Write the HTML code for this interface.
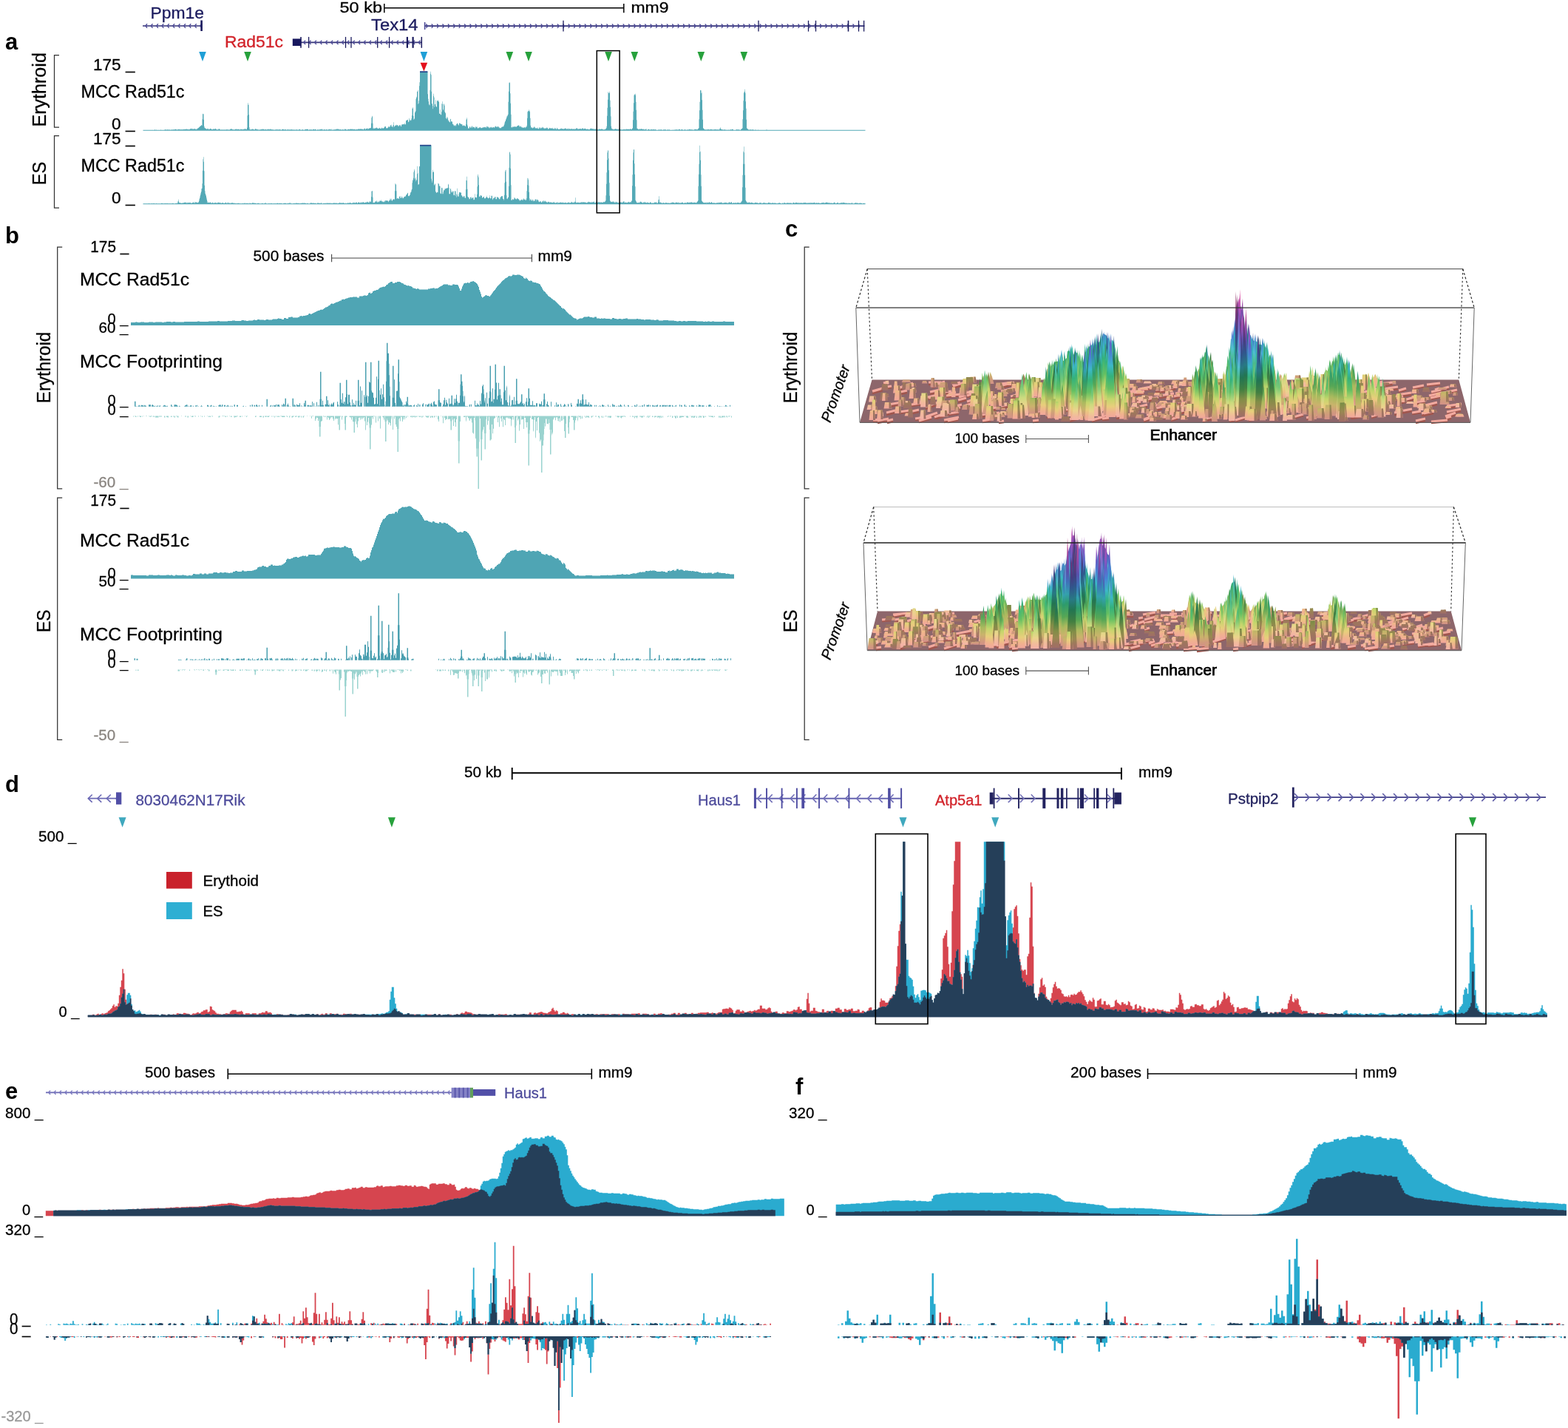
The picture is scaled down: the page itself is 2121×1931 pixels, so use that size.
<!DOCTYPE html>
<html><head><meta charset="utf-8"><title>Figure</title>
<style>html,body{margin:0;padding:0;background:#fff}svg{display:block}text{font-family:"Liberation Sans", sans-serif}</style>
</head><body>
<svg width="2121" height="1931" viewBox="0 0 2121 1931">
<defs><linearGradient id="g1a" x1="0" y1="1" x2="0" y2="0"><stop offset="0.00" stop-color="#a06e67"/><stop offset="0.67" stop-color="#9e755e"/><stop offset="1.00" stop-color="#9c7c59"/></linearGradient>
<linearGradient id="g1b" x1="0" y1="1" x2="0" y2="0"><stop offset="0.00" stop-color="#d39188"/><stop offset="0.67" stop-color="#d19b7c"/><stop offset="1.00" stop-color="#cea476"/></linearGradient>
<linearGradient id="g1c" x1="0" y1="1" x2="0" y2="0"><stop offset="0.00" stop-color="#f2a79c"/><stop offset="0.67" stop-color="#f0b28e"/><stop offset="1.00" stop-color="#edbc87"/></linearGradient>
<linearGradient id="g1d" x1="0" y1="1" x2="0" y2="0"><stop offset="0.00" stop-color="#f4b2a8"/><stop offset="0.67" stop-color="#f2bb9c"/><stop offset="1.00" stop-color="#efc496"/></linearGradient>
<linearGradient id="g2a" x1="0" y1="1" x2="0" y2="0"><stop offset="0.00" stop-color="#a06e67"/><stop offset="0.33" stop-color="#9e755e"/><stop offset="0.78" stop-color="#998852"/><stop offset="1.00" stop-color="#908a4e"/></linearGradient>
<linearGradient id="g2b" x1="0" y1="1" x2="0" y2="0"><stop offset="0.00" stop-color="#d39188"/><stop offset="0.33" stop-color="#d19b7c"/><stop offset="0.78" stop-color="#cab36c"/><stop offset="1.00" stop-color="#bdb666"/></linearGradient>
<linearGradient id="g2c" x1="0" y1="1" x2="0" y2="0"><stop offset="0.00" stop-color="#f2a79c"/><stop offset="0.33" stop-color="#f0b28e"/><stop offset="0.78" stop-color="#e8ce7c"/><stop offset="1.00" stop-color="#dad176"/></linearGradient>
<linearGradient id="g2d" x1="0" y1="1" x2="0" y2="0"><stop offset="0.00" stop-color="#f4b2a8"/><stop offset="0.33" stop-color="#f2bb9c"/><stop offset="0.78" stop-color="#ebd48c"/><stop offset="1.00" stop-color="#ded786"/></linearGradient>
<linearGradient id="g3a" x1="0" y1="1" x2="0" y2="0"><stop offset="0.00" stop-color="#a06e67"/><stop offset="0.22" stop-color="#9e755e"/><stop offset="0.52" stop-color="#998852"/><stop offset="0.89" stop-color="#818d47"/><stop offset="1.00" stop-color="#748a46"/></linearGradient>
<linearGradient id="g3b" x1="0" y1="1" x2="0" y2="0"><stop offset="0.00" stop-color="#d39188"/><stop offset="0.22" stop-color="#d19b7c"/><stop offset="0.52" stop-color="#cab36c"/><stop offset="0.89" stop-color="#abba5e"/><stop offset="1.00" stop-color="#99b65c"/></linearGradient>
<linearGradient id="g3c" x1="0" y1="1" x2="0" y2="0"><stop offset="0.00" stop-color="#f2a79c"/><stop offset="0.22" stop-color="#f0b28e"/><stop offset="0.52" stop-color="#e8ce7c"/><stop offset="0.89" stop-color="#c4d66c"/><stop offset="1.00" stop-color="#afd16a"/></linearGradient>
<linearGradient id="g3d" x1="0" y1="1" x2="0" y2="0"><stop offset="0.00" stop-color="#f4b2a8"/><stop offset="0.22" stop-color="#f2bb9c"/><stop offset="0.52" stop-color="#ebd48c"/><stop offset="0.89" stop-color="#cbdb7e"/><stop offset="1.00" stop-color="#b9d77c"/></linearGradient>
<linearGradient id="g4a" x1="0" y1="1" x2="0" y2="0"><stop offset="0.00" stop-color="#a06e67"/><stop offset="0.17" stop-color="#9e755e"/><stop offset="0.39" stop-color="#998852"/><stop offset="0.67" stop-color="#818d47"/><stop offset="1.00" stop-color="#4b8142"/></linearGradient>
<linearGradient id="g4b" x1="0" y1="1" x2="0" y2="0"><stop offset="0.00" stop-color="#d39188"/><stop offset="0.17" stop-color="#d19b7c"/><stop offset="0.39" stop-color="#cab36c"/><stop offset="0.67" stop-color="#abba5e"/><stop offset="1.00" stop-color="#63aa57"/></linearGradient>
<linearGradient id="g4c" x1="0" y1="1" x2="0" y2="0"><stop offset="0.00" stop-color="#f2a79c"/><stop offset="0.17" stop-color="#f0b28e"/><stop offset="0.39" stop-color="#e8ce7c"/><stop offset="0.67" stop-color="#c4d66c"/><stop offset="1.00" stop-color="#72c363"/></linearGradient>
<linearGradient id="g4d" x1="0" y1="1" x2="0" y2="0"><stop offset="0.00" stop-color="#f4b2a8"/><stop offset="0.17" stop-color="#f2bb9c"/><stop offset="0.39" stop-color="#ebd48c"/><stop offset="0.67" stop-color="#cbdb7e"/><stop offset="1.00" stop-color="#83ca76"/></linearGradient>
<linearGradient id="g5a" x1="0" y1="1" x2="0" y2="0"><stop offset="0.00" stop-color="#a06e67"/><stop offset="0.13" stop-color="#9e755e"/><stop offset="0.31" stop-color="#998852"/><stop offset="0.53" stop-color="#818d47"/><stop offset="0.84" stop-color="#427f41"/><stop offset="1.00" stop-color="#347b48"/></linearGradient>
<linearGradient id="g5b" x1="0" y1="1" x2="0" y2="0"><stop offset="0.00" stop-color="#d39188"/><stop offset="0.13" stop-color="#d19b7c"/><stop offset="0.31" stop-color="#cab36c"/><stop offset="0.53" stop-color="#abba5e"/><stop offset="0.84" stop-color="#57a755"/><stop offset="1.00" stop-color="#45a25f"/></linearGradient>
<linearGradient id="g5c" x1="0" y1="1" x2="0" y2="0"><stop offset="0.00" stop-color="#f2a79c"/><stop offset="0.13" stop-color="#f0b28e"/><stop offset="0.31" stop-color="#e8ce7c"/><stop offset="0.53" stop-color="#c4d66c"/><stop offset="0.84" stop-color="#64c062"/><stop offset="1.00" stop-color="#4fba6d"/></linearGradient>
<linearGradient id="g5d" x1="0" y1="1" x2="0" y2="0"><stop offset="0.00" stop-color="#f4b2a8"/><stop offset="0.13" stop-color="#f2bb9c"/><stop offset="0.31" stop-color="#ebd48c"/><stop offset="0.53" stop-color="#cbdb7e"/><stop offset="0.84" stop-color="#77c875"/><stop offset="1.00" stop-color="#64c27f"/></linearGradient>
<linearGradient id="g6a" x1="0" y1="1" x2="0" y2="0"><stop offset="0.00" stop-color="#a06e67"/><stop offset="0.11" stop-color="#9e755e"/><stop offset="0.26" stop-color="#998852"/><stop offset="0.44" stop-color="#818d47"/><stop offset="0.70" stop-color="#427f41"/><stop offset="1.00" stop-color="#227552"/></linearGradient>
<linearGradient id="g6b" x1="0" y1="1" x2="0" y2="0"><stop offset="0.00" stop-color="#d39188"/><stop offset="0.11" stop-color="#d19b7c"/><stop offset="0.26" stop-color="#cab36c"/><stop offset="0.44" stop-color="#abba5e"/><stop offset="0.70" stop-color="#57a755"/><stop offset="1.00" stop-color="#2d9b6c"/></linearGradient>
<linearGradient id="g6c" x1="0" y1="1" x2="0" y2="0"><stop offset="0.00" stop-color="#f2a79c"/><stop offset="0.11" stop-color="#f0b28e"/><stop offset="0.26" stop-color="#e8ce7c"/><stop offset="0.44" stop-color="#c4d66c"/><stop offset="0.70" stop-color="#64c062"/><stop offset="1.00" stop-color="#34b27c"/></linearGradient>
<linearGradient id="g6d" x1="0" y1="1" x2="0" y2="0"><stop offset="0.00" stop-color="#f4b2a8"/><stop offset="0.11" stop-color="#f2bb9c"/><stop offset="0.26" stop-color="#ebd48c"/><stop offset="0.44" stop-color="#cbdb7e"/><stop offset="0.70" stop-color="#77c875"/><stop offset="1.00" stop-color="#4cbb8c"/></linearGradient>
<linearGradient id="g7a" x1="0" y1="1" x2="0" y2="0"><stop offset="0.00" stop-color="#a06e67"/><stop offset="0.10" stop-color="#9e755e"/><stop offset="0.22" stop-color="#998852"/><stop offset="0.38" stop-color="#818d47"/><stop offset="0.60" stop-color="#427f41"/><stop offset="0.86" stop-color="#227552"/><stop offset="1.00" stop-color="#267872"/></linearGradient>
<linearGradient id="g7b" x1="0" y1="1" x2="0" y2="0"><stop offset="0.00" stop-color="#d39188"/><stop offset="0.10" stop-color="#d19b7c"/><stop offset="0.22" stop-color="#cab36c"/><stop offset="0.38" stop-color="#abba5e"/><stop offset="0.60" stop-color="#57a755"/><stop offset="0.86" stop-color="#2d9b6c"/><stop offset="1.00" stop-color="#329e96"/></linearGradient>
<linearGradient id="g7c" x1="0" y1="1" x2="0" y2="0"><stop offset="0.00" stop-color="#f2a79c"/><stop offset="0.10" stop-color="#f0b28e"/><stop offset="0.22" stop-color="#e8ce7c"/><stop offset="0.38" stop-color="#c4d66c"/><stop offset="0.60" stop-color="#64c062"/><stop offset="0.86" stop-color="#34b27c"/><stop offset="1.00" stop-color="#39b6ad"/></linearGradient>
<linearGradient id="g7d" x1="0" y1="1" x2="0" y2="0"><stop offset="0.00" stop-color="#f4b2a8"/><stop offset="0.10" stop-color="#f2bb9c"/><stop offset="0.22" stop-color="#ebd48c"/><stop offset="0.38" stop-color="#cbdb7e"/><stop offset="0.60" stop-color="#77c875"/><stop offset="0.86" stop-color="#4cbb8c"/><stop offset="1.00" stop-color="#51bfb7"/></linearGradient>
<linearGradient id="g8a" x1="0" y1="1" x2="0" y2="0"><stop offset="0.00" stop-color="#a06e67"/><stop offset="0.08" stop-color="#9e755e"/><stop offset="0.19" stop-color="#998852"/><stop offset="0.33" stop-color="#818d47"/><stop offset="0.53" stop-color="#427f41"/><stop offset="0.75" stop-color="#227552"/><stop offset="0.94" stop-color="#287984"/><stop offset="1.00" stop-color="#2a7186"/></linearGradient>
<linearGradient id="g8b" x1="0" y1="1" x2="0" y2="0"><stop offset="0.00" stop-color="#d39188"/><stop offset="0.08" stop-color="#d19b7c"/><stop offset="0.19" stop-color="#cab36c"/><stop offset="0.33" stop-color="#abba5e"/><stop offset="0.53" stop-color="#57a755"/><stop offset="0.75" stop-color="#2d9b6c"/><stop offset="0.94" stop-color="#34a0ae"/><stop offset="1.00" stop-color="#3794b1"/></linearGradient>
<linearGradient id="g8c" x1="0" y1="1" x2="0" y2="0"><stop offset="0.00" stop-color="#f2a79c"/><stop offset="0.08" stop-color="#f0b28e"/><stop offset="0.19" stop-color="#e8ce7c"/><stop offset="0.33" stop-color="#c4d66c"/><stop offset="0.53" stop-color="#64c062"/><stop offset="0.75" stop-color="#34b27c"/><stop offset="0.94" stop-color="#3cb8c8"/><stop offset="1.00" stop-color="#3faacb"/></linearGradient>
<linearGradient id="g8d" x1="0" y1="1" x2="0" y2="0"><stop offset="0.00" stop-color="#f4b2a8"/><stop offset="0.08" stop-color="#f2bb9c"/><stop offset="0.19" stop-color="#ebd48c"/><stop offset="0.33" stop-color="#cbdb7e"/><stop offset="0.53" stop-color="#77c875"/><stop offset="0.75" stop-color="#4cbb8c"/><stop offset="0.94" stop-color="#53c1cf"/><stop offset="1.00" stop-color="#56b5d1"/></linearGradient>
<linearGradient id="g9a" x1="0" y1="1" x2="0" y2="0"><stop offset="0.00" stop-color="#a06e67"/><stop offset="0.07" stop-color="#9e755e"/><stop offset="0.17" stop-color="#998852"/><stop offset="0.30" stop-color="#818d47"/><stop offset="0.47" stop-color="#427f41"/><stop offset="0.67" stop-color="#227552"/><stop offset="0.84" stop-color="#287984"/><stop offset="1.00" stop-color="#2e5c8a"/></linearGradient>
<linearGradient id="g9b" x1="0" y1="1" x2="0" y2="0"><stop offset="0.00" stop-color="#d39188"/><stop offset="0.07" stop-color="#d19b7c"/><stop offset="0.17" stop-color="#cab36c"/><stop offset="0.30" stop-color="#abba5e"/><stop offset="0.47" stop-color="#57a755"/><stop offset="0.67" stop-color="#2d9b6c"/><stop offset="0.84" stop-color="#34a0ae"/><stop offset="1.00" stop-color="#3d7ab6"/></linearGradient>
<linearGradient id="g9c" x1="0" y1="1" x2="0" y2="0"><stop offset="0.00" stop-color="#f2a79c"/><stop offset="0.07" stop-color="#f0b28e"/><stop offset="0.17" stop-color="#e8ce7c"/><stop offset="0.30" stop-color="#c4d66c"/><stop offset="0.47" stop-color="#64c062"/><stop offset="0.67" stop-color="#34b27c"/><stop offset="0.84" stop-color="#3cb8c8"/><stop offset="1.00" stop-color="#468cd2"/></linearGradient>
<linearGradient id="g9d" x1="0" y1="1" x2="0" y2="0"><stop offset="0.00" stop-color="#f4b2a8"/><stop offset="0.07" stop-color="#f2bb9c"/><stop offset="0.17" stop-color="#ebd48c"/><stop offset="0.30" stop-color="#cbdb7e"/><stop offset="0.47" stop-color="#77c875"/><stop offset="0.67" stop-color="#4cbb8c"/><stop offset="0.84" stop-color="#53c1cf"/><stop offset="1.00" stop-color="#5c9ad7"/></linearGradient>
<linearGradient id="g10a" x1="0" y1="1" x2="0" y2="0"><stop offset="0.00" stop-color="#a06e67"/><stop offset="0.07" stop-color="#9e755e"/><stop offset="0.16" stop-color="#998852"/><stop offset="0.27" stop-color="#818d47"/><stop offset="0.42" stop-color="#427f41"/><stop offset="0.60" stop-color="#227552"/><stop offset="0.76" stop-color="#287984"/><stop offset="0.93" stop-color="#30568c"/><stop offset="1.00" stop-color="#394b87"/></linearGradient>
<linearGradient id="g10b" x1="0" y1="1" x2="0" y2="0"><stop offset="0.00" stop-color="#d39188"/><stop offset="0.07" stop-color="#d19b7c"/><stop offset="0.16" stop-color="#cab36c"/><stop offset="0.27" stop-color="#abba5e"/><stop offset="0.42" stop-color="#57a755"/><stop offset="0.60" stop-color="#2d9b6c"/><stop offset="0.76" stop-color="#34a0ae"/><stop offset="0.93" stop-color="#3f71b8"/><stop offset="1.00" stop-color="#4b63b2"/></linearGradient>
<linearGradient id="g10c" x1="0" y1="1" x2="0" y2="0"><stop offset="0.00" stop-color="#f2a79c"/><stop offset="0.07" stop-color="#f0b28e"/><stop offset="0.16" stop-color="#e8ce7c"/><stop offset="0.27" stop-color="#c4d66c"/><stop offset="0.42" stop-color="#64c062"/><stop offset="0.60" stop-color="#34b27c"/><stop offset="0.76" stop-color="#3cb8c8"/><stop offset="0.93" stop-color="#4882d4"/><stop offset="1.00" stop-color="#5672cd"/></linearGradient>
<linearGradient id="g10d" x1="0" y1="1" x2="0" y2="0"><stop offset="0.00" stop-color="#f4b2a8"/><stop offset="0.07" stop-color="#f2bb9c"/><stop offset="0.16" stop-color="#ebd48c"/><stop offset="0.27" stop-color="#cbdb7e"/><stop offset="0.42" stop-color="#77c875"/><stop offset="0.60" stop-color="#4cbb8c"/><stop offset="0.76" stop-color="#53c1cf"/><stop offset="0.93" stop-color="#5e91d9"/><stop offset="1.00" stop-color="#6a83d3"/></linearGradient>
<linearGradient id="g11a" x1="0" y1="1" x2="0" y2="0"><stop offset="0.00" stop-color="#a06e67"/><stop offset="0.06" stop-color="#9e755e"/><stop offset="0.14" stop-color="#998852"/><stop offset="0.24" stop-color="#818d47"/><stop offset="0.38" stop-color="#427f41"/><stop offset="0.55" stop-color="#227552"/><stop offset="0.69" stop-color="#287984"/><stop offset="0.85" stop-color="#30568c"/><stop offset="1.00" stop-color="#473c81"/></linearGradient>
<linearGradient id="g11b" x1="0" y1="1" x2="0" y2="0"><stop offset="0.00" stop-color="#d39188"/><stop offset="0.06" stop-color="#d19b7c"/><stop offset="0.14" stop-color="#cab36c"/><stop offset="0.24" stop-color="#abba5e"/><stop offset="0.38" stop-color="#57a755"/><stop offset="0.55" stop-color="#2d9b6c"/><stop offset="0.69" stop-color="#34a0ae"/><stop offset="0.85" stop-color="#3f71b8"/><stop offset="1.00" stop-color="#5e4faa"/></linearGradient>
<linearGradient id="g11c" x1="0" y1="1" x2="0" y2="0"><stop offset="0.00" stop-color="#f2a79c"/><stop offset="0.06" stop-color="#f0b28e"/><stop offset="0.14" stop-color="#e8ce7c"/><stop offset="0.24" stop-color="#c4d66c"/><stop offset="0.38" stop-color="#64c062"/><stop offset="0.55" stop-color="#34b27c"/><stop offset="0.69" stop-color="#3cb8c8"/><stop offset="0.85" stop-color="#4882d4"/><stop offset="1.00" stop-color="#6c5bc4"/></linearGradient>
<linearGradient id="g11d" x1="0" y1="1" x2="0" y2="0"><stop offset="0.00" stop-color="#f4b2a8"/><stop offset="0.06" stop-color="#f2bb9c"/><stop offset="0.14" stop-color="#ebd48c"/><stop offset="0.24" stop-color="#cbdb7e"/><stop offset="0.38" stop-color="#77c875"/><stop offset="0.55" stop-color="#4cbb8c"/><stop offset="0.69" stop-color="#53c1cf"/><stop offset="0.85" stop-color="#5e91d9"/><stop offset="1.00" stop-color="#7d6fcb"/></linearGradient>
<linearGradient id="g12a" x1="0" y1="1" x2="0" y2="0"><stop offset="0.00" stop-color="#a06e67"/><stop offset="0.06" stop-color="#9e755e"/><stop offset="0.13" stop-color="#998852"/><stop offset="0.22" stop-color="#818d47"/><stop offset="0.35" stop-color="#427f41"/><stop offset="0.50" stop-color="#227552"/><stop offset="0.63" stop-color="#287984"/><stop offset="0.78" stop-color="#30568c"/><stop offset="0.91" stop-color="#453d81"/><stop offset="1.00" stop-color="#5c397e"/></linearGradient>
<linearGradient id="g12b" x1="0" y1="1" x2="0" y2="0"><stop offset="0.00" stop-color="#d39188"/><stop offset="0.06" stop-color="#d19b7c"/><stop offset="0.13" stop-color="#cab36c"/><stop offset="0.22" stop-color="#abba5e"/><stop offset="0.35" stop-color="#57a755"/><stop offset="0.50" stop-color="#2d9b6c"/><stop offset="0.63" stop-color="#34a0ae"/><stop offset="0.78" stop-color="#3f71b8"/><stop offset="0.91" stop-color="#5a50ab"/><stop offset="1.00" stop-color="#794ba6"/></linearGradient>
<linearGradient id="g12c" x1="0" y1="1" x2="0" y2="0"><stop offset="0.00" stop-color="#f2a79c"/><stop offset="0.06" stop-color="#f0b28e"/><stop offset="0.13" stop-color="#e8ce7c"/><stop offset="0.22" stop-color="#c4d66c"/><stop offset="0.35" stop-color="#64c062"/><stop offset="0.50" stop-color="#34b27c"/><stop offset="0.63" stop-color="#3cb8c8"/><stop offset="0.78" stop-color="#4882d4"/><stop offset="0.91" stop-color="#685cc4"/><stop offset="1.00" stop-color="#8b56bf"/></linearGradient>
<linearGradient id="g12d" x1="0" y1="1" x2="0" y2="0"><stop offset="0.00" stop-color="#f4b2a8"/><stop offset="0.06" stop-color="#f2bb9c"/><stop offset="0.13" stop-color="#ebd48c"/><stop offset="0.22" stop-color="#cbdb7e"/><stop offset="0.35" stop-color="#77c875"/><stop offset="0.50" stop-color="#4cbb8c"/><stop offset="0.63" stop-color="#53c1cf"/><stop offset="0.78" stop-color="#5e91d9"/><stop offset="0.91" stop-color="#7a70cb"/><stop offset="1.00" stop-color="#996ac7"/></linearGradient>
<linearGradient id="g13a" x1="0" y1="1" x2="0" y2="0"><stop offset="0.00" stop-color="#a06e67"/><stop offset="0.05" stop-color="#9e755e"/><stop offset="0.12" stop-color="#998852"/><stop offset="0.21" stop-color="#818d47"/><stop offset="0.32" stop-color="#427f41"/><stop offset="0.46" stop-color="#227552"/><stop offset="0.58" stop-color="#287984"/><stop offset="0.72" stop-color="#30568c"/><stop offset="0.84" stop-color="#453d81"/><stop offset="0.97" stop-color="#6a367c"/><stop offset="1.00" stop-color="#70377a"/></linearGradient>
<linearGradient id="g13b" x1="0" y1="1" x2="0" y2="0"><stop offset="0.00" stop-color="#d39188"/><stop offset="0.05" stop-color="#d19b7c"/><stop offset="0.12" stop-color="#cab36c"/><stop offset="0.21" stop-color="#abba5e"/><stop offset="0.32" stop-color="#57a755"/><stop offset="0.46" stop-color="#2d9b6c"/><stop offset="0.58" stop-color="#34a0ae"/><stop offset="0.72" stop-color="#3f71b8"/><stop offset="0.84" stop-color="#5a50ab"/><stop offset="0.97" stop-color="#8b47a4"/><stop offset="1.00" stop-color="#9449a1"/></linearGradient>
<linearGradient id="g13c" x1="0" y1="1" x2="0" y2="0"><stop offset="0.00" stop-color="#f2a79c"/><stop offset="0.05" stop-color="#f0b28e"/><stop offset="0.12" stop-color="#e8ce7c"/><stop offset="0.21" stop-color="#c4d66c"/><stop offset="0.32" stop-color="#64c062"/><stop offset="0.46" stop-color="#34b27c"/><stop offset="0.58" stop-color="#3cb8c8"/><stop offset="0.72" stop-color="#4882d4"/><stop offset="0.84" stop-color="#685cc4"/><stop offset="0.97" stop-color="#a052bc"/><stop offset="1.00" stop-color="#aa54b9"/></linearGradient>
<linearGradient id="g13d" x1="0" y1="1" x2="0" y2="0"><stop offset="0.00" stop-color="#f4b2a8"/><stop offset="0.05" stop-color="#f2bb9c"/><stop offset="0.12" stop-color="#ebd48c"/><stop offset="0.21" stop-color="#cbdb7e"/><stop offset="0.32" stop-color="#77c875"/><stop offset="0.46" stop-color="#4cbb8c"/><stop offset="0.58" stop-color="#53c1cf"/><stop offset="0.72" stop-color="#5e91d9"/><stop offset="0.84" stop-color="#7a70cb"/><stop offset="0.97" stop-color="#ab67c4"/><stop offset="1.00" stop-color="#b468c2"/></linearGradient>
<linearGradient id="g14a" x1="0" y1="1" x2="0" y2="0"><stop offset="0.00" stop-color="#a06e67"/><stop offset="0.05" stop-color="#9e755e"/><stop offset="0.11" stop-color="#998852"/><stop offset="0.19" stop-color="#818d47"/><stop offset="0.30" stop-color="#427f41"/><stop offset="0.43" stop-color="#227552"/><stop offset="0.54" stop-color="#287984"/><stop offset="0.67" stop-color="#30568c"/><stop offset="0.78" stop-color="#453d81"/><stop offset="0.90" stop-color="#6a367c"/><stop offset="1.00" stop-color="#843a75"/></linearGradient>
<linearGradient id="g14b" x1="0" y1="1" x2="0" y2="0"><stop offset="0.00" stop-color="#d39188"/><stop offset="0.05" stop-color="#d19b7c"/><stop offset="0.11" stop-color="#cab36c"/><stop offset="0.19" stop-color="#abba5e"/><stop offset="0.30" stop-color="#57a755"/><stop offset="0.43" stop-color="#2d9b6c"/><stop offset="0.54" stop-color="#34a0ae"/><stop offset="0.67" stop-color="#3f71b8"/><stop offset="0.78" stop-color="#5a50ab"/><stop offset="0.90" stop-color="#8b47a4"/><stop offset="1.00" stop-color="#ae4d9a"/></linearGradient>
<linearGradient id="g14c" x1="0" y1="1" x2="0" y2="0"><stop offset="0.00" stop-color="#f2a79c"/><stop offset="0.05" stop-color="#f0b28e"/><stop offset="0.11" stop-color="#e8ce7c"/><stop offset="0.19" stop-color="#c4d66c"/><stop offset="0.30" stop-color="#64c062"/><stop offset="0.43" stop-color="#34b27c"/><stop offset="0.54" stop-color="#3cb8c8"/><stop offset="0.67" stop-color="#4882d4"/><stop offset="0.78" stop-color="#685cc4"/><stop offset="0.90" stop-color="#a052bc"/><stop offset="1.00" stop-color="#c858b1"/></linearGradient>
<linearGradient id="g14d" x1="0" y1="1" x2="0" y2="0"><stop offset="0.00" stop-color="#f4b2a8"/><stop offset="0.05" stop-color="#f2bb9c"/><stop offset="0.11" stop-color="#ebd48c"/><stop offset="0.19" stop-color="#cbdb7e"/><stop offset="0.30" stop-color="#77c875"/><stop offset="0.43" stop-color="#4cbb8c"/><stop offset="0.54" stop-color="#53c1cf"/><stop offset="0.67" stop-color="#5e91d9"/><stop offset="0.78" stop-color="#7a70cb"/><stop offset="0.90" stop-color="#ab67c4"/><stop offset="1.00" stop-color="#ce6cbb"/></linearGradient>
<linearGradient id="g15a" x1="0" y1="1" x2="0" y2="0"><stop offset="0.00" stop-color="#a06e67"/><stop offset="0.04" stop-color="#9e755e"/><stop offset="0.10" stop-color="#998852"/><stop offset="0.18" stop-color="#818d47"/><stop offset="0.28" stop-color="#427f41"/><stop offset="0.40" stop-color="#227552"/><stop offset="0.50" stop-color="#287984"/><stop offset="0.62" stop-color="#30568c"/><stop offset="0.73" stop-color="#453d81"/><stop offset="0.84" stop-color="#6a367c"/><stop offset="1.00" stop-color="#953d70"/></linearGradient>
<linearGradient id="g15b" x1="0" y1="1" x2="0" y2="0"><stop offset="0.00" stop-color="#d39188"/><stop offset="0.04" stop-color="#d19b7c"/><stop offset="0.10" stop-color="#cab36c"/><stop offset="0.18" stop-color="#abba5e"/><stop offset="0.28" stop-color="#57a755"/><stop offset="0.40" stop-color="#2d9b6c"/><stop offset="0.50" stop-color="#34a0ae"/><stop offset="0.62" stop-color="#3f71b8"/><stop offset="0.73" stop-color="#5a50ab"/><stop offset="0.84" stop-color="#8b47a4"/><stop offset="1.00" stop-color="#c55094"/></linearGradient>
<linearGradient id="g15c" x1="0" y1="1" x2="0" y2="0"><stop offset="0.00" stop-color="#f2a79c"/><stop offset="0.04" stop-color="#f0b28e"/><stop offset="0.10" stop-color="#e8ce7c"/><stop offset="0.18" stop-color="#c4d66c"/><stop offset="0.28" stop-color="#64c062"/><stop offset="0.40" stop-color="#34b27c"/><stop offset="0.50" stop-color="#3cb8c8"/><stop offset="0.62" stop-color="#4882d4"/><stop offset="0.73" stop-color="#685cc4"/><stop offset="0.84" stop-color="#a052bc"/><stop offset="1.00" stop-color="#e25caa"/></linearGradient>
<linearGradient id="g15d" x1="0" y1="1" x2="0" y2="0"><stop offset="0.00" stop-color="#f4b2a8"/><stop offset="0.04" stop-color="#f2bb9c"/><stop offset="0.10" stop-color="#ebd48c"/><stop offset="0.18" stop-color="#cbdb7e"/><stop offset="0.28" stop-color="#77c875"/><stop offset="0.40" stop-color="#4cbb8c"/><stop offset="0.50" stop-color="#53c1cf"/><stop offset="0.62" stop-color="#5e91d9"/><stop offset="0.73" stop-color="#7a70cb"/><stop offset="0.84" stop-color="#ab67c4"/><stop offset="1.00" stop-color="#e570b4"/></linearGradient>
<linearGradient id="g16a" x1="0" y1="1" x2="0" y2="0"><stop offset="0.00" stop-color="#a06e67"/><stop offset="0.04" stop-color="#9e755e"/><stop offset="0.10" stop-color="#998852"/><stop offset="0.17" stop-color="#818d47"/><stop offset="0.26" stop-color="#427f41"/><stop offset="0.38" stop-color="#227552"/><stop offset="0.47" stop-color="#287984"/><stop offset="0.58" stop-color="#30568c"/><stop offset="0.68" stop-color="#453d81"/><stop offset="0.79" stop-color="#6a367c"/><stop offset="0.93" stop-color="#953d70"/><stop offset="1.00" stop-color="#953d70"/></linearGradient>
<linearGradient id="g16b" x1="0" y1="1" x2="0" y2="0"><stop offset="0.00" stop-color="#d39188"/><stop offset="0.04" stop-color="#d19b7c"/><stop offset="0.10" stop-color="#cab36c"/><stop offset="0.17" stop-color="#abba5e"/><stop offset="0.26" stop-color="#57a755"/><stop offset="0.38" stop-color="#2d9b6c"/><stop offset="0.47" stop-color="#34a0ae"/><stop offset="0.58" stop-color="#3f71b8"/><stop offset="0.68" stop-color="#5a50ab"/><stop offset="0.79" stop-color="#8b47a4"/><stop offset="0.93" stop-color="#c55094"/><stop offset="1.00" stop-color="#c55094"/></linearGradient>
<linearGradient id="g16c" x1="0" y1="1" x2="0" y2="0"><stop offset="0.00" stop-color="#f2a79c"/><stop offset="0.04" stop-color="#f0b28e"/><stop offset="0.10" stop-color="#e8ce7c"/><stop offset="0.17" stop-color="#c4d66c"/><stop offset="0.26" stop-color="#64c062"/><stop offset="0.38" stop-color="#34b27c"/><stop offset="0.47" stop-color="#3cb8c8"/><stop offset="0.58" stop-color="#4882d4"/><stop offset="0.68" stop-color="#685cc4"/><stop offset="0.79" stop-color="#a052bc"/><stop offset="0.93" stop-color="#e25caa"/><stop offset="1.00" stop-color="#e25caa"/></linearGradient>
<linearGradient id="g16d" x1="0" y1="1" x2="0" y2="0"><stop offset="0.00" stop-color="#f4b2a8"/><stop offset="0.04" stop-color="#f2bb9c"/><stop offset="0.10" stop-color="#ebd48c"/><stop offset="0.17" stop-color="#cbdb7e"/><stop offset="0.26" stop-color="#77c875"/><stop offset="0.38" stop-color="#4cbb8c"/><stop offset="0.47" stop-color="#53c1cf"/><stop offset="0.58" stop-color="#5e91d9"/><stop offset="0.68" stop-color="#7a70cb"/><stop offset="0.79" stop-color="#ab67c4"/><stop offset="0.93" stop-color="#e570b4"/><stop offset="1.00" stop-color="#e570b4"/></linearGradient>
<linearGradient id="g17a" x1="0" y1="1" x2="0" y2="0"><stop offset="0.00" stop-color="#a06e67"/><stop offset="0.04" stop-color="#9e755e"/><stop offset="0.09" stop-color="#998852"/><stop offset="0.16" stop-color="#818d47"/><stop offset="0.25" stop-color="#427f41"/><stop offset="0.35" stop-color="#227552"/><stop offset="0.44" stop-color="#287984"/><stop offset="0.55" stop-color="#30568c"/><stop offset="0.64" stop-color="#453d81"/><stop offset="0.75" stop-color="#6a367c"/><stop offset="0.88" stop-color="#953d70"/><stop offset="1.00" stop-color="#953d70"/></linearGradient>
<linearGradient id="g17b" x1="0" y1="1" x2="0" y2="0"><stop offset="0.00" stop-color="#d39188"/><stop offset="0.04" stop-color="#d19b7c"/><stop offset="0.09" stop-color="#cab36c"/><stop offset="0.16" stop-color="#abba5e"/><stop offset="0.25" stop-color="#57a755"/><stop offset="0.35" stop-color="#2d9b6c"/><stop offset="0.44" stop-color="#34a0ae"/><stop offset="0.55" stop-color="#3f71b8"/><stop offset="0.64" stop-color="#5a50ab"/><stop offset="0.75" stop-color="#8b47a4"/><stop offset="0.88" stop-color="#c55094"/><stop offset="1.00" stop-color="#c55094"/></linearGradient>
<linearGradient id="g17c" x1="0" y1="1" x2="0" y2="0"><stop offset="0.00" stop-color="#f2a79c"/><stop offset="0.04" stop-color="#f0b28e"/><stop offset="0.09" stop-color="#e8ce7c"/><stop offset="0.16" stop-color="#c4d66c"/><stop offset="0.25" stop-color="#64c062"/><stop offset="0.35" stop-color="#34b27c"/><stop offset="0.44" stop-color="#3cb8c8"/><stop offset="0.55" stop-color="#4882d4"/><stop offset="0.64" stop-color="#685cc4"/><stop offset="0.75" stop-color="#a052bc"/><stop offset="0.88" stop-color="#e25caa"/><stop offset="1.00" stop-color="#e25caa"/></linearGradient>
<linearGradient id="g17d" x1="0" y1="1" x2="0" y2="0"><stop offset="0.00" stop-color="#f4b2a8"/><stop offset="0.04" stop-color="#f2bb9c"/><stop offset="0.09" stop-color="#ebd48c"/><stop offset="0.16" stop-color="#cbdb7e"/><stop offset="0.25" stop-color="#77c875"/><stop offset="0.35" stop-color="#4cbb8c"/><stop offset="0.44" stop-color="#53c1cf"/><stop offset="0.55" stop-color="#5e91d9"/><stop offset="0.64" stop-color="#7a70cb"/><stop offset="0.75" stop-color="#ab67c4"/><stop offset="0.88" stop-color="#e570b4"/><stop offset="1.00" stop-color="#e570b4"/></linearGradient>
<style>.k1a{fill:url(#g1a)}.k1b{fill:url(#g1b)}.k1c{fill:url(#g1c)}.k1d{fill:url(#g1d)}.k2a{fill:url(#g2a)}.k2b{fill:url(#g2b)}.k2c{fill:url(#g2c)}.k2d{fill:url(#g2d)}.k3a{fill:url(#g3a)}.k3b{fill:url(#g3b)}.k3c{fill:url(#g3c)}.k3d{fill:url(#g3d)}.k4a{fill:url(#g4a)}.k4b{fill:url(#g4b)}.k4c{fill:url(#g4c)}.k4d{fill:url(#g4d)}.k5a{fill:url(#g5a)}.k5b{fill:url(#g5b)}.k5c{fill:url(#g5c)}.k5d{fill:url(#g5d)}.k6a{fill:url(#g6a)}.k6b{fill:url(#g6b)}.k6c{fill:url(#g6c)}.k6d{fill:url(#g6d)}.k7a{fill:url(#g7a)}.k7b{fill:url(#g7b)}.k7c{fill:url(#g7c)}.k7d{fill:url(#g7d)}.k8a{fill:url(#g8a)}.k8b{fill:url(#g8b)}.k8c{fill:url(#g8c)}.k8d{fill:url(#g8d)}.k9a{fill:url(#g9a)}.k9b{fill:url(#g9b)}.k9c{fill:url(#g9c)}.k9d{fill:url(#g9d)}.k10a{fill:url(#g10a)}.k10b{fill:url(#g10b)}.k10c{fill:url(#g10c)}.k10d{fill:url(#g10d)}.k11a{fill:url(#g11a)}.k11b{fill:url(#g11b)}.k11c{fill:url(#g11c)}.k11d{fill:url(#g11d)}.k12a{fill:url(#g12a)}.k12b{fill:url(#g12b)}.k12c{fill:url(#g12c)}.k12d{fill:url(#g12d)}.k13a{fill:url(#g13a)}.k13b{fill:url(#g13b)}.k13c{fill:url(#g13c)}.k13d{fill:url(#g13d)}.k14a{fill:url(#g14a)}.k14b{fill:url(#g14b)}.k14c{fill:url(#g14c)}.k14d{fill:url(#g14d)}.k15a{fill:url(#g15a)}.k15b{fill:url(#g15b)}.k15c{fill:url(#g15c)}.k15d{fill:url(#g15d)}.k16a{fill:url(#g16a)}.k16b{fill:url(#g16b)}.k16c{fill:url(#g16c)}.k16d{fill:url(#g16d)}.k17a{fill:url(#g17a)}.k17b{fill:url(#g17b)}.k17c{fill:url(#g17c)}.k17d{fill:url(#g17d)}</style>
<linearGradient id="eb" gradientUnits="userSpaceOnUse" x1="0" y1="531.6" x2="0" y2="381.6"><stop offset="0.000" stop-color="#e69f94"/><stop offset="0.040" stop-color="#e4a987"/><stop offset="0.093" stop-color="#dcc476"/><stop offset="0.160" stop-color="#bacb67"/><stop offset="0.253" stop-color="#5fb65d"/><stop offset="0.360" stop-color="#31a976"/><stop offset="0.453" stop-color="#39afbe"/><stop offset="0.560" stop-color="#447cc9"/><stop offset="0.653" stop-color="#6357ba"/><stop offset="0.760" stop-color="#984eb3"/><stop offset="0.893" stop-color="#d757a2"/></linearGradient>
<linearGradient id="sb" gradientUnits="userSpaceOnUse" x1="0" y1="844.4" x2="0" y2="694.4"><stop offset="0.000" stop-color="#e69f94"/><stop offset="0.040" stop-color="#e4a987"/><stop offset="0.093" stop-color="#dcc476"/><stop offset="0.160" stop-color="#bacb67"/><stop offset="0.253" stop-color="#5fb65d"/><stop offset="0.360" stop-color="#31a976"/><stop offset="0.453" stop-color="#39afbe"/><stop offset="0.560" stop-color="#447cc9"/><stop offset="0.653" stop-color="#6357ba"/><stop offset="0.760" stop-color="#984eb3"/><stop offset="0.893" stop-color="#d757a2"/></linearGradient></defs>
<rect width="2121" height="1931" fill="#fff"/>
<text x="459.5" y="17.2" font-size="20.8" textLength="57.5" lengthAdjust="spacingAndGlyphs" stroke="#000" stroke-width=".3">50 kb</text>
<line x1="519.8" y1="10.8" x2="843.8" y2="10.8" stroke="#000" stroke-width="1.5" />
<line x1="519.8" y1="5" x2="519.8" y2="17.2" stroke="#000" stroke-width="1.5" />
<line x1="843.8" y1="5" x2="843.8" y2="17.2" stroke="#000" stroke-width="1.5" />
<text x="853.5" y="17.3" font-size="20.8" textLength="51" lengthAdjust="spacingAndGlyphs" stroke="#000" stroke-width=".3">mm9</text>
<text x="203.5" y="25" font-size="21.5" fill="#1b1b5e" textLength="72.5" lengthAdjust="spacingAndGlyphs" stroke="#1b1b5e" stroke-width=".3">Ppm1e</text>
<line x1="193" y1="35" x2="273" y2="35" stroke="#343278" stroke-width="1.7" />
<path d="M199.1 32.3L196.7 35.0L199.1 37.7M206.5 32.3L204.1 35.0L206.5 37.7M213.9 32.3L211.5 35.0L213.9 37.7M221.3 32.3L218.9 35.0L221.3 37.7M228.7 32.3L226.3 35.0L228.7 37.7M236.1 32.3L233.7 35.0L236.1 37.7M243.5 32.3L241.1 35.0L243.5 37.7M250.9 32.3L248.5 35.0L250.9 37.7M258.3 32.3L255.9 35.0L258.3 37.7M265.7 32.3L263.3 35.0L265.7 37.7M273.1 32.3L270.7 35.0L273.1 37.7" fill="none" stroke="#4e4c98" stroke-width="1.35" />
<line x1="272.6" y1="27.5" x2="272.6" y2="42" stroke="#1b1b5e" stroke-width="2.6" />
<text x="502" y="41" font-size="21.8" fill="#1b1b5e" textLength="63.5" lengthAdjust="spacingAndGlyphs" stroke="#1b1b5e" stroke-width=".3">Tex14</text>
<line x1="575" y1="35.2" x2="1169.5" y2="35.2" stroke="#343278" stroke-width="1.7" />
<path d="M576.3 32.5L578.7 35.2L576.3 37.9M583.7 32.5L586.1 35.2L583.7 37.9M591.1 32.5L593.5 35.2L591.1 37.9M598.5 32.5L600.9 35.2L598.5 37.9M605.9 32.5L608.3 35.2L605.9 37.9M613.3 32.5L615.7 35.2L613.3 37.9M620.7 32.5L623.1 35.2L620.7 37.9M628.1 32.5L630.5 35.2L628.1 37.9M635.5 32.5L637.9 35.2L635.5 37.9M642.9 32.5L645.3 35.2L642.9 37.9M650.3 32.5L652.7 35.2L650.3 37.9M657.7 32.5L660.1 35.2L657.7 37.9M665.1 32.5L667.5 35.2L665.1 37.9M672.5 32.5L674.9 35.2L672.5 37.9M679.9 32.5L682.3 35.2L679.9 37.9M687.3 32.5L689.7 35.2L687.3 37.9M694.7 32.5L697.1 35.2L694.7 37.9M702.1 32.5L704.5 35.2L702.1 37.9M709.5 32.5L711.9 35.2L709.5 37.9M716.9 32.5L719.3 35.2L716.9 37.9M724.3 32.5L726.7 35.2L724.3 37.9M731.7 32.5L734.1 35.2L731.7 37.9M739.1 32.5L741.5 35.2L739.1 37.9M746.5 32.5L748.9 35.2L746.5 37.9M753.9 32.5L756.3 35.2L753.9 37.9M761.3 32.5L763.7 35.2L761.3 37.9M768.7 32.5L771.1 35.2L768.7 37.9M776.1 32.5L778.5 35.2L776.1 37.9M783.5 32.5L785.9 35.2L783.5 37.9M790.9 32.5L793.3 35.2L790.9 37.9M798.3 32.5L800.7 35.2L798.3 37.9M805.7 32.5L808.1 35.2L805.7 37.9M813.1 32.5L815.5 35.2L813.1 37.9M820.5 32.5L822.9 35.2L820.5 37.9M827.9 32.5L830.3 35.2L827.9 37.9M835.3 32.5L837.7 35.2L835.3 37.9M842.7 32.5L845.1 35.2L842.7 37.9M850.1 32.5L852.5 35.2L850.1 37.9M857.5 32.5L859.9 35.2L857.5 37.9M864.9 32.5L867.3 35.2L864.9 37.9M872.3 32.5L874.7 35.2L872.3 37.9M879.7 32.5L882.1 35.2L879.7 37.9M887.1 32.5L889.5 35.2L887.1 37.9M894.5 32.5L896.9 35.2L894.5 37.9M901.9 32.5L904.3 35.2L901.9 37.9M909.3 32.5L911.7 35.2L909.3 37.9M916.7 32.5L919.1 35.2L916.7 37.9M924.1 32.5L926.5 35.2L924.1 37.9M931.5 32.5L933.9 35.2L931.5 37.9M938.9 32.5L941.3 35.2L938.9 37.9M946.3 32.5L948.7 35.2L946.3 37.9M953.7 32.5L956.1 35.2L953.7 37.9M961.1 32.5L963.5 35.2L961.1 37.9M968.5 32.5L970.9 35.2L968.5 37.9M975.9 32.5L978.3 35.2L975.9 37.9M983.3 32.5L985.7 35.2L983.3 37.9M990.7 32.5L993.1 35.2L990.7 37.9M998.1 32.5L1000.5 35.2L998.1 37.9M1005.5 32.5L1007.9 35.2L1005.5 37.9M1012.9 32.5L1015.3 35.2L1012.9 37.9M1020.3 32.5L1022.7 35.2L1020.3 37.9M1027.7 32.5L1030.1 35.2L1027.7 37.9M1035.1 32.5L1037.5 35.2L1035.1 37.9M1042.5 32.5L1044.9 35.2L1042.5 37.9M1049.9 32.5L1052.3 35.2L1049.9 37.9M1057.3 32.5L1059.7 35.2L1057.3 37.9M1064.7 32.5L1067.1 35.2L1064.7 37.9M1072.1 32.5L1074.5 35.2L1072.1 37.9M1079.5 32.5L1081.9 35.2L1079.5 37.9M1086.9 32.5L1089.3 35.2L1086.9 37.9M1094.3 32.5L1096.7 35.2L1094.3 37.9M1101.7 32.5L1104.1 35.2L1101.7 37.9M1109.1 32.5L1111.5 35.2L1109.1 37.9M1116.5 32.5L1118.9 35.2L1116.5 37.9M1123.9 32.5L1126.3 35.2L1123.9 37.9M1131.3 32.5L1133.7 35.2L1131.3 37.9M1138.7 32.5L1141.1 35.2L1138.7 37.9M1146.1 32.5L1148.5 35.2L1146.1 37.9M1153.5 32.5L1155.9 35.2L1153.5 37.9M1160.9 32.5L1163.3 35.2L1160.9 37.9" fill="none" stroke="#4e4c98" stroke-width="1.35" />
<line x1="574.6" y1="30" x2="574.6" y2="40" stroke="#4e4c98" stroke-width="1.6" />
<line x1="762" y1="27.8" x2="762" y2="42.6" stroke="#1b1b5e" stroke-width="1.3" />
<line x1="1026" y1="27.8" x2="1026" y2="42.6" stroke="#1b1b5e" stroke-width="1.3" />
<line x1="1093.5" y1="27.8" x2="1093.5" y2="42.6" stroke="#1b1b5e" stroke-width="1.3" />
<line x1="1103.5" y1="27.8" x2="1103.5" y2="42.6" stroke="#1b1b5e" stroke-width="1.3" />
<line x1="1147.5" y1="27.8" x2="1147.5" y2="42.6" stroke="#1b1b5e" stroke-width="1.6" />
<line x1="1161.5" y1="27.8" x2="1161.5" y2="42.6" stroke="#1b1b5e" stroke-width="1.3" />
<line x1="1168.6" y1="27.8" x2="1168.6" y2="42.6" stroke="#1b1b5e" stroke-width="1.3" />
<text x="304" y="64" font-size="21.8" fill="#d2232a" textLength="79" lengthAdjust="spacingAndGlyphs" stroke="#d2232a" stroke-width=".3">Rad51c</text>
<line x1="407" y1="57.3" x2="570.3" y2="57.3" stroke="#343278" stroke-width="1.7" />
<path d="M413.1 54.6L410.7 57.3L413.1 60.0M420.5 54.6L418.1 57.3L420.5 60.0M427.9 54.6L425.5 57.3L427.9 60.0M435.3 54.6L432.9 57.3L435.3 60.0M442.7 54.6L440.3 57.3L442.7 60.0M450.1 54.6L447.7 57.3L450.1 60.0M457.5 54.6L455.1 57.3L457.5 60.0M464.9 54.6L462.5 57.3L464.9 60.0M472.3 54.6L469.9 57.3L472.3 60.0M479.7 54.6L477.3 57.3L479.7 60.0M487.1 54.6L484.7 57.3L487.1 60.0M494.5 54.6L492.1 57.3L494.5 60.0M501.9 54.6L499.5 57.3L501.9 60.0M509.3 54.6L506.9 57.3L509.3 60.0M516.7 54.6L514.3 57.3L516.7 60.0M524.1 54.6L521.7 57.3L524.1 60.0M531.5 54.6L529.1 57.3L531.5 60.0M538.9 54.6L536.5 57.3L538.9 60.0M546.3 54.6L543.9 57.3L546.3 60.0M553.7 54.6L551.3 57.3L553.7 60.0M561.1 54.6L558.7 57.3L561.1 60.0M568.5 54.6L566.1 57.3L568.5 60.0" fill="none" stroke="#4e4c98" stroke-width="1.35" />
<rect x="395.8" y="52.4" width="11.4" height="9.6" fill="#17175e" />
<line x1="407" y1="49.9" x2="407" y2="64.8" stroke="#1b1b5e" stroke-width="1.6" />
<line x1="417.6" y1="49.9" x2="417.6" y2="64.8" stroke="#1b1b5e" stroke-width="1.3" />
<line x1="467.5" y1="49.9" x2="467.5" y2="64.8" stroke="#1b1b5e" stroke-width="1.3" />
<line x1="475" y1="49.9" x2="475" y2="64.8" stroke="#1b1b5e" stroke-width="1.3" />
<line x1="510.7" y1="49.9" x2="510.7" y2="64.8" stroke="#1b1b5e" stroke-width="1.3" />
<line x1="526.6" y1="49.9" x2="526.6" y2="64.8" stroke="#1b1b5e" stroke-width="1.3" />
<line x1="550.9" y1="49.9" x2="550.9" y2="64.8" stroke="#1b1b5e" stroke-width="2.2" />
<line x1="558.6" y1="49.9" x2="558.6" y2="64.8" stroke="#1b1b5e" stroke-width="2.2" />
<line x1="570.3" y1="49.9" x2="570.3" y2="64.8" stroke="#1b1b5e" stroke-width="1.5" />
<text x="7" y="66.8" font-size="31" font-weight="bold">a</text>
<polygon points="269.2,70.0 278.8,70.0 274.0,83.0" fill="#1f9fd6" />
<polygon points="568.6,70.0 578.2,70.0 573.4,83.0" fill="#1f9fd6" />
<polygon points="568.6,84.8 578.2,84.8 573.4,96.6" fill="#e3111c" />
<polygon points="330.2,70.0 339.8,70.0 335.0,83.0" fill="#27a13c" />
<polygon points="684.5,70.0 694.1,70.0 689.3,83.0" fill="#27a13c" />
<polygon points="710.2,70.0 719.8,70.0 715.0,83.0" fill="#27a13c" />
<polygon points="818.2,70.0 827.8,70.0 823.0,83.0" fill="#27a13c" />
<polygon points="853.5,70.0 863.1,70.0 858.3,83.0" fill="#27a13c" />
<polygon points="943.5,70.0 953.1,70.0 948.3,83.0" fill="#27a13c" />
<polygon points="1001.5,70.0 1011.1,70.0 1006.3,83.0" fill="#27a13c" />
<path d="M80.0 74.5H73.5V172H80.0" fill="none" stroke="#333" stroke-width="1.25" />
<path d="M80.0 183.5H73.5V281H80.0" fill="none" stroke="#333" stroke-width="1.25" />
<text x="62.4" y="171.6" font-size="25" textLength="100.5" lengthAdjust="spacingAndGlyphs" transform="rotate(-90 62.4 171.6)" stroke="#000" stroke-width=".3">Erythroid</text>
<text x="62.4" y="250.2" font-size="25" textLength="31.5" lengthAdjust="spacingAndGlyphs" transform="rotate(-90 62.4 250.2)" stroke="#000" stroke-width=".3">ES</text>
<text x="126" y="94.8" font-size="21.5" textLength="56.5" lengthAdjust="spacingAndGlyphs" stroke="#000" stroke-width=".3">175 <tspan dy="-.8" stroke-width=".1">_</tspan></text>
<text x="151" y="174.7" font-size="21.5" textLength="31.5" lengthAdjust="spacingAndGlyphs" stroke="#000" stroke-width=".3">0 <tspan dy="-.8" stroke-width=".1">_</tspan></text>
<text x="126" y="194.5" font-size="21.5" textLength="56.5" lengthAdjust="spacingAndGlyphs" stroke="#000" stroke-width=".3">175 <tspan dy="-.8" stroke-width=".1">_</tspan></text>
<text x="151" y="274.8" font-size="21.5" textLength="31.5" lengthAdjust="spacingAndGlyphs" stroke="#000" stroke-width=".3">0 <tspan dy="-.8" stroke-width=".1">_</tspan></text>
<text x="109.5" y="132.2" font-size="23" textLength="140" lengthAdjust="spacingAndGlyphs" stroke="#000" stroke-width=".3">MCC Rad51c</text>
<text x="109.5" y="232" font-size="23" textLength="140" lengthAdjust="spacingAndGlyphs" stroke="#000" stroke-width=".3">MCC Rad51c</text>
<path d="M193.5 176.8v-1h15.5v-0.5h1v0.5h1.5v-0.5h0.5v0.5h5v-0.5h0.5v0.5h4.5v-0.5h0.5v0.5h0.5v-0.5h2v0.5h0.5v-0.5h3v0.5h0.5v-0.5h1v0.5h1v-0.5h1.5v0.5h0.5v-0.5h3.5v-0.5h2v0.5h1v0.5h0.5v-1h0.5v0.5h0.5v-0.5h0.5v0.5h0.5v-0.5h1v0.5h1.5v-0.5h0.5v0.5h1.5v-0.5h0.5v0.5h1v-0.5h1.5v0.5h0.5v-0.5h2v-0.5h0.5v0.5h1v0.5h0.5v-0.5h1v0.5h1v-0.5h1.5v-0.5h0.5v-0.5h1v1h0.5v-0.5h0.5v0.5h0.5v-1h0.5v1h0.5v-0.5h0.5v0.5h0.5v-0.5h0.5v-0.5h0.5v0.5h0.5v0.5h1v0.5h0.5v-1h0.5v0.5h0.5v-0.5h0.5v-0.5h0.5v-0.5h1v-0.5h0.5v-0.5h0.5v-0.5h0.5v-0.5h0.5v-0.5h0.5v-0.5h1v-1h1v0.5h0.5v-8.5h0.5v-7h0.5v-0.5h0.5v0.5h0.5v7.5h0.5v9h0.5v2h0.5v0.5h1v0.5h0.5v0.5h0.5v0.5h0.5v-0.5h0.5v0.5h0.5v-1h1v0.5h0.5v0.5h0.5v0.5h0.5v-1h0.5v0.5h0.5v-1h0.5v0.5h1.5v0.5h0.5v0.5h0.5v-0.5h0.5v0.5h0.5v-1h0.5v0.5h1v-0.5h0.5v0.5h0.5v-0.5h0.5v-0.5h0.5v0.5h1v1h3v-1h1.5v1h0.5v-0.5h0.5v0.5h0.5v0.5h0.5v-0.5h1v0.5h0.5v-0.5h1.5v0.5h0.5v-0.5h1.5v0.5h0.5v-0.5h2.5v-0.5h0.5v0.5h0.5v0.5h0.5v-0.5h1.5v0.5h0.5v-0.5h0.5v-0.5h1v-0.5h1v0.5h0.5v-0.5h0.5v1h0.5v-0.5h0.5v0.5h3v-0.5h1.5v-0.5h0.5v0.5h0.5v0.5h0.5v-0.5h2v0.5h0.5v-0.5h0.5v0.5h1.5v-1h0.5v0.5h1v0.5h0.5v-0.5h0.5v0.5h0.5v-0.5h2.5v-0.5h0.5v-0.5h0.5v1h2v-2h0.5v-16.5h0.5v-17h0.5v2.5h1v13.5h0.5v17h0.5v2.5h0.5v0.5h1v-0.5h0.5v0.5h1v-0.5h0.5v-0.5h0.5v0.5h1.5v0.5h2v-1h1.5v0.5h1v0.5h1v-0.5h1v1h1v-0.5h2.5v-0.5h1v0.5h0.5v-0.5h1v-0.5h0.5v0.5h1v0.5h1.5v-0.5h1v0.5h2.5v-0.5h0.5v-0.5h0.5v1h0.5v-0.5h0.5v0.5h0.5v-0.5h0.5v-0.5h0.5v0.5h0.5v0.5h0.5v-0.5h0.5v0.5h0.5v-0.5h0.5v0.5h2.5v0.5h0.5v-0.5h0.5v0.5h0.5v-0.5h1v0.5h0.5v-1h1v0.5h0.5v-0.5h0.5v1h0.5v-0.5h2.5v-0.5h1v1h1.5v-1h0.5v0.5h0.5v-0.5h1v0.5h0.5v-0.5h0.5v0.5h2v-0.5h0.5v0.5h0.5v0.5h0.5v-0.5h0.5v0.5h0.5v-0.5h0.5v-0.5h1v1h0.5v-0.5h3.5v-0.5h0.5v0.5h1.5v0.5h0.5v-0.5h1.5v0.5h0.5v-0.5h0.5v0.5h0.5v-0.5h0.5v0.5h0.5v-1h0.5v0.5h1.5v0.5h1v-0.5h1.5v-0.5h1v0.5h0.5v0.5h1.5v-0.5h2v0.5h0.5v-0.5h0.5v0.5h1v-0.5h0.5v-0.5h0.5v0.5h0.5v-0.5h3.5v1h1v-0.5h4v0.5h0.5v-0.5h0.5v-0.5h0.5v0.5h0.5v-0.5h1v0.5h1v-0.5h1.5v1h1.5v-0.5h2v0.5h0.5v-0.5h0.5v-0.5h0.5v0.5h1v-0.5h1.5v0.5h0.5v-1h0.5v0.5h0.5v1h1v-0.5h0.5v-0.5h0.5v0.5h2v0.5h0.5v-0.5h0.5v-0.5h1v1h0.5v-0.5h0.5v0.5h0.5v-1h0.5v0.5h1v-0.5h0.5v-0.5h0.5v1h1.5v-1h0.5v1.5h1v-0.5h1v0.5h0.5v-0.5h2v-0.5h0.5v0.5h0.5v-0.5h0.5v0.5h0.5v-1h0.5v0.5h0.5v-0.5h0.5v0.5h0.5v0.5h0.5v-1h0.5v0.5h1v0.5h1.5v-0.5h0.5v0.5h1v0.5h0.5v-0.5h0.5v-0.5h0.5v0.5h1.5v0.5h0.5v-0.5h0.5v-0.5h0.5v-0.5h0.5v0.5h1v0.5h1v0.5h0.5v-0.5h0.5v-0.5h0.5v0.5h0.5v-0.5h1.5v0.5h0.5v-0.5h1.5v-0.5h0.5v0.5h1v-0.5h0.5v0.5h0.5v0.5h0.5v-0.5h2.5v0.5h1.5v-0.5h1v0.5h1v-0.5h1v-0.5h0.5v0.5h0.5v-0.5h0.5v0.5h0.5v-0.5h1v0.5h0.5v-0.5h1v0.5h1v-0.5h0.5v0.5h0.5v0.5h1v-1.5h0.5v0.5h0.5v-1h0.5v1.5h0.5v0.5h0.5v-1h1v-0.5h1.5v-0.5h0.5v1.5h0.5v-0.5h1v-1h0.5v0.5h0.5v-0.5h1.5v-0.5h0.5v-6h0.5v-7.5h0.5v-2.5h0.5v1h0.5v9h0.5v7h0.5v-1h0.5v1.5h0.5v-0.5h1v-1h0.5v1h0.5v-0.5h1v-0.5h0.5v-0.5h0.5v1.5h0.5v-0.5h0.5v0.5h2v-1h0.5v0.5h0.5v0.5h1.5v0.5h0.5v-1.5h1v0.5h0.5v0.5h0.5v-0.5h0.5v0.5h0.5v-1h1v-1.5h1.5v-0.5h0.5v2.5h0.5v-0.5h0.5v0.5h0.5v0.5h0.5v-1h1v-1h0.5v-1h0.5v0.5h0.5v1h0.5v-1h1v-2h1v-0.5h0.5v2.5h1.5v1h0.5v-3h0.5v-4h0.5v4h0.5v2.5h0.5v-1h0.5v-0.5h0.5v-0.5h1v-1h1v1h0.5v-0.5h1.5v1.5h0.5v-0.5h0.5v0.5h0.5v-1.5h1v-0.5h0.5v1h0.5v1.5h0.5v-0.5h0.5v-2h0.5v-0.5h2v-0.5h0.5v0.5h0.5v-0.5h0.5v-1.5h0.5v2h1.5v-5h0.5v-0.5h1v-0.5h1v-0.5h0.5v3.5h0.5v-0.5h0.5v-0.5h0.5v-4.5h0.5v2.5h0.5v-0.5h0.5v1.5h0.5v-0.5h0.5v-0.5h0.5v-2h0.5v-4h0.5v-9.5h0.5v-1.5h0.5v1.5h0.5v10h0.5v5h0.5v-0.5h0.5v-1h0.5v-8h0.5v-1h0.5v-1h0.5v-16.5h0.5v-1.5h0.5v-1.5h0.5v-7h1v-2h0.5v19h0.5v-1h0.5v-3.5h0.5v-20h0.5v-5h0.5v-14.5h10.5v30.5h0.5v6.5h0.5v3.5h0.5v3.5h0.5v1.5h1v-20.5h0.5v-22h0.5v-3h0.5v4.5h0.5v22.5h0.5v16.5h1v7h0.5v-4h0.5v-16.5h0.5v3h0.5v2h0.5v13h0.5v-4h0.5v0.5h0.5v-6h0.5v8.5h0.5v0.5h0.5v0.5h0.5v-8.5h0.5v0.5h0.5v-1.5h0.5v1h0.5v1h0.5v0.5h0.5v16h1v0.5h0.5v-6h0.5v7h1v-4h0.5v-11h0.5v-3h0.5v3.5h0.5v8.5h0.5v-1.5h0.5v-7.5h0.5v1h0.5v1.5h0.5v8.5h0.5v1h0.5v1h0.5v6.5h0.5v0.5h0.5v1h0.5v-3.5h0.5v1h0.5v1h0.5v4h0.5v-1.5h0.5v0.5h0.5v2h0.5v0.5h1v-4.5h0.5v0.5h0.5v3h1.5v0.5h0.5v3h1v0.5h0.5v1h0.5v1h1v-1h1v0.5h0.5v1h0.5v-3h0.5v0.5h0.5v-1.5h1v0.5h0.5v1.5h1v1h0.5v-3.5h0.5v0.5h1v0.5h0.5v0.5h1.5v0.5h1v2h0.5v-0.5h0.5v0.5h0.5v-1h0.5v0.5h1v0.5h0.5v0.5h1v-2.5h0.5v-6.5h0.5v-2.5h0.5v2h0.5v7.5h0.5v2h0.5v2.5h0.5v0.5h1v-1h0.5v-1.5h1v1.5h1v-0.5h0.5v-1.5h0.5v2h0.5v-2.5h0.5v0.5h0.5v1.5h1v-0.5h1v0.5h0.5v1.5h0.5v-1h0.5v-0.5h0.5v-1.5h0.5v1h1v1.5h0.5v-2h0.5v1.5h0.5v1h0.5v-0.5h0.5v-0.5h0.5v-0.5h0.5v0.5h0.5v-0.5h0.5v-0.5h0.5v1.5h0.5v-0.5h0.5v0.5h0.5v-0.5h1.5v-0.5h2v-0.5h0.5v0.5h0.5v-0.5h1v1h1v-2h0.5v0.5h0.5v-0.5h0.5v1.5h0.5v-1h0.5v1h0.5v-0.5h0.5v1.5h0.5v-1h0.5v1h0.5v-1.5h0.5v1h0.5v-1h1v1h1v-0.5h1.5v-0.5h0.5v0.5h0.5v0.5h0.5v-2h0.5v1.5h0.5v-2h0.5v1h1v0.5h0.5v-0.5h0.5v1h0.5v-1.5h0.5v0.5h1v1h0.5v1h0.5v-1h0.5v1h0.5v-0.5h0.5v0.5h1v-1h0.5v-0.5h0.5v-0.5h0.5v0.5h0.5v-0.5h1v-0.5h0.5v-1.5h0.5v-1h0.5v-2.5h0.5v-1.5h0.5v-0.5h0.5v-2h0.5v-1h0.5v-1.5h0.5v-2h0.5v-1.5h0.5v1.5h0.5v-2.5h0.5v-17h0.5v-14h0.5v-12h0.5v0.5h0.5v-1h0.5v15h0.5v13.5h0.5v15h0.5v17.5h1.5v-1.5h0.5v1.5h0.5v-0.5h0.5v-0.5h1v0.5h0.5v-1h0.5v0.5h0.5v0.5h0.5v-0.5h0.5v0.5h0.5v-0.5h0.5v-1h0.5v0.5h0.5v-0.5h0.5v-0.5h1v-0.5h0.5v0.5h0.5v1.5h0.5v-0.5h0.5v1h0.5v-0.5h0.5v-1h0.5v2h0.5v-0.5h0.5v0.5h0.5v0.5h1v-0.5h0.5v0.5h1v-0.5h0.5v-0.5h0.5v0.5h0.5v1h0.5v-1h0.5v-1h0.5v0.5h0.5v-2h0.5v-10h0.5v-8.5h0.5v-1h1.5v-2h0.5v1.5h0.5v1.5h0.5v8.5h0.5v10h0.5v2h0.5v1h1v-0.5h0.5v1.5h0.5v-1h1.5v-1h0.5v-0.5h0.5v0.5h0.5v1.5h0.5v0.5h0.5v-1h0.5v0.5h1.5v0.5h0.5v-1.5h0.5v1.5h0.5v0.5h1v-2h0.5v1.5h0.5v-1.5h0.5v0.5h0.5v1.5h0.5v-1h0.5v-0.5h1v-1h0.5v1.5h0.5v-0.5h0.5v-1h0.5v2h0.5v-1h0.5v0.5h0.5v1h0.5v-0.5h0.5v-0.5h0.5v0.5h0.5v-0.5h1v-1h0.5v0.5h0.5v0.5h0.5v1h0.5v0.5h0.5v-0.5h0.5v-0.5h0.5v-1h0.5v0.5h1v0.5h0.5v-0.5h0.5v0.5h0.5v-0.5h0.5v0.5h0.5v-1h0.5v1.5h0.5v-0.5h0.5v0.5h0.5v0.5h0.5v-0.5h0.5v-1.5h0.5v1h0.5v-0.5h0.5v1h0.5v0.5h1v-1h0.5v-1h0.5v1h0.5v1h2.5v-0.5h0.5v0.5h0.5v-1h0.5v0.5h0.5v-1h0.5v1h2.5v0.5h0.5v-0.5h1v-0.5h0.5v-0.5h0.5v1h1v-1h0.5v1h0.5v0.5h0.5v-0.5h0.5v0.5h0.5v-1.5h0.5v1h0.5v0.5h1v-1h0.5v0.5h1v0.5h1v-0.5h0.5v-0.5h0.5v0.5h0.5v0.5h1v-0.5h1v0.5h1v-1h0.5v1h1v-0.5h0.5v-1h0.5v1h0.5v-1h1v1h0.5v0.5h1v-0.5h3v-0.5h0.5v0.5h0.5v0.5h0.5v-0.5h0.5v-1h1v0.5h0.5v1h0.5v-0.5h1v-0.5h1.5v1h0.5v-0.5h0.5v0.5h1.5v-0.5h0.5v0.5h1.5v0.5h0.5v-0.5h0.5v0.5h0.5v-1h0.5v-0.5h1.5v0.5h0.5v-0.5h0.5v0.5h2v1h0.5v-1h1v0.5h0.5v0.5h0.5v-1h1v0.5h1v0.5h1v-0.5h0.5v0.5h0.5v-0.5h1v-0.5h0.5v0.5h2v-0.5h0.5v0.5h0.5v-0.5h0.5v0.5h1v0.5h1.5v-0.5h0.5v0.5h1v-0.5h0.5v-0.5h0.5v-0.5h0.5v-0.5h0.5v-2.5h0.5v-14h0.5v-11h0.5v-11h0.5v-10.5h0.5v1.5h1v-2h0.5v2h0.5v10h0.5v9h0.5v12.5h0.5v13.5h0.5v2.5h0.5v1h1v0.5h0.5v-0.5h0.5v1h0.5v-0.5h0.5v0.5h0.5v-0.5h0.5v-0.5h1.5v0.5h0.5v-0.5h0.5v0.5h2.5v0.5h0.5v-1.5h0.5v0.5h1v1h1v-0.5h0.5v0.5h3.5v-0.5h1.5v0.5h1v-0.5h1v-0.5h0.5v1h0.5v-0.5h3v0.5h0.5v-0.5h0.5v-0.5h1v0.5h2v-1h0.5v-0.5h0.5v-11h0.5v-11.5h0.5v-11.5h0.5v-10.5h0.5v-1.5h0.5v1h0.5v-1.5h0.5v2h0.5v9h0.5v11h0.5v13.5h0.5v11.5h1v0.5h0.5v0.5h0.5v0.5h0.5v-1h0.5v0.5h0.5v0.5h0.5v-1h0.5v0.5h0.5v-0.5h1.5v0.5h0.5v-0.5h0.5v0.5h1v0.5h0.5v-1h0.5v0.5h0.5v0.5h1.5v-0.5h0.5v-0.5h1v1.5h1.5v-1h0.5v0.5h0.5v-0.5h1v0.5h1v0.5h0.5v-0.5h1v-0.5h1v0.5h2v-0.5h1v0.5h1.5v-0.5h0.5v0.5h0.5v0.5h0.5v-0.5h0.5v0.5h2v-0.5h0.5v0.5h0.5v-0.5h1.5v0.5h0.5v-0.5h2.5v0.5h1.5v-0.5h4v0.5h1.5v-0.5h1.5v0.5h0.5v-0.5h1.5v0.5h4.5v-0.5h0.5v0.5h1.5v-0.5h1.5v0.5h0.5v-0.5h1v-0.5h0.5v0.5h0.5v0.5h1v-0.5h0.5v-0.5h1.5v0.5h0.5v0.5h1v-0.5h0.5v-0.5h0.5v0.5h2v0.5h1.5v-0.5h1v-0.5h0.5v1h0.5v-0.5h0.5v0.5h1v-0.5h1v0.5h0.5v-0.5h1.5v-0.5h1v0.5h1.5v-0.5h0.5v0.5h1v0.5h0.5v-0.5h1.5v0.5h1v-1h1.5v0.5h0.5v-0.5h1v0.5h1.5v-0.5h0.5v-0.5h0.5v-0.5h0.5v-0.5h0.5v-12h0.5v-12h0.5v-11.5h0.5v-16h0.5v0.5h1v4h0.5v-1h0.5v10h0.5v13.5h0.5v13h0.5v11.5h0.5v0.5h0.5v0.5h0.5v0.5h0.5v0.5h2v-0.5h0.5v1h0.5v-0.5h1v-0.5h0.5v0.5h1v-0.5h0.5v0.5h2v-0.5h1.5v0.5h1.5v0.5h0.5v-1h0.5v0.5h1.5v-0.5h0.5v0.5h0.5v-0.5h1v0.5h3v-0.5h0.5v1h0.5v-0.5h0.5v-0.5h0.5v-1h0.5v-1.5h0.5v1.5h0.5v1h1.5v0.5h2v0.5h0.5v-0.5h2.5v0.5h0.5v-0.5h0.5v0.5h1.5v-0.5h0.5v0.5h0.5v-0.5h0.5v0.5h1.5v-0.5h1v0.5h0.5v-1h0.5v0.5h1v-0.5h1.5v0.5h0.5v0.5h3v-0.5h0.5v0.5h0.5v-1h0.5v0.5h3.5v0.5h0.5v-0.5h0.5v0.5h1v-1h1v-0.5h0.5v-0.5h0.5v-0.5h0.5v-12h0.5v-12h0.5v-13h0.5v-12h0.5v1.5h0.5v-2h0.5v-3h0.5v5h0.5v11.5h0.5v9.5h0.5v15h0.5v11.5h0.5v0.5h0.5v0.5h0.5v0.5h0.5v0.5h1v0.5h0.5v-0.5h2.5v0.5h0.5v-0.5h3v0.5h2v-0.5h0.5v0.5h0.5v-0.5h0.5v0.5h2v-0.5h0.5v0.5h11v-0.5h0.5v0.5h0.5v-0.5h0.5v0.5h132.5v1z" fill="#54a9b6" />
<rect x="568" y="96.3" width="10.3" height="1.7" fill="#24448c" />
<path d="M193.5 276.2v-1h7.5v-0.5h0.5v0.5h4v-0.5h0.5v0.5h1.5v-0.5h0.5v0.5h0.5v-0.5h0.5v0.5h2.5v-0.5h0.5v0.5h6v-0.5h1v0.5h0.5v-0.5h1v0.5h1.5v-0.5h0.5v0.5h1v-0.5h0.5v0.5h0.5v-0.5h0.5v0.5h0.5v-0.5h1v0.5h1v-0.5h0.5v0.5h1.5v-0.5h0.5v0.5h1v-0.5h0.5v0.5h1.5v-0.5h1.5v0.5h3v-0.5h2v0.5h0.5v-1h0.5v-2h0.5v-2.5h0.5v2.5h0.5v2h0.5v-0.5h0.5v0.5h1.5v0.5h2v-0.5h1v0.5h0.5v-0.5h1v-0.5h1v0.5h0.5v-0.5h0.5v0.5h0.5v-1h0.5v1h0.5v0.5h1v-1h0.5v0.5h0.5v-0.5h0.5v0.5h1.5v-0.5h1v0.5h0.5v0.5h1.5v-0.5h0.5v-0.5h0.5v0.5h1v-0.5h0.5v-1h0.5v1.5h1v0.5h0.5v-1.5h1.5v0.5h1v0.5h0.5v-0.5h0.5v0.5h0.5v-0.5h0.5v-0.5h0.5v-1.5h0.5v-2.5h0.5v-1.5h0.5v-2.5h0.5v-2h0.5v-2.5h0.5v-1.5h0.5v-4h0.5v-0.5h0.5v-6.5h0.5v-17.5h0.5v-15.5h0.5v-3h0.5v6.5h0.5v12.5h0.5v19.5h0.5v7.5h0.5v3.5h0.5v1.5h0.5v1.5h0.5v2.5h0.5v2.5h0.5v2h0.5v2.5h0.5v-0.5h1.5v0.5h1v-0.5h1v-0.5h0.5v1h0.5v0.5h1v-0.5h0.5v-0.5h1v1h1v-0.5h1v0.5h0.5v-0.5h1v-0.5h0.5v0.5h1v0.5h1v-1h0.5v0.5h0.5v-0.5h1v0.5h1.5v-0.5h0.5v1h0.5v-0.5h0.5v0.5h1v-0.5h2v0.5h2.5v-0.5h0.5v-0.5h1v1h1v0.5h0.5v-1h0.5v-0.5h1v1h1v-0.5h0.5v0.5h0.5v-0.5h0.5v1h0.5v-0.5h1v-0.5h2v0.5h1v-0.5h0.5v0.5h0.5v0.5h0.5v-0.5h1.5v0.5h1v-0.5h1.5v0.5h0.5v-0.5h2v0.5h1v-0.5h0.5v0.5h2v-0.5h1v0.5h1v-0.5h1.5v-0.5h0.5v1h1v-0.5h2v0.5h0.5v-0.5h1v0.5h1.5v-1h0.5v0.5h1v0.5h0.5v-0.5h0.5v0.5h0.5v-0.5h0.5v-0.5h1.5v0.5h1v-0.5h0.5v0.5h2.5v0.5h1.5v-0.5h2.5v0.5h3.5v-0.5h1.5v0.5h2v-0.5h0.5v0.5h0.5v-1h1v0.5h0.5v0.5h3.5v-0.5h1v0.5h1.5v-0.5h1.5v0.5h1.5v-0.5h0.5v0.5h1.5v-0.5h0.5v0.5h1v-0.5h0.5v0.5h1v-0.5h2v0.5h0.5v-0.5h1v0.5h0.5v-0.5h1.5v0.5h0.5v-0.5h1v0.5h2.5v-0.5h3.5v0.5h1.5v-0.5h1v0.5h0.5v-0.5h1v0.5h0.5v-1h1.5v1h1.5v-0.5h0.5v0.5h2v-0.5h1v0.5h0.5v-0.5h1v0.5h0.5v-0.5h0.5v-0.5h0.5v0.5h3v0.5h0.5v-0.5h1v0.5h0.5v-0.5h0.5v0.5h0.5v-0.5h2.5v-0.5h0.5v0.5h1.5v-0.5h0.5v0.5h2v0.5h1v-0.5h1.5v0.5h3v-0.5h0.5v-0.5h1v0.5h0.5v-0.5h0.5v0.5h1v-0.5h0.5v0.5h4v0.5h1.5v-1h0.5v0.5h0.5v-0.5h0.5v0.5h2.5v0.5h0.5v-0.5h0.5v-0.5h1v1h2.5v-0.5h2v0.5h0.5v-0.5h1v0.5h0.5v-1h0.5v0.5h1.5v-0.5h0.5v0.5h2v-0.5h0.5v0.5h0.5v0.5h0.5v-0.5h2v0.5h0.5v-0.5h1.5v-0.5h0.5v0.5h0.5v-0.5h0.5v0.5h1.5v-0.5h0.5v0.5h1.5v0.5h0.5v-0.5h2v-1h0.5v0.5h0.5v0.5h0.5v-0.5h0.5v0.5h0.5v-0.5h0.5v0.5h0.5v-0.5h1v0.5h0.5v-0.5h1v0.5h1v0.5h0.5v-0.5h0.5v-0.5h0.5v1h0.5v-0.5h0.5v0.5h1v-1h0.5v0.5h0.5v-0.5h0.5v0.5h0.5v-0.5h0.5v0.5h0.5v-0.5h1v-0.5h0.5v1h0.5v-0.5h0.5v0.5h2v-1h0.5v0.5h0.5v-0.5h0.5v1h0.5v-0.5h0.5v-0.5h0.5v0.5h0.5v0.5h0.5v-1h1v0.5h0.5v-1h0.5v1.5h1v-1h1v-0.5h0.5v0.5h0.5v0.5h1v0.5h0.5v-1h0.5v-0.5h0.5v0.5h0.5v1h0.5v-1h1v-0.5h1.5v1h1.5v-0.5h1.5v0.5h0.5v-1h1v-0.5h1v1h1.5v0.5h0.5v-1.5h1v-1h0.5v1h0.5v0.5h0.5v-7h0.5v-7.5h0.5v-0.5h1v8.5h0.5v7.5h1v-0.5h0.5v0.5h0.5v-0.5h0.5v-0.5h0.5v-1h0.5v-0.5h0.5v1h0.5v-1.5h0.5v1.5h0.5v0.5h0.5v0.5h0.5v-0.5h0.5v-1.5h0.5v1.5h1v-1h0.5v-1h0.5v0.5h1.5v-1.5h0.5v2h1.5v0.5h0.5v0.5h1v-0.5h0.5v-0.5h0.5v1h0.5v-2h0.5v-0.5h0.5v1h0.5v-0.5h2.5v0.5h0.5v1.5h0.5v-1h0.5v-1h1v-2.5h0.5v2h0.5v-2h0.5v2h0.5v-2h0.5v2h0.5v1h0.5v-0.5h0.5v-1h0.5v-0.5h0.5v-0.5h1v1h0.5v-1h0.5v-11h0.5v-10h0.5v0.5h0.5v1h0.5v8.5h0.5v10.5h0.5v-0.5h2v0.5h1v-3h1v-0.5h0.5v2.5h1.5v-2.5h0.5v1.5h1v1.5h1v-0.5h0.5v-1h0.5v-0.5h0.5v-0.5h1.5v-0.5h0.5v-1.5h0.5v-0.5h1v-1.5h0.5v-0.5h0.5v-0.5h0.5v4.5h0.5v-0.5h1v0.5h0.5v-1.5h0.5v-0.5h0.5v-2.5h0.5v-1h0.5v-0.5h0.5v-2.5h0.5v-1h0.5v-8.5h0.5v-3h0.5v-1.5h0.5v-2h0.5v-8h0.5v-2h0.5v-2h0.5v14h0.5v-1.5h0.5v-1.5h0.5v5.5h0.5v-1.5h0.5v-1h0.5v-18h0.5v10.5h0.5v-1.5h0.5v16h0.5v-0.5h1v-24h0.5v-0.5h0.5v-28.5h15.5v45.5h0.5v2.5h0.5v2.5h0.5v-14h0.5v-3h0.5v3h0.5v-0.5h0.5v17.5h0.5v1h0.5v-2.5h0.5v1h0.5v9.5h0.5v1h0.5v1h1v-1h1v0.5h0.5v-12.5h0.5v0.5h0.5v0.5h0.5v2.5h0.5v0.5h1v9.5h0.5v0.5h0.5v0.5h0.5v-8.5h0.5v0.5h1v8h1v-2.5h0.5v-2.5h1.5v-2h1.5v-0.5h1.5v-0.5h1.5v-4.5h0.5v-1h0.5v5h0.5v8.5h1.5v-7h1v2.5h0.5v2h0.5v0.5h1v-2h0.5v0.5h1v5h1v0.5h0.5v-6h1v0.5h0.5v6h0.5v2h0.5v-4.5h0.5v-7.5h0.5v8.5h0.5v2h0.5v0.5h1v-3.5h0.5v-2.5h0.5v0.5h2v0.5h0.5v3.5h1v0.5h0.5v1.5h1v0.5h0.5v-2h0.5v0.5h1v2h0.5v0.5h1v-11.5h0.5v-12.5h0.5v-5h0.5v5.5h0.5v11.5h0.5v10h0.5v1h1v0.5h0.5v2h0.5v-0.5h0.5v0.5h0.5v-2.5h1v-0.5h0.5v2.5h0.5v-0.5h0.5v-0.5h0.5v-0.5h1.5v3h1v-0.5h0.5v-2.5h0.5v-5h0.5v4.5h1v0.5h1v-4.5h0.5v-10.5h0.5v-14.5h0.5v-2h0.5v4h0.5v10.5h0.5v15.5h1v0.5h0.5v-2h1.5v0.5h1v3h0.5v-0.5h0.5v-0.5h1v-0.5h0.5v-0.5h0.5v2.5h2v-1.5h1.5v-2h0.5v2.5h1v1h1v-0.5h0.5v-0.5h1v-3h0.5v4h1.5v-3.5h1.5v4.5h0.5v1h0.5v-2h0.5v-0.5h1.5v-1.5h1.5v3h1.5v-3h1v1h0.5v-0.5h0.5v1.5h0.5v-1.5h0.5v2.5h1.5v-2.5h1v-1h0.5v-0.5h2v3.5h1v0.5h0.5v1.5h0.5v-7h0.5v-16.5h0.5v-15h0.5v-2h0.5v-0.5h0.5v16h0.5v18.5h0.5v4.5h0.5v-0.5h0.5v1h0.5v-2.5h1v-15h0.5v-25h0.5v-20.5h0.5v-1h0.5v3.5h0.5v19h0.5v22.5h0.5v20.5h1v-0.5h0.5v-1h1v0.5h0.5v0.5h0.5v-1h0.5v-2h0.5v1h0.5v-1h0.5v1.5h0.5v0.5h0.5v0.5h0.5v-0.5h0.5v-1h1.5v1h1.5v2h0.5v-1h0.5v1.5h0.5v-1.5h0.5v0.5h1v-1h1v1h0.5v-0.5h0.5v-1.5h0.5v2h0.5v-1h0.5v-1.5h0.5v1.5h1v-0.5h0.5v1.5h1v-0.5h0.5v-2h0.5v-10h0.5v-8h0.5v-9.5h0.5v0.5h0.5v2h0.5v7.5h0.5v9h0.5v8.5h0.5v3h0.5v-1.5h0.5v-0.5h0.5v1.5h0.5v0.5h0.5v0.5h0.5v-2.5h0.5v2h0.5v-1h1v2h0.5v-0.5h1.5v-2h1v-0.5h0.5v0.5h0.5v2.5h0.5v-2.5h0.5v0.5h0.5v-0.5h0.5v1.5h0.5v1.5h0.5v-2h0.5v2.5h0.5v-0.5h1v-0.5h0.5v-0.5h0.5v1h0.5v1h1v-0.5h0.5v-1h0.5v-1h0.5v1h0.5v-1h0.5v2h0.5v-0.5h0.5v-1h0.5v0.5h0.5v-1h0.5v1.5h1.5v1h0.5v-0.5h0.5v1h0.5v-1h0.5v-0.5h0.5v0.5h0.5v-0.5h0.5v1.5h0.5v-1h0.5v0.5h0.5v-0.5h1v0.5h1v0.5h1v-0.5h1v-0.5h0.5v-0.5h0.5v1.5h0.5v-0.5h0.5v0.5h0.5v0.5h0.5v-0.5h0.5v-0.5h0.5v0.5h1v-1h1v1.5h0.5v-0.5h1v-0.5h0.5v0.5h0.5v-0.5h0.5v0.5h0.5v-0.5h0.5v-0.5h0.5v0.5h0.5v0.5h1v-0.5h0.5v0.5h0.5v-1h0.5v1h2.5v-0.5h0.5v0.5h0.5v-0.5h0.5v0.5h0.5v0.5h0.5v-0.5h1v-0.5h1v0.5h0.5v-1h0.5v1h2v-0.5h1v-1h0.5v0.5h0.5v1h0.5v-0.5h1v0.5h0.5v-1.5h0.5v1.5h0.5v-0.5h0.5v-1h0.5v-5.5h0.5v5.5h0.5v1.5h0.5v-0.5h1v0.5h0.5v-0.5h2v0.5h1v-0.5h1.5v0.5h0.5v-1h1v1h0.5v-1h1.5v0.5h0.5v-0.5h0.5v0.5h0.5v-0.5h1v0.5h0.5v0.5h0.5v-0.5h0.5v0.5h1.5v-0.5h0.5v-0.5h0.5v-0.5h0.5v1h0.5v-1h0.5v0.5h1.5v0.5h1.5v-1h0.5v1h1v-0.5h1.5v-1h0.5v1h0.5v1h1.5v-0.5h0.5v-0.5h0.5v-0.5h0.5v0.5h0.5v0.5h0.5v0.5h0.5v-1h1.5v0.5h0.5v-0.5h0.5v0.5h0.5v-0.5h0.5v1h0.5v-1h0.5v0.5h0.5v-0.5h0.5v0.5h2v-1h0.5v0.5h1.5v-0.5h0.5v-0.5h0.5v-1h0.5v-7h0.5v-15.5h0.5v-15.5h0.5v-17h0.5v-10h0.5v-3h0.5v0.5h0.5v10.5h0.5v16h0.5v17h0.5v17.5h0.5v6.5h0.5v1h0.5v0.5h0.5v0.5h1v-0.5h1.5v-0.5h0.5v1.5h0.5v-1h1v1h0.5v0.5h1v-1.5h1v0.5h1v1h0.5v-1h0.5v1h1.5v-0.5h1.5v-1h0.5v0.5h0.5v0.5h0.5v-0.5h0.5v0.5h1v0.5h0.5v-1.5h0.5v1h0.5v-1.5h0.5v0.5h0.5v-0.5h0.5v2h0.5v-0.5h2.5v0.5h1v-0.5h1v-0.5h1v-0.5h0.5v1h1v-0.5h1v0.5h0.5v-1h0.5v-1h0.5v-0.5h0.5v-20h0.5v-15h0.5v-19.5h0.5v-10.5h0.5v-4h1v19h0.5v14.5h0.5v16.5h0.5v18.5h0.5v1h0.5v1h0.5v1h0.5v0.5h2v-0.5h1v0.5h1v-1.5h1.5v1h0.5v-1h0.5v1h1v1h0.5v-0.5h0.5v-0.5h0.5v-0.5h0.5v1h0.5v-1h0.5v0.5h0.5v-1h0.5v1h0.5v0.5h1.5v-1h0.5v1h1v-0.5h0.5v0.5h1.5v0.5h0.5v-1h0.5v-0.5h1v1h0.5v0.5h1v-0.5h0.5v0.5h1v-0.5h0.5v0.5h0.5v-0.5h0.5v-1h0.5v0.5h1v0.5h0.5v-1h1v1h0.5v0.5h1v-0.5h0.5v-1h0.5v-3h0.5v-5h0.5v4.5h0.5v3.5h0.5v1h0.5v-1h0.5v0.5h0.5v1h0.5v-0.5h0.5v0.5h0.5v-1h0.5v1h1v-1h0.5v0.5h0.5v0.5h0.5v-0.5h0.5v0.5h1v-1h0.5v0.5h1.5v0.5h0.5v-0.5h0.5v0.5h0.5v-0.5h1v0.5h1.5v-0.5h0.5v0.5h1v-0.5h1v-0.5h0.5v-0.5h0.5v1h0.5v-0.5h1.5v0.5h1v0.5h1v-1h2.5v0.5h1.5v-1h0.5v1.5h0.5v-0.5h1.5v0.5h0.5v-0.5h1.5v-0.5h2v1h1.5v-0.5h2.5v0.5h0.5v-0.5h0.5v-0.5h0.5v-0.5h0.5v0.5h1v0.5h0.5v-0.5h2v0.5h0.5v-0.5h0.5v-0.5h0.5v0.5h0.5v-0.5h0.5v0.5h0.5v0.5h1v-0.5h0.5v0.5h0.5v-0.5h2v0.5h2v-1h0.5v-0.5h0.5v-0.5h0.5v-1h0.5v-19.5h0.5v-16h0.5v-14h0.5v-16h0.5v-9h0.5v8h0.5v12h0.5v19.5h0.5v15.5h0.5v19.5h0.5v1h0.5v0.5h0.5v0.5h0.5v0.5h0.5v0.5h1v-0.5h0.5v0.5h1v-0.5h0.5v0.5h0.5v-1h0.5v1.5h0.5v-0.5h1.5v-1h0.5v1h1v-1h1v1h1.5v-0.5h0.5v-0.5h1v1h1v0.5h0.5v-0.5h1.5v0.5h0.5v-0.5h0.5v0.5h0.5v-0.5h0.5v0.5h1v-0.5h2v0.5h0.5v-1h1v0.5h0.5v-0.5h0.5v0.5h0.5v-0.5h0.5v0.5h0.5v-0.5h0.5v-0.5h0.5v0.5h0.5v1h0.5v-0.5h0.5v0.5h1v-0.5h1.5v-0.5h0.5v0.5h0.5v-0.5h0.5v0.5h0.5v-0.5h0.5v0.5h1v0.5h0.5v-0.5h0.5v0.5h1v-1h0.5v-0.5h1v1h1.5v-1h1.5v1.5h1.5v-0.5h2v0.5h0.5v-0.5h1v0.5h0.5v-1h0.5v0.5h0.5v0.5h0.5v-0.5h0.5v-0.5h1v0.5h2v0.5h0.5v-0.5h1v-0.5h0.5v-1h0.5v-0.5h0.5v-1h0.5v-18h0.5v-16.5h0.5v-15h0.5v-17h0.5v-6.5h0.5v8h0.5v15.5h0.5v15h0.5v17h0.5v17h0.5v1h0.5v1h0.5v0.5h0.5v1h1v-0.5h1v0.5h0.5v-1h0.5v0.5h0.5v0.5h2v-0.5h1v0.5h2v0.5h1.5v-0.5h1v-0.5h1v0.5h2.5v0.5h2.5v-1h0.5v0.5h1v0.5h0.5v-1h0.5v1h0.5v0.5h0.5v-0.5h1v-0.5h1v-0.5h0.5v1h0.5v-0.5h1v0.5h1v-0.5h0.5v0.5h1v0.5h0.5v-1h0.5v0.5h0.5v-0.5h0.5v-0.5h1v0.5h1v0.5h1v-0.5h0.5v0.5h1.5v-0.5h1.5v0.5h1.5v-0.5h0.5v0.5h0.5v-0.5h0.5v0.5h1v0.5h0.5v-0.5h0.5v0.5h0.5v-0.5h2v-0.5h1.5v0.5h1.5v0.5h1.5v-0.5h0.5v-0.5h0.5v0.5h0.5v0.5h0.5v-0.5h0.5v-1h0.5v0.5h1v0.5h1v0.5h0.5v-1h1v0.5h0.5v-0.5h1.5v0.5h0.5v-0.5h0.5v0.5h0.5v-0.5h0.5v0.5h0.5v-0.5h0.5v0.5h1v-0.5h0.5v1h1v-0.5h0.5v-1h0.5v0.5h0.5v-0.5h0.5v1h0.5v-0.5h0.5v0.5h0.5v-0.5h0.5v-0.5h0.5v0.5h0.5v-0.5h0.5v0.5h1.5v0.5h0.5v-0.5h0.5v-0.5h0.5v1h0.5v-0.5h0.5v0.5h0.5v-0.5h0.5v0.5h0.5v-0.5h1.5v0.5h0.5v-0.5h0.5v0.5h0.5v-0.5h0.5v0.5h0.5v-0.5h0.5v-0.5h0.5v0.5h1v-0.5h0.5v0.5h1v0.5h0.5v-0.5h0.5v0.5h0.5v-0.5h0.5v0.5h1v-0.5h1.5v0.5h0.5v-0.5h0.5v0.5h0.5v-1h0.5v0.5h1v0.5h0.5v-0.5h3v-0.5h1v1h1.5v-0.5h1.5v0.5h1v-0.5h1.5v0.5h3v-0.5h2.5v-0.5h1v1h1v-0.5h1.5v-0.5h2.5v0.5h0.5v0.5h0.5v-0.5h1v-0.5h0.5v1h1v-0.5h0.5v0.5h1v-0.5h0.5v0.5h2v-0.5h0.5v0.5h0.5v-1h1.5v1h0.5v0.5h0.5v-0.5h1.5v-0.5h1.5v-0.5h0.5v1h0.5v0.5h0.5v-0.5h1v-0.5h0.5v0.5h0.5v-0.5h0.5v0.5h0.5v-1h0.5v0.5h0.5v0.5h0.5v-0.5h0.5v-0.5h1v0.5h2.5v0.5h2v-0.5h0.5v0.5h0.5v0.5h1v-1h0.5v0.5h2v0.5h0.5v-0.5h2v-1h0.5v1h0.5v0.5h2v-0.5h1v-0.5h1.5v0.5h0.5v-0.5h1v0.5h2v0.5h0.5v-0.5h1.5v-0.5h0.5v0.5h2v0.5h1v-0.5h0.5v0.5h0.5v-0.5h1.5v0.5h0.5v-0.5h0.5v1.5z" fill="#54a9b6" />
<rect x="568" y="195.8" width="15" height="1.7" fill="#24448c" />
<rect x="807.3" y="68.6" width="30.8" height="219.2" fill="none" stroke="#000" stroke-width="1.5" />
<text x="7" y="329.2" font-size="31" font-weight="bold">b</text>
<path d="M84.2 334H77.7V660.8H84.2" fill="none" stroke="#333" stroke-width="1.25" />
<path d="M84.2 673H77.7V1000.4H84.2" fill="none" stroke="#333" stroke-width="1.25" />
<text x="67.6" y="545.2" font-size="25" textLength="96.5" lengthAdjust="spacingAndGlyphs" transform="rotate(-90 67.6 545.2)" stroke="#000" stroke-width=".3">Erythroid</text>
<text x="67.6" y="855" font-size="25" textLength="30.5" lengthAdjust="spacingAndGlyphs" transform="rotate(-90 67.6 855)" stroke="#000" stroke-width=".3">ES</text>
<text x="342.5" y="352.5" font-size="20.5" textLength="96" lengthAdjust="spacingAndGlyphs" stroke="#000" stroke-width=".3">500 bases</text>
<path d="M448.6 343.8V354.2M448.6 349H719.4M719.4 343.8V354.2" fill="none" stroke="#444" stroke-width="1.1" />
<text x="727.5" y="352.5" font-size="20.5" textLength="46.5" lengthAdjust="spacingAndGlyphs" stroke="#000" stroke-width=".3">mm9</text>
<text x="122.3" y="341" font-size="21.3" textLength="52" lengthAdjust="spacingAndGlyphs" stroke="#000" stroke-width=".3">175 <tspan dy="-.8" stroke-width=".1">_</tspan></text>
<text x="145.5" y="438.2" font-size="21" textLength="28" lengthAdjust="spacingAndGlyphs" stroke="#000" stroke-width=".3">0 <tspan dy="-.8" stroke-width=".1">_</tspan></text>
<text x="133.5" y="449.8" font-size="21" textLength="40" lengthAdjust="spacingAndGlyphs" stroke="#000" stroke-width=".3">60 <tspan dy="-.8" stroke-width=".1">_</tspan></text>
<text x="145.5" y="548.2" font-size="21" textLength="28" lengthAdjust="spacingAndGlyphs" stroke="#000" stroke-width=".3">0 <tspan dy="-.8" stroke-width=".1">_</tspan></text>
<text x="145.5" y="561.1" font-size="21" textLength="28" lengthAdjust="spacingAndGlyphs" stroke="#000" stroke-width=".3">0 <tspan dy="-.8" stroke-width=".1">_</tspan></text>
<text x="126.5" y="658.8" font-size="21" fill="#8a8580" textLength="47" lengthAdjust="spacingAndGlyphs" stroke="#8a8580" stroke-width=".3">-60 <tspan dy="-.8" stroke-width=".1">_</tspan></text>
<text x="122.3" y="684.3" font-size="21.3" textLength="52" lengthAdjust="spacingAndGlyphs" stroke="#000" stroke-width=".3">175 <tspan dy="-.8" stroke-width=".1">_</tspan></text>
<text x="145.5" y="781.8" font-size="21" textLength="28" lengthAdjust="spacingAndGlyphs" stroke="#000" stroke-width=".3">0 <tspan dy="-.8" stroke-width=".1">_</tspan></text>
<text x="133.5" y="793.4" font-size="21" textLength="40" lengthAdjust="spacingAndGlyphs" stroke="#000" stroke-width=".3">50 <tspan dy="-.8" stroke-width=".1">_</tspan></text>
<text x="145.5" y="892" font-size="21" textLength="28" lengthAdjust="spacingAndGlyphs" stroke="#000" stroke-width=".3">0 <tspan dy="-.8" stroke-width=".1">_</tspan></text>
<text x="145.5" y="903.4" font-size="21" textLength="28" lengthAdjust="spacingAndGlyphs" stroke="#000" stroke-width=".3">0 <tspan dy="-.8" stroke-width=".1">_</tspan></text>
<text x="126.5" y="1001" font-size="21" fill="#8a8580" textLength="47" lengthAdjust="spacingAndGlyphs" stroke="#8a8580" stroke-width=".3">-50 <tspan dy="-.8" stroke-width=".1">_</tspan></text>
<text x="108" y="385.5" font-size="24.3" textLength="148" lengthAdjust="spacingAndGlyphs" stroke="#000" stroke-width=".3">MCC Rad51c</text>
<text x="108" y="496.6" font-size="24.3" textLength="193" lengthAdjust="spacingAndGlyphs" stroke="#000" stroke-width=".3">MCC Footprinting</text>
<text x="108" y="739" font-size="24.3" textLength="148" lengthAdjust="spacingAndGlyphs" stroke="#000" stroke-width=".3">MCC Rad51c</text>
<text x="108" y="865.7" font-size="24.3" textLength="193" lengthAdjust="spacingAndGlyphs" stroke="#000" stroke-width=".3">MCC Footprinting</text>
<path d="M177 439.9v-4h6v-0.5h3v0.5h4v-0.5h5v0.5h6v-0.5h6v0.5h3v-0.5h9v0.5h3v-0.5h3v-0.5h6v0.5h3v-0.5h3v0.5h12v-0.5h18v-0.5h3v0.5h12v-0.5h12v-0.5h3v0.5h11v-0.5h6v-0.5h4v0.5h8v-0.5h1v-0.5h3v0.5h3v0.5h3v-0.5h6v-0.5h1v-0.5h2v0.5h3v-1h3v0.5h6v0.5h2v-0.5h1v-0.5h3v0.5h5v-0.5h1v-0.5h6v-0.5h1v-0.5h2v0.5h3v1h3v-2h3v1h3v-2h3v-0.5h3v1h7v-0.5h2v-1.5h2v-0.5h1v0.5h2v-0.5h3v-0.5h2v-0.5h2v-1.5h1v-0.5h2v1h1v-0.5h1v-0.5h1v-0.5h1v-0.5h1v-0.5h1v-0.5h1v-0.5h1v-0.5h1v-0.5h1v-0.5h2v-0.5h1v-0.5h1v-0.5h1v0.5h1v-0.5h1v-0.5h1v-1h1v-0.5h1v-1h2v-0.5h1v-0.5h1v-1h1v-0.5h1v-0.5h1v-1.5h1v-0.5h2v0.5h1v-0.5h1v-0.5h1v-0.5h1v-0.5h1v-0.5h2v-0.5h1v-0.5h1v-0.5h1v-0.5h2v-1.5h2v-0.5h1v0.5h1v-0.5h1v-0.5h1v-0.5h2v-0.5h1v-0.5h2v-0.5h4v-0.5h6v1h3v-2h5v-0.5h1v-0.5h3v0.5h1v-0.5h1v-0.5h1v-2.5h1v-0.5h1v-0.5h1v1.5h1v-0.5h1v-0.5h1v-2h1v-0.5h1v-0.5h2v-0.5h1v-0.5h2v-0.5h1v-1h1v-1h1v-0.5h1v-0.5h2v-0.5h1v-0.5h1v0.5h1v-0.5h1v-0.5h1v-1.5h1v-0.5h1v-0.5h1v-1.5h1v-0.5h1v-0.5h1v-1h3v2h3v-1h3v-1h4v0.5h1v0.5h1v1h2v0.5h1v1h1v0.5h2v1h2v0.5h1v-0.5h1v0.5h1v0.5h2v0.5h1v0.5h1v1.5h2v0.5h2v0.5h1v0.5h1v-1h1v0.5h2v1h12v-1h3v-0.5h3v-0.5h3v1h1v-0.5h3v-0.5h1v-0.5h1v-1h1v-0.5h1v-0.5h1v-0.5h1v-0.5h1v-1h1v-0.5h6v1h3v0.5h3v-1.5h3v0.5h4v0.5h1v2h1v2.5h1v3h2v-2.5h1v-3h1v-2h1v-2h1v-0.5h1v-0.5h1v0.5h1v-0.5h1v-0.5h1v0.5h3v-1.5h2v-0.5h2v-0.5h1v1h1v0.5h1v0.5h1v1h1v1h1v2h1v2h1v4h1v2.5h1v3h1v3.5h1v1.5h1v-0.5h1v-1h1v-0.5h1v-1h1v-0.5h1v0.5h1v0.5h2v0.5h1v0.5h1v-1.5h1v-1h1v-1.5h1v-1.5h1v-1.5h1v-1h1v-1h1v-1.5h1v-1.5h1v-1.5h1v-1h1v-1h1v-1h1v-1h1v-1h1v-1.5h1v-1h1v-1h1v-0.5h1v-1h1v-1h1v-0.5h1v-0.5h1v-0.5h1v-1.5h2v-0.5h1v0.5h2v-0.5h1v-1.5h3v0.5h3v-0.5h4v0.5h1v0.5h1v0.5h1v0.5h1v0.5h1v2h1v0.5h1v0.5h1v-1.5h1v1h1v0.5h1v2h1v0.5h1v0.5h1v-0.5h2v0.5h1v1.5h2v0.5h3v0.5h1v0.5h2v0.5h1v0.5h1v0.5h1v2h1v1.5h1v2h1v2h1v1.5h1v0.5h1v1h1v1.5h1v1h1v1h1v1.5h1v1h1v0.5h1v0.5h1v1h1v1h1v0.5h1v1h1v0.5h1v0.5h1v1h1v1h1v1h1v1h1v1h1v1h1v1h1v0.5h1v2h1v0.5h1v1h1v-0.5h1v1h1v1h1v1.5h1v1h1v1h1v1h1v1h1v1h2v1h1v1h1v1h1v1h1v0.5h1v0.5h2v0.5h1v1.5h1v-0.5h1v-0.5h1v-0.5h1v-0.5h4v-0.5h1v-1h1v-0.5h5v-0.5h2v0.5h1v0.5h3v0.5h3v-1h3v2h4v0.5h2v-0.5h2v0.5h1v-0.5h3v0.5h6v0.5h3v-1.5h3v1h3v0.5h3v-0.5h3v0.5h3v-0.5h3v-0.5h3v1h12v-0.5h2v0.5h4v0.5h4v0.5h2v-0.5h7v0.5h5v0.5h3v-1h1v0.5h2v1h6v-0.5h7v0.5h8v0.5h3v0.5h3v-0.5h3v0.5h3v-0.5h3v0.5h3v-0.5h12v0.5h9v0.5h3v-0.5h1v0.5h2v-0.5h3v0.5h3v-0.5h3v0.5h12v-0.5h3v0.5h12v5z" fill="#4fa5b4" />
<path d="M177 782.6v-5h3v0.5h18v0.5h3v-1h6v0.5h6v-0.5h3v0.5h9v-0.5h4v0.5h2v-0.5h2v0.5h1v0.5h3v-1h3v0.5h6v-0.5h3v0.5h3v0.5h3v-0.5h3v0.5h1v-0.5h1v-0.5h1v-1.5h3v0.5h6v-1h3v1h3v-1h3v1h3v-1h6v-1h1v-0.5h5v1h3v-1h3v0.5h3v-0.5h3v0.5h3v0.5h2v-0.5h4v-1.5h3v-1h3v1h6v-1.5h3v1h4v-0.5h7v-0.5h2v-0.5h1v-0.5h2v-0.5h1v-0.5h1v-2h1v-0.5h1v-0.5h4v-1h1v-0.5h2v1h3v1h3v-1.5h1v-0.5h2v-1.5h3v1.5h2v-0.5h1v0.5h5v-0.5h4v-1h2v-1h1v-0.5h1v-1h1v-1h1v-3h1v-1h1v-1h1v1h3v-0.5h1v-0.5h2v-1h1v-0.5h2v-0.5h3v1h2v-0.5h1v-0.5h1v-0.5h2v-0.5h1v-0.5h2v0.5h1v-0.5h2v1h2v-0.5h1v-2h9v1h3v-0.5h5v-1.5h1v-1.5h1v-1.5h1v-1.5h1v-2.5h1v-0.5h2v-0.5h1v-0.5h2v0.5h1v-0.5h2v-0.5h3v-0.5h3v0.5h6v0.5h3v-0.5h3v-1.5h3v1h1v0.5h2v1h4v1h1v3h1v3.5h1v3h1v1h1v-0.5h1v1h1v1h1v0.5h1v0.5h1v1h1v2h1v0.5h1v1h1v-1.5h1v-0.5h1v-0.5h1v0.5h1v-0.5h2v-2h1v-0.5h1v-0.5h1v1h1v-0.5h1v-3h1v-4.5h1v-3h1v-3.5h1v-1h1v-3h1v-3h1v-3h1v-2.5h1v-3h1v-3h1v-3h1v-2.5h1v-3.5h1v-3h1v-2.5h1v-1.5h1v-2.5h1v-2h1v0.5h1v-1h1v-1h1v-2h1v-1h1v-0.5h1v-1h1v-0.5h4v-0.5h4v-2h1v-0.5h2v1.5h1v-3h1v-2h1v-0.5h1v-0.5h1v-0.5h1v-1h1v-0.5h2v0.5h1v-0.5h4v-0.5h1v-0.5h3v0.5h1v0.5h1v1h1v0.5h1v1h1v0.5h2v0.5h1v0.5h1v1h1v0.5h1v0.5h1v1.5h1v1.5h1v1.5h1v1h1v2h1v2h1v1.5h1v1.5h2v-0.5h1v0.5h2v1h1v0.5h2v0.5h1v0.5h2v-1.5h2v0.5h1v1h1v0.5h2v0.5h2v0.5h1v-2h2v0.5h1v1h3v-1h1v0.5h2v1h3v1.5h1v0.5h1v1h1v0.5h1v1h1v0.5h1v0.5h1v1h1v0.5h1v1h1v1h1v1h1v1.5h1v0.5h2v-0.5h2v-0.5h1v1h2v-0.5h1v-1.5h3v1h2v1.5h1v0.5h1v1.5h1v1.5h1v1.5h1v2h1v2h1v2h1v2.5h1v2.5h1v2.5h1v2.5h1v3h1v5.5h1v2.5h1v3h1v1h1v2.5h1v2h1v1.5h1v2.5h1v2h1v1.5h2v0.5h1v2h2v0.5h1v-1h2v0.5h1v-2h1v-0.5h1v-0.5h1v2h1v-0.5h1v-0.5h1v-2h1v-1h1v-0.5h1v-1.5h1v-0.5h1v-1h2v-1h1v-1.5h1v-2.5h1v-1.5h1v-1.5h2v-1.5h1v-1.5h1v-1.5h1v-1.5h1v-0.5h1v-0.5h1v-0.5h1v-0.5h1v-1.5h2v-0.5h3v-0.5h1v-0.5h3v1.5h3v-0.5h3v-0.5h3v0.5h3v1.5h3v-1.5h3v1h3v-0.5h3v0.5h3v-1h1v0.5h2v1h2v0.5h1v2h1v0.5h1v0.5h2v0.5h1v0.5h1v-1.5h1v0.5h2v1.5h2v0.5h1v-1h1v0.5h1v0.5h1v1h1v0.5h1v0.5h1v1h1v0.5h1v0.5h1v-1h1v0.5h1v0.5h1v2h2v1h1v2h1v1.5h1v1h1v-2h1v1h1v1.5h1v4.5h1v1h1v1.5h1v-1h1v1h1v1h1v1h1v1h1v1h1v1h1v0.5h1v0.5h1v1.5h1v0.5h2v-0.5h3v0.5h9v-0.5h9v0.5h11v-0.5h9v-0.5h1v0.5h6v-0.5h6v-0.5h6v-0.5h2v-0.5h1v1h4v-0.5h2v0.5h3v-0.5h1v-0.5h2v-0.5h2v-0.5h1v0.5h3v-0.5h1v-0.5h2v-0.5h1v-0.5h2v0.5h1v-0.5h5v-1.5h3v0.5h1v-0.5h2v-0.5h2v0.5h1v-0.5h4v0.5h2v1h6v-0.5h3v0.5h3v1h3v-2h2v-0.5h1v1h1v-0.5h2v-1h2v-0.5h1v1.5h1v-0.5h2v-2h3v1.5h1v-0.5h2v-0.5h1v0.5h2v1h1v0.5h2v-1h1v0.5h3v0.5h4v0.5h1v-0.5h2v0.5h2v0.5h2v-0.5h1v0.5h2v1h3v0.5h1v0.5h2v-0.5h1v0.5h2v-0.5h1v0.5h2v-0.5h6v1.5h1v-0.5h2v-1h3v-0.5h1v-0.5h2v1h3v0.5h6v0.5h1v0.5h2v-0.5h1v0.5h2v0.5h6v6z" fill="#4fa5b4" />
<path d="M180 549.7h2v-7h1.5v6.5h1.5v0.5h1v-0.5h1.5v-1.5h1.5v1.5h1v0.5h0.5v-2h1.5v0.5h1v-0.5h1v1.5h1v-1.5h1.5v1h1.5v1h3v-2.5h3v2.5h1v-1.5h0.5v-1h1.5v1h1v1h1v-0.5h1v1h1v-1h1v0.5h1v-1h1v1.5h1v-1h1v-0.5h1v1.5h3v-0.5h1v-1h1v-0.5h1.5v1h1.5v0.5h1v-0.5h1v1h4v-2.5h1.5v2h1.5v0.5h1v-0.5h0.5v-2h3v0.5h1.5v1.5h1v0.5h1v-1h1v0.5h1v0.5h5v-0.5h1v-0.5h0.5v-1h1.5v-0.5h1.5v2.5h0.5v-1h1v1h1v-0.5h1v-1h2.5v1.5h1.5v-1h1v1h2v-1.5h1.5v1.5h0.5v-2h1v2h1v-0.5h1v0.5h2v-0.5h1v-1h1v1h1v0.5h6v-2h2v1.5h1v0.5h1v-1h1v-1h1.5v2h1.5v-1h1v0.5h2v0.5h1v-0.5h1v0.5h2.5v-2h1.5v-0.5h1.5v1h0.5v1h1v-2h1.5v2.5h1.5v-2h2v2h1v-1h1v0.5h0.5v-1.5h1.5v1.5h1v0.5h1v-1h1v1h1v-1h1v0.5h1v0.5h1.5v-2.5h1.5v2.5h2v-2h2v2h6v-0.5h1v-0.5h1v1h2v-0.5h1v0.5h5v-2h1v2h1.5v-2.5h1.5v2.5h1.5v-2h1.5v2h1v-2h0.5v-0.5h1.5v1.5h1v1h1v-2h1v2h3v-2h1v2h5.5v-10h1.5v10h3v-1h1v-1h1v2h1v-1.5h1v1.5h1v-2h1v0.5h2v-1.5h1v3h1v-2.5h3v2h1v0.5h2v-2.5h1v0.5h0.5v2h0.5v-4h1v1h1v3h0.5v-11h1.5v11h1v-2h1v-2h1v2.5h1v1.5h1v-0.5h1v0.5h2.5v-11h1.5v10.5h0.5v-2h1.5v1h1v1.5h1v-3h1v1h3v-2.5h1v4.5h1v-1.5h1v1.5h1v-0.5h1v0.5h1v-4.5h0.5v-0.5h0.5v3h0.5v-6h1.5v8h1.5v-2h2.5v2h0.5v-1.5h3v1h0.5v-6h1v6.5h1v-4.5h1v4.5h1v-0.5h1v0.5h1v-6h1v6h1v-2h1v2h1v-2h0.5v-8h0.5v-37h1.5v37h0.5v8h1v-6h1v6h1v2h1.5v-3h1.5v-11h1.5v11h0.5v-5.5h1v6.5h1.5v-2h0.5v4h1v-2.5h1v-1.5h0.5v-0.5h0.5v2h1v-2h1v-1.5h1v6h4v-6.5h1v4h1v2.5h1v-1.5h0.5v-30.5h1.5v22.5h0.5v-0.5h0.5v5h1v-13h1v14h1v-2.5h1.5v4h0.5v-10h1v-23.5h1.5v19.5h0.5v13h1v-12.5h2v10.5h1v4h1.5v1.5h0.5v-9.5h1v7.5h1v-3h1v2.5h1v0.5h1v-6h1v8h1.5v-8h0.5v-28h1.5v28h0.5v6.5h1v-25.5h0.5v-0.5h0.5v22.5h1v-16.5h1v21.5h2v-15.5h1v15.5h0.5v-13h0.5v-47h1.5v47h0.5v-2h1v10h1v-9h1v-19.5h1v1h1v-27.5h1.5v38.5h0.5v2.5h0.5v-0.5h0.5v1h1v6.5h1v9h1v-0.5h1v-8.5h1v-28.5h1v37h1v-33.5h0.5v-25h1.5v40h0.5v20.5h0.5v-14.5h1v-8.5h1v14.5h1v-6.5h1v-13.5h1v17.5h1v10h0.5v2.5h0.5v-0.5h0.5v-6.5h0.5v-27h0.5v-27.5h0.5v-24.5h1.5v14h1.5v14h0.5v15.5h0.5v15.5h0.5v12.5h0.5v14.5h2v-1h0.5v-11h0.5v-43h1.5v43h0.5v-24.5h1v31.5h1v5h0.5v-2h0.5v-19h1.5v-0.5h0.5v-23h0.5v-19h1.5v30h0.5v20.5h0.5v1.5h0.5v0.5h0.5v1h0.5v1.5h0.5v1h0.5v1h0.5v1h0.5v4h0.5v0.5h1v-1.5h1v2.5h0.5v-2.5h1.5v-4.5h1v2.5h0.5v-8.5h1.5v10h0.5v2h0.5v-0.5h2v-0.5h1.5v0.5h0.5v1h1v0.5h1v-1.5h1v-1h1v2.5h2v-2h1v1.5h1v-3h0.5v-0.5h0.5v4h1v-2.5h1.5v2.5h2.5v-3h1v-1.5h1v4.5h2v-3h1v3h1v-3h1v1h1v-1.5h1v-0.5h1v4h1v-3.5h1v-1.5h1v2.5h1v2h1v-5.5h0.5v-0.5h0.5v-0.5h0.5v-0.5h0.5v4.5h0.5v-0.5h0.5v1h2v2.5h1.5v-8.5h0.5v-15h1.5v15h0.5v3h1v0.5h1v5h1v-0.5h1v-2.5h1v-5.5h1v-3.5h1v10h1v-7h1v3.5h1v1.5h1v4h1v-11h1v8h0.5v-0.5h0.5v-0.5h1.5v-11h1.5v11.5h0.5v2h1v-1h0.5v-8h1v5.5h1v-5.5h1v-5.5h1v9h1v5h0.5v-3h2.5v-10h0.5v-15h0.5v-13.5h1.5v9.5h1v6h0.5v7h0.5v7h0.5v7h0.5v1.5h0.5v-9.5h0.5v1.5h0.5v12.5h0.5v0.5h3.5v0.5h1.5v-1.5h0.5v-1.5h1v3h1v-3h1v3h4v-8h1v6.5h2v-2.5h0.5v-0.5h0.5v2.5h0.5v-0.5h1v-0.5h0.5v2h1v-6.5h0.5v-0.5h0.5v5h0.5v-0.5h0.5v-14h0.5v-1h0.5v-9h1v-2h1v6h0.5v7h0.5v8.5h0.5v2.5h0.5v-6h1v11.5h1v-19h1v15h1v4h1v-11.5h1v-9h0.5v-34.5h1.5v35.5h0.5v13h0.5v-0.5h1v-17.5h1v19.5h0.5v-5h1.5v-13h0.5v-34h1.5v25h0.5v-0.5h0.5v23h1v-5h1v-17.5h1v16.5h0.5v-8h1.5v8h0.5v9h0.5v-4.5h1v8.5h2v-17h0.5v-35.5h1.5v33h1v13.5h1v-19.5h0.5v2h0.5v20h0.5v0.5h0.5v4h1v1h0.5v-5h0.5v-10.5h0.5v2h0.5v13.5h1v-0.5h0.5v-1.5h0.5v-6h1v-0.5h1v6.5h1v-10.5h1v10.5h1.5v-5.5h0.5v-29.5h1.5v29.5h0.5v4h0.5v0.5h2.5v-1.5h1v-1.5h1v-10h1.5v13h0.5v-1h1v2.5h1v-2h1v4h1v-6.5h1v-5h1v10h1v-5h0.5v-18h1.5v13.5h1v9h3v-5.5h1v6.5h0.5v-1h1.5v0.5h1.5v1.5h0.5v-4.5h2v4.5h2v-4h1v1h1v-0.5h1v-3.5h1v7h0.5v-2h1.5v-7.5h0.5v-8h1.5v8h0.5v9h0.5v0.5h1v-3.5h1v-3.5h0.5v0.5h0.5v4.5h1.5v1.5h0.5v0.5h2v-6.5h1v6.5h4v-1.5h1v1.5h1v-5.5h1v4.5h1v-2h1v0.5h1v2.5h2v-3.5h1v2.5h1v1h1v-0.5h1v-1h1v-2h1v1h1v2.5h1v-0.5h1v0.5h1v-3.5h1v1h0.5v2.5h2.5v-4.5h0.5v-0.5h0.5v3h1v2h4v-0.5h1v0.5h1v-4h1v0.5h0.5v-6.5h1.5v6.5h0.5v3.5h0.5v-4.5h1v-4h1v4.5h1v-5.5h0.5v-7h1.5v7h0.5v7.5h1v-1h1.5v-6.5h1v6.5h1v0.5h2v-3.5h0.5v0.5h0.5v4.5h1v-2h1v0.5h1v0.5h1v2h3v-2h1v2h1v-2h1v2h2v-0.5h1v0.5h1v-1.5h1v1h1v0.5h1v-2h0.5v-0.5h1.5v1h1.5v1.5h1.5v-0.5h1v0.5h2v-2.5h1v2h1v0.5h1v-1h1v1h2v-3.5h1v2.5h0.5v-1.5h1.5v1h1v1.5h1v-0.5h2v0.5h1v-1.5h1v1h1v-1h1v-1.5h1v1.5h1v1h1v0.5h2v-2.5h1v2.5h1v-0.5h1v0.5h2v-2h1.5v1h0.5v1h3v-0.5h2v0.5h2v-2h1.5v1h0.5v0.5h1v-2.5h1v3h2v-1h1v1h1v-1h1v1h1v-1.5h2v1.5h1v-3h1v3h2.5v-2h2.5v-0.5h1v2.5h1v-2h1v2h2v-2h1.5v1.5h0.5v-1h1v0.5h1v1h0.5v-1.5h2.5v-1h1v2.5h2v-1.5h1v-0.5h1v2h1v-0.5h0.5v-1.5h3v2h0.5v-2h1v0.5h1v1.5h0.5v-2h1.5v2h1v-1.5h1v-0.5h2.5v2h1.5v-2h1v1h1v1h1v-0.5h1v0.5h0.5v-1.5h0.5v-0.5h1v2h4v-2.5h1v2.5h1v-2h1.5v1h0.5v1h2.5v-2.5h1.5v2h1v-0.5h1v1h3v-1.5h1v1h1v0.5h1v-2h2.5v1h0.5v-0.5h1v1.5h3v-1.5h1v1.5h1v-0.5h1v-2h1v0.5h2v2h1v-1.5h3.5v1.5h2.5v-1h1v1h2v-1.5h0.5v-1h3v2.5h0.5v-0.5h1v0.5h3v-0.5h1v0.5h3v-1.5h1v1.5h1v-0.5h3v0.5h1v-0.5h1v0.5h2v-0.5h1v0.5h1v-2h1v0.5h1v1.5h1v-0.5h1v0.5h2v-2h1v2z" fill="#4a9fb0" />
<path d="M180 562.6v1h1v-1h1v0.5h1v1h1.5v-1.5h1.5v1h1v-1h1v0.5h1v1h2v-1.5h1v1h1v-1h1v0.5h1v-0.5h2v0.5h2v-0.5h2v0.5h1v-0.5h0.5v1.5h1.5v-1h1v0.5h1v-1h1v1h1v0.5h1v-1.5h1v2h4.5v-2h0.5v1h4v-1h3v2h1.5v-2h1.5v1.5h1.5v0.5h1.5v-2h3v1.5h1.5v-1.5h1.5v1h1v-1h0.5v2h1.5v-2h1v0.5h1v0.5h1v1h1.5v-2h3.5v0.5h1v-0.5h4v1h2v-1h1.5v2h1.5v-2h2v0.5h1v-0.5h1v1.5h2v-0.5h1v-1h1v0.5h1v0.5h1v-1h3v1h1v-1h2v0.5h1v-0.5h1v1.5h1v-1.5h2v1h1v-1h3v0.5h1v-0.5h1v1.5h1.5v-1.5h0.5v1.5h1v-1.5h1v0.5h1v0.5h1v-1h7.5v2h1.5v-1h1v-1h2v0.5h4v-0.5h0.5v1.5h1.5v-1.5h1v1h1v-1h2v0.5h1v-0.5h1v1.5h1.5v-1.5h2.5v0.5h0.5v1.5h1.5v-0.5h1.5v-0.5h1.5v-0.5h1v-0.5h2v1.5h2v-1.5h1v1h1v-1h3v0.5h1v-0.5h1v1.5h1v-1h1v-0.5h10v1.5h1.5v-1h0.5v-0.5h4v1.5h3v-1.5h1.5v2h1.5v-2h1v0.5h0.5v1h1.5v-0.5h1v-1h0.5v1.5h2.5v-1h1v-0.5h2v1h1v-1h1v1h1v-1h1v2h1v-2h1v1h1v-1h1v1.5h1v-1.5h0.5v1.5h1.5v-1.5h1v0.5h2v1h4.5v-1.5h1.5v0.5h1v1h1v-1.5h2v2h1v-1.5h1v-0.5h1.5v2h1.5v-0.5h1v-1h1v-0.5h1v1.5h1.5v-1h0.5v0.5h1v-1h1v1.5h0.5v0.5h1.5v-1h1v-1h1v2h1v-2h1.5v2h1.5v-1.5h1v-0.5h3v0.5h1v-0.5h3v0.5h1v-0.5h1v3h0.5v0.5h0.5v-3h2v-0.5h0.5v0.5h0.5v-0.5h1v6.5h1v-2.5h1v-2h1v0.5h1v4h1v-2.5h0.5v10.5h0.5v13.5h1.5v-13.5h0.5v-7h1v-1h1v-6.5h1v0.5h1v1h1v-1.5h1v1.5h1v-1.5h1v5h1v-3.5h1v1h1v3h1v-1.5h1v-2h1.5v-0.5h1.5v2.5h1v2.5h1v-6.5h1v4.5h1v-2h0.5v1h0.5v0.5h1v-0.5h1v8h0.5v0.5h0.5v-9h0.5v16h1.5v-18h1v-1h1v5h1v-3.5h0.5v-1.5h2.5v10.5h0.5v8.5h1.5v-17.5h1.5v-1.5h3v1.5h1.5v0.5h1v3h1v-3.5h1v6h1v0.5h0.5v14.5h1.5v-14.5h0.5v-0.5h0.5v-3h0.5v-3h0.5v9.5h1v4.5h1v-8.5h1v-4.5h1v-0.5h1v3h1v-3h1v2.5h1v-3h0.5v1.5h1.5v-1.5h1v5.5h1v12h1v-18.5h1v12h1v-4.5h1v-5.5h1v7.5h0.5v6h0.5v29h1.5v-29h0.5v-4h1v-10.5h1v2.5h1v-3.5h1v0.5h1v-1h1v9h1v-9h2v7h1v-7h1v3.5h1v13.5h1v-17h2.5v1.5h0.5v0.5h1v3h1v-4.5h0.5v7h0.5v27h1.5v-27h0.5v-4h0.5v2.5h1.5v5.5h1v-3h1v1h1v3.5h1v-8.5h0.5v-2.5h0.5v-2h1v18.5h1v-18.5h1v4h1v-3h1v10.5h1v3h1v3h0.5v31h1.5v-31h0.5v-13h0.5v-1.5h1v4h1v-6h1v0.5h1v6h1v-2.5h0.5v-0.5h0.5v-3h1v3.5h0.5v-1h0.5v-4h1v3h0.5v-0.5h0.5v-2.5h1v1h1v-1h3v1.5h1.5v-1h0.5v1.5h1v-1h1v0.5h1v-0.5h1v1h1v-2h0.5v1.5h1.5v-1.5h1v1h1v-1h1v1.5h2v-1.5h1v2h1.5v-2h0.5v1h1v-1h2v0.5h1v1h1v0.5h3v-1.5h1v-0.5h1v2.5h1v-1h0.5v-1.5h0.5v2h2v-2h1v2h1v-1h1v-1h1v1h1v-1h1v4.5h0.5v0.5h0.5v2.5h1v-7.5h2v0.5h1v-0.5h1.5v2h0.5v7.5h0.5v0.5h0.5v-10h1v2.5h0.5v0.5h0.5v2.5h1v-1.5h1v0.5h1v-4.5h1v4.5h1.5v-0.5h1.5v3h0.5v12h1.5v-12h0.5v-5.5h0.5v3.5h1v8.5h1v-10h1v5h1v6h1v-10h1v-4.5h1.5v34h0.5v30h1.5v-30h0.5v-26.5h1v-7.5h4v1.5h2v-0.5h1v5h0.5v1.5h0.5v-6.5h2v1.5h0.5v0.5h1v3h1v0.5h0.5v-3h1v-1h0.5v2.5h0.5v4h1v13.5h0.5v0.5h0.5v1h1v-21.5h1v-2.5h0.5v6h0.5v24h0.5v1h0.5v13h0.5v11h1.5v-11h0.5v54.5h1.5v-63.5h0.5v-34.5h0.5v3h1v28h0.5v28.5h1.5v-28.5h0.5v-10.5h0.5v-2.5h1v-4h0.5v0.5h0.5v8.5h0.5v21.5h1.5v-21.5h0.5v-19h0.5v-4.5h0.5v1.5h0.5v10.5h1v-5.5h1v-5.5h1v17.5h0.5v14.5h1.5v-1h0.5v-0.5h0.5v-20h1v12.5h0.5v-0.5h0.5v-6h0.5v-0.5h0.5v-13h0.5v-0.5h0.5v-1h1v-2.5h1v1.5h0.5v-0.5h0.5v-1h1v8.5h1v-6.5h1v13h0.5v-0.5h0.5v-14.5h1v3.5h0.5v-0.5h0.5v4.5h1v-7h0.5v1h0.5v13.5h0.5v-0.5h0.5v-10.5h1v1.5h1v7h1v-10h0.5v-0.5h2.5v1.5h1v-0.5h0.5v-1.5h0.5v2h0.5v0.5h0.5v-0.5h0.5v0.5h0.5v9h0.5v1h0.5v-9h1v-3.5h1v3.5h1v-5h1v15.5h0.5v21h1.5v-23.5h0.5v-11h0.5v-1.5h1v5.5h1v-2h1v16h1v-8.5h1v-11h1v4.5h1.5v-0.5h1.5v13h1v-17.5h0.5v2.5h1.5v6h1v7h1v-7h1v15.5h0.5v43h1.5v-43h0.5v-5h0.5v-16.5h1v-2.5h1v4.5h2v15.5h0.5v1h0.5v-16h0.5v0.5h0.5v-4h1v27.5h0.5v1h0.5v-22.5h1v12h1v-17h1v-1h1v21.5h1v11h0.5v0.5h0.5v-2.5h1v44.5h1.5v-36.5h1.5v-7h0.5v-8h0.5v-7.5h0.5v-8h0.5v4.5h1v-10h1.5v6.5h1.5v0.5h1v-6.5h0.5v5h1v9h0.5v33.5h1.5v-33.5h0.5v7.5h0.5v-2h1v-2h0.5v-17h0.5v-0.5h0.5v-2h0.5v-0.5h1.5v3.5h0.5v0.5h0.5v-4h1v-0.5h1v2h0.5v3h0.5v0.5h1v-4h1v5h1v-8h1v6.5h1.5v-1h0.5v-5.5h1v4.5h1v16h1v9h1.5v-19h0.5v-10.5h2v15.5h0.5v8.5h1.5v-15.5h0.5v-4.5h0.5v-4h1.5v1.5h2.5v4h1v13.5h1.5v-10h0.5v-3h0.5v-0.5h0.5v-2.5h0.5v-0.5h0.5v-2.5h1v7h0.5v-1.5h0.5v-5h1v1.5h1v-1h0.5v0.5h0.5v2.5h1v-4h1v3.5h1v-3.5h2v1h1v-1h1v2.5h1v-1.5h1v1h1v-0.5h1v1h1v-2.5h2.5v2h1.5v-1h1v-0.5h1v-0.5h2v1h2v-1h2v1.5h1v1.5h1v-3h2v2h1v-2h1v2.5h1v-2.5h2v1h1v-0.5h1v0.5h1v-1h1v2h1v-2h0.5v2h1.5v0.5h1v-0.5h1v-2h5v0.5h1v-0.5h1v1h1v0.5h0.5v0.5h1.5v-0.5h1v-1.5h1v2h1v1h1v-1.5h1v-0.5h2v-0.5h1v1h1v-1.5h6v1h1v-1h2v1h1v0.5h1v-1.5h1v3h1v-3h0.5v1.5h1.5v1.5h1v-2h1v-1h2v1h2v1h3v-1.5h1v0.5h1v-1h3v2h1v-1.5h1v2h1v-1.5h1v-0.5h1v-0.5h2v1.5h1.5v-1.5h1.5v2h1v-0.5h0.5v-0.5h0.5v0.5h1v-1.5h1v2h2v-0.5h1v1.5h1v-2h1v1.5h1v-2.5h1v2h1v-2h6v1.5h1v-1h1v-0.5h1v1h1v-0.5h1v-0.5h1v2.5h1v-0.5h0.5v-2h1.5v1h1v2h2v-2.5h1v2h1v-2.5h2v2.5h1v-0.5h2v-0.5h3v-1.5h1v0.5h1v-0.5h1v2h2v0.5h1v-2.5h2v0.5h1v-0.5h1v2h2.5v-2h0.5v2.5h1v-0.5h1v-0.5h0.5v-1h0.5v-0.5h1v2.5h1v-2.5h2v2.5h1v-1.5h1v1h2v-2h1v0.5h1v2h1v-0.5h1v-2h1v1.5h1v-1.5h3v0.5h1v0.5h3v0.5h2v0.5h1v-2h1v1.5h1v-1.5h5v2h1.5v-2h0.5v2.5h1v-2.5h1v2.5h1v-1h1v0.5h1v-1h1v1h1v-2h1v1h1v1h1v-2h1v1h2v-0.5h1v-0.5h1v2h1v-2z" fill="#9ad3cf" />
<path d="M180 892.8h1.5v-2.5h1.5v2.5h1.5v-2h2v2h54.5v-1h1v0.5h1v-0.5h1v0.5h2v0.5h5v-1h1v-1.5h1.5v2.5h3.5v-1.5h1v1.5h1v-1.5h1v0.5h1v1h1v-1h1v1h1v-1.5h1.5v1.5h1.5v-0.5h1v0.5h1v-1.5h1v1.5h1v-0.5h1v-1h1v1.5h1v-1.5h1v1.5h1v-2.5h1.5v2h0.5v0.5h1v-1.5h1v0.5h1v1h1v-2h2v2h2v-0.5h1v-0.5h1v1h1v-2h1v2h3v-1.5h1v1.5h1v-1.5h2v1.5h2v-2.5h2.5v0.5h1.5v2h1v-1.5h1v1.5h1v-2.5h3v2.5h1v-1h1v0.5h1v0.5h2v-0.5h1v-1h1v1h2v0.5h1v-0.5h0.5v-1.5h4.5v2h1.5v-2h3v1h0.5v-1.5h2v2.5h2v-0.5h1v0.5h1v-1.5h1v-1h1v0.5h0.5v1.5h0.5v-0.5h2v1h1v-2.5h1v2h2v-0.5h1v0.5h1v0.5h1v-1.5h2v-1h1v2.5h1v-0.5h1.5v-2h1.5v0.5h1v0.5h1v1.5h2v-2.5h2v2h0.5v-16.5h1.5v15h1v2h1.5v-2.5h2.5v-0.5h1v2h1v1h3v-1h1v-1.5h1v1.5h1v-1.5h1v1h0.5v1.5h3v-2h1.5v-0.5h1.5v1h0.5v1h1v-2h1.5v2.5h0.5v-1.5h1v-1h1.5v2h0.5v-2.5h1v2.5h1v-2h2v1h2v-1.5h1v1.5h1v1h1v0.5h1v-2h1v2h1v-1.5h1v1.5h3v-0.5h1v0.5h2v-2h1.5v2h0.5v-3h1v3h1.5v-1.5h1.5v-0.5h1v-0.5h1v2.5h4v-1h1v-0.5h1v1.5h1v-1h1.5v-1.5h0.5v-0.5h1v1h1v2h0.5v-2h3v1h0.5v1h3v-3.5h1v1h1.5v2.5h1.5v-1h1v-1.5h1.5v-8.5h1.5v10.5h1v-0.5h1v-1.5h1.5v1h0.5v1h1v0.5h1v-3h1v1.5h1v1h1v-0.5h1v-2.5h1v1h1.5v2.5h2.5v-2h1v0.5h1v1.5h2v-2h1v2h5v-0.5h1v-19h1.5v17.5h1.5v-1.5h1v1h0.5v2.5h0.5v-5h0.5v-0.5h0.5v5.5h1v-3.5h0.5v-0.5h0.5v-3.5h1v7.5h3v-7.5h1v2.5h1v0.5h0.5v-0.5h0.5v5h1.5v-3h0.5v-6.5h1v-4.5h0.5v-1h0.5v8h1v1.5h0.5v-0.5h0.5v4h1.5v2h0.5v-8h1v3h0.5v-2.5h0.5v-13.5h2v15h1v-4.5h1v-15h1v7.5h1v13.5h0.5v4.5h1v-13h0.5v-47h1.5v47h0.5v10h1v0.5h1v-3.5h1v-3.5h1v6h1v-1.5h1v5h1v-1.5h1v-32h0.5v-40.5h1.5v40.5h0.5v27.5h0.5v4h0.5v2h0.5v-9h0.5v-2.5h0.5v-41.5h1.5v41.5h0.5v2h1v8h1v-5h1v-0.5h1v-1.5h1v4.5h1v-1h0.5v-12h0.5v-31h1.5v22.5h0.5v15.5h1v9h1v-6h1v-7h0.5v-25h1.5v25h0.5v11h0.5v-3.5h1v-2.5h1v6h1v-13h1v-4h1v-27.5h0.5v-43h1.5v43h0.5v19.5h0.5v28h1v-2.5h1v-11h1v5.5h0.5v-1.5h1v1h0.5v2h0.5v1h0.5v0.5h1v1h0.5v0.5h0.5v3.5h1v-3.5h0.5v-13h1.5v13h0.5v2h0.5v1.5h3v-0.5h0.5v-1h1.5v-0.5h1.5v2h33.5v-2h1v2h2v-1h1v1h1v-0.5h1v-0.5h1v-1h1v1h1v1h5v-1.5h1v1.5h1v-3h1v1.5h1v1h1v0.5h1v-2.5h1v2.5h1v-2h1v1h1v1h3v-1.5h1v0.5h1v-1.5h1v-2.5h0.5v-9h1.5v9h0.5v3.5h0.5v-1h1v1.5h1v1h3v-1h1v0.5h1v-3h1v1.5h0.5v-0.5h1.5v1h1v1h1v0.5h1v-1.5h1.5v-1h1.5v2.5h2v-0.5h1v-2.5h1v3h0.5v-2h1.5v1.5h1v-2h1v2h2v-2.5h1v-2h1v0.5h0.5v-5h1.5v7h1v2.5h2v-4.5h1v4.5h1.5v-2h1.5v0.5h1.5v-1h1.5v1.5h1v1h1v-3h0.5v-0.5h0.5v2h1v-1h2v-2h1v4.5h0.5v-2.5h3v2h0.5v-5h1v5.5h1v-4.5h1v2h2v-11.5h0.5v-25h1.5v25h0.5v12.5h0.5v1.5h0.5v-2h1.5v1.5h1v0.5h1v-5h1v1.5h1v1h0.5v2.5h1.5v-4.5h1.5v-0.5h3v0.5h1.5v1.5h1v-3.5h1v3h1v-1h1v-5.5h1v5.5h1v2h1v-2.5h1v1.5h1v1h2v-0.5h1v-1.5h1v4.5h0.5v-1.5h1.5v-4h1.5v3h0.5v-3h1v2h1v-6h1v9.5h1v-2h1.5v2h2.5v-7.5h1v1h1v6.5h1v-0.5h0.5v-5h1.5v2h1v-7h1v7.5h1v-2h1v1h2v0.5h1v-7.5h1v7.5h1v-5h1v7.5h0.5v0.5h0.5v-3h1v1.5h1.5v-3h1.5v-4h0.5v1h0.5v4.5h0.5v3.5h0.5v-0.5h1v0.5h1v-5h0.5v0.5h0.5v4h1v0.5h1v-0.5h1v-1h1v1.5h2v-0.5h1v-1.5h1.5v0.5h1.5v1.5h19.5v-0.5h0.5v0.5h1v-2.5h1.5v0.5h1.5v2h1.5v-2h0.5v-0.5h1v1h1v1.5h0.5v-2.5h1.5v2.5h1v-0.5h1v-1.5h2v-1h1v3h2v-1h0.5v-1h1.5v0.5h1.5v1.5h0.5v-1.5h2v1.5h3v-0.5h2v0.5h1v-2h1v2h1v-0.5h1v-1h2v1h1v0.5h2v-2.5h1v1h1v1h1v0.5h4v-0.5h1v0.5h1v-0.5h1v-2h1v2.5h1v-1h1v-1.5h1v0.5h0.5v-7.5h1.5v7h0.5v2.5h2.5v-1.5h0.5v-0.5h1.5v2h2v-1.5h1v0.5h1.5v-1h1.5v1h2v1h1v-1h1v-1.5h1v0.5h1v2h1v-1.5h1v-0.5h1v2h1v-1h1v1h1v-2.5h1.5v2.5h3v-2h1.5v-0.5h1v1h0.5v-1h1.5v1.5h1v0.5h1v-1h1v1.5h3v-1h1v1h1v-1h1v1h1v-1h1v-0.5h1v1.5h1v-1h1v0.5h0.5v-16h1.5v15.5h1v-0.5h1v0.5h1v1h1v-1h1v-1h1v-0.5h1v2.5h1v-0.5h1v0.5h1v-1h1v-6h1.5v5.5h0.5v1.5h1v-1h1v1h2v-2.5h1v2.5h3v-2h2v-1h1v1.5h1v-0.5h1v2h2v-1h1v-1.5h1.5v1.5h0.5v0.5h1v-2h1v2.5h0.5v-2h1.5v-0.5h1.5v0.5h0.5v-0.5h1v2h1v-0.5h0.5v-1h1.5v2h3v-1.5h2v-0.5h1v2h1v-1h2v-1.5h1.5v2h0.5v-2.5h1v3h2v-2.5h2v-0.5h1v2.5h1v-1h1.5v-0.5h1.5v1.5h1v0.5h0.5v-2h1.5v-0.5h2v2.5h1v-2.5h1v1.5h1v-1.5h1v0.5h3v2h6v-0.5h1v0.5h2v-2h1v0.5h1v1.5h1v-1h1v-0.5h1v1.5h1v-2.5h1v2h2v-2h1.5v2h0.5v-1.5h2.5v2h3v-2h1.5v0.5h1v1.5h1v-1h1v-1.5h1v2.5h3v-2.5h1v2.5h1z" fill="#4a9fb0" />
<path d="M183 905.6h0.5v1.5h1v-1.5h1.5v1.5h1.5v-1.5h53v2h2.5v-2h1v0.5h1v-0.5h1v1h1v-0.5h2v0.5h1v-0.5h1v-0.5h5v1.5h1v-1.5h5v0.5h1v0.5h1v-1h1v0.5h2v-0.5h1v0.5h1v0.5h1v-1h1v0.5h2v-0.5h1v0.5h0.5v1h1.5v-1.5h1v0.5h1v-0.5h2v0.5h2v1.5h1.5v-2h7.5v3.5h0.5v3.5h1.5v-3.5h0.5v-3.5h2v1.5h1.5v-1.5h1v1h1v-1h2.5v1.5h1.5v-0.5h1v-0.5h3v0.5h0.5v0.5h2.5v-1.5h1v0.5h1v1h1.5v-1.5h0.5v1.5h2.5v-1h0.5v-0.5h1v1.5h1v-1.5h5v1.5h2v-1.5h1v1h2v-1h2v1h1v-0.5h1v1h1.5v-0.5h0.5v-1h1v1.5h1.5v-1.5h1.5v1h1v-1h3v1h1v1.5h0.5v4.5h1.5v-4.5h0.5v-2h0.5v0.5h1v0.5h1v-1.5h3v1h1v-1h1v1.5h2v-1h1v-0.5h2v1h1v-1h1v0.5h0.5v1h1.5v-1.5h1v1.5h1v-1.5h2v0.5h0.5v1.5h1.5v-0.5h1.5v-1.5h0.5v1h1v-1h2v1h2v-0.5h0.5v1h0.5v0.5h2.5v-1.5h1.5v0.5h1v-1h0.5v2h1.5v-2h1v0.5h1v-0.5h4v1.5h1v-1.5h3v0.5h0.5v1.5h1.5v-1h1v-1h2v2h1.5v-0.5h1.5v-1.5h1v1h1v-1h1v0.5h1v-0.5h0.5v1.5h1.5v-1.5h2v1.5h1v-1h1v-0.5h0.5v2h3v-0.5h0.5v-1h2v-0.5h3.5v1.5h1.5v-1.5h1.5v2h1.5v-2h1v1.5h1v1.5h1v-1.5h1.5v-1.5h0.5v0.5h1v1.5h1v-2h2v3.5h1v-1h1v-2.5h1v1h1v0.5h1v-1.5h1v2.5h1v-2h1v-0.5h2.5v2h1.5v-2h1v1h1v-1h1v5h0.5v0.5h0.5v-5.5h1v2.5h1v1h0.5v0.5h0.5v2h0.5v0.5h0.5v-5.5h1v0.5h1.5v-1.5h0.5v6h0.5v22h1.5v-14h1v-2.5h1v-11.5h3v3h1v19.5h0.5v41h1.5v-41h0.5v-8h0.5v-11h0.5v1.5h0.5v-3h1v0.5h1.5v-1h1.5v1h2v9.5h0.5v21h1.5v-21h0.5v-7h0.5v8.5h1v-7.5h1v-1.5h0.5v-2h0.5v0.5h0.5v6.5h0.5v16.5h1.5v-16.5h0.5v-2h1v-1.5h1v3h1v-4h1v-2.5h1v4.5h1v-5.5h1v0.5h1v1.5h0.5v-0.5h0.5v3.5h0.5v-0.5h0.5v-5.5h1v5.5h1v-5.5h0.5v-0.5h0.5v2h1.5v-0.5h0.5v3.5h1v-3h3v-0.5h1v-1h1v-0.5h2v1.5h1v1.5h1v7.5h1.5v-6h0.5v-4.5h4v4h1v0.5h1v-4.5h1v3.5h1v-3h0.5v1.5h1.5v-0.5h1.5v-1.5h2.5v0.5h1v4.5h1v-5h1v1.5h1v0.5h1v1.5h3v-3.5h1v3h1v-3h1v0.5h3v1h1.5v-1h0.5v4.5h1v-3h1v2.5h1v-1.5h0.5v-0.5h0.5v-2.5h2v0.5h2v-0.5h0.5v1.5h1.5v-1.5h3v2h1.5v-2h32.5v0.5h1v-0.5h1v2h1.5v-1.5h0.5v-0.5h1v2h3v-2h1v0.5h0.5v1h1.5v-1.5h1.5v1.5h1.5v-1.5h3v2h1.5v-2h1.5v7h0.5v0.5h0.5v-7h0.5v0.5h1.5v2h1v4.5h1v-0.5h1v-2.5h1v0.5h2v0.5h1v6.5h1.5v-7.5h0.5v-2.5h3v-2h1v3h1v-3h1v1.5h0.5v0.5h0.5v2.5h0.5v0.5h0.5v-5h1v8h1v-1h0.5v6h0.5v24h1.5v-24h0.5v-7h0.5v-5h0.5v-0.5h1v-0.5h1v1.5h0.5v2.5h0.5v1h0.5v3h0.5v14.5h1.5v-14.5h0.5v6.5h1v-7.5h1v-7h1v12.5h1v-11.5h1v7h0.5v14.5h1.5v-14.5h0.5v-6.5h1v-1.5h0.5v0.5h0.5v10h0.5v19h1.5v-19h0.5v-9h1v-1.5h1v4h1v11.5h1v-15.5h1v13h2v-10.5h0.5v-0.5h0.5v9.5h0.5v-1.5h0.5v-8h1v-1.5h1v0.5h1v2h1v-3h2v1.5h1v0.5h1.5v-1.5h0.5v2h1v-2.5h4v0.5h1v1h1v1h1v-2.5h0.5v2h1.5v-0.5h1.5v-1.5h3.5v0.5h1v-0.5h1v1h1v1.5h1v-0.5h0.5v0.5h0.5v-1h0.5v-0.5h0.5v3.5h0.5v0.5h0.5v-4.5h0.5v0.5h0.5v0.5h0.5v1.5h0.5v6h1v-3h0.5v11.5h1.5v-11.5h0.5v-3h0.5v2h1.5v-1h0.5v6.5h1v-10.5h1v4.5h1v-3h1v0.5h1.5v-2h0.5v10h1v-6h1v1.5h1v-4.5h1v4h1v2h1v-7h1v2h1v1.5h1v-1h1v-1h1v5.5h1v1h1v-4.5h1.5v-1.5h0.5v-1h1v-1h1.5v1.5h1.5v-1.5h1v7h1v-2h1v-1h1v-4h1v9.5h1v9h1.5v-12h1.5v-5h1v3.5h1v0.5h1v-4h2v2.5h1v-4h1.5v20h1.5v-20h1v9h1v-6.5h1v1h2v-1.5h2.5v0.5h2.5v5.5h1v-8h1v2h1v2.5h1v4h3v-8.5h1v1.5h1.5v-1.5h0.5v7.5h1v-3.5h1v-4h1v6h1v-6h2v2.5h1v-1h1.5v3h2.5v4h1v4.5h1.5v-11.5h0.5v-1.5h0.5v2h0.5v3.5h1v-4h1v2h0.5v-0.5h0.5v2.5h0.5v-1h0.5v-3h1.5v-0.5h0.5v-1h4v1.5h1v-1.5h1v1h1v-0.5h1v0.5h0.5v1h1.5v-2h2v1.5h1v-1.5h1.5v1.5h1.5v-1.5h4v0.5h1v-0.5h1v1h1v-0.5h2v1h1.5v-1.5h0.5v0.5h1v-0.5h1v1.5h1v-1.5h1v0.5h2v-0.5h1v1h1v0.5h1v-1.5h1v0.5h1v-0.5h5v1.5h1v7h1.5v-8.5h2.5v1h1v-0.5h1v1h1v-1.5h1v1.5h1v-1.5h1v0.5h1v1h1.5v-1.5h0.5v1.5h1v-1.5h1v1h0.5v1h1.5v-2h2v1h1v-0.5h1v-0.5h1v1h1v-1h2v2h1v-0.5h1.5v-1.5h1.5v1.5h3v-1.5h7v0.5h1v1h1v-1.5h1v0.5h0.5v1.5h1.5v-2h4v0.5h1v0.5h1v-1h1.5v1.5h1.5v-0.5h1.5v1h2.5v-2h4v0.5h1v1.5h1.5v-2h3.5v1h1v-1h1v1.5h1v-1h2v-0.5h0.5v1.5h1.5v-1.5h4v0.5h1v1h1v-1.5h1.5v2h1.5v-2h3v1.5h1v-1h2v1h1.5v-0.5h0.5v-0.5h1v1.5h1.5v-1h0.5v1h1v-0.5h1v-0.5h1v-1h1v1h1v-1h1v0.5h1v1h1.5v-1.5h2.5v2h2v-1h2v-1h1v1.5h1v-1.5h2v1.5h1.5v0.5h1.5v-1.5h1v-0.5h2v2h1v-2h0.5v1.5h1.5v-1.5h2v0.5h1v-0.5h3v2h1.5v-2h0.5v1h1v0.5h1v-1.5h1v1h1v0.5h1.5v-1.5h0.5v0.5h1v1h1v-1h0.5v1h1.5v-0.5h1v1h1v-2h1v2h1v-0.5h0.5v-1h1.5v-0.5h5v1h1v0.5h1.5v-1.5h0.5v0.5h1v-0.5h1z" fill="#9ad3cf" />
<text x="1062" y="319.5" font-size="31" font-weight="bold">c</text>
<path d="M1094.7 334H1088.2V660.8H1094.7" fill="none" stroke="#333" stroke-width="1.25" />
<path d="M1094.7 673H1088.2V1000.4H1094.7" fill="none" stroke="#333" stroke-width="1.25" />
<text x="1078" y="545.2" font-size="25" textLength="96.5" lengthAdjust="spacingAndGlyphs" transform="rotate(-90 1078 545.2)" stroke="#000" stroke-width=".3">Erythroid</text>
<text x="1078" y="855" font-size="25" textLength="30.5" lengthAdjust="spacingAndGlyphs" transform="rotate(-90 1078 855)" stroke="#000" stroke-width=".3">ES</text>
<line x1="1173.2" y1="363.7" x2="1978.8" y2="363.7" stroke="#444" stroke-width="1" />
<line x1="1173.2" y1="363.7" x2="1157.8" y2="416.2" stroke="#2a2a2a" stroke-width="1.2" stroke-dasharray="3 2.6"/>
<line x1="1978.8" y1="363.7" x2="1994.2" y2="416.2" stroke="#2a2a2a" stroke-width="1.2" stroke-dasharray="3 2.6"/>
<line x1="1173.2" y1="363.7" x2="1179.5" y2="513.6" stroke="#2a2a2a" stroke-width="1.1" stroke-dasharray="2.4 3"/>
<line x1="1978.8" y1="363.7" x2="1973.3" y2="513.6" stroke="#2a2a2a" stroke-width="1.1" stroke-dasharray="2.4 3"/>
<polygon points="1163.0,571.2 1989.0,571.2 1973.3,513.6 1179.5,513.6" fill="#8d666b" />
<path d="M1620 547l6 -1M1828 556l11 -4M1321 558l15 -3M1785 529l21 -3M1645 524l18 -3M1579 556l7 -1M1946 529l14 -4M1598 559l21 -6M1454 541l21 -4M1827 566l15 -5M1261 524l17 -6M1393 528l17 -2M1555 557l17 -4M1354 522l15 -2M1283 546l7 -1M1859 543l21 -5M1672 544l11 -1M1671 522l19 0M1506 554l17 -3M1588 555l18 -2M1713 561l17 -4M1329 571l11 -2M1875 522l7 -2M1469 553l6 -2M1605 540l17 -5M1441 556l13 -2M1397 571l8 -1M1447 570l18 -6M1477 557l21 -6M1815 532l18 -4M1729 530l20 -4M1454 543l10 -3M1688 540l12 -2M1941 530l6 -2M1233 549l20 -3M1252 553l17 -6M1381 556l21 -5M1839 538l10 -3M1860 522l10 -3M1956 568l7 -2M1913 547l15 -2M1536 554l16 -4M1746 531l19 -6M1650 535l7 -1M1859 563l20 -6M1491 568l9 -1M1181 531l10 -3M1894 559l16 -3M1473 536l16 -5M1742 526l6 -2M1332 543l16 -2M1585 564l12 -2M1524 533l22 -6M1536 547l7 -2M1526 558l17 -5M1649 527l20 -2M1923 562l8 -2M1659 543l12 -2M1637 536l9 -3M1264 566l17 -6M1558 552l19 -3M1376 538l10 -3M1547 570l6 -2M1568 537l6 -1M1491 565l15 -4M1829 566l18 -3M1817 536l15 -2M1438 520l12 0M1767 567l17 -5M1780 523l7 -1M1369 558l15 -2M1288 523l11 -3M1892 530l10 -3M1957 560l19 -4M1754 537l11 -2M1484 556l8 -2M1541 529l21 -4M1397 553l16 -4M1417 563l10 -2M1635 543l20 -7M1255 539l19 -4M1672 558l16 -5M1327 548l8 -3M1354 532l17 -4M1728 557l14 -2M1335 567l13 -4M1627 570l20 -5M1521 545l8 -2M1544 542l11 -4M1256 520l17 0M1416 565l20 -2M1936 572l22 -2M1689 569l14 -3M1238 568l20 -3M1593 547l20 -2M1248 567l20 -7M1199 561l12 -3M1814 527l6 -2M1341 549l16 -5M1679 557l17 -4M1256 540l6 -1M1427 553l15 -4M1675 521l19 0M1465 523l14 -3M1870 529l21 -3M1180 532l14 -4M1406 540l13 -3M1181 570l10 -1M1783 548l19 -6M1588 539l19 -6M1718 537l20 -2M1442 554l11 -4M1933 537l17 -4M1351 572l7 -1M1746 567l17 -5M1230 560l13 -3M1629 545l7 -2M1472 551l22 -4M1936 532l13 -3M1622 520l8 -1M1302 535l12 -4M1886 561l7 -1M1280 537l20 -2M1563 530l21 -2M1399 560l15 -2M1446 553l15 -5M1663 570l7 -1M1780 533l19 -5M1296 544l11 -3M1202 550l17 -3M1650 551l14 -4M1822 551l11 -2M1528 535l20 -3M1282 571l14 -3M1289 525l16 -5M1218 533l9 -2M1267 534l20 -2M1694 555l10 -1M1246 541l6 -2M1195 520l7 -2M1855 565l7 -2M1806 549l18 -4M1386 545l16 -4M1896 545l17 -5M1726 536l10 -3M1742 536l6 -1M1412 521l10 -1M1308 546l20 -6M1551 564l20 -3M1437 535l20 -3M1614 545l13 -4M1658 539l18 -6M1258 533l22 -5M1915 572l13 -3M1551 543l16 -3M1200 572l8 -2M1955 566l14 -5M1327 557l21 -3M1798 542l17 -5M1628 529l12 -2M1935 540l19 -4M1621 541l13 -3M1774 565l12 -3M1697 543l14 -5M1485 564l12 -3M1502 545l19 -6M1649 564l12 -4M1385 539l11 -3M1243 571l17 -5M1685 546l14 -3M1665 520l13 0M1297 540l10 -3M1683 542l10 -2M1619 549l8 -1M1466 526l15 -3M1790 562l19 -4M1571 527l16 -2M1354 552l11 -2M1269 533l10 -2M1474 533l9 -2M1671 570l13 -4M1777 540l18 -3M1719 557l16 -5M1726 543l10 -2M1367 539l12 -3M1638 542l13 -3M1714 542l11 -4M1519 560l14 -4M1698 564l8 -3M1457 566l11 -3M1930 522l18 -2M1304 551l21 -7M1289 555l10 -1M1485 566l16 -4M1217 527l16 -5M1426 530l18 -5M1879 543l19 -4M1590 534l13 -3M1215 527l20 -7M1283 536l10 -3M1216 559l14 -2M1815 521l8 -1M1826 541l20 -3M1689 547l9 -1M1342 561l10 -1M1514 556l13 -2M1267 566l19 -6M1584 569l9 -3M1289 552l12 -3M1856 540l11 -1M1185 571l7 -1M1957 552l20 -3M1477 570l14 -4M1924 552l20 -5M1659 563l11 -1M1846 543l7 -1M1327 564l6 -1M1685 541l13 -5M1356 524l16 -4M1674 522l16 0M1926 557l9 -1M1596 533l7 -1M1364 563l16 -2M1315 528l20 -2M1557 549l7 -2M1194 526l12 -2M1308 537l17 -6M1510 566l18 -3M1547 570l14 -5M1557 556l8 -2M1866 522l18 -2M1507 534l22 -2M1484 533l19 -7M1601 551l8 -2M1453 533l13 -2M1833 539l8 -3M1911 526l15 -3M1390 520l15 0M1657 550l12 -3M1782 533l9 -2M1408 537l13 -3M1537 543l15 -4M1548 541l11 -2M1926 562l13 -3M1624 535l6 -1M1277 571l20 -4M1481 533l7 -1M1812 559l20 -5M1284 561l13 -2M1569 538l19 -3M1910 560l12 -2M1187 572l15 -3M1812 536l13 -2M1574 566l19 -3M1841 542l11 -4M1569 531l21 -5M1889 537l20 -3M1802 536l9 -2M1843 534l19 -6M1949 534l22 -5" fill="none" stroke="#a2564d" stroke-width="2.6" />
<path d="M1620 544l6 -1M1828 553l11 -4M1321 555l15 -3M1785 526l21 -3M1645 521l18 -3M1579 553l7 -1M1946 527l14 -4M1598 556l21 -6M1454 538l21 -4M1827 563l15 -5M1261 522l17 -6M1393 525l17 -2M1555 554l17 -4M1354 519l15 -2M1283 543l7 -1M1859 540l21 -5M1672 541l11 -1M1671 519l19 0M1506 552l17 -3M1588 552l18 -2M1713 559l17 -4M1329 569l11 -2M1875 519l7 -2M1469 550l6 -2M1605 537l17 -5M1441 554l13 -2M1397 569l8 -1M1447 567l18 -6M1477 554l21 -6M1815 529l18 -4M1729 527l20 -4M1454 540l10 -3M1688 538l12 -2M1941 527l6 -2M1233 547l20 -3M1252 550l17 -6M1381 554l21 -5M1839 536l10 -3M1860 519l10 -3M1956 565l7 -2M1913 544l15 -2M1536 551l16 -4M1746 529l19 -6M1650 533l7 -1M1859 560l20 -6M1491 566l9 -1M1181 529l10 -3M1894 556l16 -3M1473 533l16 -5M1742 524l6 -2M1332 541l16 -2M1585 562l12 -2M1524 531l22 -6M1536 545l7 -2M1526 555l17 -5M1649 525l20 -2M1923 559l8 -2M1659 540l12 -2M1637 533l9 -3M1264 564l17 -6M1558 549l19 -3M1376 535l10 -3M1547 567l6 -2M1568 535l6 -1M1491 563l15 -4M1829 563l18 -3M1817 533l15 -2M1438 517l12 0M1767 565l17 -5M1780 520l7 -1M1369 556l15 -2M1288 520l11 -3M1892 528l10 -3M1957 557l19 -4M1754 534l11 -2M1484 554l8 -2M1541 526l21 -4M1397 550l16 -4M1417 561l10 -2M1635 541l20 -7M1255 537l19 -4M1672 556l16 -5M1327 545l8 -3M1354 529l17 -4M1728 555l14 -2M1335 564l13 -4M1627 567l20 -5M1521 542l8 -2M1544 540l11 -4M1256 517l17 0M1416 562l20 -2M1936 570l22 -2M1689 566l14 -3M1238 566l20 -3M1593 544l20 -2M1248 565l20 -7M1199 558l12 -3M1814 524l6 -2M1341 547l16 -5M1679 555l17 -4M1256 538l6 -1M1427 550l15 -4M1675 519l19 0M1465 520l14 -3M1870 526l21 -3M1180 529l14 -4M1406 538l13 -3M1181 568l10 -1M1783 545l19 -6M1588 536l19 -6M1718 535l20 -2M1442 552l11 -4M1933 535l17 -4M1351 570l7 -1M1746 565l17 -5M1230 557l13 -3M1629 542l7 -2M1472 548l22 -4M1936 530l13 -3M1622 517l8 -1M1302 533l12 -4M1886 558l7 -1M1280 535l20 -2M1563 527l21 -2M1399 557l15 -2M1446 551l15 -5M1663 568l7 -1M1780 531l19 -5M1296 541l11 -3M1202 547l17 -3M1650 549l14 -4M1822 548l11 -2M1528 532l20 -3M1282 569l14 -3M1289 522l16 -5M1218 530l9 -2M1267 531l20 -2M1694 553l10 -1M1246 538l6 -2M1195 518l7 -2M1855 563l7 -2M1806 546l18 -4M1386 542l16 -4M1896 542l17 -5M1726 533l10 -3M1742 533l6 -1M1412 519l10 -1M1308 543l20 -6M1551 561l20 -3M1437 533l20 -3M1614 542l13 -4M1658 537l18 -6M1258 530l22 -5M1915 569l13 -3M1551 540l16 -3M1200 569l8 -2M1955 563l14 -5M1327 554l21 -3M1798 539l17 -5M1628 526l12 -2M1935 538l19 -4M1621 539l13 -3M1774 562l12 -3M1697 540l14 -5M1485 562l12 -3M1502 542l19 -6M1649 561l12 -4M1385 537l11 -3M1243 569l17 -5M1685 543l14 -3M1665 518l13 0M1297 537l10 -3M1683 539l10 -2M1619 547l8 -1M1466 523l15 -3M1790 559l19 -4M1571 525l16 -2M1354 549l11 -2M1269 531l10 -2M1474 530l9 -2M1671 568l13 -4M1777 537l18 -3M1719 555l16 -5M1726 540l10 -2M1367 536l12 -3M1638 539l13 -3M1714 539l11 -4M1519 557l14 -4M1698 562l8 -3M1457 564l11 -3M1930 520l18 -2M1304 549l21 -7M1289 552l10 -1M1485 563l16 -4M1217 524l16 -5M1426 527l18 -5M1879 540l19 -4M1590 532l13 -3M1215 525l20 -7M1283 533l10 -3M1216 557l14 -2M1815 518l8 -1M1826 538l20 -3M1689 544l9 -1M1342 559l10 -1M1514 553l13 -2M1267 563l19 -6M1584 567l9 -3M1289 550l12 -3M1856 538l11 -1M1185 568l7 -1M1957 549l20 -3M1477 568l14 -4M1924 549l20 -5M1659 560l11 -1M1846 540l7 -1M1327 561l6 -1M1685 538l13 -5M1356 521l16 -4M1674 520l16 0M1926 555l9 -1M1596 530l7 -1M1364 560l16 -2M1315 526l20 -2M1557 547l7 -2M1194 524l12 -2M1308 535l17 -6M1510 563l18 -3M1547 568l14 -5M1557 554l8 -2M1866 519l18 -2M1507 532l22 -2M1484 531l19 -7M1601 549l8 -2M1453 530l13 -2M1833 536l8 -3M1911 524l15 -3M1390 517l15 0M1657 547l12 -3M1782 530l9 -2M1408 535l13 -3M1537 540l15 -4M1548 538l11 -2M1926 559l13 -3M1624 533l6 -1M1277 568l20 -4M1481 530l7 -1M1812 556l20 -5M1284 559l13 -2M1569 535l19 -3M1910 558l12 -2M1187 569l15 -3M1812 534l13 -2M1574 563l19 -3M1841 539l11 -4M1569 528l21 -5M1889 534l20 -3M1802 534l9 -2M1843 531l19 -6M1949 532l22 -5" fill="none" stroke="#f3aa9f" stroke-width="3.2" />
<polygon points="1414,542 1416,509 1418,504 1419,502 1420,503 1422,500 1424,494 1425,492 1426,490 1428,489 1430,489 1431,488 1432,490 1434,489 1436,485 1437,483 1438,488 1440,487 1442,485 1443,484 1444,475 1446,474 1448,477 1449,477 1450,479 1452,480 1454,475 1455,476 1456,477 1458,478 1460,487 1461,489 1462,488 1464,490 1466,489 1467,486 1468,477 1470,474 1472,470 1473,468 1474,469 1476,467 1478,465 1479,463 1480,468 1482,467 1484,463 1485,461 1486,463 1488,462 1490,457 1491,456 1492,451 1494,452 1496,453 1497,454 1498,457 1500,458 1502,466 1503,466 1504,459 1506,462 1508,468 1509,473 1510,484 1512,488 1514,488 1515,492 1516,499 1518,502 1520,504 1521,506 1523,542" fill="url(#eb)"/>
<polygon points="1615,542 1617,504 1618,505 1620,502 1622,498 1623,495 1624,487 1626,484 1628,483 1629,480 1630,476 1632,478 1634,480 1635,483 1636,490 1638,494 1640,495 1641,500 1642,505 1644,542" fill="url(#eb)"/>
<polygon points="1656,542 1658,503 1659,498 1660,495 1662,486 1664,471 1665,458 1666,459 1668,452 1670,440 1671,429 1672,419 1674,410 1676,403 1677,410 1678,413 1680,420 1682,426 1683,431 1684,444 1686,448 1688,452 1689,455 1690,451 1692,454 1694,459 1695,460 1696,461 1698,461 1700,462 1701,463 1702,465 1704,466 1706,466 1707,467 1708,463 1710,465 1712,470 1713,471 1714,479 1716,484 1718,479 1719,484 1720,488 1722,492 1724,500 1725,504 1727,542" fill="url(#eb)"/>
<polygon points="1770,542 1772,508 1773,506 1774,507 1776,508 1778,508 1779,509 1780,511 1782,542" fill="url(#eb)"/>
<polygon points="1789,542 1791,505 1792,503 1794,500 1796,502 1797,500 1798,498 1800,496 1802,489 1803,488 1804,494 1806,493 1808,489 1809,488 1810,480 1812,480 1814,489 1815,491 1816,491 1818,492 1820,494 1821,495 1822,495 1824,498 1826,501 1827,505 1829,542" fill="url(#eb)"/>
<g transform="scale(.5)"><path class="k1b" d="M3201 1031l2-10h7l1 10z"/><path class="k1c" d="M3294 1032l3-8h15l4 8z"/><path class="k1a" d="M3308 1024h4l4 8h-8z"/><path class="k1b" d="M3458 1032l3-13 2-8 4 8 3 13z"/><path class="k5c" d="M2984 1032l5-54 4-33 5 35 5 52z"/><path class="k3d" d="M2927 1033l4-37 4-23 3 24 3 36z"/><path class="k2a" d="M2830 1033l2-23 1-14 4 15 4 22z"/><path class="k3c" d="M3411 1033l8-37 6-23 3 24 2 36z"/><path class="k3c" d="M2923 1034l4-32 3-20 3 21 3 31z"/><path class="k2b" d="M2909 1034l1-17 1-10 5 11 4 16z"/><path class="k1b" d="M2439 1034l4-7h18l3 7z"/><path class="k3c" d="M3026 1035l3-29 2-18 5 19 5 28z"/><path class="k1d" d="M2622 1035l3-16h14l3 16z"/><path class="k1a" d="M2635 1019h4l3 16h-7z"/><path class="k1b" d="M3073 1035l3-9h13l3 9z"/><path class="k1a" d="M3085 1026h4l3 9h-7z"/><path class="k1b" d="M3710 1036l6-15 5-9 4 10 4 14z"/><path class="k1b" d="M3501 1036l3-21h14l3 21z"/><path class="k1a" d="M3514 1015h4l3 21h-7z"/><path class="k1b" d="M2494 1037l2-7h10l3 7z"/><path class="k1d" d="M3093 1037l3-6h16l4 6z"/><path class="k4a" d="M3016 1038l2-45 2-27 5 29 6 43z"/><path class="k3b" d="M2902 1038l4-33 4-20 4 21 3 32z"/><path class="k3c" d="M3029 1038l4-30 4-18 3 19 3 29z"/><path class="k3a" d="M3000 1038l3-34 3-21 3 22 3 33z"/><path class="k2b" d="M2675 1038l2-20 2-12 5 13 5 19z"/><path class="k1b" d="M3766 1039l2-9h8l1 9z"/><path class="k1d" d="M2394 1039l2-9h8l1 9z"/><path class="k8d" d="M3358 1039l9-95 7-58 4 61 4 92z"/><path class="k1c" d="M3168 1039l4-10h18l4 10z"/><path class="k1a" d="M3185 1029h5l4 10h-9z"/><path class="k5a" d="M3262 1039l8-54 6-33 2 35 1 52z"/><path class="k6a" d="M3367 1039l8-72 7-44 2 46 2 70z"/><path class="k1a" d="M2571 1039l3-7h15l3 7z"/><path class="k7c" d="M2997 1039l8-74 7-46 4 48 4 72z"/><path class="k4a" d="M3265 1040l8-42 7-25 3 27 2 40z"/><path class="k2c" d="M3712 1040l4-17 4-11 5 11 4 17z"/><path class="k1b" d="M3131 1040l3-8h14l3 8z"/><path class="k1a" d="M3144 1032h4l3 8h-7z"/><path class="k1b" d="M2608 1040l3-9h15l3 9z"/><path class="k1a" d="M2622 1031h4l3 9h-7z"/><path class="k3a" d="M3310 1040l7-33 6-21 2 22 2 32z"/><path class="k3b" d="M2856 1040l3-34 3-21 3 22 3 33z"/><path class="k2b" d="M3283 1040l3-19 2-11 6 12 7 18z"/><path class="k2b" d="M2662 1040l3-17 3-11 3 11 3 17z"/><path class="k4c" d="M3591 1040l4-41 3-25 4 26 3 40z"/><path class="k1a" d="M3739 1041l3-6h15l4 6z"/><path class="k2c" d="M3694 1042l4-21 4-13 4 14 4 20z"/><path class="k6b" d="M2988 1042l2-70 1-43 8 45 8 68z"/><path class="k1c" d="M2722 1042l3-9h16l4 9z"/><path class="k1a" d="M2736 1033h5l4 9h-9z"/><path class="k2a" d="M2761 1043l4-20 4-12 5 13 5 19z"/><path class="k4d" d="M3242 1043l3-47 2-29 5 30 5 46z"/><path class="k1c" d="M2860 1043l6-11 4-6 3 7 2 10z"/><path class="k1d" d="M3188 1043l3-11h13l2 11z"/><path class="k1a" d="M3200 1032h4l2 11h-6z"/><path class="k6d" d="M2965 1043l3-66 3-40 5 42 5 64z"/><path class="k4b" d="M3394 1044l3-46 3-28 5 30 4 44z"/><path class="k2d" d="M3307 1044l4-20 3-13 4 13 3 20z"/><path class="k3a" d="M3630 1044l3-29 2-17 5 18 6 28z"/><path class="k1b" d="M3212 1044l3-12h13l2 12z"/><path class="k1a" d="M3224 1032h4l2 12h-6z"/><path class="k1a" d="M2742 1044l3-11h12l2 11z"/><path class="k1a" d="M2753 1033h4l2 11h-6z"/><path class="k4c" d="M3388 1044l4-49 3-30 4 32 4 47z"/><path class="k1b" d="M3288 1044l2-14 2-8 4 9 3 13z"/><path class="k1c" d="M3041 1044l3-13 3-8 5 8 6 13z"/><path class="k3c" d="M3030 1044l4-35 4-21 3 22 2 34z"/><path class="k1c" d="M3197 1044l3-15h13l3 15z"/><path class="k1a" d="M3209 1029h4l3 15h-7z"/><path class="k5d" d="M3614 1045l6-51 4-31 5 33 5 49z"/><path class="k1c" d="M3174 1045l2-13h8l2 13z"/><path class="k1a" d="M3182 1032h2l2 13h-4z"/><path class="k10a" d="M3365 1045l7-106 5-65 4 68 4 103z"/><path class="k1c" d="M3503 1045l2-23h8l2 23z"/><path class="k1a" d="M3511 1022h2l2 23h-4z"/><path class="k4c" d="M3619 1045l4-44 4-27 5 28 5 43z"/><path class="k6b" d="M2940 1045l2-73 2-44 4 47 4 70z"/><path class="k5d" d="M3616 1045l3-57 2-35 4 37 4 55z"/><path class="k2c" d="M2842 1045l2-17 2-11 7 11 7 17z"/><path class="k7b" d="M3328 1045l8-73 7-45 4 47 3 71z"/><path class="k6d" d="M3013 1046l6-69 4-42 2 44 2 67z"/><path class="k2c" d="M3466 1046l4-22 4-13 4 14 4 21z"/><path class="k1c" d="M2458 1046l3-10h15l3 10z"/><path class="k1a" d="M2472 1036h4l3 10h-7z"/><path class="k1c" d="M3717 1046l3-9 2-6 3 6 2 9z"/><path class="k6a" d="M2955 1046l5-62 4-38 3 40 2 60z"/><path class="k1b" d="M3049 1046l3-7h12l2 7z"/><path class="k6b" d="M2886 1046l3-66 2-40 3 42 2 64z"/><path class="k8b" d="M2996 1046l3-84 2-51 7 54 7 81z"/><path class="k3c" d="M3245 1046l5-36 4-22 4 23 3 35z"/><path class="k8a" d="M2969 1046l4-91 4-55 3 58 2 88z"/><path class="k3c" d="M3233 1046l1-32 1-20 5 21 6 31z"/><path class="k1c" d="M3223 1046l3-10 3-6 5 6 6 10z"/><path class="k10c" d="M3332 1047l4-113 4-69 5 73 4 109z"/><path class="k14c" d="M3346 1047l4-157 4-97 4 102 3 152z"/><path class="k1b" d="M2518 1047l3-12h15l3 12z"/><path class="k1a" d="M2532 1035h4l3 12h-7z"/><path class="k1c" d="M3921 1047l3-8h14l3 8z"/><path class="k1a" d="M3934 1039h4l3 8h-7z"/><path class="k6d" d="M2913 1047l4-63 3-38 2 40 2 61z"/><path class="k8b" d="M2988 1047l7-88 5-54 5 57 5 85z"/><path class="k1b" d="M2517 1047l2-25h8l2 25z"/><path class="k1a" d="M2525 1022h2l2 25h-4z"/><path class="k4b" d="M3421 1047l4-49 4-30 5 32 5 47z"/><path class="k12c" d="M3355 1047l4-133 3-81 6 86 6 128z"/><path class="k6b" d="M3404 1047l3-63 3-38 4 40 3 61z"/><path class="k1d" d="M2797 1047l4-10h17l3 10z"/><path class="k1a" d="M2813 1037h5l3 10h-8z"/><path class="k6b" d="M3370 1047l2-65 2-40 6 42 6 63z"/><path class="k7a" d="M3406 1047l6-82 4-50 2 53 2 79z"/><path class="k8b" d="M3372 1047l7-86 5-52 2 55 2 83z"/><path class="k2c" d="M3518 1048l4-27h18l3 27z"/><path class="k2a" d="M3535 1021h5l3 27h-8z"/><path class="k7b" d="M3419 1048l4-76 3-46 5 49 6 73z"/><path class="k8a" d="M3388 1048l9-85 8-52 3 55 2 82z"/><path class="k9a" d="M2977 1048l2-99 1-60 7 64 7 95z"/><path class="k2a" d="M2610 1048l4-28h18l3 28z"/><path class="k2a" d="M2627 1020h5l3 28h-8z"/><path class="k1c" d="M2820 1048l7-17 5-10 2 11 2 16z"/><path class="k5c" d="M3615 1048l4-60 3-36 5 38 4 58z"/><path class="k1c" d="M3307 1048l2-16 1-9 5 10 4 15z"/><path class="k4c" d="M2957 1049l6-43 4-27 3 28 2 42z"/><path class="k8d" d="M2973 1049l4-92 3-57 3 60 2 89z"/><path class="k1d" d="M3729 1049l3-13h14l3 13z"/><path class="k1a" d="M3742 1036h4l3 13h-7z"/><path class="k1c" d="M2418 1049l2-18h7l1 18z"/><path class="k7b" d="M2943 1049l4-75 4-46 2 48 2 73z"/><path class="k4c" d="M3246 1049l3-49 3-30 5 32 5 47z"/><path class="k5c" d="M2868 1049l4-57 3-35 2 37 2 55z"/><path class="k2d" d="M3283 1049l2-27 1-17 7 18 7 26z"/><path class="k1c" d="M3050 1049l4-11h18l3 11z"/><path class="k1a" d="M3067 1038h5l3 11h-8z"/><path class="k1d" d="M3114 1049l3-11h15l4 11z"/><path class="k1a" d="M3128 1038h4l4 11h-8z"/><path class="k1d" d="M3672 1049l3-9h16l4 9z"/><path class="k1a" d="M3686 1040h5l4 9h-9z"/><path class="k2c" d="M3688 1049l4-25 3-15 2 16 2 24z"/><path class="k1d" d="M3522 1050l3-16h16l4 16z"/><path class="k1a" d="M3536 1034h5l4 16h-9z"/><path class="k1b" d="M2692 1050l3-15h15l4 15z"/><path class="k1a" d="M2706 1035h4l4 15h-8z"/><path class="k6c" d="M2976 1050l3-66 3-41 4 43 4 64z"/><path class="k1c" d="M3177 1050l2-12h9l2 12z"/><path class="k1a" d="M3185 1038h3l2 12h-5z"/><path class="k2a" d="M3652 1050l3-27 2-17 2 18 2 26z"/><path class="k4c" d="M3640 1051l6-45 5-27 2 29 2 43z"/><path class="k10d" d="M3363 1051l4-116 3-71 4 75 3 112z"/><path class="k4b" d="M2839 1051l3-43 3-26 2 28 2 41z"/><path class="k1d" d="M3156 1051l3-9h13l2 9z"/><path class="k1a" d="M3168 1042h4l2 9h-6z"/><path class="k7c" d="M2977 1051l2-73 2-45 5 47 6 71z"/><path class="k5b" d="M2873 1051l4-56 4-35 5 36 4 55z"/><path class="k2b" d="M3564 1051l4-21 3-13 2 14 2 20z"/><path class="k7c" d="M2964 1051l6-82 5-51 4 53 4 80z"/><path class="k7c" d="M3319 1051l8-76 7-46 3 49 2 73z"/><path class="k3c" d="M2834 1051l4-38 3-24 3 25 3 37z"/><path class="k1c" d="M3290 1052l2-18h10l3 18z"/><path class="k1a" d="M3299 1034h3l3 18h-6z"/><path class="k3b" d="M2850 1052l3-30 3-18 5 19 4 29z"/><path class="k1b" d="M3135 1052l2-10h10l2 10z"/><path class="k1a" d="M3144 1042h3l2 10h-5z"/><path class="k6c" d="M3255 1052l5-72 4-44 2 46 2 70z"/><path class="k2c" d="M3471 1052l3-24 2-14 6 15 6 23z"/><path class="k5a" d="M3384 1052l4-58 3-36 7 38 7 56z"/><path class="k1b" d="M2804 1052l3-7h15l4 7z"/><path class="k4a" d="M2834 1052l6-40 5-25 3 26 2 39z"/><path class="k6c" d="M2907 1052l4-66 4-40 3 42 3 64z"/><path class="k6c" d="M3255 1052l4-71 4-44 4 46 3 69z"/><path class="k3d" d="M3537 1052l3-30 2-19 4 20 3 29z"/><path class="k1c" d="M2705 1052l2-8h8l2 8z"/><path class="k1a" d="M2713 1044h2l2 8h-4z"/><path class="k7d" d="M3010 1052l2-82 2-50 5 53 4 79z"/><path class="k6d" d="M3253 1052l4-64 3-40 3 42 2 62z"/><path class="k1a" d="M2440 1053l2-19h8l2 19z"/><path class="k1a" d="M2448 1034h2l2 19h-4z"/><path class="k1b" d="M3151 1053l2-10h9l2 10z"/><path class="k1a" d="M3159 1043h3l2 10h-5z"/><path class="k6d" d="M2935 1053l6-65 4-40 3 42 2 63z"/><path class="k10c" d="M3371 1053l5-110 4-67 2 71 1 106z"/><path class="k7b" d="M3383 1053l7-78 6-47 2 50 2 75z"/><path class="k4d" d="M3241 1053l3-46 2-28 2 30 2 44z"/><path class="k3d" d="M3306 1053l3-31 2-19 5 20 4 30z"/><path class="k2c" d="M3376 1053l4-27 4-16 3 17 2 26z"/><path class="k1c" d="M3109 1053l2-12h8l2 12z"/><path class="k1a" d="M3117 1041h2l2 12h-4z"/><path class="k6b" d="M3615 1053l8-62 6-38 3 40 3 60z"/><path class="k6c" d="M2882 1053l5-68 4-41 2 44 2 65z"/><path class="k5d" d="M3603 1054l2-56 1-35 5 36 5 55z"/><path class="k2d" d="M3551 1054l2-22 1-14 8 14 9 22z"/><path class="k1b" d="M2697 1054l3-11h13l3 11z"/><path class="k1a" d="M2709 1043h4l3 11h-7z"/><path class="k5d" d="M3015 1054l6-52 5-32 5 34 4 50z"/><path class="k8c" d="M2963 1054l2-94 1-58 7 61 7 91z"/><path class="k3d" d="M3547 1054l2-39 1-24 4 25 3 38z"/><path class="k1c" d="M3121 1054l3-13h12l2 13z"/><path class="k1a" d="M3132 1041h4l2 13h-6z"/><path class="k3c" d="M3271 1054l4-28 4-17 3 18 2 27z"/><path class="k1c" d="M3491 1054l2-16 2-10 6 10 6 16z"/><path class="k8a" d="M3326 1054l4-92 3-57 3 60 2 89z"/><path class="k4d" d="M3016 1054l8-46 6-29 2 30 2 45z"/><path class="k2c" d="M3667 1054l3-28h15l4 28z"/><path class="k2a" d="M3681 1026h4l4 28h-8z"/><path class="k1b" d="M3889 1054l4-6h18l3 6z"/><path class="k4a" d="M3271 1054l2-48 1-29 8 31 8 46z"/><path class="k4d" d="M2947 1054l7-42 5-25 3 27 2 40z"/><path class="k7c" d="M3420 1054l4-81 4-49 2 52 2 78z"/><path class="k4d" d="M3619 1054l6-41 5-25 3 26 2 40z"/><path class="k2c" d="M3491 1055l2-19 2-12 4 12 4 19z"/><path class="k2c" d="M3628 1055l3-17 3-10 5 11 5 16z"/><path class="k1a" d="M3115 1055l3-10h15l3 10z"/><path class="k1a" d="M3129 1045h4l3 10h-7z"/><path class="k3c" d="M3542 1055l2-38 1-23 4 24 4 37z"/><path class="k2c" d="M3683 1055l3-42h12l2 42z"/><path class="k2a" d="M3694 1013h4l2 42h-6z"/><path class="k6c" d="M2916 1055l2-64 2-39 4 41 3 62z"/><path class="k2b" d="M3288 1055l3-30h15l4 30z"/><path class="k2a" d="M3302 1025h4l4 30h-8z"/><path class="k7b" d="M2978 1055l6-80 5-49 4 52 3 77z"/><path class="k1c" d="M3083 1055l4-6h17l3 6z"/><path class="k1a" d="M3203 1055l2-9h8l2 9z"/><path class="k1a" d="M3211 1046h2l2 9h-4z"/><path class="k5d" d="M3603 1055l4-56 3-35 5 36 4 55z"/><path class="k2c" d="M3571 1055l2-43h9l2 43z"/><path class="k2a" d="M3579 1012h3l2 43h-5z"/><path class="k1b" d="M2449 1055l3-18h13l2 18z"/><path class="k1a" d="M2461 1037h4l2 18h-6z"/><path class="k1a" d="M2384 1055l3-16h13l3 16z"/><path class="k1a" d="M2396 1039h4l3 16h-7z"/><path class="k7a" d="M2887 1055l5-74 4-45 3 48 3 71z"/><path class="k4c" d="M2833 1055l1-46 1-29 6 30 6 45z"/><path class="k5b" d="M2866 1055l1-59 1-36 5 38 4 57z"/><path class="k5c" d="M2850 1055l4-51 3-32 7 33 7 50z"/><path class="k1b" d="M3147 1055l3-6h13l2 6z"/><path class="k5b" d="M3021 1056l2-61 1-37 5 39 5 59z"/><path class="k1b" d="M2537 1056l2-16h8l1 16z"/><path class="k4d" d="M3441 1056l2-50 1-30 4 32 3 48z"/><path class="k5d" d="M3625 1056l4-59 3-36 3 38 2 57z"/><path class="k13a" d="M3338 1056l3-141 2-86 5 91 6 136z"/><path class="k13b" d="M3348 1056l7-148 6-91 4 96 3 143z"/><path class="k7a" d="M2959 1056l8-82 6-51 2 53 2 80z"/><path class="k1c" d="M3062 1056l3-11h12l2 11z"/><path class="k1a" d="M3073 1045h4l2 11h-6z"/><path class="k4c" d="M3630 1056l6-48 5-30 3 31 2 47z"/><path class="k1b" d="M2646 1056l3-7h12l2 7z"/><path class="k2b" d="M3653 1056l5-18 4-11 5 12 5 17z"/><path class="k1b" d="M3127 1057l2-11h8l2 11z"/><path class="k1a" d="M3135 1046h2l2 11h-4z"/><path class="k14b" d="M3340 1057l12-155 10-95 3 100 2 150z"/><path class="k2c" d="M3400 1057l3-28 2-17 4 18 3 27z"/><path class="k4b" d="M3382 1057l5-48 4-30 4 31 4 47z"/><path class="k2c" d="M2602 1057l3-33h13l2 33z"/><path class="k2a" d="M2614 1024h4l2 33h-6z"/><path class="k1c" d="M3750 1057l3-6h15l3 6z"/><path class="k1c" d="M3139 1057l2-9h11l3 9z"/><path class="k1a" d="M3149 1048h3l3 9h-6z"/><path class="k7c" d="M2887 1057l8-76 6-46 4 49 4 73z"/><path class="k3d" d="M3465 1057l8-30 7-19 2 20 2 29z"/><path class="k7c" d="M2893 1057l2-75 1-46 6 48 6 73z"/><path class="k14c" d="M3335 1058l7-153 6-93 6 98 7 148z"/><path class="k3b" d="M2961 1058l4-35 3-21 6 22 6 34z"/><path class="k8a" d="M2951 1058l6-90 4-55 3 58 2 87z"/><path class="k1c" d="M2735 1058l3-20h15l3 20z"/><path class="k1a" d="M2749 1038h4l3 20h-7z"/><path class="k12d" d="M3348 1058l5-134 4-82 5 86 4 130z"/><path class="k2c" d="M3454 1058l3-27 3-17 5 18 4 26z"/><path class="k1b" d="M3482 1058l4-12 3-7 3 8 3 11z"/><path class="k5c" d="M3592 1058l3-53 2-33 5 34 5 52z"/><path class="k5d" d="M2919 1058l4-61 4-38 5 40 5 59z"/><path class="k1b" d="M3300 1058l7-16 6-10 3 10 3 16z"/><path class="k10c" d="M3341 1059l5-110 4-67 5 71 5 106z"/><path class="k5b" d="M2990 1059l7-51 5-32 3 33 2 50z"/><path class="k1c" d="M3186 1059l2-9h8l2 9z"/><path class="k1a" d="M3194 1050h2l2 9h-4z"/><path class="k9c" d="M2999 1059l3-97 2-60 5 63 5 94z"/><path class="k3c" d="M2835 1059l7-37 5-23 3 24 2 36z"/><path class="k3d" d="M2829 1059l4-37 3-23 2 24 2 36z"/><path class="k5b" d="M2870 1059l5-51 4-32 6 33 6 50z"/><path class="k8b" d="M3369 1059l4-90 4-55 7 58 7 87z"/><path class="k3a" d="M2668 1059l3-33 3-21 4 22 4 32z"/><path class="k1c" d="M2808 1060l3-22h13l2 22z"/><path class="k1a" d="M2820 1038h4l2 22h-6z"/><path class="k1b" d="M2632 1060l2-10h9l2 10z"/><path class="k1a" d="M2640 1050h3l2 10h-5z"/><path class="k1a" d="M3192 1060l3-9h12l2 9z"/><path class="k1a" d="M3203 1051h4l2 9h-6z"/><path class="k1a" d="M3848 1060l3-12h14l3 12z"/><path class="k1a" d="M3861 1048h4l3 12h-7z"/><path class="k6a" d="M2876 1060l2-68 1-41 5 44 4 65z"/><path class="k6b" d="M3607 1060l4-63 4-38 3 40 3 61z"/><path class="k2c" d="M3531 1060l2-33h9l2 33z"/><path class="k2a" d="M3539 1027h3l2 33h-5z"/><path class="k1b" d="M2540 1060l4-26h18l4 26z"/><path class="k1a" d="M2557 1034h5l4 26h-9z"/><path class="k5c" d="M3245 1060l5-61 4-37 4 39 3 59z"/><path class="k4c" d="M3318 1060l3-43 2-27 8 28 8 42z"/><path class="k1c" d="M2766 1060l3-13 3-8 3 8 2 13z"/><path class="k15a" d="M3341 1060l3-164 3-100 6 106 7 158z"/><path class="k3d" d="M3542 1060l2-39 1-24 3 25 3 38z"/><path class="k1b" d="M2729 1060l3-10h13l2 10z"/><path class="k1a" d="M2741 1050h4l2 10h-6z"/><path class="k5b" d="M2900 1061l3-55 3-34 7 36 7 53z"/><path class="k1c" d="M3157 1061l3-6h12l2 6z"/><path class="k2a" d="M3293 1061l2-27h10l3 27z"/><path class="k2a" d="M3302 1034h3l3 27h-6z"/><path class="k4d" d="M2830 1061l4-45 3-28 6 29 7 44z"/><path class="k1d" d="M2465 1061l2-13h10l3 13z"/><path class="k1a" d="M2474 1048h3l3 13h-6z"/><path class="k2a" d="M2981 1061l7-24 5-14 4 15 3 23z"/><path class="k2c" d="M3283 1061l5-20 4-12 5 13 5 19z"/><path class="k2d" d="M3574 1061l3-23 3-14 3 15 3 22z"/><path class="k9b" d="M2970 1061l8-96 6-59 2 62 2 93z"/><path class="k4d" d="M2880 1061l8-43 7-26 3 28 2 41z"/><path class="k6b" d="M3262 1061l2-69 2-42 6 44 6 67z"/><path class="k1c" d="M3312 1061l2-11 2-7 7 7 7 11z"/><path class="k3d" d="M3035 1061l6-29 5-17 5 18 4 28z"/><path class="k4c" d="M2842 1062l2-44 2-27 5 28 5 43z"/><path class="k3a" d="M2658 1062l2-29 1-18 4 19 4 28z"/><path class="k2b" d="M3047 1062l2-38h7l1 38z"/><path class="k3c" d="M3706 1062l4-31 3-19 5 20 5 30z"/><path class="k2a" d="M2967 1062l2-23 2-14 7 15 7 22z"/><path class="k4a" d="M3019 1062l2-42 2-25 8 27 9 40z"/><path class="k1d" d="M3071 1062l3-7h13l3 7z"/><path class="k9d" d="M2977 1063l6-104 4-63 2 67 1 100z"/><path class="k6c" d="M2980 1063l4-66 3-40 4 42 4 64z"/><path class="k1d" d="M3705 1063l2-12 2-7 4 8 4 11z"/><path class="k2c" d="M3016 1063l2-22 2-14 6 14 6 22z"/><path class="k16c" d="M3342 1063l7-174 6-107 3 112 2 169z"/><path class="k3c" d="M3612 1063l8-38 6-23 3 24 3 37z"/><path class="k5c" d="M3634 1063l2-59 1-36 4 38 4 57z"/><path class="k3c" d="M3440 1063l2-31 1-19 5 20 4 30z"/><path class="k8d" d="M3408 1063l6-91 4-56 3 59 2 88z"/><path class="k5b" d="M2851 1063l3-59 3-36 3 38 2 57z"/><path class="k2c" d="M2656 1063l5-19 4-12 5 12 6 19z"/><path class="k5d" d="M2837 1063l3-51 2-31 6 33 6 49z"/><path class="k6d" d="M2881 1063l3-66 3-40 4 42 4 64z"/><path class="k1c" d="M2416 1063l3-20h15l3 20z"/><path class="k1a" d="M2430 1043h4l3 20h-7z"/><path class="k1c" d="M3818 1064l3-11h15l3 11z"/><path class="k1a" d="M3832 1053h4l3 11h-7z"/><path class="k11a" d="M3332 1064l10-120 8-73 4 77 3 116z"/><path class="k7c" d="M2931 1064l2-83 2-51 6 54 7 80z"/><path class="k9b" d="M2959 1064l2-97 1-59 7 62 7 94z"/><path class="k8d" d="M2997 1064l9-86 7-52 4 55 4 83z"/><path class="k1d" d="M3710 1064l5-14 4-8 5 9 5 13z"/><path class="k1a" d="M2722 1064l3-12h13l2 12z"/><path class="k1a" d="M2734 1052h4l2 12h-6z"/><path class="k9c" d="M2996 1064l6-100 4-62 2 65 2 97z"/><path class="k9a" d="M3397 1064l3-98 3-60 4 63 4 95z"/><path class="k5b" d="M2830 1064l5-54 4-33 6 35 7 52z"/><path class="k3a" d="M2780 1064l2-33 2-20 8 21 8 32z"/><path class="k5c" d="M2990 1064l5-58 4-36 5 38 4 56z"/><path class="k3c" d="M3569 1065l4-30 4-18 3 19 3 29z"/><path class="k2d" d="M2799 1065l3-43h13l2 43z"/><path class="k2a" d="M2811 1022h4l2 43h-6z"/><path class="k4b" d="M3551 1065l4-40 4-25 2 26 1 39z"/><path class="k9b" d="M2981 1065l3-104 2-63 5 67 4 100z"/><path class="k2a" d="M2654 1065l2-42h7l1 42z"/><path class="k1b" d="M2708 1065l3-10h15l3 10z"/><path class="k1a" d="M2722 1055h4l3 10h-7z"/><path class="k7b" d="M2905 1065l2-78 2-48 4 50 3 76z"/><path class="k1c" d="M3074 1065l3-7h15l3 7z"/><path class="k5b" d="M3646 1065l7-51 6-32 3 33 3 50z"/><path class="k1c" d="M3482 1065l4-14 3-8 3 9 2 13z"/><path class="k3b" d="M3538 1065l5-35 4-21 5 22 6 34z"/><path class="k5c" d="M3597 1065l6-60 5-37 2 39 2 58z"/><path class="k1d" d="M2620 1065l3-9h13l3 9z"/><path class="k1a" d="M2632 1056h4l3 9h-7z"/><path class="k4c" d="M3036 1065l3-41 3-25 2 26 2 40z"/><path class="k3c" d="M3279 1065l4-32 3-19 6 20 7 31z"/><path class="k1c" d="M3207 1066l3-18h13l2 18z"/><path class="k1a" d="M3219 1048h4l2 18h-6z"/><path class="k2a" d="M3433 1066l4-20 3-13 5 13 5 20z"/><path class="k7c" d="M3352 1066l2-76 2-46 7 49 8 73z"/><path class="k1b" d="M3909 1066l3-9h14l3 9z"/><path class="k1a" d="M3922 1057h4l3 9h-7z"/><path class="k4b" d="M3444 1066l2-48 1-29 5 31 4 46z"/><path class="k3b" d="M3557 1066l4-35 3-22 4 23 3 34z"/><path class="k5b" d="M3639 1066l4-58 3-35 2 37 2 56z"/><path class="k3d" d="M3459 1066l4-33 4-21 4 22 3 32z"/><path class="k1b" d="M2715 1066l2-6h9l2 6z"/><path class="k1d" d="M3744 1066l3-12h13l3 12z"/><path class="k1a" d="M3756 1054h4l3 12h-7z"/><path class="k9c" d="M2966 1066l8-99 6-60 4 64 4 95z"/><path class="k6c" d="M2966 1067l3-66 2-41 6 43 6 64z"/><path class="k2c" d="M3039 1067l2-19 2-12 4 12 3 19z"/><path class="k9d" d="M3391 1067l2-100 1-61 9 64 9 97z"/><path class="k2b" d="M2760 1067l4-19 4-11 2 12 1 18z"/><path class="k3b" d="M2789 1067l2-47h10l3 47z"/><path class="k3a" d="M2798 1020h3l3 47h-6z"/><path class="k6b" d="M2927 1067l5-72 4-44 4 46 3 70z"/><path class="k2a" d="M2656 1067l7-22 6-14 4 14 3 22z"/><path class="k4b" d="M2949 1067l1-45 1-28 5 29 5 44z"/><path class="k8b" d="M3414 1067l4-92 3-56 3 59 2 89z"/><path class="k3c" d="M3583 1067l7-33 5-21 2 22 2 32z"/><path class="k2c" d="M2803 1067l4-33h17l3 33z"/><path class="k2a" d="M2819 1034h5l3 33h-8z"/><path class="k6c" d="M3610 1067l5-71 4-43 2 46 2 68z"/><path class="k10d" d="M3376 1067l3-107 2-66 5 69 5 104z"/><path class="k4d" d="M3252 1067l6-40 5-24 5 26 4 38z"/><path class="k5c" d="M2893 1067l4-61 3-37 3 39 3 59z"/><path class="k6b" d="M3246 1067l4-68 3-41 5 44 5 65z"/><path class="k5b" d="M2890 1068l2-59 1-36 5 38 5 57z"/><path class="k3b" d="M3305 1068l2-37 2-23 5 24 4 36z"/><path class="k2d" d="M2747 1068l3-27h13l3 27z"/><path class="k2a" d="M2759 1041h4l3 27h-7z"/><path class="k9c" d="M3391 1068l2-102 2-63 5 66 5 99z"/><path class="k6c" d="M2859 1068l4-68 3-41 4 44 4 65z"/><path class="k2a" d="M2644 1068l4-34h18l4 34z"/><path class="k2a" d="M2661 1034h5l4 34h-9z"/><path class="k1d" d="M3151 1068l2-11h11l3 11z"/><path class="k1a" d="M3161 1057h3l3 11h-6z"/><path class="k9b" d="M3398 1068l2-100 1-61 6 64 6 97z"/><path class="k1c" d="M2595 1068l2-20h8l2 20z"/><path class="k1a" d="M2603 1048h2l2 20h-4z"/><path class="k3d" d="M3464 1068l5-29 4-18 1 19 1 28z"/><path class="k4a" d="M2824 1068l9-40 7-25 2 26 2 39z"/><path class="k5c" d="M3414 1069l3-57 3-35 6 37 7 55z"/><path class="k11a" d="M3343 1069l5-118 4-73 5 76 5 115z"/><path class="k6d" d="M2869 1069l10-66 8-41 3 43 2 64z"/><path class="k6b" d="M2949 1069l1-70 1-43 6 45 6 68z"/><path class="k5d" d="M3265 1069l6-61 4-37 6 39 6 59z"/><path class="k3c" d="M3623 1069l4-29 3-18 3 19 3 28z"/><path class="k4c" d="M2918 1070l8-46 7-29 3 30 2 45z"/><path class="k3d" d="M2816 1070l5-30 4-18 3 19 3 29z"/><path class="k1b" d="M3424 1070l2-16 2-9 7 10 8 15z"/><path class="k2b" d="M3390 1070l4-20 3-13 4 13 4 20z"/><path class="k1a" d="M3200 1070l4-6h18l3 6z"/><path class="k1b" d="M3889 1070l3-7h16l4 7z"/><path class="k2d" d="M3445 1070l6-19 5-12 2 12 1 19z"/><path class="k2b" d="M3310 1070l5-27 4-17 4 18 4 26z"/><path class="k4d" d="M3030 1070l2-42 1-25 7 27 7 40z"/><path class="k1b" d="M3930 1070l2-9h10l2 9z"/><path class="k1a" d="M3939 1061h3l2 9h-5z"/><path class="k5a" d="M2872 1070l2-51 2-31 6 33 7 49z"/><path class="k4b" d="M3622 1070l6-43 5-27 4 28 3 42z"/><path class="k2b" d="M2597 1070l3-32h13l2 32z"/><path class="k2a" d="M2609 1038h4l2 32h-6z"/><path class="k4d" d="M3582 1070l2-48 2-30 4 31 4 47z"/><path class="k5c" d="M3624 1070l3-61 2-37 8 39 9 59z"/><path class="k1c" d="M3120 1070l4-8h18l3 8z"/><path class="k1a" d="M3137 1062h5l3 8h-8z"/><path class="k9a" d="M3405 1071l2-97 1-60 9 63 9 94z"/><path class="k7c" d="M2935 1071l6-81 4-49 3 52 3 78z"/><path class="k7d" d="M3395 1071l4-79 3-49 6 51 7 77z"/><path class="k7d" d="M2903 1071l7-73 5-45 4 47 3 71z"/><path class="k1a" d="M3103 1071l3-9h14l3 9z"/><path class="k1a" d="M3116 1062h4l3 9h-7z"/><path class="k3d" d="M3232 1071l3-31 3-19 3 20 2 30z"/><path class="k6c" d="M3429 1071l8-70 7-43 4 45 3 68z"/><path class="k11b" d="M3361 1072l4-117 4-72 7 76 8 113z"/><path class="k6c" d="M3242 1072l7-67 5-41 2 43 2 65z"/><path class="k7c" d="M2892 1072l5-83 4-51 4 54 4 80z"/><path class="k1b" d="M3181 1072l2-10h11l3 10z"/><path class="k1a" d="M3191 1062h3l3 10h-6z"/><path class="k8c" d="M3374 1072l2-86 2-52 9 55 9 83z"/><path class="k7a" d="M3002 1072l2-80 1-49 10 52 10 77z"/><path class="k7c" d="M3431 1072l4-77 4-47 3 50 2 74z"/><path class="k1c" d="M2561 1072l3-7h15l3 7z"/><path class="k1b" d="M2714 1072l2-10h8l1 10z"/><path class="k8a" d="M2963 1072l3-85 3-52 9 55 9 82z"/><path class="k2a" d="M3669 1072l3-36h15l3 36z"/><path class="k2a" d="M3683 1036h4l3 36h-7z"/><path class="k3c" d="M3315 1072l5-35 4-21 2 22 1 34z"/><path class="k1c" d="M3292 1072l4-18h17l3 18z"/><path class="k1a" d="M3308 1054h5l3 18h-8z"/><path class="k6c" d="M2920 1072l2-72 1-44 5 46 5 70z"/><path class="k7d" d="M3320 1072l3-83 2-51 6 54 6 80z"/><path class="k6d" d="M2844 1072l1-61 1-38 7 40 7 59z"/><path class="k5a" d="M3008 1072l5-52 4-32 4 34 4 50z"/><path class="k3d" d="M3650 1072l1-36 1-22 5 23 5 35z"/><path class="k10b" d="M3345 1072l2-113 2-70 9 73 9 110z"/><path class="k5b" d="M3592 1072l3-60 3-36 7 38 8 58z"/><path class="k1a" d="M3196 1072l4-13h17l3 13z"/><path class="k1a" d="M3212 1059h5l3 13h-8z"/><path class="k1b" d="M3744 1073l2-7h9l2 7z"/><path class="k2c" d="M2795 1073l3-40h13l3 40z"/><path class="k2a" d="M2807 1033h4l3 40h-7z"/><path class="k1c" d="M3182 1073l2-9h11l3 9z"/><path class="k1a" d="M3192 1064h3l3 9h-6z"/><path class="k9d" d="M2943 1073l8-97 6-59 2 62 2 94z"/><path class="k7d" d="M3617 1073l4-79 3-48 4 51 3 76z"/><path class="k1b" d="M2386 1073l3-9h13l3 9z"/><path class="k1a" d="M2398 1064h4l3 9h-7z"/><path class="k2d" d="M2628 1073l3-34h15l4 34z"/><path class="k2a" d="M2642 1039h4l4 34h-8z"/><path class="k12a" d="M3361 1073l6-139 5-85 2 90 2 134z"/><path class="k5d" d="M3319 1073l1-54 1-33 5 35 6 52z"/><path class="k4d" d="M3557 1073l3-43 2-26 3 28 2 41z"/><path class="k1a" d="M3755 1073l4-6h18l3 6z"/><path class="k6b" d="M3598 1073l6-61 4-38 3 40 2 59z"/><path class="k3b" d="M2772 1074l3-33 3-20 4 21 3 32z"/><path class="k5b" d="M3256 1074l3-53 2-32 5 34 5 51z"/><path class="k8b" d="M2936 1074l2-89 2-54 5 57 6 86z"/><path class="k1c" d="M3057 1074l2-11h9l2 11z"/><path class="k1a" d="M3065 1063h3l2 11h-5z"/><path class="k4d" d="M3281 1074l2-44 2-27 4 28 3 43z"/><path class="k1b" d="M3135 1074l2-8h8l2 8z"/><path class="k1a" d="M3143 1066h2l2 8h-4z"/><path class="k1c" d="M2574 1074l2-27h8l1 27z"/><path class="k3d" d="M3499 1074l4-51h18l3 51z"/><path class="k3a" d="M3516 1023h5l3 51h-8z"/><path class="k5d" d="M2826 1074l6-55 5-34 4 36 4 53z"/><path class="k6b" d="M3011 1074l3-68 2-41 8 44 9 65z"/><path class="k1c" d="M3883 1074l3-11h15l4 11z"/><path class="k1a" d="M3897 1063h4l4 11h-8z"/><path class="k8d" d="M3413 1074l7-87 5-54 3 56 2 85z"/><path class="k7a" d="M3017 1075l3-81 2-50 3 52 3 79z"/><path class="k3c" d="M3470 1075l3-38 2-24 4 25 4 37z"/><path class="k7b" d="M2989 1075l3-78 2-48 5 50 6 76z"/><path class="k3c" d="M3223 1075l4-29 3-18 3 19 3 28z"/><path class="k3c" d="M3555 1075l2-30 2-19 4 20 4 29z"/><path class="k1a" d="M2738 1075l4-7h18l3 7z"/><path class="k8b" d="M2944 1075l3-91 2-56 10 59 10 88z"/><path class="k1c" d="M3161 1075l2-7h10l2 7z"/><path class="k2c" d="M2748 1075l2-40h10l3 40z"/><path class="k2a" d="M2757 1035h3l3 40h-6z"/><path class="k2c" d="M3241 1075l2-26 2-16 7 17 7 25z"/><path class="k2d" d="M2636 1076l4-31h17l3 31z"/><path class="k2a" d="M2652 1045h5l3 31h-8z"/><path class="k5d" d="M3330 1076l7-51 5-31 4 33 3 49z"/><path class="k1c" d="M3441 1076l4-16 4-10 2 10 1 16z"/><path class="k1c" d="M2682 1076l3-10h15l3 10z"/><path class="k1a" d="M2696 1066h4l3 10h-7z"/><path class="k1c" d="M3736 1076l3-12h13l2 12z"/><path class="k1a" d="M3748 1064h4l2 12h-6z"/><path class="k8b" d="M3380 1076l2-90 2-55 6 58 6 87z"/><path class="k4c" d="M3466 1076l5-42 4-26 4 27 4 41z"/><path class="k11c" d="M3328 1076l4-120 4-73 5 77 5 116z"/><path class="k9c" d="M2947 1076l5-100 4-61 3 64 3 97z"/><path class="k5d" d="M3005 1076l7-50 5-31 3 32 3 49z"/><path class="k7d" d="M2857 1076l7-74 5-45 2 48 2 71z"/><path class="k1c" d="M2678 1076l2-18h9l2 18z"/><path class="k1a" d="M2686 1058h3l2 18h-5z"/><path class="k1b" d="M3823 1076l4-7h18l3 7z"/><path class="k1c" d="M3665 1076l4-14 3-8 3 9 2 13z"/><path class="k1c" d="M3742 1076l2-11h8l1 11z"/><path class="k8c" d="M2888 1076l6-91 5-55 3 58 3 88z"/><path class="k6c" d="M3315 1076l3-71 3-44 8 46 9 69z"/><path class="k10c" d="M3357 1077l6-111 4-68 6 72 6 107z"/><path class="k9b" d="M2970 1077l5-95 4-59 7 62 8 92z"/><path class="k12a" d="M3363 1077l4-129 3-79 9 83 10 125z"/><path class="k5d" d="M3315 1077l6-61 5-38 2 40 2 59z"/><path class="k3b" d="M2933 1077l4-32 3-19 6 20 7 31z"/><path class="k6c" d="M2843 1077l5-64 4-40 1 42 1 62z"/><path class="k4c" d="M2857 1077l5-46 4-29 4 30 4 45z"/><path class="k9d" d="M3387 1077l3-101 3-62 6 65 7 98z"/><path class="k7c" d="M3434 1077l3-73 2-45 6 47 7 71z"/><path class="k5c" d="M3584 1077l6-57 4-35 3 37 3 55z"/><path class="k4c" d="M2964 1078l3-41 2-25 5 26 4 40z"/><path class="k7c" d="M3367 1078l7-81 6-50 3 52 2 79z"/><path class="k6c" d="M3609 1078l6-63 5-38 2 40 1 61z"/><path class="k11b" d="M3371 1078l4-118 4-72 5 76 4 114z"/><path class="k2b" d="M3292 1078l2-36h7l1 36z"/><path class="k1c" d="M3817 1078l3-8h13l3 8z"/><path class="k1a" d="M3829 1070h4l3 8h-7z"/><path class="k7c" d="M3397 1078l4-79 3-48 6 51 6 76z"/><path class="k1c" d="M2459 1078l3-26h13l3 26z"/><path class="k1a" d="M2471 1052h4l3 26h-7z"/><path class="k1d" d="M3896 1078l3-8h15l4 8z"/><path class="k1a" d="M3910 1070h4l4 8h-8z"/><path class="k1c" d="M3774 1078l3-11h14l3 11z"/><path class="k1a" d="M3787 1067h4l3 11h-7z"/><path class="k2c" d="M2539 1078l3-30h14l3 30z"/><path class="k2a" d="M2552 1048h4l3 30h-7z"/><path class="k1c" d="M3084 1079l4-8h18l3 8z"/><path class="k1a" d="M3101 1071h5l3 8h-8z"/><path class="k1c" d="M3525 1079l3-7h12l2 7z"/><path class="k3d" d="M3464 1079l6-38 5-24 5 25 5 37z"/><path class="k7d" d="M2927 1079l3-74 3-45 3 48 2 71z"/><path class="k4b" d="M2939 1079l3-50 2-30 4 32 4 48z"/><path class="k6c" d="M2864 1079l2-66 1-40 7 42 7 64z"/><path class="k7b" d="M3338 1079l4-74 4-45 4 48 3 71z"/><path class="k5d" d="M3541 1079l2-56 2-35 5 36 4 55z"/><path class="k1b" d="M3681 1079l2-14h8l1 14z"/><path class="k8a" d="M3254 1079l6-92 5-56 3 59 2 89z"/><path class="k3b" d="M3503 1079l4-52h18l3 52z"/><path class="k3a" d="M3520 1027h5l3 52h-8z"/><path class="k2d" d="M2807 1079l3-32h13l3 32z"/><path class="k2a" d="M2819 1047h4l3 32h-7z"/><path class="k4d" d="M3231 1079l2-50 1-30 5 32 4 48z"/><path class="k1d" d="M3191 1079l3-7h15l4 7z"/><path class="k5b" d="M3646 1079l2-55 1-33 4 35 4 53z"/><path class="k9c" d="M2989 1079l8-95 6-59 5 62 4 92z"/><path class="k4a" d="M3573 1080l5-43 4-26 2 28 2 41z"/><path class="k15c" d="M3343 1080l6-170 4-105 8 110 8 165z"/><path class="k6a" d="M2966 1080l6-66 4-40 5 42 5 64z"/><path class="k2b" d="M3523 1080l3-34h13l2 34z"/><path class="k2a" d="M3535 1046h4l2 34h-6z"/><path class="k7b" d="M3269 1080l2-74 1-45 5 48 5 71z"/><path class="k2c" d="M3698 1080l3-24 2-14 5 15 5 23z"/><path class="k1c" d="M3770 1080l3-7h16l4 7z"/><path class="k3b" d="M3503 1080l3-53h15l3 53z"/><path class="k3a" d="M3517 1027h4l3 53h-7z"/><path class="k2c" d="M2644 1080l3-39h15l4 39z"/><path class="k2a" d="M2658 1041h4l4 39h-8z"/><path class="k4b" d="M3221 1080l3-43 2-26 7 28 7 41z"/><path class="k4a" d="M3451 1080l3-42 3-25 4 27 3 40z"/><path class="k4b" d="M3597 1080l6-46 5-28 4 30 3 44z"/><path class="k4c" d="M3309 1080l4-43 4-27 3 28 2 42z"/><path class="k10c" d="M2976 1080l6-115 4-70 4 74 3 111z"/><path class="k8c" d="M3423 1081l3-94 3-57 4 60 4 91z"/><path class="k3d" d="M3697 1081l4-34 4-21 5 22 4 33z"/><path class="k2b" d="M3608 1081l4-24 3-15 5 16 5 23z"/><path class="k7b" d="M3609 1081l2-75 2-46 5 48 5 73z"/><path class="k10c" d="M3324 1081l5-117 4-71 7 75 7 113z"/><path class="k5d" d="M3439 1081l1-54 1-33 5 35 6 52z"/><path class="k6c" d="M3273 1081l4-67 4-41 3 43 2 65z"/><path class="k2c" d="M3680 1081l2-38h8l1 38z"/><path class="k3d" d="M3711 1081l2-32 1-20 7 21 8 31z"/><path class="k1c" d="M2526 1081l3-25h13l3 25z"/><path class="k1a" d="M2538 1056h4l3 25h-7z"/><path class="k4c" d="M3327 1081l6-45 4-27 5 29 6 43z"/><path class="k6a" d="M3629 1081l2-68 2-42 9 44 9 66z"/><path class="k8c" d="M3318 1081l10-91 9-56 3 59 3 88z"/><path class="k1c" d="M3076 1081l2-8h11l3 8z"/><path class="k1a" d="M3086 1073h3l3 8h-6z"/><path class="k1b" d="M2682 1081l3-11h15l4 11z"/><path class="k1a" d="M2696 1070h4l4 11h-8z"/><path class="k3a" d="M3497 1081l2-32 1-20 6 21 7 31z"/><path class="k8a" d="M3377 1081l6-89 4-54 4 57 4 86z"/><path class="k4c" d="M3225 1082l4-49 4-30 6 32 6 47z"/><path class="k1c" d="M3154 1082l3-11h12l2 11z"/><path class="k1a" d="M3165 1071h4l2 11h-6z"/><path class="k4c" d="M3035 1082l6-45 5-28 5 29 5 44z"/><path class="k1d" d="M3087 1082l3-13h12l2 13z"/><path class="k1a" d="M3098 1069h4l2 13h-6z"/><path class="k4c" d="M3374 1082l8-50 6-30 3 32 3 48z"/><path class="k3c" d="M3280 1082l5-38 4-24 5 25 6 37z"/><path class="k3d" d="M3454 1082l7-34 6-21 4 22 4 33z"/><path class="k6b" d="M3241 1082l3-71 3-43 5 46 4 68z"/><path class="k4c" d="M3538 1082l4-40 4-24 5 26 5 38z"/><path class="k2b" d="M3642 1082l2-26 2-16 5 17 6 25z"/><path class="k6b" d="M2869 1082l4-64 3-39 5 41 6 62z"/><path class="k6c" d="M3027 1082l2-66 2-40 5 42 5 64z"/><path class="k1b" d="M3854 1082l3-8h12l2 8z"/><path class="k1a" d="M3865 1074h4l2 8h-6z"/><path class="k1a" d="M2380 1083l3-21h15l4 21z"/><path class="k1a" d="M2394 1062h4l4 21h-8z"/><path class="k1c" d="M2419 1083l3-27h15l3 27z"/><path class="k1a" d="M2433 1056h4l3 27h-7z"/><path class="k6a" d="M3605 1083l2-66 1-41 6 43 7 64z"/><path class="k5b" d="M3423 1083l8-60 6-36 3 38 2 58z"/><path class="k9b" d="M3330 1083l8-98 6-60 4 63 3 95z"/><path class="k4c" d="M3614 1083l3-45 2-28 6 29 6 44z"/><path class="k1c" d="M3762 1083l3-9h12l2 9z"/><path class="k1a" d="M3773 1074h4l2 9h-6z"/><path class="k1c" d="M3297 1083l2-18h8l1 18z"/><path class="k6c" d="M3591 1083l3-64 3-40 4 42 3 62z"/><path class="k2b" d="M3618 1083l5-26 4-16 4 17 4 25z"/><path class="k4c" d="M3556 1083l6-48 4-29 2 31 2 46z"/><path class="k9a" d="M2957 1083l4-106 3-65 3 68 3 103z"/><path class="k8a" d="M2897 1083l6-88 5-54 3 57 2 85z"/><path class="k6d" d="M3610 1083l3-70 3-43 6 45 7 68z"/><path class="k5d" d="M3578 1083l4-51 4-32 3 33 2 50z"/><path class="k1b" d="M3735 1083l2-23h11l3 23z"/><path class="k1a" d="M3745 1060h3l3 23h-6z"/><path class="k3d" d="M3474 1083l4-30 4-19 5 20 6 29z"/><path class="k2c" d="M3212 1084l2-38h10l2 38z"/><path class="k2a" d="M3221 1046h3l2 38h-5z"/><path class="k1c" d="M3672 1084l4-11h18l3 11z"/><path class="k1a" d="M3689 1073h5l3 11h-8z"/><path class="k1b" d="M3833 1084l3-13h12l2 13z"/><path class="k1a" d="M3844 1071h4l2 13h-6z"/><path class="k11b" d="M3338 1084l9-123 8-75 3 79 2 119z"/><path class="k1c" d="M3570 1084l3-17h16l4 17z"/><path class="k1a" d="M3584 1067h5l4 17h-9z"/><path class="k4c" d="M2997 1084l3-44 3-27 5 28 4 43z"/><path class="k1d" d="M2683 1084l3-13h14l3 13z"/><path class="k1a" d="M2696 1071h4l3 13h-7z"/><path class="k8d" d="M3416 1084l5-86 4-52 3 55 3 83z"/><path class="k1b" d="M3916 1084l3-9h13l3 9z"/><path class="k1a" d="M3928 1075h4l3 9h-7z"/><path class="k7c" d="M3633 1084l6-74 5-45 4 48 4 71z"/><path class="k4d" d="M2781 1084l6-40 4-24 4 26 3 38z"/><path class="k7b" d="M2959 1084l7-81 5-50 4 52 3 79z"/><path class="k1c" d="M2386 1084l2-21h10l2 21z"/><path class="k1a" d="M2395 1063h3l2 21h-5z"/><path class="k2b" d="M2656 1085l3-19 3-11 3 12 2 18z"/><path class="k8d" d="M2865 1085l4-87 3-53 6 56 6 84z"/><path class="k7d" d="M2999 1085l3-77 3-47 5 50 6 74z"/><path class="k2c" d="M3464 1085l6-27 5-16 2 17 2 26z"/><path class="k1a" d="M3197 1085l2-13h11l3 13z"/><path class="k1a" d="M3207 1072h3l3 13h-6z"/><path class="k6c" d="M3318 1085l7-72 6-44 4 46 3 70z"/><path class="k17a" d="M3340 1085l2-184 1-113 8 119 9 178z"/><path class="k6d" d="M2851 1085l4-65 3-40 7 42 8 63z"/><path class="k1d" d="M3536 1085l2-9 1-6 7 6 8 9z"/><path class="k6d" d="M2996 1085l2-64 1-40 5 42 5 62z"/><path class="k1d" d="M3079 1085l3-11h15l3 11z"/><path class="k1a" d="M3093 1074h4l3 11h-7z"/><path class="k1c" d="M3842 1085l3-10h13l2 10z"/><path class="k1a" d="M3854 1075h4l2 10h-6z"/><path class="k10a" d="M3382 1085l4-115 4-71 3 74 2 112z"/><path class="k1b" d="M3828 1085l2-7h9l2 7z"/><path class="k1b" d="M2709 1086l2-9h10l2 9z"/><path class="k1a" d="M2718 1077h3l2 9h-5z"/><path class="k5d" d="M3277 1086l3-59 2-36 4 38 3 57z"/><path class="k5c" d="M3595 1086l3-55 3-34 5 36 6 53z"/><path class="k5c" d="M3225 1086l4-51 4-31 3 33 2 49z"/><path class="k1c" d="M3190 1086l3-10h12l2 10z"/><path class="k1a" d="M3201 1076h4l2 10h-6z"/><path class="k10c" d="M2988 1086l6-117 4-71 4 75 3 113z"/><path class="k2c" d="M3712 1086l2-20 1-13 5 13 6 20z"/><path class="k5b" d="M3409 1086l5-58 4-35 5 37 5 56z"/><path class="k10c" d="M3381 1086l4-111 4-68 7 72 8 107z"/><path class="k4d" d="M3723 1086l2-46 1-28 5 30 6 44z"/><path class="k10d" d="M3325 1086l4-117 3-72 8 76 8 113z"/><path class="k2c" d="M2991 1086l7-23 6-14 2 15 2 22z"/><path class="k1c" d="M3785 1087l2-7h8l1 7z"/><path class="k4b" d="M3584 1087l3-48 3-29 7 31 7 46z"/><path class="k5a" d="M3227 1087l3-51 3-32 5 33 5 50z"/><path class="k13d" d="M3346 1087l2-146 2-89 9 94 10 141z"/><path class="k1d" d="M2350 1087l3-16h15l4 16z"/><path class="k1a" d="M2364 1071h4l4 16h-8z"/><path class="k1c" d="M3210 1087l3-14h14l3 14z"/><path class="k1a" d="M3223 1073h4l3 14h-7z"/><path class="k11a" d="M2985 1088l6-118 4-72 4 76 3 114z"/><path class="k4b" d="M3588 1088l4-48 3-29 7 31 7 46z"/><path class="k1d" d="M2488 1088l3-18h14l3 18z"/><path class="k1a" d="M2501 1070h4l3 18h-7z"/><path class="k7b" d="M2924 1088l3-80 2-49 5 52 6 77z"/><path class="k8a" d="M3621 1088l2-85 2-52 5 55 5 82z"/><path class="k9c" d="M2889 1088l3-95 2-58 5 61 6 92z"/><path class="k1a" d="M3114 1088l3-13h14l3 13z"/><path class="k1a" d="M3127 1075h4l3 13h-7z"/><path class="k1a" d="M3688 1088l3-21h15l3 21z"/><path class="k1a" d="M3702 1067h4l3 21h-7z"/><path class="k1c" d="M3789 1088l3-12h12l2 12z"/><path class="k1a" d="M3800 1076h4l2 12h-6z"/><path class="k5b" d="M3591 1088l4-51 4-32 3 33 2 50z"/><path class="k1a" d="M3060 1089l2-16h9l2 16z"/><path class="k1a" d="M3068 1073h3l2 16h-5z"/><path class="k4c" d="M2654 1089l2-50 1-31 7 32 7 49z"/><path class="k9c" d="M2933 1089l3-95 3-59 8 62 9 92z"/><path class="k10a" d="M3006 1089l4-113 3-69 4 73 3 109z"/><path class="k1d" d="M3091 1089l3-10h12l2 10z"/><path class="k1a" d="M3102 1079h4l2 10h-6z"/><path class="k1c" d="M3062 1089l2-16h10l2 16z"/><path class="k1a" d="M3071 1073h3l2 16h-5z"/><path class="k7d" d="M3436 1089l4-78 4-47 3 50 3 75z"/><path class="k3c" d="M3628 1089l5-29 4-18 3 19 3 28z"/><path class="k1a" d="M3180 1089l3-8h12l2 8z"/><path class="k1a" d="M3191 1081h4l2 8h-6z"/><path class="k4b" d="M2978 1089l3-42 3-26 4 27 3 41z"/><path class="k2b" d="M3669 1090l2-45h7l1 45z"/><path class="k6d" d="M3602 1090l2-66 2-41 6 43 6 64z"/><path class="k3c" d="M2962 1090l4-35 3-22 3 23 2 34z"/><path class="k1d" d="M2731 1090l3-12h16l4 12z"/><path class="k1a" d="M2745 1078h5l4 12h-9z"/><path class="k4b" d="M3460 1090l2-41 2-25 5 26 4 40z"/><path class="k6b" d="M2895 1090l4-69 3-43 8 45 8 67z"/><path class="k3b" d="M3500 1090l5-35 4-22 2 23 1 34z"/><path class="k1c" d="M2693 1090l3-12h16l4 12z"/><path class="k1a" d="M2707 1078h5l4 12h-9z"/><path class="k8c" d="M2976 1090l10-92 9-57 3 60 2 89z"/><path class="k6b" d="M3653 1090l5-65 4-40 5 42 4 63z"/><path class="k7b" d="M2856 1090l4-76 4-46 2 49 1 73z"/><path class="k3b" d="M2886 1090l7-35 6-21 4 22 3 34z"/><path class="k6b" d="M3229 1090l3-63 3-39 8 41 8 61z"/><path class="k1c" d="M3134 1090l4-6h18l3 6z"/><path class="k5a" d="M3421 1091l4-60 4-37 4 39 3 58z"/><path class="k6c" d="M2830 1091l8-63 7-39 3 41 2 61z"/><path class="k5a" d="M3247 1091l5-54 4-33 3 35 2 52z"/><path class="k4b" d="M3592 1091l4-41 4-25 6 26 6 40z"/><path class="k7c" d="M3628 1091l2-79 2-48 5 51 6 76z"/><path class="k2c" d="M3611 1091l7-26 5-16 3 17 3 25z"/><path class="k3a" d="M3571 1091l4-33 3-21 3 22 3 32z"/><path class="k2c" d="M3513 1091l2-43h8l1 43z"/><path class="k5c" d="M3241 1091l3-58 2-36 8 38 9 56z"/><path class="k6c" d="M3032 1091l4-63 3-38 2 40 1 61z"/><path class="k3c" d="M2824 1091l4-38 3-24 3 25 2 37z"/><path class="k8c" d="M2874 1091l3-89 3-54 3 57 3 86z"/><path class="k1b" d="M2802 1091l2-16h11l3 16z"/><path class="k1a" d="M2812 1075h3l3 16h-6z"/><path class="k3b" d="M2632 1091l4-46h18l4 46z"/><path class="k3a" d="M2649 1045h5l4 46h-9z"/><path class="k8b" d="M3000 1092l4-88 4-54 5 57 5 85z"/><path class="k7b" d="M3614 1092l6-76 5-47 6 49 6 74z"/><path class="k1d" d="M3804 1092l3-6h15l4 6z"/><path class="k1c" d="M3349 1092l3-26h13l3 26z"/><path class="k1a" d="M3361 1066h4l3 26h-7z"/><path class="k3b" d="M3373 1092l2-58h8l2 58z"/><path class="k3a" d="M3381 1034h2l2 58h-4z"/><path class="k13b" d="M3347 1092l9-147 7-90 3 95 3 142z"/><path class="k8b" d="M2932 1092l5-95 4-58 4 61 3 92z"/><path class="k2b" d="M3550 1092l2-27h10l3 27z"/><path class="k2a" d="M3559 1065h3l3 27h-6z"/><path class="k3c" d="M2777 1092l3-33 2-20 4 21 4 32z"/><path class="k1a" d="M2801 1092l4-11h17l3 11z"/><path class="k1a" d="M2817 1081h5l3 11h-8z"/><path class="k2c" d="M2880 1092l2-40h10l2 40z"/><path class="k2a" d="M2889 1052h3l2 40h-5z"/><path class="k6c" d="M2844 1092l5-73 4-44 7 47 7 70z"/><path class="k1c" d="M3207 1092l3-14h16l4 14z"/><path class="k1a" d="M3221 1078h5l4 14h-9z"/><path class="k6c" d="M2879 1092l5-65 4-40 6 42 6 63z"/><path class="k8c" d="M3425 1092l3-94 3-58 5 61 6 91z"/><path class="k9d" d="M3260 1092l3-96 3-59 3 62 3 93z"/><path class="k6a" d="M3313 1092l4-64 3-39 3 41 2 62z"/><path class="k1a" d="M3514 1093l3-10h15l4 10z"/><path class="k1a" d="M3528 1083h4l4 10h-8z"/><path class="k1c" d="M2470 1093l3-16h13l2 16z"/><path class="k1a" d="M2482 1077h4l2 16h-6z"/><path class="k5c" d="M2662 1093l4-53 3-32 5 34 5 51z"/><path class="k2a" d="M2626 1093l2-29h10l2 29z"/><path class="k2a" d="M2635 1064h3l2 29h-5z"/><path class="k6a" d="M2869 1093l3-65 2-40 7 42 8 63z"/><path class="k2a" d="M3043 1093l3-34h12l2 34z"/><path class="k2a" d="M3054 1059h4l2 34h-6z"/><path class="k4b" d="M3277 1093l6-42 4-25 3 27 2 40z"/><path class="k1c" d="M2638 1093l3-18h16l4 18z"/><path class="k1a" d="M2652 1075h5l4 18h-9z"/><path class="k3a" d="M2753 1093l4-33 3-21 5 22 4 32z"/><path class="k1a" d="M2979 1093l2-21h10l3 21z"/><path class="k1a" d="M2988 1072h3l3 21h-6z"/><path class="k3a" d="M2894 1093l2-30 1-19 6 20 7 29z"/><path class="k1d" d="M2442 1093l3-9h16l4 9z"/><path class="k1a" d="M2456 1084h5l4 9h-9z"/><path class="k1a" d="M2693 1093l3-12h15l4 12z"/><path class="k1a" d="M2707 1081h4l4 12h-8z"/><path class="k3d" d="M3718 1093l6-36 5-22 3 23 3 35z"/><path class="k6a" d="M3596 1093l9-69 7-42 2 44 2 67z"/><path class="k2b" d="M3270 1093l3-43h16l4 43z"/><path class="k2a" d="M3284 1050h5l4 43h-9z"/><path class="k6a" d="M3425 1093l3-68 3-42 5 44 6 66z"/><path class="k1c" d="M2839 1093l2-11h11l3 11z"/><path class="k1a" d="M2849 1082h3l3 11h-6z"/><path class="k1d" d="M3171 1093l2-12h8l2 12z"/><path class="k1a" d="M3179 1081h2l2 12h-4z"/><path class="k11c" d="M3386 1093l6-118 5-73 2 76 1 115z"/><path class="k6c" d="M3027 1093l2-63 2-38 7 40 7 61z"/><path class="k8c" d="M2861 1093l7-87 5-53 4 56 4 84z"/><path class="k1b" d="M2625 1094l4-18h18l3 18z"/><path class="k1a" d="M2642 1076h5l3 18h-8z"/><path class="k2b" d="M3895 1094l4-35h18l4 35z"/><path class="k2a" d="M3912 1059h5l4 35h-9z"/><path class="k1d" d="M2958 1094l3-10h13l3 10z"/><path class="k1a" d="M2970 1084h4l3 10h-7z"/><path class="k2c" d="M2883 1094l4-41h17l3 41z"/><path class="k2a" d="M2899 1053h5l3 41h-8z"/><path class="k1c" d="M2870 1094l4-11h18l3 11z"/><path class="k1a" d="M2887 1083h5l3 11h-8z"/><path class="k1d" d="M3330 1094l3-8h16l4 8z"/><path class="k1a" d="M3344 1086h5l4 8h-9z"/><path class="k2c" d="M3321 1094l3-27 2-17 4 18 3 26z"/><path class="k1b" d="M3908 1094l2-7h9l2 7z"/><path class="k1d" d="M3385 1094l4-24h17l3 24z"/><path class="k1a" d="M3401 1070h5l3 24h-8z"/><path class="k5c" d="M3442 1094l2-51 1-32 6 33 6 50z"/><path class="k1b" d="M2684 1094l2-17h10l3 17z"/><path class="k1a" d="M2693 1077h3l3 17h-6z"/><path class="k1d" d="M3727 1094l4-10h17l3 10z"/><path class="k1a" d="M3743 1084h5l3 10h-8z"/><path class="k2d" d="M3240 1094l2-34h10l3 34z"/><path class="k2a" d="M3249 1060h3l3 34h-6z"/><path class="k6d" d="M2873 1094l3-68 3-41 7 44 7 65z"/><path class="k1d" d="M3039 1094l3-24h12l2 24z"/><path class="k1a" d="M3050 1070h4l2 24h-6z"/><path class="k2d" d="M2757 1094l3-32h14l3 32z"/><path class="k2a" d="M2770 1062h4l3 32h-7z"/><path class="k5c" d="M3375 1094l9-55 7-33 3 35 2 53z"/><path class="k1b" d="M2685 1094l4-13h17l3 13z"/><path class="k1a" d="M2701 1081h5l3 13h-8z"/><path class="k7d" d="M3244 1094l3-81 3-49 9 52 9 78z"/><path class="k1c" d="M3027 1094l3-9h15l3 9z"/><path class="k1a" d="M3041 1085h4l3 9h-7z"/><path class="k6b" d="M3235 1095l7-66 5-41 2 43 2 64z"/><path class="k12d" d="M3371 1095l4-130 3-80 7 84 8 126z"/><path class="k2c" d="M2927 1095l3-37h14l3 37z"/><path class="k2a" d="M2940 1058h4l3 37h-7z"/><path class="k5a" d="M2859 1095l2-61 2-37 6 39 7 59z"/><path class="k1c" d="M3748 1095l4-27h18l4 27z"/><path class="k1a" d="M3765 1068h5l4 27h-9z"/><path class="k7c" d="M3321 1095l3-79 2-48 6 51 7 76z"/><path class="k1c" d="M2629 1095l2-24h9l2 24z"/><path class="k1a" d="M2637 1071h3l2 24h-5z"/><path class="k2a" d="M3766 1095l2-29h7l1 29z"/><path class="k1a" d="M2516 1095l2-22h11l3 22z"/><path class="k1a" d="M2526 1073h3l3 22h-6z"/><path class="k1b" d="M3207 1095l3-24h15l4 24z"/><path class="k1a" d="M3221 1071h4l4 24h-8z"/><path class="k11a" d="M2960 1095l6-120 4-73 8 77 8 116z"/><path class="k6a" d="M2889 1095l6-63 5-38 5 40 6 61z"/><path class="k1c" d="M3707 1095l4-16h17l3 16z"/><path class="k1a" d="M3723 1079h5l3 16h-8z"/><path class="k6c" d="M2907 1095l8-71 7-44 3 46 2 69z"/><path class="k1b" d="M2878 1095l2-12h8l1 12z"/><path class="k2b" d="M3673 1095l4-32h18l3 32z"/><path class="k2a" d="M3690 1063h5l3 32h-8z"/><path class="k1b" d="M3240 1095l2-12h10l2 12z"/><path class="k1a" d="M3249 1083h3l2 12h-5z"/><path class="k5c" d="M2664 1095l3-51 3-32 7 33 7 50z"/><path class="k10b" d="M2958 1096l2-111 2-68 7 72 7 107z"/><path class="k1a" d="M2852 1096l3-20h16l4 20z"/><path class="k1a" d="M2866 1076h5l4 20h-9z"/><path class="k1d" d="M3296 1096l2-21h8l2 21z"/><path class="k1a" d="M3304 1075h2l2 21h-4z"/><path class="k9d" d="M3379 1096l8-105 6-65 5 68 4 102z"/><path class="k1c" d="M2698 1096l3-8h14l3 8z"/><path class="k1a" d="M2711 1088h4l3 8h-7z"/><path class="k3c" d="M3282 1096l2-30 1-18 6 19 7 29z"/><path class="k1d" d="M2692 1096l3-12h13l2 12z"/><path class="k1a" d="M2704 1084h4l2 12h-6z"/><path class="k6d" d="M3240 1096l6-65 4-40 3 42 2 63z"/><path class="k3a" d="M3309 1096l4-48h18l4 48z"/><path class="k3a" d="M3326 1048h5l4 48h-9z"/><path class="k2a" d="M3527 1096l2-37h11l3 37z"/><path class="k2a" d="M3537 1059h3l3 37h-6z"/><path class="k8b" d="M2880 1096l8-88 7-54 5 57 5 85z"/><path class="k1a" d="M3112 1096l2-10h10l3 10z"/><path class="k1a" d="M3121 1086h3l3 10h-6z"/><path class="k2c" d="M3224 1096l2-27h10l2 27z"/><path class="k2a" d="M3233 1069h3l2 27h-5z"/><path class="k1c" d="M3152 1096l3-7h13l2 7z"/><path class="k7c" d="M2995 1096l2-76 2-47 9 49 9 74z"/><path class="k1b" d="M2436 1096l2-22h10l2 22z"/><path class="k1a" d="M2445 1074h3l2 22h-5z"/><path class="k1c" d="M3378 1096l2-21h10l3 21z"/><path class="k1a" d="M3387 1075h3l3 21h-6z"/><path class="k3c" d="M2920 1097l8-36 6-22 2 23 2 35z"/><path class="k1c" d="M2949 1097l3-12h13l2 12z"/><path class="k1a" d="M2961 1085h4l2 12h-6z"/><path class="k1c" d="M3246 1097l3-9h13l3 9z"/><path class="k1a" d="M3258 1088h4l3 9h-7z"/><path class="k1c" d="M3744 1097l3-12h13l3 12z"/><path class="k1a" d="M3756 1085h4l3 12h-7z"/><path class="k9c" d="M2970 1097l4-102 3-62 7 66 7 98z"/><path class="k2b" d="M2938 1097l2-43h8l2 43z"/><path class="k2a" d="M2946 1054h2l2 43h-4z"/><path class="k3a" d="M3728 1097l3-52h15l3 52z"/><path class="k3a" d="M3742 1045h4l3 52h-7z"/><path class="k4b" d="M3652 1097l2-49 2-30 8 32 8 47z"/><path class="k2c" d="M3647 1097l5-27 4-16 5 17 4 26z"/><path class="k9c" d="M2995 1097l4-105 4-65 8 68 8 102z"/><path class="k1c" d="M3312 1097l2-9h10l3 9z"/><path class="k1a" d="M3321 1088h3l3 9h-6z"/><path class="k6c" d="M3358 1097l4-66 3-40 4 42 4 64z"/><path class="k1d" d="M2710 1098l3-9h15l4 9z"/><path class="k1a" d="M2724 1089h4l4 9h-8z"/><path class="k1c" d="M3519 1098l2-7h11l3 7z"/><path class="k7a" d="M3425 1098l3-78 2-47 5 50 5 75z"/><path class="k1d" d="M3288 1098l4-9h18l4 9z"/><path class="k1a" d="M3305 1089h5l4 9h-9z"/><path class="k2c" d="M2697 1098l3-37h14l3 37z"/><path class="k2a" d="M2710 1061h4l3 37h-7z"/><path class="k3d" d="M3438 1098l3-55h15l4 55z"/><path class="k3a" d="M3452 1043h4l4 55h-8z"/><path class="k5d" d="M2651 1098l7-53 6-33 4 34 4 52z"/><path class="k10d" d="M2990 1098l6-116 4-71 5 75 5 112z"/><path class="k3c" d="M3287 1098l3-57h14l3 57z"/><path class="k3a" d="M3300 1041h4l3 57h-7z"/><path class="k9c" d="M3354 1098l7-99 6-61 4 64 4 96z"/><path class="k6c" d="M2825 1098l7-63 6-39 2 41 2 61z"/><path class="k1b" d="M3129 1098l3-9h15l4 9z"/><path class="k1a" d="M3143 1089h4l4 9h-8z"/><path class="k8b" d="M2891 1098l3-87 2-53 5 56 6 84z"/><path class="k1d" d="M3500 1098l3-25h12l2 25z"/><path class="k1a" d="M3511 1073h4l2 25h-6z"/><path class="k1a" d="M3152 1098l3-7h14l3 7z"/><path class="k1d" d="M3193 1099l3-11h13l3 11z"/><path class="k1a" d="M3205 1088h4l3 11h-7z"/><path class="k2b" d="M2887 1099l4-33h17l3 33z"/><path class="k2a" d="M2903 1066h5l3 33h-8z"/><path class="k2c" d="M3779 1099l2-35h9l2 35z"/><path class="k2a" d="M3787 1064h3l2 35h-5z"/><path class="k3c" d="M3506 1099l4-48h17l3 48z"/><path class="k3a" d="M3522 1051h5l3 48h-8z"/><path class="k8b" d="M2866 1099l3-84 3-52 6 54 6 82z"/><path class="k1c" d="M2894 1099l4-10h18l3 10z"/><path class="k1a" d="M2911 1089h5l3 10h-8z"/><path class="k6c" d="M3249 1099l7-69 6-42 3 44 3 67z"/><path class="k7c" d="M3416 1099l3-81 3-49 6 52 7 78z"/><path class="k1b" d="M3477 1099l2-26h8l1 26z"/><path class="k8d" d="M3364 1099l10-91 9-55 3 58 2 88z"/><path class="k6c" d="M2865 1099l2-69 2-42 7 44 7 67z"/><path class="k10c" d="M3397 1099l10-115 9-71 4 74 3 112z"/><path class="k1b" d="M2429 1099l2-18h10l3 18z"/><path class="k1a" d="M2438 1081h3l3 18h-6z"/><path class="k8b" d="M3404 1100l4-92 3-56 6 59 7 89z"/><path class="k1c" d="M2978 1100l2-13h10l3 13z"/><path class="k1a" d="M2987 1087h3l3 13h-6z"/><path class="k1c" d="M3848 1100l3-6h14l3 6z"/><path class="k1d" d="M2906 1100l2-26h11l3 26z"/><path class="k1a" d="M2916 1074h3l3 26h-6z"/><path class="k1b" d="M2679 1100l4-19h17l3 19z"/><path class="k1a" d="M2695 1081h5l3 19h-8z"/><path class="k5b" d="M3622 1100l2-59 1-36 7 38 7 57z"/><path class="k5c" d="M3283 1100l6-57 4-35 2 37 1 55z"/><path class="k3c" d="M3488 1100l2-47h11l3 47z"/><path class="k3a" d="M3498 1053h3l3 47h-6z"/><path class="k1d" d="M3060 1100l4-10h17l3 10z"/><path class="k1a" d="M3076 1090h5l3 10h-8z"/><path class="k2b" d="M3735 1100l2-30h11l3 30z"/><path class="k2a" d="M3745 1070h3l3 30h-6z"/><path class="k14a" d="M3351 1100l2-158 2-97 8 102 8 153z"/><path class="k8b" d="M2889 1100l2-91 2-56 6 59 6 88z"/><path class="k7d" d="M3320 1100l2-81 2-50 10 52 10 79z"/><path class="k4b" d="M3538 1100l2-40 2-25 7 26 8 39z"/><path class="k6a" d="M3262 1100l2-64 1-40 7 42 7 62z"/><path class="k1c" d="M3683 1100l3-11h13l3 11z"/><path class="k1a" d="M3695 1089h4l3 11h-7z"/><path class="k1a" d="M3671 1101l3-18h16l4 18z"/><path class="k1a" d="M3685 1083h5l4 18h-9z"/><path class="k4b" d="M3279 1101l1-40 1-25 5 26 5 39z"/><path class="k2c" d="M3823 1101l2-34h8l1 34z"/><path class="k1c" d="M3832 1101l3-6h15l4 6z"/><path class="k4c" d="M3385 1101l6-42 5-26 4 27 3 41z"/><path class="k3b" d="M3605 1101l4-50h18l4 50z"/><path class="k3a" d="M3622 1051h5l4 50h-9z"/><path class="k3a" d="M3030 1101l5-38 4-24 3 25 3 37z"/><path class="k1b" d="M3299 1101l2-21h11l3 21z"/><path class="k1a" d="M3309 1080h3l3 21h-6z"/><path class="k8b" d="M2962 1101l7-95 6-58 5 61 4 92z"/><path class="k11b" d="M3363 1101l6-123 4-76 4 80 4 119z"/><path class="k2d" d="M2490 1101l3-38h15l4 38z"/><path class="k2a" d="M2504 1063h4l4 38h-8z"/><path class="k7b" d="M3643 1101l2-76 2-46 5 49 5 73z"/><path class="k6c" d="M3313 1101l3-69 2-42 8 44 9 67z"/><path class="k1a" d="M2646 1101l3-24h12l2 24z"/><path class="k1a" d="M2657 1077h4l2 24h-6z"/><path class="k1d" d="M3419 1101l3-19h15l4 19z"/><path class="k1a" d="M3433 1082h4l4 19h-8z"/><path class="k1a" d="M3210 1101l2-16h10l2 16z"/><path class="k1a" d="M3219 1085h3l2 16h-5z"/><path class="k6b" d="M3551 1102l4-66 4-41 4 43 3 64z"/><path class="k7d" d="M2922 1102l3-80 2-49 6 52 6 77z"/><path class="k4c" d="M3585 1102l3-41 3-25 5 26 4 40z"/><path class="k5c" d="M2762 1102l8-60 7-36 4 38 3 58z"/><path class="k3c" d="M3646 1102l2-53h9l2 53z"/><path class="k3a" d="M3654 1049h3l2 53h-5z"/><path class="k4c" d="M3592 1102l3-42 3-26 4 27 3 41z"/><path class="k7b" d="M3321 1102l7-84 6-51 2 54 2 81z"/><path class="k1d" d="M3044 1102l2-23h10l3 23z"/><path class="k1a" d="M3053 1079h3l3 23h-6z"/><path class="k5c" d="M2884 1102l4-52 4-32 2 34 2 50z"/><path class="k5c" d="M3705 1102l4-52 3-32 6 34 7 50z"/><path class="k4a" d="M2654 1102l3-46 3-29 5 30 6 45z"/><path class="k2d" d="M2885 1102l4-27h18l4 27z"/><path class="k2a" d="M2902 1075h5l4 27h-9z"/><path class="k1d" d="M3937 1102l3-12h12l2 12z"/><path class="k1a" d="M3948 1090h4l2 12h-6z"/><path class="k1b" d="M3461 1102l3-18h15l3 18z"/><path class="k1a" d="M3475 1084h4l3 18h-7z"/><path class="k1b" d="M3524 1102l3-24h15l4 24z"/><path class="k1a" d="M3538 1078h4l4 24h-8z"/><path class="k1b" d="M3369 1102l2-10h11l3 10z"/><path class="k1a" d="M3379 1092h3l3 10h-6z"/><path class="k1b" d="M2558 1102l3-10h13l2 10z"/><path class="k1a" d="M2570 1092h4l2 10h-6z"/><path class="k2b" d="M3502 1102l4-21 3-13 5 14 5 20z"/><path class="k1c" d="M3732 1102l3-20h15l4 20z"/><path class="k1a" d="M3746 1082h4l4 20h-8z"/><path class="k3a" d="M3576 1102l7-37 6-22 2 24 2 35z"/><path class="k1c" d="M3197 1102l2-14h7l1 14z"/><path class="k5a" d="M3242 1102l2-55 1-33 7 35 8 53z"/><path class="k2b" d="M3338 1103l3-35h13l3 35z"/><path class="k2a" d="M3350 1068h4l3 35h-7z"/><path class="k1c" d="M3140 1103l3-12h14l3 12z"/><path class="k1a" d="M3153 1091h4l3 12h-7z"/><path class="k1a" d="M3262 1103l3-11h12l2 11z"/><path class="k1a" d="M3273 1092h4l2 11h-6z"/><path class="k4a" d="M3543 1103l6-40 5-24 2 26 1 38z"/><path class="k1d" d="M2852 1103l2-17h7l1 17z"/><path class="k3b" d="M3219 1103l4-39 4-24 5 25 4 38z"/><path class="k4a" d="M3553 1103l2-47 2-29 6 30 6 46z"/><path class="k1d" d="M2789 1103l2-17h10l2 17z"/><path class="k1a" d="M2798 1086h3l2 17h-5z"/><path class="k2b" d="M3389 1103l2-39h11l3 39z"/><path class="k2a" d="M3399 1064h3l3 39h-6z"/><path class="k1c" d="M3158 1103l2-9h9l2 9z"/><path class="k1a" d="M3166 1094h3l2 9h-5z"/><path class="k7c" d="M2893 1103l8-78 7-48 2 50 2 76z"/><path class="k1d" d="M2787 1104l2-12h10l3 12z"/><path class="k1a" d="M2796 1092h3l3 12h-6z"/><path class="k2c" d="M2632 1104l3-29h13l2 29z"/><path class="k2a" d="M2644 1075h4l2 29h-6z"/><path class="k1c" d="M3909 1104l3-6h12l2 6z"/><path class="k1c" d="M3518 1104l2-11h10l3 11z"/><path class="k1a" d="M3527 1093h3l3 11h-6z"/><path class="k1a" d="M3202 1104l2-12h10l3 12z"/><path class="k1a" d="M3211 1092h3l3 12h-6z"/><path class="k2d" d="M2532 1104l4-31h18l3 31z"/><path class="k2a" d="M2549 1073h5l3 31h-8z"/><path class="k3c" d="M2834 1104l7-30 6-19 3 20 3 29z"/><path class="k2b" d="M3263 1104l3-44h12l2 44z"/><path class="k2a" d="M3274 1060h4l2 44h-6z"/><path class="k3c" d="M3330 1104l4-31 3-19 3 20 3 30z"/><path class="k2d" d="M3739 1104l2-35h8l2 35z"/><path class="k2a" d="M3747 1069h2l2 35h-4z"/><path class="k1c" d="M3329 1104l3-14h14l3 14z"/><path class="k1a" d="M3342 1090h4l3 14h-7z"/><path class="k12c" d="M3378 1104l2-130 1-79 8 84 8 125z"/><path class="k5b" d="M2646 1104l7-55 5-33 4 35 3 53z"/><path class="k2b" d="M3325 1104l4-31h18l4 31z"/><path class="k2a" d="M3342 1073h5l4 31h-9z"/><path class="k1b" d="M3430 1104l2-16h11l3 16z"/><path class="k1a" d="M3440 1088h3l3 16h-6z"/><path class="k1c" d="M3834 1104l3-11h15l3 11z"/><path class="k1a" d="M3848 1093h4l3 11h-7z"/><path class="k1d" d="M3545 1104l3-27h16l4 27z"/><path class="k1a" d="M3559 1077h5l4 27h-9z"/><path class="k9d" d="M2862 1104l5-97 4-60 6 63 6 94z"/><path class="k3d" d="M3028 1105l4-56h18l3 56z"/><path class="k3a" d="M3045 1049h5l3 56h-8z"/><path class="k1c" d="M3455 1105l3-19h12l2 19z"/><path class="k1a" d="M3466 1086h4l2 19h-6z"/><path class="k1c" d="M2391 1105l3-17h15l4 17z"/><path class="k1a" d="M2405 1088h4l4 17h-8z"/><path class="k1b" d="M2544 1105l4-22h18l4 22z"/><path class="k1a" d="M2561 1083h5l4 22h-9z"/><path class="k1b" d="M2990 1105l4-10h17l3 10z"/><path class="k1a" d="M3006 1095h5l3 10h-8z"/><path class="k1c" d="M2678 1105l2-20h7l1 20z"/><path class="k1c" d="M3522 1105l2-8h10l3 8z"/><path class="k1a" d="M3531 1097h3l3 8h-6z"/><path class="k1d" d="M3756 1105l3-11h15l3 11z"/><path class="k1a" d="M3770 1094h4l3 11h-7z"/><path class="k1a" d="M2443 1105l4-16h17l3 16z"/><path class="k1a" d="M2459 1089h5l3 16h-8z"/><path class="k3c" d="M3414 1105l3-56h14l3 56z"/><path class="k3a" d="M3427 1049h4l3 56h-7z"/><path class="k2c" d="M3040 1105l3-40h14l3 40z"/><path class="k2a" d="M3053 1065h4l3 40h-7z"/><path class="k2b" d="M3302 1105l2-43h9l2 43z"/><path class="k2a" d="M3310 1062h3l2 43h-5z"/><path class="k2c" d="M2967 1105l2-28h10l2 28z"/><path class="k2a" d="M2976 1077h3l2 28h-5z"/><path class="k2c" d="M3297 1105l4-29h18l3 29z"/><path class="k2a" d="M3314 1076h5l3 29h-8z"/><path class="k5c" d="M2773 1105l6-60 5-36 2 38 1 58z"/><path class="k8c" d="M3241 1105l4-87 3-53 7 56 8 84z"/><path class="k2b" d="M3459 1105l4-28h17l3 28z"/><path class="k2a" d="M3475 1077h5l3 28h-8z"/><path class="k1d" d="M3200 1106l3-11h13l3 11z"/><path class="k1a" d="M3212 1095h4l3 11h-7z"/><path class="k1c" d="M3674 1106l4-14h18l3 14z"/><path class="k1a" d="M3691 1092h5l3 14h-8z"/><path class="k1a" d="M3513 1106l4-18h18l3 18z"/><path class="k1a" d="M3530 1088h5l3 18h-8z"/><path class="k2c" d="M3716 1106l7-25 6-15 4 16 3 24z"/><path class="k1b" d="M3180 1106l2-12h11l3 12z"/><path class="k1a" d="M3190 1094h3l3 12h-6z"/><path class="k8c" d="M3333 1106l2-88 1-54 9 57 9 85z"/><path class="k4b" d="M3432 1106l2-50 1-31 6 32 6 49z"/><path class="k5c" d="M3695 1106l4-56 4-35 5 36 6 55z"/><path class="k1d" d="M3558 1106l2-18h9l2 18z"/><path class="k1a" d="M3566 1088h3l2 18h-5z"/><path class="k2c" d="M2623 1106l4-36h18l3 36z"/><path class="k2a" d="M2640 1070h5l3 36h-8z"/><path class="k9a" d="M2882 1106l8-96 7-59 3 62 2 93z"/><path class="k1a" d="M2543 1106l3-9h15l4 9z"/><path class="k1a" d="M2557 1097h4l4 9h-8z"/><path class="k3c" d="M2920 1106l4-36 3-22 3 23 2 35z"/><path class="k1c" d="M3161 1106l2-10h9l2 10z"/><path class="k1a" d="M3169 1096h3l2 10h-5z"/><path class="k3c" d="M2779 1106l2-36 1-22 5 23 4 35z"/><path class="k8c" d="M3617 1107l6-92 5-56 4 59 4 89z"/><path class="k3c" d="M2865 1107l3-30 2-18 8 19 8 29z"/><path class="k1d" d="M2631 1107l3-23h14l3 23z"/><path class="k1a" d="M2644 1084h4l3 23h-7z"/><path class="k5c" d="M3714 1107l9-56 8-34 3 36 2 54z"/><path class="k6a" d="M3232 1107l8-66 6-40 4 42 4 64z"/><path class="k2c" d="M3528 1107l2-39h9l2 39z"/><path class="k2a" d="M3536 1068h3l2 39h-5z"/><path class="k7c" d="M3634 1107l9-81 8-50 3 52 3 79z"/><path class="k7c" d="M3604 1107l4-81 3-49 5 52 5 78z"/><path class="k1d" d="M2345 1108l3-13h13l2 13z"/><path class="k1a" d="M2357 1095h4l2 13h-6z"/><path class="k10d" d="M3339 1108l8-107 6-65 4 69 3 103z"/><path class="k1b" d="M2693 1108l3-8h13l2 8z"/><path class="k1a" d="M2705 1100h4l2 8h-6z"/><path class="k1b" d="M3201 1108l2-9h8l1 9z"/><path class="k2b" d="M2862 1108l3-32h13l2 32z"/><path class="k2a" d="M2874 1076h4l2 32h-6z"/><path class="k2c" d="M3272 1108l2-41h11l3 41z"/><path class="k2a" d="M3282 1067h3l3 41h-6z"/><path class="k7a" d="M2839 1108l8-81 7-49 5 52 4 78z"/><path class="k7b" d="M2889 1108l2-75 2-46 9 48 9 73z"/><path class="k1b" d="M3235 1108l3-10h13l2 10z"/><path class="k1a" d="M3247 1098h4l2 10h-6z"/><path class="k5d" d="M2898 1108l2-54 1-33 5 35 6 52z"/><path class="k15c" d="M3341 1108l11-163 9-100 5 105 4 158z"/><path class="k1b" d="M2602 1108l3-13h15l4 13z"/><path class="k1a" d="M2616 1095h4l4 13h-8z"/><path class="k7c" d="M2993 1108l8-78 6-47 4 50 3 75z"/><path class="k8a" d="M2922 1109l6-87 4-54 3 56 2 85z"/><path class="k1b" d="M3864 1109l2-12h8l1 12z"/><path class="k2d" d="M2631 1109l3-30h16l4 30z"/><path class="k2a" d="M2645 1079h5l4 30h-9z"/><path class="k1a" d="M3077 1109l4-9h18l3 9z"/><path class="k1a" d="M3094 1100h5l3 9h-8z"/><path class="k1d" d="M3180 1109l2-11h11l3 11z"/><path class="k1a" d="M3190 1098h3l3 11h-6z"/><path class="k2b" d="M3270 1109l2-26 1-16 5 17 5 25z"/><path class="k7a" d="M2846 1109l8-79 7-48 2 51 2 76z"/><path class="k1b" d="M2708 1109l2-6h9l2 6z"/><path class="k7d" d="M3610 1109l4-74 4-46 6 48 6 72z"/><path class="k2c" d="M2733 1109l2-30h8l2 30z"/><path class="k2a" d="M2741 1079h2l2 30h-4z"/><path class="k8d" d="M3326 1109l7-92 6-57 3 60 2 89z"/><path class="k1b" d="M2644 1109l2-25h8l2 25z"/><path class="k1a" d="M2652 1084h2l2 25h-4z"/><path class="k2c" d="M2994 1109l3-45h14l3 45z"/><path class="k2a" d="M3007 1064h4l3 45h-7z"/><path class="k5c" d="M2866 1109l7-61 6-38 2 40 2 59z"/><path class="k1b" d="M3749 1110l2-21h7l1 21z"/><path class="k4a" d="M3546 1110l3-45 3-27 4 29 3 43z"/><path class="k2a" d="M2645 1110l3-31h13l2 31z"/><path class="k2a" d="M2657 1079h4l2 31h-6z"/><path class="k1b" d="M3856 1110l3-11h14l3 11z"/><path class="k1a" d="M3869 1099h4l3 11h-7z"/><path class="k3c" d="M2650 1110l8-38 7-24 3 25 2 37z"/><path class="k5c" d="M2772 1110l4-56 3-34 7 36 7 54z"/><path class="k1d" d="M3837 1110l3-19h16l4 19z"/><path class="k1a" d="M3851 1091h5l4 19h-9z"/><path class="k2d" d="M3434 1110l2-35h8l2 35z"/><path class="k2a" d="M3442 1075h2l2 35h-4z"/><path class="k1b" d="M3011 1110l3-23h15l4 23z"/><path class="k1a" d="M3025 1087h4l4 23h-8z"/><path class="k4c" d="M3552 1110l2-49 2-30 8 32 8 47z"/><path class="k1c" d="M3297 1110l2-15h10l3 15z"/><path class="k1a" d="M3306 1095h3l3 15h-6z"/><path class="k8b" d="M3396 1110l4-89 4-55 5 58 6 86z"/><path class="k2c" d="M3680 1110l4-31h18l4 31z"/><path class="k2a" d="M3697 1079h5l4 31h-9z"/><path class="k1d" d="M3719 1110l2-10h11l3 10z"/><path class="k1a" d="M3729 1100h3l3 10h-6z"/><path class="k10a" d="M2989 1111l9-113 7-70 4 73 3 110z"/><path class="k1c" d="M3111 1111l3-9h14l3 9z"/><path class="k1a" d="M3124 1102h4l3 9h-7z"/><path class="k6c" d="M3443 1111l9-68 7-41 2 44 1 65z"/><path class="k5b" d="M2911 1111l3-50 3-31 4 32 4 49z"/><path class="k7c" d="M3438 1111l4-75 4-46 5 48 4 73z"/><path class="k7a" d="M3268 1111l4-76 4-47 4 49 4 74z"/><path class="k6a" d="M3605 1111l3-72 2-44 6 46 7 70z"/><path class="k1b" d="M3536 1111l3-11h12l2 11z"/><path class="k1a" d="M3547 1100h4l2 11h-6z"/><path class="k2b" d="M2566 1111l4-30h18l4 30z"/><path class="k2a" d="M2583 1081h5l4 30h-9z"/><path class="k1d" d="M3477 1111l2-26h9l2 26z"/><path class="k1a" d="M3485 1085h3l2 26h-5z"/><path class="k1c" d="M2842 1111l3-20h15l3 20z"/><path class="k1a" d="M2856 1091h4l3 20h-7z"/><path class="k3c" d="M2983 1111l2-58h8l1 58z"/><path class="k2c" d="M3723 1111l8-27 6-16 3 17 2 26z"/><path class="k2c" d="M2358 1111l2-30h8l1 30z"/><path class="k2c" d="M3364 1111l2-32h9l2 32z"/><path class="k2a" d="M3372 1079h3l2 32h-5z"/><path class="k6b" d="M3243 1112l8-70 7-43 3 45 2 68z"/><path class="k5d" d="M2968 1112l3-51 3-31 5 33 5 49z"/><path class="k2c" d="M2901 1112l3-36h15l3 36z"/><path class="k2a" d="M2915 1076h4l3 36h-7z"/><path class="k1d" d="M3667 1112l4-10h18l3 10z"/><path class="k1a" d="M3684 1102h5l3 10h-8z"/><path class="k5a" d="M2645 1112l3-55 3-34 4 36 3 53z"/><path class="k1a" d="M3748 1112l2-19h7l1 19z"/><path class="k3a" d="M2753 1112l3-29 2-18 5 19 5 28z"/><path class="k1c" d="M3405 1112l2-11h10l3 11z"/><path class="k1a" d="M3414 1101h3l3 11h-6z"/><path class="k1b" d="M3519 1112l4-21h17l3 21z"/><path class="k1a" d="M3535 1091h5l3 21h-8z"/><path class="k3d" d="M3646 1113l3-30 3-18 3 19 2 29z"/><path class="k1c" d="M3679 1113l4-10h18l4 10z"/><path class="k1a" d="M3696 1103h5l4 10h-9z"/><path class="k1c" d="M2842 1113l3-10h12l2 10z"/><path class="k1a" d="M2853 1103h4l2 10h-6z"/><path class="k2a" d="M3481 1113l2-29h10l3 29z"/><path class="k2a" d="M3490 1084h3l3 29h-6z"/><path class="k2b" d="M2806 1113l2-36h7l1 36z"/><path class="k1b" d="M3067 1113l2-9h7l1 9z"/><path class="k8c" d="M3602 1113l4-84 3-51 5 54 6 81z"/><path class="k4c" d="M3450 1113l5-49 4-30 4 32 3 47z"/><path class="k1c" d="M3043 1113l3-9h15l3 9z"/><path class="k1a" d="M3057 1104h4l3 9h-7z"/><path class="k1c" d="M3620 1113l2-19h8l2 19z"/><path class="k1a" d="M3628 1094h2l2 19h-4z"/><path class="k1d" d="M3195 1113l2-13h8l2 13z"/><path class="k1a" d="M3203 1100h2l2 13h-4z"/><path class="k5c" d="M3484 1114l4-53 3-33 5 34 4 52z"/><path class="k1c" d="M3219 1114l3-13h13l3 13z"/><path class="k1a" d="M3231 1101h4l3 13h-7z"/><path class="k8b" d="M3619 1114l7-92 5-57 5 60 5 89z"/><path class="k1b" d="M3109 1114l3-25h13l3 25z"/><path class="k1a" d="M3121 1089h4l3 25h-7z"/><path class="k1c" d="M2509 1114l2-19h8l2 19z"/><path class="k1a" d="M2517 1095h2l2 19h-4z"/><path class="k5c" d="M3222 1114l6-57 5-35 4 37 4 55z"/><path class="k4d" d="M3314 1114l3-45 3-27 7 29 7 43z"/><path class="k3b" d="M3701 1114l2-38 2-24 6 25 6 37z"/><path class="k6c" d="M2815 1114l9-72 8-44 3 46 3 70z"/><path class="k2d" d="M3017 1114l3-36h13l2 36z"/><path class="k2a" d="M3029 1078h4l2 36h-6z"/><path class="k11b" d="M2948 1114l4-118 4-73 7 76 7 115z"/><path class="k5d" d="M3442 1114l9-60 7-36 4 38 3 58z"/><path class="k2d" d="M2789 1114l3-38h13l3 38z"/><path class="k2a" d="M2801 1076h4l3 38h-7z"/><path class="k4d" d="M3284 1114l3-45 2-28 7 29 8 44z"/><path class="k1b" d="M3520 1114l3-18h16l4 18z"/><path class="k1a" d="M3534 1096h5l4 18h-9z"/><path class="k1b" d="M3586 1114l3-9h15l4 9z"/><path class="k1a" d="M3600 1105h4l4 9h-8z"/><path class="k11b" d="M3396 1114l3-119 3-73 7 77 7 115z"/><path class="k1c" d="M3774 1114l3-14h16l4 14z"/><path class="k1a" d="M3788 1100h5l4 14h-9z"/><path class="k7b" d="M2946 1114l3-74 2-46 5 48 4 72z"/><path class="k2b" d="M2865 1114l2-33h11l3 33z"/><path class="k2a" d="M2875 1081h3l3 33h-6z"/><path class="k8b" d="M3607 1115l9-90 8-55 3 58 2 87z"/><path class="k10d" d="M3397 1115l9-113 7-70 2 73 2 110z"/><path class="k1d" d="M2722 1115l2-11h10l3 11z"/><path class="k1a" d="M2731 1104h3l3 11h-6z"/><path class="k1c" d="M3151 1115l3-12h12l2 12z"/><path class="k1a" d="M3162 1103h4l2 12h-6z"/><path class="k2c" d="M3739 1115l2-44h11l3 44z"/><path class="k2a" d="M3749 1071h3l3 44h-6z"/><path class="k1b" d="M2584 1115l2-14h8l2 14z"/><path class="k1a" d="M2592 1101h2l2 14h-4z"/><path class="k1d" d="M2360 1115l2-16h10l3 16z"/><path class="k1a" d="M2369 1099h3l3 16h-6z"/><path class="k3d" d="M2920 1115l2-45h10l3 45z"/><path class="k3a" d="M2929 1070h3l3 45h-6z"/><path class="k9b" d="M3335 1115l6-104 4-63 6 67 6 100z"/><path class="k1c" d="M3031 1116l3-14h15l4 14z"/><path class="k1a" d="M3045 1102h4l4 14h-8z"/><path class="k2d" d="M3647 1116l2-43h10l3 43z"/><path class="k2a" d="M3656 1073h3l3 43h-6z"/><path class="k2d" d="M3358 1116l2-42h8l1 42z"/><path class="k4c" d="M3441 1116l6-39 5-24 3 25 3 38z"/><path class="k1c" d="M3863 1116l4-8h18l3 8z"/><path class="k1a" d="M3880 1108h5l3 8h-8z"/><path class="k4c" d="M3493 1116l7-44 5-27 5 28 4 43z"/><path class="k1b" d="M2722 1116l3-11h15l4 11z"/><path class="k1a" d="M2736 1105h4l4 11h-8z"/><path class="k1d" d="M2547 1116l4-26h17l3 26z"/><path class="k1a" d="M2563 1090h5l3 26h-8z"/><path class="k1d" d="M3064 1116l3-13h12l2 13z"/><path class="k1a" d="M3075 1103h4l2 13h-6z"/><path class="k1d" d="M3678 1116l2-9h9l2 9z"/><path class="k1a" d="M3686 1107h3l2 9h-5z"/><path class="k1c" d="M3850 1116l4-11h17l3 11z"/><path class="k1a" d="M3866 1105h5l3 11h-8z"/><path class="k1c" d="M3583 1116l2-23h8l1 23z"/><path class="k1d" d="M3108 1117l2-7h9l2 7z"/><path class="k4b" d="M3450 1117l4-45 4-27 3 29 3 43z"/><path class="k5a" d="M3255 1117l6-53 4-33 3 34 2 52z"/><path class="k3d" d="M3016 1117l3-50h12l2 50z"/><path class="k3a" d="M3027 1067h4l2 50h-6z"/><path class="k3a" d="M3360 1117l2-54h8l2 54z"/><path class="k3a" d="M3368 1063h2l2 54h-4z"/><path class="k5b" d="M2771 1117l9-60 8-36 3 38 2 58z"/><path class="k6b" d="M3346 1117l7-70 6-43 4 45 3 68z"/><path class="k2c" d="M2849 1117l4-29h18l4 29z"/><path class="k2a" d="M2866 1088h5l4 29h-9z"/><path class="k1d" d="M2853 1117l3-11h13l3 11z"/><path class="k1a" d="M2865 1106h4l3 11h-7z"/><path class="k1c" d="M2740 1117l2-11h7l1 11z"/><path class="k6d" d="M2655 1117l5-72 4-44 7 46 7 70z"/><path class="k9c" d="M3432 1117l4-102 3-62 8 66 8 98z"/><path class="k8c" d="M2942 1117l3-87 3-53 8 56 9 84z"/><path class="k1d" d="M3087 1117l2-14h10l3 14z"/><path class="k1a" d="M3096 1103h3l3 14h-6z"/><path class="k4c" d="M3547 1117l2-46 2-29 5 30 5 45z"/><path class="k8d" d="M3621 1117l2-87 2-53 8 56 9 84z"/><path class="k1c" d="M2420 1118l3-19h13l2 19z"/><path class="k1a" d="M2432 1099h4l2 19h-6z"/><path class="k6c" d="M3278 1118l6-69 5-43 4 45 4 67z"/><path class="k1c" d="M3055 1118l3-17h16l4 17z"/><path class="k1a" d="M3069 1101h5l4 17h-9z"/><path class="k2c" d="M2997 1118l3-45h16l4 45z"/><path class="k2a" d="M3011 1073h5l4 45h-9z"/><path class="k9c" d="M3427 1118l9-100 7-61 4 64 4 97z"/><path class="k2d" d="M3623 1118l3-36h16l4 36z"/><path class="k2a" d="M3637 1082h5l4 36h-9z"/><path class="k1d" d="M2555 1118l3-26h13l2 26z"/><path class="k1a" d="M2567 1092h4l2 26h-6z"/><path class="k7d" d="M3447 1118l5-76 4-46 5 49 4 73z"/><path class="k1b" d="M3512 1118l2-24h8l2 24z"/><path class="k1a" d="M3520 1094h2l2 24h-4z"/><path class="k1c" d="M3849 1118l3-7h13l3 7z"/><path class="k3c" d="M3566 1118l3-51h13l2 51z"/><path class="k3a" d="M3578 1067h4l2 51h-6z"/><path class="k1b" d="M3480 1118l2-14h8l2 14z"/><path class="k1a" d="M3488 1104h2l2 14h-4z"/><path class="k1a" d="M3667 1118l3-10h15l3 10z"/><path class="k1a" d="M3681 1108h4l3 10h-7z"/><path class="k3c" d="M2893 1119l2-52h7l1 52z"/><path class="k2c" d="M3682 1119l2-36h8l2 36z"/><path class="k2a" d="M3690 1083h2l2 36h-4z"/><path class="k16b" d="M3356 1119l8-178 7-109 4 115 4 172z"/><path class="k1b" d="M3100 1119l2-13h9l2 13z"/><path class="k1a" d="M3108 1106h3l2 13h-5z"/><path class="k6b" d="M2829 1119l6-66 4-40 3 42 2 64z"/><path class="k9a" d="M3403 1119l6-102 4-62 4 66 3 98z"/><path class="k1c" d="M3536 1119l3-18h13l2 18z"/><path class="k1a" d="M3548 1101h4l2 18h-6z"/><path class="k3c" d="M2905 1119l3-52h15l4 52z"/><path class="k3a" d="M2919 1067h4l4 52h-8z"/><path class="k4b" d="M2658 1120l7-40 6-24 2 26 2 38z"/><path class="k1c" d="M2357 1120l4-12h17l3 12z"/><path class="k1a" d="M2373 1108h5l3 12h-8z"/><path class="k5d" d="M2911 1120l5-54 4-33 5 35 4 52z"/><path class="k5b" d="M2862 1120l7-50 5-31 4 32 3 49z"/><path class="k3c" d="M3442 1120l2-52h8l1 52z"/><path class="k5b" d="M2814 1120l6-61 4-37 6 39 6 59z"/><path class="k1c" d="M2892 1120l2-8h8l1 8z"/><path class="k8d" d="M2967 1120l2-89 1-54 6 57 7 86z"/><path class="k1a" d="M3060 1120l3-15h14l3 15z"/><path class="k1a" d="M3073 1105h4l3 15h-7z"/><path class="k1c" d="M3651 1120l4-22h17l3 22z"/><path class="k1a" d="M3667 1098h5l3 22h-8z"/><path class="k1b" d="M2626 1121l2-19h11l3 19z"/><path class="k1a" d="M2636 1102h3l3 19h-6z"/><path class="k1a" d="M3681 1121l2-10h10l3 10z"/><path class="k1a" d="M3690 1111h3l3 10h-6z"/><path class="k1c" d="M3058 1121l2-8h8l2 8z"/><path class="k1a" d="M3066 1113h2l2 8h-4z"/><path class="k1c" d="M3463 1121l2-26h7l1 26z"/><path class="k11c" d="M2984 1121l11-126 9-77 4 81 3 122z"/><path class="k7b" d="M2827 1121l1-81 1-49 6 52 7 78z"/><path class="k4b" d="M3735 1121l3-46 3-28 4 30 3 44z"/><path class="k6d" d="M3333 1121l8-68 7-42 4 44 4 66z"/><path class="k1b" d="M3522 1121l3-17h14l3 17z"/><path class="k1a" d="M3535 1104h4l3 17h-7z"/><path class="k2b" d="M3712 1121l6-24 4-14 2 15 1 23z"/><path class="k10c" d="M2897 1121l8-109 6-67 4 70 4 106z"/><path class="k1d" d="M2703 1121l4-9h17l3 9z"/><path class="k1a" d="M2719 1112h5l3 9h-8z"/><path class="k2c" d="M3164 1121l3-32h15l4 32z"/><path class="k2a" d="M3178 1089h4l4 32h-8z"/><path class="k3c" d="M3630 1121l4-48h18l4 48z"/><path class="k3a" d="M3647 1073h5l4 48h-9z"/><path class="k1d" d="M2868 1121l3-22h12l2 22z"/><path class="k1a" d="M2879 1099h4l2 22h-6z"/><path class="k5a" d="M3595 1121l3-52 2-32 7 34 7 50z"/><path class="k1b" d="M2621 1121l3-22h13l2 22z"/><path class="k1a" d="M2633 1099h4l2 22h-6z"/><path class="k6b" d="M3599 1122l4-69 4-43 4 45 4 67z"/><path class="k9c" d="M2925 1122l7-100 6-62 5 65 4 97z"/><path class="k14b" d="M3337 1122l12-161 10-98 3 104 3 155z"/><path class="k8c" d="M2845 1122l6-86 5-52 4 55 4 83z"/><path class="k6b" d="M3433 1122l6-71 5-43 3 46 2 68z"/><path class="k8b" d="M3386 1122l6-84 5-52 3 54 3 82z"/><path class="k1c" d="M3748 1122l3-8h13l2 8z"/><path class="k1a" d="M3760 1114h4l2 8h-6z"/><path class="k2c" d="M3578 1122l2-40h8l2 40z"/><path class="k2a" d="M3586 1082h2l2 40h-4z"/><path class="k2c" d="M3325 1122l3-37h12l2 37z"/><path class="k2a" d="M3336 1085h4l2 37h-6z"/><path class="k1b" d="M3425 1122l2-10h10l2 10z"/><path class="k1a" d="M3434 1112h3l2 10h-5z"/><path class="k6b" d="M3547 1122l6-73 4-44 3 47 3 70z"/><path class="k4b" d="M2832 1122l6-45 4-28 4 29 4 44z"/><path class="k5c" d="M2813 1122l5-55 4-33 5 35 5 53z"/><path class="k6d" d="M3618 1122l5-67 4-41 5 43 6 65z"/><path class="k3d" d="M3600 1122l2-56h10l2 56z"/><path class="k3a" d="M3609 1066h3l2 56h-5z"/><path class="k6d" d="M3449 1122l7-65 5-40 4 42 3 63z"/><path class="k3b" d="M2783 1122l4-46h18l3 46z"/><path class="k3a" d="M2800 1076h5l3 46h-8z"/><path class="k1d" d="M3432 1122l2-14h8l1 14z"/><path class="k6b" d="M3557 1123l7-69 5-42 3 44 3 67z"/><path class="k9b" d="M2857 1123l3-103 3-63 5 66 6 100z"/><path class="k2b" d="M2986 1123l3-41h14l3 41z"/><path class="k2a" d="M2999 1082h4l3 41h-7z"/><path class="k1b" d="M3121 1123l4-7h17l3 7z"/><path class="k1c" d="M2709 1123l3-10h15l3 10z"/><path class="k1a" d="M2723 1113h4l3 10h-7z"/><path class="k4b" d="M2838 1123l4-42 4-26 5 27 5 41z"/><path class="k1c" d="M3055 1123l3-14h13l3 14z"/><path class="k1a" d="M3067 1109h4l3 14h-7z"/><path class="k3b" d="M2744 1123l3-47h15l3 47z"/><path class="k3a" d="M2758 1076h4l3 47h-7z"/><path class="k2b" d="M2724 1123l3-28h13l3 28z"/><path class="k2a" d="M2736 1095h4l3 28h-7z"/><path class="k2b" d="M3493 1123l2-31h10l2 31z"/><path class="k2a" d="M3502 1092h3l2 31h-5z"/><path class="k2a" d="M3701 1123l2-41h11l3 41z"/><path class="k2a" d="M3711 1082h3l3 41h-6z"/><path class="k1b" d="M2678 1124l3-11h14l3 11z"/><path class="k1a" d="M2691 1113h4l3 11h-7z"/><path class="k1d" d="M3231 1124l2-21h8l2 21z"/><path class="k1a" d="M3239 1103h2l2 21h-4z"/><path class="k1c" d="M3107 1124l2-12h10l2 12z"/><path class="k1a" d="M3116 1112h3l2 12h-5z"/><path class="k5c" d="M3278 1124l7-55 6-33 5 35 4 53z"/><path class="k5b" d="M2937 1124l4-56 4-35 6 36 6 55z"/><path class="k13d" d="M3342 1124l6-140 5-86 5 90 6 136z"/><path class="k10a" d="M2930 1124l10-117 8-71 3 75 2 113z"/><path class="k6b" d="M2915 1124l3-61 3-38 5 40 4 59z"/><path class="k7b" d="M3592 1124l4-82 4-51 8 53 8 80z"/><path class="k5d" d="M3016 1124l2-58 1-35 5 37 6 56z"/><path class="k6b" d="M3304 1124l3-61 3-38 5 40 6 59z"/><path class="k4d" d="M2766 1124l3-46 2-28 6 30 6 44z"/><path class="k8b" d="M3383 1124l9-90 7-55 3 58 3 87z"/><path class="k1c" d="M3575 1125l2-22h9l2 22z"/><path class="k1a" d="M3583 1103h3l2 22h-5z"/><path class="k8b" d="M2828 1125l6-89 4-54 5 57 4 86z"/><path class="k4b" d="M3720 1125l7-50 5-30 3 32 2 48z"/><path class="k6c" d="M3281 1125l6-66 5-41 5 43 4 64z"/><path class="k2d" d="M3207 1125l4-33h18l3 33z"/><path class="k2a" d="M3224 1092h5l3 33h-8z"/><path class="k7c" d="M3227 1125l7-78 6-48 3 50 3 76z"/><path class="k15a" d="M3360 1125l2-171 2-105 9 110 9 166z"/><path class="k1c" d="M2447 1125l3-8h15l3 8z"/><path class="k1a" d="M2461 1117h4l3 8h-7z"/><path class="k2c" d="M3439 1125l4-37h18l3 37z"/><path class="k2a" d="M3456 1088h5l3 37h-8z"/><path class="k7b" d="M3665 1125l4-76 4-46 6 49 6 73z"/><path class="k1c" d="M3040 1125l3-26h12l2 26z"/><path class="k1a" d="M3051 1099h4l2 26h-6z"/><path class="k6b" d="M3604 1125l4-68 4-41 7 44 7 65z"/><path class="k6d" d="M3573 1126l3-70 2-43 5 45 6 68z"/><path class="k1d" d="M2957 1126l3-27h16l4 27z"/><path class="k1a" d="M2971 1099h5l4 27h-9z"/><path class="k2c" d="M3653 1126l3-29h12l2 29z"/><path class="k2a" d="M3664 1097h4l2 29h-6z"/><path class="k6d" d="M2750 1126l9-71 7-44 4 46 3 69z"/><path class="k1d" d="M2380 1126l2-11h7l1 11z"/><path class="k2b" d="M2888 1126l2-43h10l2 43z"/><path class="k2a" d="M2897 1083h3l2 43h-5z"/><path class="k1b" d="M3305 1126l2-27h7l1 27z"/><path class="k2d" d="M2891 1126l3-37h15l4 37z"/><path class="k2a" d="M2905 1089h4l4 37h-8z"/><path class="k2d" d="M3268 1126l3-33h14l3 33z"/><path class="k2a" d="M3281 1093h4l3 33h-7z"/><path class="k1a" d="M3174 1127l2-13h8l2 13z"/><path class="k1a" d="M3182 1114h2l2 13h-4z"/><path class="k1c" d="M3048 1127l2-9h11l3 9z"/><path class="k1a" d="M3058 1118h3l3 9h-6z"/><path class="k3a" d="M3377 1127l2-54h8l1 54z"/><path class="k1c" d="M2842 1127l3-20h13l3 20z"/><path class="k1a" d="M2854 1107h4l3 20h-7z"/><path class="k1d" d="M2542 1127l3-17h16l4 17z"/><path class="k1a" d="M2556 1110h5l4 17h-9z"/><path class="k1c" d="M2781 1127l4-8h18l4 8z"/><path class="k1a" d="M2798 1119h5l4 8h-9z"/><path class="k6d" d="M3735 1127l3-65 3-40 4 42 4 63z"/><path class="k1c" d="M3940 1127l3-8h13l3 8z"/><path class="k1a" d="M3952 1119h4l3 8h-7z"/><path class="k1c" d="M3226 1127l2-15h9l2 15z"/><path class="k1a" d="M3234 1112h3l2 15h-5z"/><path class="k13a" d="M3350 1127l5-142 4-87 5 92 5 137z"/><path class="k1b" d="M3150 1127l2-15h10l2 15z"/><path class="k1a" d="M3159 1112h3l2 15h-5z"/><path class="k3a" d="M3269 1127l2-60h9l2 60z"/><path class="k3a" d="M3277 1067h3l2 60h-5z"/><path class="k1c" d="M3936 1127l4-7h18l3 7z"/><path class="k5c" d="M3427 1127l3-54 2-33 4 35 4 52z"/><path class="k1c" d="M3122 1127l2-13h9l2 13z"/><path class="k1a" d="M3130 1114h3l2 13h-5z"/><path class="k1c" d="M2698 1127l3-11h15l3 11z"/><path class="k1a" d="M2712 1116h4l3 11h-7z"/><path class="k1c" d="M3202 1128l3-16h16l4 16z"/><path class="k1a" d="M3216 1112h5l4 16h-9z"/><path class="k2b" d="M3298 1128l3-28h12l2 28z"/><path class="k2a" d="M3309 1100h4l2 28h-6z"/><path class="k2b" d="M2859 1128l3-28h13l2 28z"/><path class="k2a" d="M2871 1100h4l2 28h-6z"/><path class="k1b" d="M2698 1128l3-7h15l3 7z"/><path class="k6c" d="M3441 1128l2-66 2-41 6 43 7 64z"/><path class="k12c" d="M2992 1128l7-137 6-84 7 88 7 133z"/><path class="k1c" d="M3288 1128l4-8h18l3 8z"/><path class="k1a" d="M3305 1120h5l3 8h-8z"/><path class="k2d" d="M2747 1129l3-39h16l4 39z"/><path class="k2a" d="M2761 1090h5l4 39h-9z"/><path class="k1d" d="M3666 1129l4-23h18l4 23z"/><path class="k1a" d="M3683 1106h5l4 23h-9z"/><path class="k1b" d="M3727 1129l3-24h12l2 24z"/><path class="k1a" d="M3738 1105h4l2 24h-6z"/><path class="k14c" d="M3372 1129l4-156 3-96 8 101 9 151z"/><path class="k1c" d="M2799 1129l2-12h10l3 12z"/><path class="k1a" d="M2808 1117h3l3 12h-6z"/><path class="k1d" d="M3105 1129l2-6h7l1 6z"/><path class="k2b" d="M3332 1129l2-29h10l3 29z"/><path class="k2a" d="M3341 1100h3l3 29h-6z"/><path class="k9c" d="M3641 1129l4-98 3-60 9 63 9 95z"/><path class="k1c" d="M2690 1129l2-8h10l3 8z"/><path class="k1a" d="M2699 1121h3l3 8h-6z"/><path class="k8d" d="M2852 1129l2-92 1-56 9 59 9 89z"/><path class="k1d" d="M3139 1129l2-6h7l1 6z"/><path class="k1d" d="M3613 1129l2-10h10l2 10z"/><path class="k1a" d="M3622 1119h3l2 10h-5z"/><path class="k1a" d="M3056 1129l3-14h15l3 14z"/><path class="k1a" d="M3070 1115h4l3 14h-7z"/><path class="k1a" d="M2456 1129l2-23h10l2 23z"/><path class="k1a" d="M2465 1106h3l2 23h-5z"/><path class="k8d" d="M3615 1129l5-91 4-56 7 59 7 88z"/><path class="k1b" d="M3259 1129l2-23h11l3 23z"/><path class="k1a" d="M3269 1106h3l3 23h-6z"/><path class="k8b" d="M3381 1129l2-91 1-55 7 58 7 88z"/><path class="k6c" d="M3577 1129l8-70 7-43 2 45 2 68z"/><path class="k1c" d="M3152 1130l2-9h8l2 9z"/><path class="k1a" d="M3160 1121h2l2 9h-4z"/><path class="k1d" d="M3777 1130l3-25h13l2 25z"/><path class="k1a" d="M3789 1105h4l2 25h-6z"/><path class="k1c" d="M3043 1130l2-9h8l2 9z"/><path class="k1a" d="M3051 1121h2l2 9h-4z"/><path class="k1c" d="M2791 1130l2-9h8l2 9z"/><path class="k1a" d="M2799 1121h2l2 9h-4z"/><path class="k1b" d="M2666 1130l4-9h18l4 9z"/><path class="k1a" d="M2683 1121h5l4 9h-9z"/><path class="k2c" d="M3620 1130l4-39h17l3 39z"/><path class="k2a" d="M3636 1091h5l3 39h-8z"/><path class="k4c" d="M3032 1130l7-45 6-28 3 29 3 44z"/><path class="k2c" d="M3402 1130l2-37h9l2 37z"/><path class="k2a" d="M3410 1093h3l2 37h-5z"/><path class="k6c" d="M3242 1131l3-64 2-39 7 41 7 62z"/><path class="k1b" d="M3688 1131l2-8h11l3 8z"/><path class="k1a" d="M3698 1123h3l3 8h-6z"/><path class="k3c" d="M2834 1131l2-50h8l1 50z"/><path class="k8a" d="M3430 1131l4-94 3-58 9 61 9 91z"/><path class="k8b" d="M3617 1131l3-94 3-57 9 60 10 91z"/><path class="k2b" d="M2725 1131l3-39h16l4 39z"/><path class="k2a" d="M2739 1092h5l4 39h-9z"/><path class="k1b" d="M3138 1131l3-12h14l3 12z"/><path class="k1a" d="M3151 1119h4l3 12h-7z"/><path class="k1a" d="M3194 1131l2-8h9l2 8z"/><path class="k1a" d="M3202 1123h3l2 8h-5z"/><path class="k1b" d="M3177 1131l3-10h13l3 10z"/><path class="k1a" d="M3189 1121h4l3 10h-7z"/><path class="k2b" d="M2635 1131l3-39h16l4 39z"/><path class="k2a" d="M2649 1092h5l4 39h-9z"/><path class="k8c" d="M2853 1131l6-91 5-56 3 59 3 88z"/><path class="k2b" d="M3562 1131l3-27h16l4 27z"/><path class="k2a" d="M3576 1104h5l4 27h-9z"/><path class="k1b" d="M3071 1131l4-10h18l3 10z"/><path class="k1a" d="M3088 1121h5l3 10h-8z"/><path class="k3b" d="M2842 1131l4-52h17l3 52z"/><path class="k3a" d="M2858 1079h5l3 52h-8z"/><path class="k1c" d="M3147 1131l2-9h10l3 9z"/><path class="k1a" d="M3156 1122h3l3 9h-6z"/><path class="k2c" d="M2752 1132l3-37h15l4 37z"/><path class="k2a" d="M2766 1095h4l4 37h-8z"/><path class="k8d" d="M3316 1132l2-84 2-52 7 54 8 82z"/><path class="k1c" d="M3179 1132l3-19h13l2 19z"/><path class="k1a" d="M3191 1113h4l2 19h-6z"/><path class="k1b" d="M3108 1132l3-8h12l2 8z"/><path class="k1a" d="M3119 1124h4l2 8h-6z"/><path class="k2c" d="M3367 1132l3-33h16l4 33z"/><path class="k2a" d="M3381 1099h5l4 33h-9z"/><path class="k7c" d="M2852 1132l6-84 5-51 5 54 4 81z"/><path class="k1d" d="M2488 1133l3-24h12l2 24z"/><path class="k1a" d="M2499 1109h4l2 24h-6z"/><path class="k2d" d="M3310 1133l3-40h12l2 40z"/><path class="k2a" d="M3321 1093h4l2 40h-6z"/><path class="k1c" d="M3476 1133l2-9h11l3 9z"/><path class="k1a" d="M3486 1124h3l3 9h-6z"/><path class="k1c" d="M3281 1133l4-12h18l3 12z"/><path class="k1a" d="M3298 1121h5l3 12h-8z"/><path class="k1b" d="M3437 1133l2-23h9l2 23z"/><path class="k1a" d="M3445 1110h3l2 23h-5z"/><path class="k4c" d="M3028 1133l5-45 4-27 2 29 1 43z"/><path class="k3c" d="M2739 1133l3-50h15l4 50z"/><path class="k3a" d="M2753 1083h4l4 50h-8z"/><path class="k1c" d="M2630 1134l3-15h13l3 15z"/><path class="k1a" d="M2642 1119h4l3 15h-7z"/><path class="k2b" d="M3583 1134l3-39h15l3 39z"/><path class="k2a" d="M3597 1095h4l3 39h-7z"/><path class="k1b" d="M3552 1134l2-17h7l1 17z"/><path class="k11b" d="M2925 1134l5-117 4-72 6 76 6 113z"/><path class="k13a" d="M3394 1134l6-141 4-86 8 91 8 136z"/><path class="k1b" d="M3418 1134l2-10h7l1 10z"/><path class="k3b" d="M3277 1134l5-33 4-21 5 22 4 32z"/><path class="k1d" d="M3618 1134l3-22h12l2 22z"/><path class="k1a" d="M3629 1112h4l2 22h-6z"/><path class="k1b" d="M2912 1134l2-11h11l3 11z"/><path class="k1a" d="M2922 1123h3l3 11h-6z"/><path class="k1a" d="M2690 1134l2-6h8l2 6z"/><path class="k1c" d="M2372 1134l3-25h12l2 25z"/><path class="k1a" d="M2383 1109h4l2 25h-6z"/><path class="k10c" d="M3324 1135l3-110 2-68 6 71 6 107z"/><path class="k1c" d="M3194 1135l3-11h13l3 11z"/><path class="k1a" d="M3206 1124h4l3 11h-7z"/><path class="k1b" d="M3153 1135l3-13h13l2 13z"/><path class="k1a" d="M3165 1122h4l2 13h-6z"/><path class="k3c" d="M2854 1135l2-49h7l1 49z"/><path class="k10c" d="M2896 1135l4-116 3-71 6 75 7 112z"/><path class="k3b" d="M3040 1135l2-46h8l2 46z"/><path class="k3a" d="M3048 1089h2l2 46h-4z"/><path class="k2c" d="M2665 1135l4-37h17l3 37z"/><path class="k2a" d="M2681 1098h5l3 37h-8z"/><path class="k1d" d="M3480 1135l4-13h18l3 13z"/><path class="k1a" d="M3497 1122h5l3 13h-8z"/><path class="k1b" d="M3686 1135l3-9h13l2 9z"/><path class="k1a" d="M3698 1126h4l2 9h-6z"/><path class="k2d" d="M2917 1135l3-24 3-14 3 15 3 23z"/><path class="k1c" d="M3309 1135l2-16h8l1 16z"/><path class="k1a" d="M3121 1136l4-7h18l3 7z"/><path class="k1c" d="M2922 1136l2-10h8l2 10z"/><path class="k1a" d="M2930 1126h2l2 10h-4z"/><path class="k1c" d="M2351 1136l3-26h12l2 26z"/><path class="k1a" d="M2362 1110h4l2 26h-6z"/><path class="k2c" d="M3541 1136l2-31h8l1 31z"/><path class="k6d" d="M2899 1136l8-62 7-38 2 40 2 60z"/><path class="k1c" d="M3367 1136l3-10h15l3 10z"/><path class="k1a" d="M3381 1126h4l3 10h-7z"/><path class="k2c" d="M3373 1137l4-29h17l3 29z"/><path class="k2a" d="M3389 1108h5l3 29h-8z"/><path class="k12c" d="M2935 1137l8-136 7-83 5 88 5 131z"/><path class="k5b" d="M3408 1137l6-58 5-35 3 37 2 56z"/><path class="k2c" d="M3379 1138l3-32h16l4 32z"/><path class="k2a" d="M3393 1106h5l4 32h-9z"/><path class="k4d" d="M3470 1138l3-42 2-26 4 27 3 41z"/><path class="k1b" d="M2677 1138l2-17h8l1 17z"/><path class="k7d" d="M3324 1138l6-79 5-49 3 51 3 77z"/><path class="k2b" d="M3539 1138l2-43h11l3 43z"/><path class="k2a" d="M3549 1095h3l3 43h-6z"/><path class="k6d" d="M2943 1138l7-62 5-38 3 40 3 60z"/><path class="k1c" d="M3434 1138l3-19h16l4 19z"/><path class="k1a" d="M3448 1119h5l4 19h-9z"/><path class="k1d" d="M3622 1138l4-10h18l3 10z"/><path class="k1a" d="M3639 1128h5l3 10h-8z"/><path class="k1d" d="M2697 1139l2-20h9l2 20z"/><path class="k1a" d="M2705 1119h3l2 20h-5z"/><path class="k1c" d="M3109 1139l3-9h13l3 9z"/><path class="k1a" d="M3121 1130h4l3 9h-7z"/><path class="k1a" d="M2870 1140l4-13h18l3 13z"/><path class="k1a" d="M2887 1127h5l3 13h-8z"/><path class="k1c" d="M3253 1140l2-8h9l2 8z"/><path class="k1a" d="M3261 1132h3l2 8h-5z"/><path class="k3b" d="M3278 1140l2-31 1-19 6 20 7 30z"/><path class="k3a" d="M3622 1140l3-51h12l2 51z"/><path class="k3a" d="M3633 1089h4l2 51h-6z"/></g>
<line x1="1157.8" y1="416.2" x2="1994.2" y2="416.2" stroke="#333" stroke-width="1.2" />
<line x1="1157.8" y1="416.2" x2="1163" y2="571.2" stroke="#666" stroke-width="1" />
<line x1="1994.2" y1="416.2" x2="1989" y2="571.2" stroke="#666" stroke-width="1" />
<line x1="1163" y1="571.4" x2="1989" y2="571.4" stroke="#555" stroke-width="1" />
<text x="1123" y="572.3" font-size="19.8" font-style="italic" textLength="80.5" lengthAdjust="spacingAndGlyphs" transform="rotate(-70.4 1123 572.3)" stroke="#000" stroke-width=".3">Promoter</text>
<text x="1291.5" y="599.2" font-size="19" textLength="87.5" lengthAdjust="spacingAndGlyphs" stroke="#000" stroke-width=".3">100 bases</text>
<path d="M1387.8 588V599M1387.8 593.5H1472.4M1472.4 588V599" fill="none" stroke="#555" stroke-width="1.1" />
<text x="1555.5" y="595.4" font-size="20.5" textLength="90.5" lengthAdjust="spacingAndGlyphs" stroke="#000" stroke-width="0.75">Enhancer</text>
<line x1="1181.7" y1="685.6" x2="1966.4" y2="685.6" stroke="#bbb" stroke-width="1" />
<line x1="1181.7" y1="685.6" x2="1168" y2="734" stroke="#2a2a2a" stroke-width="1.2" stroke-dasharray="3 2.6"/>
<line x1="1966.4" y1="685.6" x2="1982.3" y2="734" stroke="#2a2a2a" stroke-width="1.2" stroke-dasharray="3 2.6"/>
<line x1="1181.7" y1="685.6" x2="1187" y2="826.4" stroke="#2a2a2a" stroke-width="1.1" stroke-dasharray="2.4 3"/>
<line x1="1966.4" y1="685.6" x2="1962.7" y2="826.4" stroke="#2a2a2a" stroke-width="1.1" stroke-dasharray="2.4 3"/>
<polygon points="1173.2,879.5 1977.0,879.5 1962.7,826.4 1187.0,826.4" fill="#8d666b" />
<path d="M1386 843l22 -8M1619 881l16 -2M1358 872l22 -5M1251 854l13 -4M1748 852l9 -3M1331 859l13 -4M1399 855l20 -4M1800 877l12 -2M1210 841l7 -1M1586 837l13 -1M1682 856l12 -2M1689 871l20 -6M1603 876l10 -3M1445 846l10 -3M1231 846l9 -2M1348 876l9 -2M1761 876l19 -6M1651 854l20 -4M1548 841l19 -5M1384 850l11 -2M1518 875l20 -4M1887 844l18 -6M1851 845l15 -3M1588 858l14 -3M1726 844l22 -7M1358 841l22 -4M1858 854l12 -2M1485 852l7 -2M1784 849l19 -4M1791 840l14 -3M1846 879l15 -2M1234 863l21 -2M1423 845l6 -1M1546 834l17 -3M1863 856l9 -2M1219 875l6 -2M1837 838l16 -4M1425 851l10 -2M1714 849l15 -3M1625 872l9 -2M1193 840l12 -1M1877 845l19 -4M1653 852l22 -4M1786 846l14 -4M1897 872l16 -2M1681 875l20 -6M1344 874l10 -2M1488 847l8 -2M1893 872l8 -1M1668 846l18 -6M1420 874l14 -2M1692 845l11 -2M1329 842l8 -2M1433 844l8 -1M1668 880l7 -1M1777 867l13 -2M1557 875l17 -5M1472 847l7 -1M1458 846l19 -6M1788 833l11 -2M1372 869l19 -3M1451 859l18 -5M1763 871l8 -1M1429 854l19 -6M1868 851l19 -5M1633 833l6 -2M1422 850l15 -5M1388 858l18 -3M1220 854l16 -5M1605 869l11 -3M1888 836l22 -4M1818 853l15 -3M1529 870l14 -3M1527 849l21 -7M1592 876l20 -4M1940 861l22 -4M1470 871l6 -2M1348 875l15 -4M1369 880l8 -1M1670 841l19 -2M1926 835l8 -3M1185 879l7 -1M1393 859l12 -4M1364 861l13 -2M1879 877l7 -1M1381 860l7 -2M1806 852l20 -2M1596 849l6 -1M1705 840l10 -3M1871 854l17 -4M1666 840l21 -7M1696 839l8 -2M1823 878l11 -2M1915 850l9 -3M1657 850l6 -1M1540 839l6 -1M1606 871l20 -5M1365 878l16 -5M1862 860l7 -1M1582 832l10 0M1603 851l21 -4M1257 865l20 -7M1315 844l16 -5M1399 841l9 -3M1924 861l19 -3M1594 855l11 -1M1461 869l21 -4M1716 834l8 -1M1918 875l21 -3M1637 871l21 -7M1325 852l13 -3M1456 854l18 -4M1830 840l11 -2M1256 878l12 -4M1617 867l9 -1M1265 856l7 -2M1608 860l16 -4M1642 846l10 -1M1575 873l15 -3M1527 880l15 -4M1240 851l12 -3M1512 834l21 0M1630 861l20 -3M1734 841l19 -3M1236 870l10 -1M1207 876l16 -3M1626 875l17 -5M1691 872l12 -2M1568 859l19 -2M1289 865l6 -1M1688 865l17 -2M1577 847l6 -1M1690 862l20 -3M1279 834l12 -3M1548 853l7 -2M1602 839l20 -7M1468 852l8 -1M1635 866l20 -5M1752 842l21 -3M1751 860l14 -4M1657 847l9 -3M1644 864l20 -3M1736 860l10 -3M1722 834l19 -3M1546 869l15 -2M1585 867l7 -1M1377 856l21 -3M1897 853l6 -2M1853 871l19 -2M1283 854l7 -1M1803 854l9 -2M1501 859l11 -2M1726 867l15 -4M1731 873l21 -6M1669 844l14 -3M1803 844l6 -1M1277 879l21 -7M1598 832l16 0M1838 855l12 -3M1236 870l18 -2M1740 865l9 -3M1706 853l15 -2M1180 874l7 -2M1941 867l7 -2M1751 868l10 -3M1506 842l8 -1M1591 876l15 -3M1710 866l10 -2M1570 836l8 -1M1554 872l8 -3M1779 840l20 -3M1910 853l21 -3M1797 842l7 -1M1208 833l21 -2M1645 841l16 -3M1353 842l17 -3M1761 848l16 -3M1258 837l7 -2M1267 834l10 -2M1910 859l13 -2M1477 840l10 -3M1209 834l11 -2M1932 874l17 -2M1646 836l9 -1M1601 880l21 -2M1855 846l17 -4M1681 841l22 -7M1423 855l17 -5M1841 875l7 -2M1212 847l21 -7M1230 866l13 -3M1725 868l14 -2M1820 843l11 -3M1915 856l18 -5M1589 872l13 -1M1783 854l16 -4M1547 845l12 -3M1617 834l17 -2M1618 839l8 -1M1810 859l11 -2M1217 878l13 -4M1245 869l13 -2M1851 880l13 -2M1784 853l9 -1M1273 867l17 -2M1570 835l18 0M1797 866l12 -2M1646 852l14 -2M1538 873l9 -3M1936 856l16 -4M1884 843l11 -2M1393 860l15 -2M1368 843l10 -1M1874 865l14 -5M1780 873l7 -2M1453 862l16 -3M1818 854l13 -2M1293 860l20 -4M1449 846l10 -2M1455 838l17 -3" fill="none" stroke="#a2564d" stroke-width="2.6" />
<path d="M1386 840l22 -8M1619 878l16 -2M1358 869l22 -5M1251 851l13 -4M1748 850l9 -3M1331 857l13 -4M1399 852l20 -4M1800 874l12 -2M1210 838l7 -1M1586 834l13 -1M1682 854l12 -2M1689 868l20 -6M1603 874l10 -3M1445 843l10 -3M1231 844l9 -2M1348 873l9 -2M1761 873l19 -6M1651 851l20 -4M1548 838l19 -5M1384 848l11 -2M1518 872l20 -4M1887 841l18 -6M1851 842l15 -3M1588 856l14 -3M1726 841l22 -7M1358 839l22 -4M1858 851l12 -2M1485 850l7 -2M1784 847l19 -4M1791 838l14 -3M1846 877l15 -2M1234 860l21 -2M1423 842l6 -1M1546 831l17 -3M1863 853l9 -2M1219 873l6 -2M1837 835l16 -4M1425 849l10 -2M1714 847l15 -3M1625 870l9 -2M1193 838l12 -1M1877 842l19 -4M1653 849l22 -4M1786 843l14 -4M1897 870l16 -2M1681 873l20 -6M1344 872l10 -2M1488 844l8 -2M1893 869l8 -1M1668 843l18 -6M1420 871l14 -2M1692 843l11 -2M1329 839l8 -2M1433 842l8 -1M1668 878l7 -1M1777 865l13 -2M1557 873l17 -5M1472 844l7 -1M1458 843l19 -6M1788 830l11 -2M1372 866l19 -3M1451 856l18 -5M1763 869l8 -1M1429 851l19 -6M1868 848l19 -5M1633 830l6 -2M1422 848l15 -5M1388 855l18 -3M1220 851l16 -5M1605 867l11 -3M1888 833l22 -4M1818 851l15 -3M1529 868l14 -3M1527 847l21 -7M1592 873l20 -4M1940 858l22 -4M1470 868l6 -2M1348 872l15 -4M1369 877l8 -1M1670 838l19 -2M1926 832l8 -3M1185 876l7 -1M1393 856l12 -4M1364 858l13 -2M1879 874l7 -1M1381 857l7 -2M1806 849l20 -2M1596 846l6 -1M1705 838l10 -3M1871 852l17 -4M1666 837l21 -7M1696 837l8 -2M1823 875l11 -2M1915 848l9 -3M1657 847l6 -1M1540 836l6 -1M1606 868l20 -5M1365 875l16 -5M1862 857l7 -1M1582 830l10 0M1603 849l21 -4M1257 862l20 -7M1315 842l16 -5M1399 839l9 -3M1924 858l19 -3M1594 852l11 -1M1461 867l21 -4M1716 831l8 -1M1918 873l21 -3M1637 869l21 -7M1325 850l13 -3M1456 851l18 -4M1830 837l11 -2M1256 875l12 -4M1617 865l9 -1M1265 854l7 -2M1608 858l16 -4M1642 843l10 -1M1575 871l15 -3M1527 877l15 -4M1240 848l12 -3M1512 831l21 0M1630 858l20 -3M1734 838l19 -3M1236 867l10 -1M1207 874l16 -3M1626 872l17 -5M1691 869l12 -2M1568 857l19 -2M1289 863l6 -1M1688 862l17 -2M1577 844l6 -1M1690 860l20 -3M1279 832l12 -3M1548 851l7 -2M1602 837l20 -7M1468 850l8 -1M1635 864l20 -5M1752 840l21 -3M1751 858l14 -4M1657 844l9 -3M1644 861l20 -3M1736 857l10 -3M1722 832l19 -3M1546 867l15 -2M1585 864l7 -1M1377 854l21 -3M1897 851l6 -2M1853 869l19 -2M1283 851l7 -1M1803 852l9 -2M1501 856l11 -2M1726 864l15 -4M1731 870l21 -6M1669 842l14 -3M1803 841l6 -1M1277 877l21 -7M1598 830l16 0M1838 852l12 -3M1236 868l18 -2M1740 862l9 -3M1706 850l15 -2M1180 871l7 -2M1941 865l7 -2M1751 866l10 -3M1506 840l8 -1M1591 873l15 -3M1710 863l10 -2M1570 833l8 -1M1554 870l8 -3M1779 837l20 -3M1910 850l21 -3M1797 839l7 -1M1208 831l21 -2M1645 839l16 -3M1353 839l17 -3M1761 845l16 -3M1258 835l7 -2M1267 831l10 -2M1910 857l13 -2M1477 838l10 -3M1209 832l11 -2M1932 872l17 -2M1646 833l9 -1M1601 878l21 -2M1855 843l17 -4M1681 838l22 -7M1423 853l17 -5M1841 873l7 -2M1212 845l21 -7M1230 864l13 -3M1725 866l14 -2M1820 841l11 -3M1915 853l18 -5M1589 869l13 -1M1783 851l16 -4M1547 843l12 -3M1617 831l17 -2M1618 836l8 -1M1810 857l11 -2M1217 875l13 -4M1245 866l13 -2M1851 877l13 -2M1784 851l9 -1M1273 864l17 -2M1570 832l18 0M1797 863l12 -2M1646 849l14 -2M1538 870l9 -3M1936 853l16 -4M1884 841l11 -2M1393 857l15 -2M1368 840l10 -1M1874 862l14 -5M1780 870l7 -2M1453 859l16 -3M1818 851l13 -2M1293 857l20 -4M1449 843l10 -2M1455 836l17 -3" fill="none" stroke="#f3aa9f" stroke-width="3.2" />
<polygon points="1342,854 1344,820 1346,818 1347,816 1348,814 1350,813 1352,810 1353,805 1354,802 1356,805 1358,808 1359,810 1360,813 1362,817 1364,854" fill="url(#sb)"/>
<polygon points="1384,854 1386,821 1388,818 1389,818 1390,818 1392,812 1394,811 1395,811 1396,811 1398,813 1400,813 1401,811 1402,811 1404,811 1406,812 1407,811 1408,811 1410,811 1412,810 1413,808 1414,805 1416,804 1418,802 1419,797 1420,794 1422,798 1424,793 1425,787 1426,782 1428,772 1430,770 1431,770 1432,769 1434,772 1436,771 1437,764 1438,761 1440,765 1442,762 1443,756 1444,750 1446,742 1448,736 1449,732 1450,727 1452,723 1454,727 1455,732 1456,737 1458,740 1460,743 1461,737 1462,736 1464,739 1466,746 1467,756 1468,764 1470,770 1472,776 1473,782 1474,787 1476,783 1478,783 1479,788 1480,788 1482,779 1484,766 1485,751 1486,741 1488,729 1490,728 1491,737 1492,738 1494,740 1496,743 1497,746 1498,749 1500,751 1502,760 1503,770 1504,778 1506,785 1508,793 1509,803 1510,808 1512,810 1514,813 1515,815 1516,816 1518,813 1520,813 1521,819 1523,854" fill="url(#sb)"/>
<polygon points="1606,854 1608,818 1610,815 1611,809 1612,806 1614,813 1616,814 1617,815 1618,816 1620,816 1622,818 1623,819 1624,821 1626,821 1628,854" fill="url(#sb)"/>
<polygon points="1651,854 1653,820 1654,819 1656,817 1658,813 1659,813 1660,810 1662,803 1664,799 1665,793 1666,789 1668,787 1670,787 1671,793 1672,797 1674,803 1676,806 1677,806 1678,810 1680,814 1682,815 1683,817 1684,818 1686,854" fill="url(#sb)"/>
<polygon points="1696,854 1698,820 1700,818 1701,816 1702,815 1704,818 1706,817 1707,812 1708,811 1710,809 1712,808 1713,814 1714,818 1716,854" fill="url(#sb)"/>
<polygon points="1796,854 1798,817 1800,819 1802,818 1803,811 1804,810 1806,814 1808,816 1809,820 1810,822 1812,854" fill="url(#sb)"/>
<g transform="scale(.5)"><path class="k1c" d="M3168 1657l2-8h8l2 8z"/><path class="k1a" d="M3176 1649h2l2 8h-4z"/><path class="k3d" d="M3023 1658l2-30 1-18 4 19 4 29z"/><path class="k1b" d="M3128 1659l2-11h9l2 11z"/><path class="k1a" d="M3136 1648h3l2 11h-5z"/><path class="k1a" d="M3895 1659l3-10h13l2 10z"/><path class="k1a" d="M3907 1649h4l2 10h-6z"/><path class="k1c" d="M3208 1660l2-12 2-7 5 8 6 11z"/><path class="k1c" d="M2752 1660l4-22h18l3 22z"/><path class="k1a" d="M2769 1638h5l3 22h-8z"/><path class="k4a" d="M2938 1660l7-48 6-29 2 31 1 46z"/><path class="k1c" d="M3259 1660l2-17h11l3 17z"/><path class="k1a" d="M3269 1643h3l3 17h-6z"/><path class="k2b" d="M3211 1660l3-27 3-17 6 18 7 26z"/><path class="k11d" d="M2911 1660l7-124 5-76 3 80 2 120z"/><path class="k1c" d="M2558 1660l2-7h11l3 7z"/><path class="k1a" d="M3652 1661l3-6h14l3 6z"/><path class="k1b" d="M3378 1661l8-12 6-8 3 8 2 12z"/><path class="k1d" d="M3862 1661l2-7h8l1 7z"/><path class="k6c" d="M2977 1661l3-69 3-43 4 45 4 67z"/><path class="k1a" d="M3241 1661l4-14 4-8 4 9 3 13z"/><path class="k1d" d="M2551 1662l4-11h18l4 11z"/><path class="k1a" d="M2568 1651h5l4 11h-9z"/><path class="k1b" d="M3563 1662l3-8h15l3 8z"/><path class="k1a" d="M3577 1654h4l3 8h-7z"/><path class="k1a" d="M3758 1662l3-7h16l4 7z"/><path class="k2d" d="M2830 1662l6-24 4-15 2 16 2 23z"/><path class="k8c" d="M2985 1662l4-89 4-55 6 58 6 86z"/><path class="k1d" d="M2537 1663l3-8h13l3 8z"/><path class="k1a" d="M2549 1655h4l3 8h-7z"/><path class="k1a" d="M3718 1663l2-8h10l2 8z"/><path class="k1a" d="M3727 1655h3l2 8h-5z"/><path class="k3a" d="M3349 1663l8-35 6-22 3 23 2 34z"/><path class="k6a" d="M2963 1663l7-71 5-43 4 46 3 68z"/><path class="k1b" d="M2527 1663l2-16h8l2 16z"/><path class="k1a" d="M2535 1647h2l2 16h-4z"/><path class="k3d" d="M3357 1664l6-29 4-18 3 19 3 28z"/><path class="k1a" d="M3039 1664l3-15h14l3 15z"/><path class="k1a" d="M3052 1649h4l3 15h-7z"/><path class="k1c" d="M3040 1664l4-10h18l3 10z"/><path class="k1a" d="M3057 1654h5l3 10h-8z"/><path class="k5c" d="M3329 1664l7-55 5-33 3 35 2 53z"/><path class="k1d" d="M3570 1664l3-7h15l4 7z"/><path class="k10b" d="M2962 1664l7-107 6-66 3 69 3 104z"/><path class="k5d" d="M3340 1665l6-54 5-33 2 35 1 52z"/><path class="k1b" d="M3454 1665l3-15h13l3 15z"/><path class="k1a" d="M3466 1650h4l3 15h-7z"/><path class="k2c" d="M3028 1665l2-24 2-14 6 15 7 23z"/><path class="k1c" d="M2745 1665l3-16h16l4 16z"/><path class="k1a" d="M2759 1649h5l4 16h-9z"/><path class="k4c" d="M2990 1665l7-46 5-29 4 30 3 45z"/><path class="k1b" d="M2474 1665l4-11h17l3 11z"/><path class="k1a" d="M2490 1654h5l3 11h-8z"/><path class="k1d" d="M2542 1666l3-11h12l2 11z"/><path class="k1a" d="M2553 1655h4l2 11h-6z"/><path class="k1a" d="M3700 1666l2-16h10l2 16z"/><path class="k1a" d="M3709 1650h3l2 16h-5z"/><path class="k2a" d="M2715 1666l6-19 5-12 3 12 2 19z"/><path class="k2a" d="M3431 1666l6-18 4-11 2 12 1 17z"/><path class="k1b" d="M3482 1666l3-10h15l4 10z"/><path class="k1a" d="M3496 1656h4l4 10h-8z"/><path class="k1c" d="M2647 1667l3-7h15l4 7z"/><path class="k4c" d="M3219 1667l2-40 1-24 6 26 6 38z"/><path class="k1c" d="M2705 1668l4-11 4-6 5 7 4 10z"/><path class="k1d" d="M3527 1668l1-14 1-8 6 9 7 13z"/><path class="k2c" d="M2766 1668l5-27 4-16 5 17 6 26z"/><path class="k2c" d="M3371 1668l4-21 3-13 3 14 2 20z"/><path class="k1a" d="M3537 1668l2-11h8l1 11z"/><path class="k3d" d="M2704 1668l3-33 3-20 5 21 5 32z"/><path class="k1d" d="M2512 1668l2-10h7l1 10z"/><path class="k1c" d="M3596 1668l7-12 6-7 3 8 3 11z"/><path class="k1b" d="M2563 1669l2-11h8l2 11z"/><path class="k1a" d="M2571 1658h2l2 11h-4z"/><path class="k1a" d="M2451 1669l3-15h13l3 15z"/><path class="k1a" d="M2463 1654h4l3 15h-7z"/><path class="k1b" d="M3100 1669l2-11h8l1 11z"/><path class="k9d" d="M2989 1669l3-104 2-63 9 67 10 100z"/><path class="k4c" d="M3329 1669l2-44 2-27 5 28 6 43z"/><path class="k1d" d="M2447 1669l4-13h18l4 13z"/><path class="k1a" d="M2464 1656h5l4 13h-9z"/><path class="k6b" d="M2882 1670l3-64 3-39 8 41 9 62z"/><path class="k3d" d="M2772 1670l5-35 4-21 3 22 2 34z"/><path class="k1b" d="M2574 1670l2-7h10l3 7z"/><path class="k1b" d="M3375 1670l1-16 1-10 5 10 5 16z"/><path class="k1b" d="M3674 1670l2-9h7l1 9z"/><path class="k1b" d="M2679 1670l4-17 3-10 6 11 6 16z"/><path class="k1b" d="M3198 1670l2-20h9l2 20z"/><path class="k1a" d="M3206 1650h3l2 20h-5z"/><path class="k3c" d="M3403 1670l3-31 2-19 5 20 4 30z"/><path class="k1b" d="M3672 1670l2-9h10l3 9z"/><path class="k1a" d="M3681 1661h3l3 9h-6z"/><path class="k13a" d="M2896 1670l6-145 5-89 2 94 2 140z"/><path class="k1d" d="M2645 1670l3-9h16l4 9z"/><path class="k1a" d="M2659 1661h5l4 9h-9z"/><path class="k1c" d="M3532 1670l2-10 1-6 6 6 6 10z"/><path class="k7d" d="M2965 1670l8-83 7-51 4 54 4 80z"/><path class="k1c" d="M3772 1670l3-11h14l3 11z"/><path class="k1a" d="M3785 1659h4l3 11h-7z"/><path class="k2c" d="M3211 1671l5-27 4-17 2 18 1 26z"/><path class="k1c" d="M2466 1671l4-14h18l3 14z"/><path class="k1a" d="M2483 1657h5l3 14h-8z"/><path class="k7c" d="M2867 1671l3-79 3-49 6 51 6 77z"/><path class="k1a" d="M2778 1671l5-15 4-9 4 10 4 14z"/><path class="k2c" d="M3005 1671l3-19 2-11 7 12 7 18z"/><path class="k1c" d="M2808 1671l7-13 5-8 3 8 2 13z"/><path class="k1d" d="M3817 1671l3-9h12l2 9z"/><path class="k1a" d="M3828 1662h4l2 9h-6z"/><path class="k1c" d="M3520 1671l3-25h12l2 25z"/><path class="k1a" d="M3531 1646h4l2 25h-6z"/><path class="k10c" d="M2909 1671l3-112 2-68 9 72 10 108z"/><path class="k2b" d="M3431 1671l4-20 3-13 2 13 2 20z"/><path class="k8c" d="M2937 1672l2-94 1-57 5 60 4 91z"/><path class="k3d" d="M2701 1672l4-37 4-23 2 24 2 36z"/><path class="k1b" d="M3716 1672l3-16h15l3 16z"/><path class="k1a" d="M3730 1656h4l3 16h-7z"/><path class="k1a" d="M3640 1672l3-7h15l3 7z"/><path class="k4c" d="M2704 1672l3-48 3-29 3 31 3 46z"/><path class="k1c" d="M3208 1672l2-9 1-5 6 6 7 8z"/><path class="k1b" d="M2461 1672l3-24h13l3 24z"/><path class="k1a" d="M2473 1648h4l3 24h-7z"/><path class="k1d" d="M3579 1672l2-17h8l1 17z"/><path class="k2a" d="M3542 1672l2-27h8l2 27z"/><path class="k2a" d="M3550 1645h2l2 27h-4z"/><path class="k1c" d="M3166 1673l3-7h12l2 7z"/><path class="k1c" d="M3145 1673l2-8h9l2 8z"/><path class="k1a" d="M3153 1665h3l2 8h-5z"/><path class="k1b" d="M3122 1673l3-10h13l3 10z"/><path class="k1a" d="M3134 1663h4l3 10h-7z"/><path class="k2c" d="M2786 1673l8-20 6-12 3 13 2 19z"/><path class="k4c" d="M2785 1673l7-42 5-26 2 27 1 41z"/><path class="k2b" d="M3588 1673l3-17 2-11 5 11 5 17z"/><path class="k3c" d="M3602 1673l4-37 4-23 3 24 3 36z"/><path class="k2b" d="M3249 1673l2-24 1-14 7 15 8 23z"/><path class="k3d" d="M3391 1673l8-30 6-18 4 19 3 29z"/><path class="k10b" d="M2971 1673l4-115 4-71 6 74 6 112z"/><path class="k4c" d="M2790 1674l2-40 1-25 5 26 4 39z"/><path class="k1c" d="M2627 1674l4-9h18l3 9z"/><path class="k1a" d="M2644 1665h5l3 9h-8z"/><path class="k4c" d="M3411 1674l7-45 6-27 4 29 4 43z"/><path class="k1a" d="M3144 1674l4-8h18l3 8z"/><path class="k1a" d="M3161 1666h5l3 8h-8z"/><path class="k2d" d="M2672 1674l6-22 5-13 3 14 2 21z"/><path class="k3b" d="M2768 1674l5-33 4-20 2 21 2 32z"/><path class="k4c" d="M2712 1674l1-43 1-26 5 28 5 41z"/><path class="k7c" d="M2955 1674l7-76 5-47 2 49 2 74z"/><path class="k1d" d="M2755 1674l3-14 3-9 5 9 5 14z"/><path class="k12b" d="M2979 1675l3-140 2-85 5 90 6 135z"/><path class="k5b" d="M3316 1675l6-51 5-32 5 33 4 50z"/><path class="k2b" d="M2667 1675l3-18 2-11 5 12 4 17z"/><path class="k1c" d="M2466 1675l2-23h10l2 23z"/><path class="k1a" d="M2475 1652h3l2 23h-5z"/><path class="k1c" d="M3462 1675l2-18h8l2 18z"/><path class="k1a" d="M3470 1657h2l2 18h-4z"/><path class="k4a" d="M3007 1675l8-45 7-27 3 29 3 43z"/><path class="k6b" d="M3332 1675l6-71 4-43 3 46 2 68z"/><path class="k1b" d="M3759 1675l3-12h12l2 12z"/><path class="k1a" d="M3770 1663h4l2 12h-6z"/><path class="k4a" d="M3347 1675l3-45 3-27 7 29 7 43z"/><path class="k4c" d="M3034 1675l3-40 3-25 3 26 2 39z"/><path class="k6b" d="M2837 1675l5-68 4-41 3 44 3 65z"/><path class="k1b" d="M3686 1675l2-9h8l2 9z"/><path class="k1a" d="M3694 1666h2l2 9h-4z"/><path class="k4c" d="M3413 1675l1-39 1-24 4 25 4 38z"/><path class="k14c" d="M2896 1675l3-157 2-96 6 101 6 152z"/><path class="k3d" d="M3353 1675l2-35 2-21 5 22 5 34z"/><path class="k1a" d="M2745 1675l2-13h8l2 13z"/><path class="k1a" d="M2753 1662h2l2 13h-4z"/><path class="k1c" d="M3565 1675l3-7h13l3 7z"/><path class="k3b" d="M3357 1675l4-33 3-20 3 21 3 32z"/><path class="k3b" d="M3242 1675l1-33 0-21 4 22 4 32z"/><path class="k13b" d="M2969 1675l6-146 5-89 3 94 3 141z"/><path class="k10b" d="M2880 1675l2-107 2-65 5 69 4 103z"/><path class="k2d" d="M3281 1675l4-22 4-14 3 14 2 22z"/><path class="k1c" d="M3699 1675l4-10h18l3 10z"/><path class="k1a" d="M3716 1665h5l3 10h-8z"/><path class="k3a" d="M2806 1676l2-35 2-21 6 22 6 34z"/><path class="k5c" d="M3346 1676l3-55 2-34 5 36 4 53z"/><path class="k1c" d="M2518 1676l2-18h10l2 18z"/><path class="k1a" d="M2527 1658h3l2 18h-5z"/><path class="k8c" d="M2856 1676l4-94 4-58 3 61 3 91z"/><path class="k2d" d="M2790 1676l3-27 2-16 5 17 4 26z"/><path class="k10b" d="M2930 1676l3-112 2-69 4 72 4 109z"/><path class="k3c" d="M2780 1676l2-38 1-24 5 25 6 37z"/><path class="k4d" d="M3605 1676l4-39 4-24 5 25 5 38z"/><path class="k1d" d="M3751 1676l2-9h8l1 9z"/><path class="k10b" d="M2902 1676l5-113 4-69 7 73 7 109z"/><path class="k2d" d="M2687 1676l6-20 4-13 2 13 2 20z"/><path class="k3d" d="M3366 1676l4-29 3-17 4 18 4 28z"/><path class="k1c" d="M3279 1676l4-12 4-8 3 8 3 12z"/><path class="k4d" d="M2824 1677l3-43 3-27 3 28 3 42z"/><path class="k1b" d="M3899 1677l3-7h13l2 7z"/><path class="k10b" d="M2997 1677l3-108 2-67 4 70 3 105z"/><path class="k1d" d="M3498 1677l2-10h11l3 10z"/><path class="k1a" d="M3508 1667h3l3 10h-6z"/><path class="k1b" d="M2551 1677l3-13h12l2 13z"/><path class="k1a" d="M2562 1664h4l2 13h-6z"/><path class="k4b" d="M3603 1677l2-42 1-26 9 27 9 41z"/><path class="k1b" d="M2749 1677l2-19h11l3 19z"/><path class="k1a" d="M2759 1658h3l3 19h-6z"/><path class="k1a" d="M2648 1677l3-21h14l3 21z"/><path class="k1a" d="M2661 1656h4l3 21h-7z"/><path class="k1c" d="M3759 1677l3-8h15l3 8z"/><path class="k1a" d="M3773 1669h4l3 8h-7z"/><path class="k9c" d="M2875 1677l2-103 2-63 5 66 5 100z"/><path class="k4c" d="M3350 1677l1-48 1-30 5 31 5 47z"/><path class="k3c" d="M2801 1677l6-36 4-22 3 23 3 35z"/><path class="k4b" d="M3230 1677l5-40 4-24 2 26 1 38z"/><path class="k14a" d="M2899 1678l4-157 4-96 5 101 5 152z"/><path class="k8c" d="M2854 1678l3-87 3-53 8 56 9 84z"/><path class="k3b" d="M3361 1678l2-38 2-23 4 24 3 37z"/><path class="k1a" d="M2547 1678l2-16h9l2 16z"/><path class="k1a" d="M2555 1662h3l2 16h-5z"/><path class="k1a" d="M2394 1678l4-12h17l3 12z"/><path class="k1a" d="M2410 1666h5l3 12h-8z"/><path class="k1d" d="M3265 1678l2-22h8l1 22z"/><path class="k5a" d="M2959 1678l4-55 3-34 5 36 4 53z"/><path class="k4c" d="M3023 1678l5-40 4-24 2 26 1 38z"/><path class="k1d" d="M3257 1678l3-25h13l2 25z"/><path class="k1a" d="M3269 1653h4l2 25h-6z"/><path class="k5c" d="M3017 1678l5-54 4-33 2 35 1 52z"/><path class="k1b" d="M2412 1678l2-8h7l1 8z"/><path class="k11c" d="M2964 1678l8-122 7-75 4 79 3 118z"/><path class="k1c" d="M3121 1679l2-8h7l1 8z"/><path class="k2d" d="M3613 1679l6-17 5-11 3 11 3 17z"/><path class="k1c" d="M3279 1679l6-14 4-8 4 9 4 13z"/><path class="k5b" d="M3321 1679l9-51 7-32 3 33 3 50z"/><path class="k1a" d="M3184 1679l2-12h10l3 12z"/><path class="k1a" d="M3193 1667h3l3 12h-6z"/><path class="k3d" d="M3215 1679l2-36 1-22 3 23 3 35z"/><path class="k1c" d="M2570 1679l2-9h10l3 9z"/><path class="k1a" d="M2579 1670h3l3 9h-6z"/><path class="k1d" d="M3556 1679l3-11h16l4 11z"/><path class="k1a" d="M3570 1668h5l4 11h-9z"/><path class="k13c" d="M2970 1679l5-142 4-87 4 92 3 137z"/><path class="k4b" d="M3417 1679l2-45 2-28 4 29 3 44z"/><path class="k7d" d="M3330 1679l4-74 3-46 4 48 4 72z"/><path class="k13d" d="M2922 1679l3-141 2-86 6 91 6 136z"/><path class="k2d" d="M2720 1679l7-17 6-10 4 11 3 16z"/><path class="k10c" d="M2958 1679l7-112 5-69 4 72 3 109z"/><path class="k4c" d="M3227 1679l2-46 1-28 4 30 4 44z"/><path class="k9b" d="M2888 1680l3-99 3-61 5 64 5 96z"/><path class="k1b" d="M2544 1680l2-11h8l1 11z"/><path class="k2c" d="M2756 1680l2-29h8l1 29z"/><path class="k5d" d="M3416 1680l5-51 4-31 3 33 2 49z"/><path class="k1b" d="M3285 1680l2-15 1-9 6 10 6 14z"/><path class="k4c" d="M3212 1680l3-45 3-27 8 29 8 43z"/><path class="k3d" d="M3361 1680l4-31 4-19 4 20 4 30z"/><path class="k2c" d="M3250 1680l6-24 5-15 4 16 3 23z"/><path class="k1a" d="M2487 1680l3-16h16l4 16z"/><path class="k1a" d="M2501 1664h5l4 16h-9z"/><path class="k6c" d="M2953 1680l8-64 6-40 2 42 2 62z"/><path class="k4b" d="M2947 1680l5-49 4-30 4 32 4 47z"/><path class="k12a" d="M2908 1680l4-139 4-85 3 90 3 134z"/><path class="k1c" d="M3885 1680l3-9h13l2 9z"/><path class="k1a" d="M3897 1671h4l2 9h-6z"/><path class="k1c" d="M3827 1680l4-13h18l4 13z"/><path class="k1a" d="M3844 1667h5l4 13h-9z"/><path class="k8d" d="M2907 1680l2-94 1-57 7 60 8 91z"/><path class="k1c" d="M3126 1680l3-6h14l3 6z"/><path class="k1c" d="M3730 1681l3-12h13l2 12z"/><path class="k1a" d="M3742 1669h4l2 12h-6z"/><path class="k8c" d="M2848 1681l3-88 2-54 4 57 3 85z"/><path class="k4b" d="M2781 1681l3-43 2-27 5 28 6 42z"/><path class="k1a" d="M2528 1681l3-8h13l3 8z"/><path class="k1a" d="M2540 1673h4l3 8h-7z"/><path class="k4d" d="M3605 1681l7-42 6-26 4 27 3 41z"/><path class="k1c" d="M3148 1681l3-13h14l3 13z"/><path class="k1a" d="M3161 1668h4l3 13h-7z"/><path class="k1a" d="M2579 1681l4-7h18l3 7z"/><path class="k1c" d="M3495 1681l3-8h12l2 8z"/><path class="k1a" d="M3506 1673h4l2 8h-6z"/><path class="k3b" d="M3238 1681l6-30 4-18 4 19 4 29z"/><path class="k2d" d="M3337 1681l7-20 5-13 4 13 4 20z"/><path class="k6c" d="M3325 1681l4-62 4-38 5 40 6 60z"/><path class="k1c" d="M3630 1681l4-15h18l3 15z"/><path class="k1a" d="M3647 1666h5l3 15h-8z"/><path class="k2b" d="M3590 1681l6-25 5-16 3 16 2 25z"/><path class="k4b" d="M2809 1682l6-42 4-26 4 27 3 41z"/><path class="k1d" d="M3439 1682l4-18h18l4 18z"/><path class="k1a" d="M3456 1664h5l4 18h-9z"/><path class="k1c" d="M3439 1682l2-25h11l3 25z"/><path class="k1a" d="M3449 1657h3l3 25h-6z"/><path class="k1c" d="M3633 1682l3-24h12l2 24z"/><path class="k1a" d="M3644 1658h4l2 24h-6z"/><path class="k6d" d="M2836 1682l3-63 2-39 3 41 3 61z"/><path class="k4b" d="M3017 1682l4-42 3-25 5 27 4 40z"/><path class="k1a" d="M2554 1682l2-7h10l2 7z"/><path class="k11d" d="M2884 1683l5-118 4-73 3 76 3 115z"/><path class="k4c" d="M2868 1683l6-45 5-27 5 29 5 43z"/><path class="k1c" d="M3764 1683l2-12h10l2 12z"/><path class="k1a" d="M3773 1671h3l2 12h-5z"/><path class="k4c" d="M2811 1683l4-42 3-26 4 27 3 41z"/><path class="k1c" d="M2740 1683l4-10h18l4 10z"/><path class="k1a" d="M2757 1673h5l4 10h-9z"/><path class="k2a" d="M3403 1683l5-24 4-15 4 16 3 23z"/><path class="k4c" d="M2685 1683l7-40 6-24 3 26 2 38z"/><path class="k1d" d="M3166 1683l3-7h15l4 7z"/><path class="k3a" d="M3405 1683l4-28 4-17 5 18 5 27z"/><path class="k11d" d="M2984 1683l4-125 3-77 8 81 8 121z"/><path class="k8b" d="M2939 1683l6-92 5-57 2 60 2 89z"/><path class="k7c" d="M2841 1683l3-79 3-48 5 51 6 76z"/><path class="k1c" d="M2436 1683l3-15h13l3 15z"/><path class="k1a" d="M2448 1668h4l3 15h-7z"/><path class="k1b" d="M3585 1683l3-16h12l2 16z"/><path class="k1a" d="M3596 1667h4l2 16h-6z"/><path class="k1b" d="M2542 1683l4-8h18l3 8z"/><path class="k1a" d="M2559 1675h5l3 8h-8z"/><path class="k1d" d="M3515 1683l3-24h15l3 24z"/><path class="k1a" d="M3529 1659h4l3 24h-7z"/><path class="k4d" d="M2778 1683l1-44 1-27 5 28 5 43z"/><path class="k3c" d="M3596 1683l1-37 1-22 4 24 4 35z"/><path class="k8a" d="M2847 1683l4-84 3-52 7 54 7 82z"/><path class="k1c" d="M3700 1684l3-10h15l4 10z"/><path class="k1a" d="M3714 1674h4l4 10h-8z"/><path class="k5c" d="M2701 1684l4-54 4-33 3 35 2 52z"/><path class="k1d" d="M3898 1684l4-8h18l3 8z"/><path class="k1a" d="M3915 1676h5l3 8h-8z"/><path class="k1d" d="M3774 1684l3-9h16l4 9z"/><path class="k1a" d="M3788 1675h5l4 9h-9z"/><path class="k3c" d="M3306 1684l6-37 4-22 2 24 2 35z"/><path class="k1d" d="M3635 1684l2-26h10l2 26z"/><path class="k1a" d="M3644 1658h3l2 26h-5z"/><path class="k6d" d="M2877 1684l2-71 2-44 9 46 10 69z"/><path class="k5c" d="M2921 1684l2-58 2-36 8 38 9 56z"/><path class="k1c" d="M3870 1684l3-6h15l3 6z"/><path class="k1a" d="M2502 1684l3-21h15l3 21z"/><path class="k1a" d="M2516 1663h4l3 21h-7z"/><path class="k3a" d="M3363 1684l3-38 3-24 4 25 4 37z"/><path class="k4c" d="M2705 1684l2-45 2-28 8 29 9 44z"/><path class="k1c" d="M2559 1685l2-6h11l3 6z"/><path class="k1d" d="M2620 1685l2-9h11l3 9z"/><path class="k1a" d="M2630 1676h3l3 9h-6z"/><path class="k4d" d="M2692 1685l4-40 3-24 1 26 1 38z"/><path class="k4d" d="M2699 1685l4-50 3-30 6 32 6 48z"/><path class="k2d" d="M3363 1685l3-18 3-11 3 12 2 17z"/><path class="k2c" d="M2468 1685l4-33h17l3 33z"/><path class="k2a" d="M2484 1652h5l3 33h-8z"/><path class="k1c" d="M3883 1685l3-8h14l3 8z"/><path class="k1a" d="M3896 1677h4l3 8h-7z"/><path class="k6b" d="M3324 1685l5-64 4-39 2 41 2 62z"/><path class="k7b" d="M2953 1685l3-82 3-51 6 53 6 80z"/><path class="k3c" d="M3379 1685l7-32 5-19 4 20 3 31z"/><path class="k5b" d="M2795 1685l1-51 1-31 5 33 6 49z"/><path class="k12b" d="M2966 1685l5-130 4-80 3 84 2 126z"/><path class="k13c" d="M2969 1686l5-148 4-91 4 96 4 143z"/><path class="k4c" d="M2992 1686l2-40 1-25 6 26 7 39z"/><path class="k4b" d="M2698 1686l6-48 4-29 3 31 2 46z"/><path class="k1b" d="M3670 1686l2-11h10l3 11z"/><path class="k1a" d="M3679 1675h3l3 11h-6z"/><path class="k1c" d="M3578 1686l4-22h18l3 22z"/><path class="k1a" d="M3595 1664h5l3 22h-8z"/><path class="k1c" d="M2520 1686l4-18h18l3 18z"/><path class="k1a" d="M2537 1668h5l3 18h-8z"/><path class="k11b" d="M2919 1686l8-125 6-77 2 81 2 121z"/><path class="k1c" d="M2731 1686l2-7h10l2 7z"/><path class="k6c" d="M2822 1686l7-64 5-40 5 42 6 62z"/><path class="k6b" d="M2950 1686l6-67 4-41 4 43 4 65z"/><path class="k9d" d="M2856 1686l6-103 5-63 3 66 3 100z"/><path class="k3a" d="M2723 1686l2-50h10l2 50z"/><path class="k3a" d="M2732 1636h3l2 50h-5z"/><path class="k1b" d="M3777 1686l2-10h9l2 10z"/><path class="k1a" d="M3785 1676h3l2 10h-5z"/><path class="k10d" d="M2914 1686l10-113 9-70 3 73 2 110z"/><path class="k2c" d="M3235 1686l6-24 4-14 4 15 4 23z"/><path class="k1c" d="M3792 1687l4-9h18l3 9z"/><path class="k1a" d="M3809 1678h5l3 9h-8z"/><path class="k1d" d="M3560 1687l2-10h10l2 10z"/><path class="k1a" d="M3569 1677h3l2 10h-5z"/><path class="k1d" d="M3730 1687l2-10h11l3 10z"/><path class="k1a" d="M3740 1677h3l3 10h-6z"/><path class="k9c" d="M2858 1687l2-104 1-63 7 67 7 100z"/><path class="k6c" d="M3339 1687l4-65 3-40 8 42 8 63z"/><path class="k2c" d="M3021 1687l1-22 1-14 5 14 5 22z"/><path class="k2d" d="M3437 1687l3-22 3-14 5 14 4 22z"/><path class="k5a" d="M2831 1687l3-61 3-37 3 39 3 59z"/><path class="k7c" d="M2838 1687l6-73 4-45 3 47 2 71z"/><path class="k13d" d="M2966 1687l5-140 4-86 6 90 6 136z"/><path class="k2c" d="M2495 1688l3-27h15l3 27z"/><path class="k2a" d="M2509 1661h4l3 27h-7z"/><path class="k1b" d="M3900 1688l4-9h17l3 9z"/><path class="k1a" d="M3916 1679h5l3 9h-8z"/><path class="k4d" d="M3407 1688l2-47 1-29 5 30 4 46z"/><path class="k1a" d="M3724 1688l3-23h14l3 23z"/><path class="k1a" d="M3737 1665h4l3 23h-7z"/><path class="k5c" d="M3316 1688l3-51 2-32 3 33 2 50z"/><path class="k1c" d="M3585 1688l2-18h7l1 18z"/><path class="k10b" d="M2985 1688l4-117 3-72 6 76 6 113z"/><path class="k5b" d="M3416 1689l6-53 4-32 2 34 1 51z"/><path class="k1a" d="M3066 1689l2-11h9l2 11z"/><path class="k1a" d="M3074 1678h3l2 11h-5z"/><path class="k2c" d="M3525 1689l4-25 3-15 6 16 7 24z"/><path class="k4c" d="M2692 1689l4-45 4-27 4 29 3 43z"/><path class="k1b" d="M2572 1689l2-7h7l1 7z"/><path class="k1a" d="M2642 1689l2-7h8l1 7z"/><path class="k1b" d="M3630 1689l2-16h10l3 16z"/><path class="k1a" d="M3639 1673h3l3 16h-6z"/><path class="k1d" d="M3672 1689l3-12h13l2 12z"/><path class="k1a" d="M3684 1677h4l2 12h-6z"/><path class="k3d" d="M3327 1689l6-35 5-21 3 22 3 34z"/><path class="k3c" d="M2770 1689l4-38 4-24 3 25 3 37z"/><path class="k1c" d="M2508 1689l2-11h8l2 11z"/><path class="k1a" d="M2516 1678h2l2 11h-4z"/><path class="k2d" d="M2467 1689l2-44h8l1 44z"/><path class="k2c" d="M2669 1689l8-27 7-17 3 18 2 26z"/><path class="k2b" d="M3502 1689l3-28h16l4 28z"/><path class="k2a" d="M3516 1661h5l4 28h-9z"/><path class="k3d" d="M3356 1689l5-34 4-21 4 22 3 33z"/><path class="k3d" d="M3307 1689l5-39 4-24 5 25 6 38z"/><path class="k1b" d="M2708 1689l2-16 1-10 8 10 9 16z"/><path class="k1a" d="M3671 1689l4-10h18l4 10z"/><path class="k1a" d="M3688 1679h5l4 10h-9z"/><path class="k1a" d="M3735 1689l3-13h15l3 13z"/><path class="k1a" d="M3749 1676h4l3 13h-7z"/><path class="k1d" d="M3037 1689l3-13h16l4 13z"/><path class="k1a" d="M3051 1676h5l4 13h-9z"/><path class="k1b" d="M3369 1689l3-11 2-6 3 7 3 10z"/><path class="k7c" d="M3001 1689l6-75 4-46 5 48 4 73z"/><path class="k5c" d="M3018 1689l3-53 2-32 5 34 4 51z"/><path class="k1a" d="M3658 1689l3-7h15l4 7z"/><path class="k2c" d="M3708 1690l3-44h16l4 44z"/><path class="k2a" d="M3722 1646h5l4 44h-9z"/><path class="k5b" d="M3220 1690l4-53 4-33 3 34 2 52z"/><path class="k2b" d="M2693 1690l2-21 1-13 5 14 4 20z"/><path class="k5d" d="M2790 1690l3-54 3-33 4 35 4 52z"/><path class="k4b" d="M2816 1690l4-50 3-30 4 32 4 48z"/><path class="k1d" d="M3353 1690l4-16 3-9 3 10 2 15z"/><path class="k2c" d="M2810 1690l1-20 1-12 5 13 6 19z"/><path class="k1b" d="M3541 1690l4-14h18l4 14z"/><path class="k1a" d="M3558 1676h5l4 14h-9z"/><path class="k10a" d="M2960 1690l3-112 2-68 5 72 6 108z"/><path class="k4a" d="M3602 1690l2-48 2-30 3 31 3 47z"/><path class="k4b" d="M3307 1690l3-40 2-25 5 26 5 39z"/><path class="k4a" d="M3354 1690l3-48 3-29 5 31 4 46z"/><path class="k4b" d="M3614 1691l4-41 4-25 3 26 2 40z"/><path class="k1d" d="M3068 1691l2-13h8l2 13z"/><path class="k1a" d="M3076 1678h2l2 13h-4z"/><path class="k13d" d="M2921 1691l7-149 6-91 2 96 2 144z"/><path class="k2d" d="M2804 1691l5-23 4-14 4 15 4 22z"/><path class="k3d" d="M3280 1691l3-29 2-17 7 18 7 28z"/><path class="k5b" d="M3320 1691l3-61 2-38 3 40 3 59z"/><path class="k2c" d="M3325 1691l4-17 4-11 2 11 1 17z"/><path class="k4d" d="M2813 1691l2-48 2-29 7 31 7 46z"/><path class="k4c" d="M3028 1691l1-50 1-30 5 32 6 48z"/><path class="k8c" d="M2983 1691l8-93 6-57 4 60 3 90z"/><path class="k5a" d="M3013 1691l4-55 3-34 4 36 3 53z"/><path class="k1d" d="M2730 1691l2-25h10l2 25z"/><path class="k1a" d="M2739 1666h3l2 25h-5z"/><path class="k9c" d="M2853 1691l6-105 5-65 6 68 6 102z"/><path class="k2a" d="M2525 1691l4-36h18l4 36z"/><path class="k2a" d="M2542 1655h5l4 36h-9z"/><path class="k3d" d="M3416 1692l4-34 4-21 3 22 2 33z"/><path class="k1c" d="M3125 1692l4-9h18l3 9z"/><path class="k1a" d="M3142 1683h5l3 9h-8z"/><path class="k3b" d="M3367 1692l4-30 3-18 2 19 2 29z"/><path class="k10d" d="M2979 1692l5-109 4-67 6 70 7 106z"/><path class="k3c" d="M2754 1692l4-32 4-20 6 21 6 31z"/><path class="k3c" d="M3711 1692l3-48h13l2 48z"/><path class="k3a" d="M3723 1644h4l2 48h-6z"/><path class="k1a" d="M3094 1692l4-7h18l4 7z"/><path class="k1c" d="M3681 1692l2-12h10l3 12z"/><path class="k1a" d="M3690 1680h3l3 12h-6z"/><path class="k1b" d="M3768 1692l2-13h10l2 13z"/><path class="k1a" d="M3777 1679h3l2 13h-5z"/><path class="k4d" d="M3601 1692l4-50 4-30 3 32 3 48z"/><path class="k3b" d="M3423 1692l6-32 4-19 2 20 2 31z"/><path class="k5c" d="M2789 1693l4-53 4-32 4 34 3 51z"/><path class="k1d" d="M2725 1693l3-20h13l2 20z"/><path class="k1a" d="M2737 1673h4l2 20h-6z"/><path class="k8b" d="M2952 1693l1-90 1-55 6 58 6 87z"/><path class="k1c" d="M3784 1693l3-8h13l3 8z"/><path class="k1a" d="M3796 1685h4l3 8h-7z"/><path class="k6b" d="M2891 1693l3-68 2-41 5 44 4 65z"/><path class="k4b" d="M2807 1693l2-45 2-27 5 29 4 43z"/><path class="k3c" d="M3333 1693l3-32 3-20 4 21 4 31z"/><path class="k1b" d="M3306 1693l4-14 3-8 4 9 3 13z"/><path class="k1b" d="M3745 1693l2-7h10l3 7z"/><path class="k1d" d="M2559 1693l2-12h9l2 12z"/><path class="k1a" d="M2567 1681h3l2 12h-5z"/><path class="k4b" d="M2690 1693l6-49 5-30 4 32 3 47z"/><path class="k1c" d="M3811 1694l2-9h10l2 9z"/><path class="k1a" d="M3820 1685h3l2 9h-5z"/><path class="k8d" d="M3000 1694l3-86 3-52 5 55 4 83z"/><path class="k1a" d="M2483 1694l2-8h11l3 8z"/><path class="k1a" d="M2493 1686h3l3 8h-6z"/><path class="k1d" d="M3803 1694l3-9h13l3 9z"/><path class="k1a" d="M3815 1685h4l3 9h-7z"/><path class="k3d" d="M3225 1694l4-35 4-22 4 23 4 34z"/><path class="k3b" d="M2680 1694l3-34 3-21 5 22 4 33z"/><path class="k1a" d="M3661 1694l4-7h18l4 7z"/><path class="k14b" d="M2973 1694l8-155 7-95 3 100 2 150z"/><path class="k2d" d="M3384 1695l3-26 3-16 7 17 7 25z"/><path class="k1d" d="M3789 1695l3-12h15l4 12z"/><path class="k1a" d="M3803 1683h4l4 12h-8z"/><path class="k2d" d="M2827 1695l2-26 1-16 6 17 7 25z"/><path class="k3c" d="M3228 1695l5-32 4-20 4 21 3 31z"/><path class="k1a" d="M3858 1695l4-12h18l4 12z"/><path class="k1a" d="M3875 1683h5l4 12h-9z"/><path class="k2b" d="M2533 1695l2-35h11l3 35z"/><path class="k2a" d="M2543 1660h3l3 35h-6z"/><path class="k1a" d="M3579 1695l4-19h18l4 19z"/><path class="k1a" d="M3596 1676h5l4 19h-9z"/><path class="k1c" d="M3500 1695l4-15h17l3 15z"/><path class="k1a" d="M3516 1680h5l3 15h-8z"/><path class="k4c" d="M2705 1695l5-48 4-29 5 31 6 46z"/><path class="k1a" d="M2675 1696l3-11 3-6 6 7 6 10z"/><path class="k5a" d="M2789 1696l2-54 2-33 4 35 3 52z"/><path class="k4b" d="M3297 1696l3-41 2-25 8 26 8 40z"/><path class="k10b" d="M2862 1696l8-108 6-67 2 70 2 105z"/><path class="k5b" d="M3219 1696l4-61 3-37 5 39 4 59z"/><path class="k1c" d="M2741 1696l2-16h10l3 16z"/><path class="k1a" d="M2750 1680h3l3 16h-6z"/><path class="k5d" d="M3602 1696l6-56 4-34 2 36 2 54z"/><path class="k1b" d="M2466 1696l3-19h15l3 19z"/><path class="k1a" d="M2480 1677h4l3 19h-7z"/><path class="k2a" d="M2429 1696l4-27h18l4 27z"/><path class="k2a" d="M2446 1669h5l4 27h-9z"/><path class="k1c" d="M2474 1696l2-21h10l2 21z"/><path class="k1a" d="M2483 1675h3l2 21h-5z"/><path class="k1c" d="M2619 1696l4-12h17l3 12z"/><path class="k1a" d="M2635 1684h5l3 12h-8z"/><path class="k5c" d="M2694 1696l5-57 4-35 5 37 5 55z"/><path class="k5c" d="M2803 1696l2-54 2-33 6 35 6 52z"/><path class="k4d" d="M3610 1696l4-45 3-27 3 29 2 43z"/><path class="k1a" d="M2394 1697l3-8h12l2 8z"/><path class="k1a" d="M2405 1689h4l2 8h-6z"/><path class="k1d" d="M3809 1697l3-8h15l3 8z"/><path class="k1a" d="M3823 1689h4l3 8h-7z"/><path class="k1b" d="M2652 1697l3-24h13l3 24z"/><path class="k1a" d="M2664 1673h4l3 24h-7z"/><path class="k1b" d="M2647 1697l2-10h8l2 10z"/><path class="k1a" d="M2655 1687h2l2 10h-4z"/><path class="k1c" d="M2538 1697l4-13h18l4 13z"/><path class="k1a" d="M2555 1684h5l4 13h-9z"/><path class="k4c" d="M3358 1697l5-41 4-25 6 26 6 40z"/><path class="k15c" d="M2893 1697l3-166 3-102 7 107 8 161z"/><path class="k1b" d="M3475 1697l2-11h10l2 11z"/><path class="k1a" d="M3484 1686h3l2 11h-5z"/><path class="k14b" d="M2973 1697l7-153 5-93 6 98 7 148z"/><path class="k13b" d="M2889 1697l8-148 6-91 2 96 2 143z"/><path class="k4c" d="M3391 1697l6-42 5-25 2 27 1 40z"/><path class="k2c" d="M3516 1697l4-33h18l3 33z"/><path class="k2a" d="M3533 1664h5l3 33h-8z"/><path class="k5b" d="M3216 1697l3-54 3-33 4 35 4 52z"/><path class="k6c" d="M2707 1697l5-63 4-38 3 40 2 61z"/><path class="k4c" d="M2805 1697l4-43 3-27 5 28 6 42z"/><path class="k1c" d="M2432 1697l3-19h14l3 19z"/><path class="k1a" d="M2445 1678h4l3 19h-7z"/><path class="k1c" d="M3764 1697l3-13h13l2 13z"/><path class="k1a" d="M3776 1684h4l2 13h-6z"/><path class="k5a" d="M2807 1697l3-54 2-33 4 35 4 52z"/><path class="k4c" d="M3295 1698l4-41 4-25 3 26 2 40z"/><path class="k1a" d="M3789 1698l3-10h15l4 10z"/><path class="k1a" d="M3803 1688h4l4 10h-8z"/><path class="k7b" d="M2829 1698l6-76 4-46 6 49 7 73z"/><path class="k5d" d="M2801 1698l2-53 1-33 4 34 4 52z"/><path class="k4c" d="M3619 1698l2-40 1-24 7 26 8 38z"/><path class="k5b" d="M3421 1698l4-56 3-35 2 36 1 55z"/><path class="k5c" d="M2812 1698l5-55 4-33 3 35 3 53z"/><path class="k10b" d="M2910 1698l9-108 7-66 4 70 4 104z"/><path class="k3c" d="M2831 1698l6-33 4-21 3 22 3 32z"/><path class="k4b" d="M2718 1698l2-45 1-27 5 29 6 43z"/><path class="k2c" d="M3255 1698l2-25 2-15 5 16 6 24z"/><path class="k5c" d="M3416 1698l3-54 3-33 5 35 5 52z"/><path class="k5b" d="M2845 1698l5-60 4-37 3 39 3 58z"/><path class="k13c" d="M2915 1698l6-147 4-90 5 95 4 142z"/><path class="k4d" d="M3248 1698l3-43 2-26 4 28 3 41z"/><path class="k1c" d="M2563 1699l3-13h15l3 13z"/><path class="k1a" d="M2577 1686h4l3 13h-7z"/><path class="k5c" d="M2774 1699l2-51 2-31 5 33 6 49z"/><path class="k1a" d="M2570 1699l4-10h17l3 10z"/><path class="k1a" d="M2586 1689h5l3 10h-8z"/><path class="k7c" d="M3337 1699l6-82 4-51 2 53 2 80z"/><path class="k2b" d="M2814 1699l3-26 3-16 6 17 6 25z"/><path class="k5c" d="M3020 1699l7-56 5-35 2 36 2 55z"/><path class="k10c" d="M2977 1699l10-113 8-70 3 73 3 110z"/><path class="k1d" d="M3566 1699l2-10h8l2 10z"/><path class="k1a" d="M3574 1689h2l2 10h-4z"/><path class="k1c" d="M3182 1699l2-9h10l2 9z"/><path class="k1a" d="M3191 1690h3l2 9h-5z"/><path class="k3c" d="M3441 1699l1-29 1-17 5 18 5 28z"/><path class="k4d" d="M3425 1699l3-49 2-30 5 32 4 47z"/><path class="k8b" d="M2966 1699l3-91 3-55 6 58 7 88z"/><path class="k1d" d="M2645 1699l2-18h10l3 18z"/><path class="k1a" d="M2654 1681h3l3 18h-6z"/><path class="k8c" d="M2849 1699l4-89 4-55 4 58 4 86z"/><path class="k1d" d="M2524 1699l2-10h9l2 10z"/><path class="k1a" d="M2532 1689h3l2 10h-5z"/><path class="k5d" d="M3312 1699l2-53 2-33 4 34 3 52z"/><path class="k3c" d="M2683 1699l6-29 4-18 3 19 3 28z"/><path class="k11a" d="M2962 1699l9-118 7-73 5 76 5 115z"/><path class="k2a" d="M2720 1699l4-29h18l4 29z"/><path class="k2a" d="M2737 1670h5l4 29h-9z"/><path class="k1c" d="M3646 1700l3-7h13l3 7z"/><path class="k1c" d="M3137 1700l4-6h17l3 6z"/><path class="k1a" d="M3814 1700l3-9h13l3 9z"/><path class="k1a" d="M3826 1691h4l3 9h-7z"/><path class="k13c" d="M2920 1700l7-151 5-92 4 97 3 146z"/><path class="k1c" d="M2589 1700l3-10h13l3 10z"/><path class="k1a" d="M2601 1690h4l3 10h-7z"/><path class="k5b" d="M3608 1700l4-57 3-35 2 37 1 55z"/><path class="k10c" d="M2867 1700l3-114 2-70 5 74 6 110z"/><path class="k3b" d="M3438 1700l7-37 6-23 2 24 1 36z"/><path class="k1b" d="M3043 1700l2-11h10l3 11z"/><path class="k1a" d="M3052 1689h3l3 11h-6z"/><path class="k1c" d="M2632 1700l2-8h10l3 8z"/><path class="k1a" d="M2641 1692h3l3 8h-6z"/><path class="k2c" d="M2669 1700l7-20 5-13 2 13 2 20z"/><path class="k1c" d="M2405 1700l4-6h18l3 6z"/><path class="k1b" d="M3685 1700l2-13h11l3 13z"/><path class="k1a" d="M3695 1687h3l3 13h-6z"/><path class="k1b" d="M3192 1700l2-18h10l3 18z"/><path class="k1a" d="M3201 1682h3l3 18h-6z"/><path class="k4b" d="M3361 1700l6-43 4-27 5 28 6 42z"/><path class="k1d" d="M3062 1701l3-11h13l2 11z"/><path class="k1a" d="M3074 1690h4l2 11h-6z"/><path class="k4a" d="M3036 1701l6-50 4-31 2 32 1 49z"/><path class="k13c" d="M2912 1701l3-149 3-91 6 96 6 144z"/><path class="k14b" d="M2982 1701l6-153 5-94 4 99 3 148z"/><path class="k4c" d="M3362 1701l2-49 1-30 5 32 6 47z"/><path class="k5b" d="M3338 1701l10-53 8-32 2 34 2 51z"/><path class="k1c" d="M3853 1701l2-13h8l2 13z"/><path class="k1a" d="M3861 1688h2l2 13h-4z"/><path class="k1c" d="M3085 1701l3-10h12l2 10z"/><path class="k1a" d="M3096 1691h4l2 10h-6z"/><path class="k1d" d="M3718 1701l3-8h15l3 8z"/><path class="k1a" d="M3732 1693h4l3 8h-7z"/><path class="k1a" d="M2574 1701l3-7h15l3 7z"/><path class="k8a" d="M3332 1701l4-87 4-53 7 56 8 84z"/><path class="k8c" d="M2895 1701l4-93 3-57 5 60 4 90z"/><path class="k4d" d="M3411 1701l2-41 1-25 7 26 8 40z"/><path class="k1d" d="M2427 1701l4-26h18l3 26z"/><path class="k1a" d="M2444 1675h5l3 26h-8z"/><path class="k1a" d="M2630 1701l3-10h15l3 10z"/><path class="k1a" d="M2644 1691h4l3 10h-7z"/><path class="k2b" d="M3706 1702l3-37h14l3 37z"/><path class="k2a" d="M3719 1665h4l3 37h-7z"/><path class="k1a" d="M3469 1702l3-26h15l3 26z"/><path class="k1a" d="M3483 1676h4l3 26h-7z"/><path class="k1b" d="M3864 1702l3-8h15l3 8z"/><path class="k1a" d="M3878 1694h4l3 8h-7z"/><path class="k8d" d="M3330 1702l4-92 3-57 5 60 4 89z"/><path class="k1c" d="M3135 1702l3-11h16l4 11z"/><path class="k1a" d="M3149 1691h5l4 11h-9z"/><path class="k4d" d="M3362 1702l3-50 3-30 4 32 4 48z"/><path class="k5c" d="M2810 1702l7-51 6-32 4 33 3 50z"/><path class="k1d" d="M3567 1702l3-6h13l3 6z"/><path class="k1b" d="M2524 1702l4-14h18l4 14z"/><path class="k1a" d="M2541 1688h5l4 14h-9z"/><path class="k1c" d="M3882 1702l2-11h8l1 11z"/><path class="k4b" d="M3399 1703l1-48 1-29 5 31 6 46z"/><path class="k13c" d="M2923 1703l5-142 4-87 5 92 4 137z"/><path class="k1c" d="M3581 1703l4-7h18l4 7z"/><path class="k7b" d="M2879 1703l8-79 6-48 4 51 4 76z"/><path class="k2b" d="M3202 1703l2-28 2-17 6 18 6 27z"/><path class="k1c" d="M3138 1703l4-11h17l3 11z"/><path class="k1a" d="M3154 1692h5l3 11h-8z"/><path class="k1c" d="M2629 1703l2-8h8l1 8z"/><path class="k1b" d="M2658 1703l2-10h10l2 10z"/><path class="k1a" d="M2667 1693h3l2 10h-5z"/><path class="k5b" d="M3020 1703l1-60 1-37 5 39 6 58z"/><path class="k1c" d="M2645 1703l2-12h10l3 12z"/><path class="k1a" d="M2654 1691h3l3 12h-6z"/><path class="k1b" d="M3742 1703l3-8h15l4 8z"/><path class="k1a" d="M3756 1695h4l4 8h-8z"/><path class="k4c" d="M3244 1703l4-46 4-29 2 30 2 45z"/><path class="k1b" d="M3715 1703l2-9h8l1 9z"/><path class="k4d" d="M3244 1703l3-47 3-29 4 30 4 46z"/><path class="k4d" d="M2679 1704l7-42 6-25 2 27 2 40z"/><path class="k10b" d="M2853 1704l2-112 2-68 5 72 5 108z"/><path class="k7c" d="M2903 1704l3-80 2-49 5 52 6 77z"/><path class="k1a" d="M2589 1704l4-7h17l3 7z"/><path class="k1d" d="M3506 1704l3-22h13l2 22z"/><path class="k1a" d="M3518 1682h4l2 22h-6z"/><path class="k4c" d="M3234 1704l6-43 5-27 4 28 4 42z"/><path class="k8c" d="M2937 1704l4-94 3-58 5 61 6 91z"/><path class="k1d" d="M3807 1704l2-7h8l1 7z"/><path class="k9c" d="M2951 1704l3-95 3-59 3 62 3 92z"/><path class="k6b" d="M2922 1704l3-62 3-38 5 40 4 60z"/><path class="k1c" d="M3491 1704l3-9h13l2 9z"/><path class="k1a" d="M3503 1695h4l2 9h-6z"/><path class="k3b" d="M3388 1704l4-34 3-21 3 22 2 33z"/><path class="k15a" d="M2903 1704l6-163 5-100 2 105 2 158z"/><path class="k1c" d="M2648 1704l3-21h15l4 21z"/><path class="k1a" d="M2662 1683h4l4 21h-8z"/><path class="k3d" d="M3007 1704l4-33 4-21 6 22 6 32z"/><path class="k3b" d="M3623 1705l2-33 2-21 4 22 4 32z"/><path class="k1c" d="M3666 1705l4-7h17l3 7z"/><path class="k4d" d="M2683 1705l6-45 4-27 4 29 3 43z"/><path class="k1a" d="M2465 1705l2-13h10l2 13z"/><path class="k1a" d="M2474 1692h3l2 13h-5z"/><path class="k2c" d="M3731 1705l2-28h7l1 28z"/><path class="k1c" d="M2372 1705l2-9h8l1 9z"/><path class="k4a" d="M3325 1705l4-50 4-31 3 32 2 49z"/><path class="k4d" d="M3313 1705l3-40 3-25 3 26 3 39z"/><path class="k1c" d="M3179 1705l2-11h8l2 11z"/><path class="k1a" d="M3187 1694h2l2 11h-4z"/><path class="k8b" d="M2938 1705l5-93 4-57 4 60 4 90z"/><path class="k4b" d="M3597 1705l4-43 4-26 5 28 4 41z"/><path class="k1b" d="M2585 1705l2-10h10l3 10z"/><path class="k1a" d="M2594 1695h3l3 10h-6z"/><path class="k6d" d="M3220 1705l2-65 1-40 6 42 6 63z"/><path class="k1d" d="M3828 1705l4-8h17l3 8z"/><path class="k1a" d="M3844 1697h5l3 8h-8z"/><path class="k7c" d="M3340 1705l5-79 4-48 2 51 1 76z"/><path class="k1b" d="M2415 1705l4-23h18l3 23z"/><path class="k1a" d="M2432 1682h5l3 23h-8z"/><path class="k1a" d="M2445 1705l3-8h16l4 8z"/><path class="k1a" d="M2459 1697h5l4 8h-9z"/><path class="k7a" d="M2943 1705l1-79 1-49 7 51 7 77z"/><path class="k1b" d="M3730 1706l2-7h10l3 7z"/><path class="k1c" d="M3734 1706l4-8h17l3 8z"/><path class="k1a" d="M3750 1698h5l3 8h-8z"/><path class="k1b" d="M2646 1706l4-18h17l3 18z"/><path class="k1a" d="M2662 1688h5l3 18h-8z"/><path class="k4c" d="M3592 1706l2-46 1-28 5 30 4 44z"/><path class="k4d" d="M3230 1706l5-40 4-24 5 26 5 38z"/><path class="k6a" d="M2827 1706l3-66 3-41 5 43 4 64z"/><path class="k1c" d="M2391 1706l3-8h13l3 8z"/><path class="k1a" d="M2403 1698h4l3 8h-7z"/><path class="k10b" d="M2856 1706l4-107 3-66 9 69 10 104z"/><path class="k5c" d="M2684 1706l6-50 5-31 2 32 2 49z"/><path class="k1b" d="M3152 1706l2-13h10l2 13z"/><path class="k1a" d="M3161 1693h3l2 13h-5z"/><path class="k1b" d="M2559 1706l3-11h15l3 11z"/><path class="k1a" d="M2573 1695h4l3 11h-7z"/><path class="k5c" d="M3609 1706l4-56 4-35 3 36 3 55z"/><path class="k4c" d="M3320 1706l6-46 5-28 5 30 6 44z"/><path class="k9b" d="M3005 1706l4-97 4-59 5 62 4 94z"/><path class="k8b" d="M2941 1706l3-94 3-58 6 61 6 91z"/><path class="k1c" d="M3640 1706l3-9h16l4 9z"/><path class="k1a" d="M3654 1697h5l4 9h-9z"/><path class="k10d" d="M2994 1706l3-113 2-69 6 73 6 109z"/><path class="k8d" d="M2896 1706l3-88 3-54 5 57 6 85z"/><path class="k1a" d="M3724 1706l2-13h8l2 13z"/><path class="k1a" d="M3732 1693h2l2 13h-4z"/><path class="k1b" d="M3481 1706l4-8h17l3 8z"/><path class="k1a" d="M3497 1698h5l3 8h-8z"/><path class="k9a" d="M2908 1706l4-102 4-63 5 66 5 99z"/><path class="k5b" d="M3616 1707l7-52 6-32 3 34 3 50z"/><path class="k3d" d="M2804 1707l3-33 2-21 7 22 8 32z"/><path class="k7c" d="M2705 1707l2-73 2-45 5 47 5 71z"/><path class="k1a" d="M2555 1707l2-12h11l3 12z"/><path class="k1a" d="M2565 1695h3l3 12h-6z"/><path class="k13c" d="M2989 1707l7-146 6-90 3 94 3 142z"/><path class="k1c" d="M3913 1707l3-6h13l2 6z"/><path class="k3b" d="M3306 1707l5-32 4-20 2 21 1 31z"/><path class="k1c" d="M2743 1707l2-8h8l2 8z"/><path class="k1a" d="M2751 1699h2l2 8h-4z"/><path class="k10d" d="M2953 1707l7-109 6-67 3 70 3 106z"/><path class="k4c" d="M3323 1707l2-50 2-30 6 32 6 48z"/><path class="k1c" d="M3189 1707l3-12h14l3 12z"/><path class="k1a" d="M3202 1695h4l3 12h-7z"/><path class="k11c" d="M2872 1707l10-118 8-73 4 76 3 115z"/><path class="k3c" d="M2836 1707l6-37 4-22 5 24 4 35z"/><path class="k1a" d="M3809 1707l3-10h13l2 10z"/><path class="k1a" d="M3821 1697h4l2 10h-6z"/><path class="k4b" d="M3017 1707l4-42 4-25 6 27 6 40z"/><path class="k1d" d="M2481 1707l3-17h15l3 17z"/><path class="k1a" d="M2495 1690h4l3 17h-7z"/><path class="k1a" d="M3645 1707l2-10h10l2 10z"/><path class="k1a" d="M3654 1697h3l2 10h-5z"/><path class="k5a" d="M3358 1708l6-60 4-36 3 38 2 58z"/><path class="k1c" d="M3741 1708l4-8h18l3 8z"/><path class="k1a" d="M3758 1700h5l3 8h-8z"/><path class="k3b" d="M2806 1708l3-38 2-23 5 24 4 37z"/><path class="k1a" d="M2459 1708l3-17h16l4 17z"/><path class="k1a" d="M2473 1691h5l4 17h-9z"/><path class="k7b" d="M2921 1708l6-81 4-49 3 52 3 78z"/><path class="k1d" d="M2491 1708l3-12h15l4 12z"/><path class="k1a" d="M2505 1696h4l4 12h-8z"/><path class="k10d" d="M2856 1708l2-110 1-67 9 71 10 106z"/><path class="k5a" d="M3605 1708l6-52 4-32 2 34 1 50z"/><path class="k3b" d="M3407 1708l6-37 5-23 4 24 3 36z"/><path class="k1c" d="M3564 1708l3-8h12l2 8z"/><path class="k1a" d="M3575 1700h4l2 8h-6z"/><path class="k10c" d="M2999 1708l3-112 3-68 6 72 6 108z"/><path class="k14c" d="M2989 1709l2-151 1-93 6 98 6 146z"/><path class="k1d" d="M3755 1709l2-8h10l2 8z"/><path class="k1a" d="M3764 1701h3l2 8h-5z"/><path class="k1d" d="M2420 1709l3-17h13l3 17z"/><path class="k1a" d="M2432 1692h4l3 17h-7z"/><path class="k1c" d="M3171 1709l3-7h15l4 7z"/><path class="k2b" d="M2815 1709l4-22 3-13 6 14 6 21z"/><path class="k1a" d="M2401 1709l3-7h13l3 7z"/><path class="k1d" d="M3193 1709l3-6h13l2 6z"/><path class="k2b" d="M2462 1709l3-34h15l3 34z"/><path class="k2a" d="M2476 1675h4l3 34h-7z"/><path class="k1b" d="M3670 1709l4-8h17l3 8z"/><path class="k1a" d="M3686 1701h5l3 8h-8z"/><path class="k1c" d="M2620 1709l3-8h16l4 8z"/><path class="k1a" d="M2634 1701h5l4 8h-9z"/><path class="k2c" d="M2445 1710l3-27h15l4 27z"/><path class="k2a" d="M2459 1683h4l4 27h-8z"/><path class="k1c" d="M2650 1710l3-16h15l4 16z"/><path class="k1a" d="M2664 1694h4l4 16h-8z"/><path class="k6b" d="M3346 1710l8-72 6-44 4 46 4 70z"/><path class="k3d" d="M2667 1710l4-37 3-23 4 24 4 36z"/><path class="k6d" d="M2821 1710l2-64 1-40 5 42 4 62z"/><path class="k11b" d="M2851 1710l9-117 8-72 2 76 2 113z"/><path class="k1c" d="M3466 1710l3-19h16l4 19z"/><path class="k1a" d="M3480 1691h5l4 19h-9z"/><path class="k11a" d="M2918 1710l9-120 8-74 3 78 3 116z"/><path class="k4a" d="M3217 1710l6-46 5-29 5 30 5 45z"/><path class="k4b" d="M3626 1711l4-46 4-29 5 30 6 45z"/><path class="k1c" d="M2359 1711l4-11h18l4 11z"/><path class="k1a" d="M2376 1700h5l4 11h-9z"/><path class="k4b" d="M2857 1711l2-47 2-29 7 30 7 46z"/><path class="k1c" d="M3176 1711l3-8h14l3 8z"/><path class="k1a" d="M3189 1703h4l3 8h-7z"/><path class="k14a" d="M2890 1711l8-152 6-93 4 98 3 147z"/><path class="k6b" d="M3319 1711l4-72 4-44 6 46 6 70z"/><path class="k13c" d="M2887 1711l7-147 5-90 2 95 2 142z"/><path class="k2d" d="M3443 1711l2-33h9l2 33z"/><path class="k2a" d="M3451 1678h3l2 33h-5z"/><path class="k9b" d="M2998 1711l8-102 6-63 3 66 2 99z"/><path class="k8a" d="M3010 1711l6-84 4-52 3 54 2 82z"/><path class="k3c" d="M3341 1711l5-37 4-22 4 24 3 35z"/><path class="k1c" d="M3494 1711l2-12h10l3 12z"/><path class="k1a" d="M3503 1699h3l3 12h-6z"/><path class="k9b" d="M2998 1711l3-102 3-62 7 66 7 98z"/><path class="k3b" d="M2714 1711l4-38 4-23 5 24 5 37z"/><path class="k8d" d="M3327 1711l7-85 5-52 2 55 2 82z"/><path class="k1c" d="M3868 1711l2-9h11l3 9z"/><path class="k1a" d="M3878 1702h3l3 9h-6z"/><path class="k5d" d="M3234 1711l2-58 2-36 5 38 5 56z"/><path class="k1c" d="M3699 1712l2-26h8l2 26z"/><path class="k1a" d="M3707 1686h2l2 26h-4z"/><path class="k9c" d="M2944 1712l4-98 3-60 3 63 2 95z"/><path class="k5c" d="M3302 1712l1-51 1-32 6 33 6 50z"/><path class="k1a" d="M3554 1712l4-10h17l3 10z"/><path class="k1a" d="M3570 1702h5l3 10h-8z"/><path class="k4a" d="M3384 1712l7-49 5-30 2 32 2 47z"/><path class="k5b" d="M2717 1712l2-60 2-36 4 38 4 58z"/><path class="k7b" d="M2970 1712l6-83 4-51 4 54 3 80z"/><path class="k1c" d="M2366 1712l2-7h8l2 7z"/><path class="k2d" d="M2525 1712l2-38h10l3 38z"/><path class="k2a" d="M2534 1674h3l3 38h-6z"/><path class="k1a" d="M2736 1712l2-25h7l1 25z"/><path class="k2b" d="M3242 1712l6-25 5-16 4 16 3 25z"/><path class="k1b" d="M3864 1712l3-18h15l3 18z"/><path class="k1a" d="M3878 1694h4l3 18h-7z"/><path class="k1c" d="M2362 1712l3-12h13l3 12z"/><path class="k1a" d="M2374 1700h4l3 12h-7z"/><path class="k1c" d="M2974 1712l2-11h10l2 11z"/><path class="k1a" d="M2983 1701h3l2 11h-5z"/><path class="k3c" d="M2849 1712l2-47h8l1 47z"/><path class="k3c" d="M3629 1712l2-35 1-21 5 22 5 34z"/><path class="k2d" d="M2679 1712l2-21 2-13 3 14 3 20z"/><path class="k1b" d="M3875 1712l2-17h8l2 17z"/><path class="k1a" d="M3883 1695h2l2 17h-4z"/><path class="k1a" d="M3334 1712l3-17h13l2 17z"/><path class="k1a" d="M3346 1695h4l2 17h-6z"/><path class="k1c" d="M3200 1713l2-19h10l2 19z"/><path class="k1a" d="M3209 1694h3l2 19h-5z"/><path class="k1b" d="M3848 1713l2-11h8l1 11z"/><path class="k11a" d="M2857 1713l4-120 4-73 6 77 6 116z"/><path class="k1b" d="M3354 1713l3-12h16l4 12z"/><path class="k1a" d="M3368 1701h5l4 12h-9z"/><path class="k12a" d="M2891 1713l3-129 2-79 10 83 10 125z"/><path class="k3b" d="M2845 1713l3-36 3-22 5 23 4 35z"/><path class="k1a" d="M3709 1713l4-23h18l4 23z"/><path class="k1a" d="M3726 1690h5l4 23h-9z"/><path class="k1b" d="M3136 1713l3-13h12l2 13z"/><path class="k1a" d="M3147 1700h4l2 13h-6z"/><path class="k8d" d="M2850 1713l6-93 5-57 3 60 2 90z"/><path class="k1a" d="M3095 1713l2-7h10l2 7z"/><path class="k1b" d="M3386 1713l2-8h8l2 8z"/><path class="k1a" d="M3394 1705h2l2 8h-4z"/><path class="k2c" d="M3362 1713l4-21 4-13 2 14 1 20z"/><path class="k5c" d="M3395 1713l4-55 4-33 3 35 2 53z"/><path class="k1b" d="M2522 1713l3-14h12l2 14z"/><path class="k1a" d="M2533 1699h4l2 14h-6z"/><path class="k5d" d="M3307 1713l3-55 3-33 5 35 4 53z"/><path class="k1c" d="M2640 1714l3-25h16l4 25z"/><path class="k1a" d="M2654 1689h5l4 25h-9z"/><path class="k1a" d="M2411 1714l3-18h12l2 18z"/><path class="k1a" d="M2422 1696h4l2 18h-6z"/><path class="k2a" d="M3244 1714l5-27 4-17 3 18 3 26z"/><path class="k1d" d="M3841 1714l2-9h10l2 9z"/><path class="k1a" d="M3850 1705h3l2 9h-5z"/><path class="k1b" d="M2524 1714l3-7h16l4 7z"/><path class="k1c" d="M3777 1714l3-8h16l4 8z"/><path class="k1a" d="M3791 1706h5l4 8h-9z"/><path class="k7d" d="M2951 1714l10-82 8-51 3 53 2 80z"/><path class="k1b" d="M3399 1714l3-9h13l2 9z"/><path class="k1a" d="M3411 1705h4l2 9h-6z"/><path class="k1d" d="M2777 1714l4-26h17l3 26z"/><path class="k1a" d="M2793 1688h5l3 26h-8z"/><path class="k1c" d="M2497 1714l2-21h10l2 21z"/><path class="k1a" d="M2506 1693h3l2 21h-5z"/><path class="k10c" d="M2982 1714l8-107 7-65 5 69 4 103z"/><path class="k14c" d="M2908 1714l4-158 4-97 6 102 6 153z"/><path class="k11b" d="M2876 1714l5-121 4-74 5 78 4 117z"/><path class="k4c" d="M3381 1714l8-43 6-27 3 28 2 42z"/><path class="k1a" d="M3508 1714l3-20h12l2 20z"/><path class="k1a" d="M3519 1694h4l2 20h-6z"/><path class="k5b" d="M2710 1714l1-55 1-34 7 36 7 53z"/><path class="k1c" d="M3826 1714l2-10h10l3 10z"/><path class="k1a" d="M3835 1704h3l3 10h-6z"/><path class="k2c" d="M3291 1715l2-35h10l2 35z"/><path class="k2a" d="M3300 1680h3l2 35h-5z"/><path class="k1b" d="M3835 1715l3-7h13l3 7z"/><path class="k2b" d="M3570 1715l4-37h18l3 37z"/><path class="k2a" d="M3587 1678h5l3 37h-8z"/><path class="k3b" d="M2773 1715l3-51h16l4 51z"/><path class="k3a" d="M2787 1664h5l4 51h-9z"/><path class="k9d" d="M2925 1715l4-100 4-62 8 65 8 97z"/><path class="k3c" d="M3385 1715l5-37 4-23 2 24 1 36z"/><path class="k5a" d="M3236 1715l6-58 4-36 5 38 5 56z"/><path class="k2b" d="M2631 1715l4-28h18l3 28z"/><path class="k2a" d="M2648 1687h5l3 28h-8z"/><path class="k10b" d="M2985 1715l10-111 9-68 2 72 2 107z"/><path class="k1d" d="M2628 1715l3-10h16l4 10z"/><path class="k1a" d="M2642 1705h5l4 10h-9z"/><path class="k5b" d="M3607 1715l3-53 2-33 6 34 6 52z"/><path class="k6a" d="M2794 1715l4-64 3-39 3 41 3 62z"/><path class="k2c" d="M2629 1715l4-29h18l3 29z"/><path class="k2a" d="M2646 1686h5l3 29h-8z"/><path class="k2d" d="M3867 1715l3-32h12l2 32z"/><path class="k2a" d="M3878 1683h4l2 32h-6z"/><path class="k1d" d="M3141 1715l3-11h12l2 11z"/><path class="k1a" d="M3152 1704h4l2 11h-6z"/><path class="k4b" d="M3350 1715l2-40 1-24 5 26 6 38z"/><path class="k3c" d="M2941 1715l2-59h10l2 59z"/><path class="k3a" d="M2950 1656h3l2 59h-5z"/><path class="k4c" d="M3345 1716l8-42 6-26 4 27 3 41z"/><path class="k1b" d="M3689 1716l3-12h15l4 12z"/><path class="k1a" d="M3703 1704h4l4 12h-8z"/><path class="k1c" d="M2391 1716l3-8h12l2 8z"/><path class="k1a" d="M2402 1708h4l2 8h-6z"/><path class="k4c" d="M2664 1716l7-45 6-28 5 29 4 44z"/><path class="k1c" d="M3180 1716l3-12h15l4 12z"/><path class="k1a" d="M3194 1704h4l4 12h-8z"/><path class="k1b" d="M2950 1716l2-18h7l1 18z"/><path class="k2b" d="M3562 1716l2-35h11l3 35z"/><path class="k2a" d="M3572 1681h3l3 35h-6z"/><path class="k9c" d="M2984 1716l5-103 4-63 5 66 5 100z"/><path class="k1d" d="M3738 1716l3-12h13l2 12z"/><path class="k1a" d="M3750 1704h4l2 12h-6z"/><path class="k1d" d="M3020 1717l3-15h12l2 15z"/><path class="k1a" d="M3031 1702h4l2 15h-6z"/><path class="k3c" d="M3288 1717l3-32 2-19 7 20 7 31z"/><path class="k1b" d="M2494 1717l2-23h9l2 23z"/><path class="k1a" d="M2502 1694h3l2 23h-5z"/><path class="k3c" d="M2829 1717l4-38 4-24 5 25 6 37z"/><path class="k1b" d="M2456 1717l2-9h10l3 9z"/><path class="k1a" d="M2465 1708h3l3 9h-6z"/><path class="k1d" d="M3549 1717l4-9h18l3 9z"/><path class="k1a" d="M3566 1708h5l3 9h-8z"/><path class="k1b" d="M2524 1717l2-9h8l2 9z"/><path class="k1a" d="M2532 1708h2l2 9h-4z"/><path class="k1d" d="M3136 1717l2-10h9l2 10z"/><path class="k1a" d="M3144 1707h3l2 10h-5z"/><path class="k5b" d="M3355 1717l6-53 4-32 2 34 2 51z"/><path class="k5c" d="M3420 1717l7-55 5-33 5 35 4 53z"/><path class="k2a" d="M2791 1717l3-22 3-14 4 14 4 22z"/><path class="k3b" d="M3015 1717l3-57h12l2 57z"/><path class="k3a" d="M3026 1660h4l2 57h-6z"/><path class="k1c" d="M3510 1717l4-18h18l3 18z"/><path class="k1a" d="M3527 1699h5l3 18h-8z"/><path class="k5c" d="M2774 1717l7-59 6-36 4 38 4 57z"/><path class="k1a" d="M3189 1717l3-20h15l3 20z"/><path class="k1a" d="M3203 1697h4l3 20h-7z"/><path class="k5a" d="M2690 1717l6-53 5-32 5 34 5 51z"/><path class="k1c" d="M2548 1717l2-9h10l2 9z"/><path class="k1a" d="M2557 1708h3l2 9h-5z"/><path class="k3d" d="M3387 1717l3-35 2-22 7 23 7 34z"/><path class="k2b" d="M3012 1717l5-19 4-11 5 12 4 18z"/><path class="k2b" d="M3712 1717l2-31h8l2 31z"/><path class="k2a" d="M3720 1686h2l2 31h-4z"/><path class="k1b" d="M3193 1717l3-27h12l2 27z"/><path class="k1a" d="M3204 1690h4l2 27h-6z"/><path class="k1d" d="M2656 1718l2-16h7l1 16z"/><path class="k1c" d="M2411 1718l2-16h8l1 16z"/><path class="k1c" d="M3494 1718l2-7h10l2 7z"/><path class="k1d" d="M3714 1718l2-22h11l3 22z"/><path class="k1a" d="M3724 1696h3l3 22h-6z"/><path class="k1c" d="M2656 1718l2-11h8l1 11z"/><path class="k2b" d="M2670 1718l4-19 4-12 6 12 6 19z"/><path class="k1c" d="M2730 1718l3-20h12l2 20z"/><path class="k1a" d="M2741 1698h4l2 20h-6z"/><path class="k1d" d="M3764 1718l3-8h14l3 8z"/><path class="k1a" d="M3777 1710h4l3 8h-7z"/><path class="k1c" d="M2722 1718l3-6h13l2 6z"/><path class="k1c" d="M2674 1718l4-27h17l3 27z"/><path class="k1a" d="M2690 1691h5l3 27h-8z"/><path class="k1b" d="M2409 1718l3-23h15l3 23z"/><path class="k1a" d="M2423 1695h4l3 23h-7z"/><path class="k4b" d="M3629 1718l3-40 2-24 7 26 7 38z"/><path class="k1c" d="M2474 1718l3-22h14l3 22z"/><path class="k1a" d="M2487 1696h4l3 22h-7z"/><path class="k8b" d="M2928 1718l3-92 2-56 9 59 10 89z"/><path class="k1b" d="M3484 1718l2-7h8l2 7z"/><path class="k1b" d="M3709 1718l3-22h15l4 22z"/><path class="k1a" d="M3723 1696h4l4 22h-8z"/><path class="k4c" d="M3356 1718l8-41 6-25 4 26 3 40z"/><path class="k1c" d="M2845 1718l3-17h13l3 17z"/><path class="k1a" d="M2857 1701h4l3 17h-7z"/><path class="k1d" d="M3852 1719l4-10h18l3 10z"/><path class="k1a" d="M3869 1709h5l3 10h-8z"/><path class="k1a" d="M3500 1719l2-7h7l1 7z"/><path class="k1b" d="M3412 1719l3-15h12l2 15z"/><path class="k1a" d="M3423 1704h4l2 15h-6z"/><path class="k1b" d="M3856 1719l3-11h15l4 11z"/><path class="k1a" d="M3870 1708h4l4 11h-8z"/><path class="k1c" d="M2977 1719l2-15h10l2 15z"/><path class="k1a" d="M2986 1704h3l2 15h-5z"/><path class="k10c" d="M2955 1719l7-108 6-67 2 70 2 105z"/><path class="k9c" d="M3000 1719l4-99 3-60 6 64 6 95z"/><path class="k2b" d="M2653 1719l3-42h12l2 42z"/><path class="k2a" d="M2664 1677h4l2 42h-6z"/><path class="k1a" d="M2433 1719l3-10h12l2 10z"/><path class="k1a" d="M2444 1709h4l2 10h-6z"/><path class="k13c" d="M2958 1719l4-150 4-92 9 97 9 145z"/><path class="k3b" d="M3443 1719l2-49h8l2 49z"/><path class="k3a" d="M3451 1670h2l2 49h-4z"/><path class="k2d" d="M3492 1719l3-32h16l4 32z"/><path class="k2a" d="M3506 1687h5l4 32h-9z"/><path class="k1b" d="M2735 1719l3-13h13l2 13z"/><path class="k1a" d="M2747 1706h4l2 13h-6z"/><path class="k15d" d="M2970 1719l6-169 4-103 5 109 6 163z"/><path class="k1a" d="M3136 1719l2-7h10l2 7z"/><path class="k2c" d="M2369 1719l2-29h7l1 29z"/><path class="k4b" d="M3010 1719l6-49 5-30 5 32 4 47z"/><path class="k6b" d="M3424 1719l4-68 3-41 5 44 6 65z"/><path class="k4c" d="M2947 1719l5-45 4-28 4 29 3 44z"/><path class="k3b" d="M2907 1719l2-51h8l1 51z"/><path class="k1a" d="M2887 1719l2-19h10l2 19z"/><path class="k1a" d="M2896 1700h3l2 19h-5z"/><path class="k1d" d="M2782 1719l2-8h8l1 8z"/><path class="k6a" d="M3401 1719l5-63 4-38 3 40 3 61z"/><path class="k5b" d="M2779 1719l6-58 4-36 2 38 2 56z"/><path class="k2c" d="M2462 1720l3-41h14l3 41z"/><path class="k2a" d="M2475 1679h4l3 41h-7z"/><path class="k1b" d="M3772 1720l4-6h17l3 6z"/><path class="k2c" d="M3177 1720l3-29h15l3 29z"/><path class="k2a" d="M3191 1691h4l3 29h-7z"/><path class="k2b" d="M2661 1720l6-25 4-16 4 16 4 25z"/><path class="k1c" d="M2646 1720l3-25h16l4 25z"/><path class="k1a" d="M2660 1695h5l4 25h-9z"/><path class="k2a" d="M3400 1720l3-40h15l4 40z"/><path class="k2a" d="M3414 1680h4l4 40h-8z"/><path class="k1c" d="M2396 1720l3-7h15l3 7z"/><path class="k1b" d="M3055 1720l3-8h15l3 8z"/><path class="k1a" d="M3069 1712h4l3 8h-7z"/><path class="k4c" d="M2774 1720l4-44 4-27 6 28 6 43z"/><path class="k2c" d="M2745 1720l2-37h8l1 37z"/><path class="k5b" d="M3621 1720l3-60 3-36 6 38 6 58z"/><path class="k2b" d="M3443 1720l4-41h18l4 41z"/><path class="k2a" d="M3460 1679h5l4 41h-9z"/><path class="k1a" d="M2532 1720l3-15h14l3 15z"/><path class="k1a" d="M2545 1705h4l3 15h-7z"/><path class="k1c" d="M3391 1720l2-10h8l1 10z"/><path class="k1a" d="M2635 1720l2-9h10l3 9z"/><path class="k1a" d="M2644 1711h3l3 9h-6z"/><path class="k6c" d="M2821 1720l2-71 2-43 5 46 6 68z"/><path class="k4b" d="M3332 1720l3-48 2-29 5 31 4 46z"/><path class="k1d" d="M3261 1720l3-27h13l3 27z"/><path class="k1a" d="M3273 1693h4l3 27h-7z"/><path class="k4c" d="M2923 1720l5-47 4-29 4 30 4 46z"/><path class="k1d" d="M3737 1720l2-16h11l3 16z"/><path class="k1a" d="M3747 1704h3l3 16h-6z"/><path class="k1c" d="M2667 1720l4-9h18l4 9z"/><path class="k1a" d="M2684 1711h5l4 9h-9z"/><path class="k1a" d="M3106 1720l3-12h13l3 12z"/><path class="k1a" d="M3118 1708h4l3 12h-7z"/><path class="k2c" d="M3459 1720l3-31h13l3 31z"/><path class="k2a" d="M3471 1689h4l3 31h-7z"/><path class="k13a" d="M2917 1721l6-146 4-89 7 94 7 141z"/><path class="k2d" d="M2562 1721l2-32h9l2 32z"/><path class="k2a" d="M2570 1689h3l2 32h-5z"/><path class="k1b" d="M2628 1721l2-26h8l1 26z"/><path class="k3c" d="M2884 1721l3-50h13l2 50z"/><path class="k3a" d="M2896 1671h4l2 50h-6z"/><path class="k1b" d="M2659 1721l3-10h15l3 10z"/><path class="k1a" d="M2673 1711h4l3 10h-7z"/><path class="k2b" d="M3468 1721l3-36h15l4 36z"/><path class="k2a" d="M3482 1685h4l4 36h-8z"/><path class="k1c" d="M3882 1721l2-9h8l1 9z"/><path class="k1c" d="M3181 1721l3-17h12l2 17z"/><path class="k1a" d="M3192 1704h4l2 17h-6z"/><path class="k6c" d="M3012 1721l3-62 2-38 5 40 4 60z"/><path class="k1b" d="M2776 1721l3-22h15l4 22z"/><path class="k1a" d="M2790 1699h4l4 22h-8z"/><path class="k1c" d="M3192 1721l3-21h15l3 21z"/><path class="k1a" d="M3206 1700h4l3 21h-7z"/><path class="k2c" d="M3231 1721l3-34h14l3 34z"/><path class="k2a" d="M3244 1687h4l3 34h-7z"/><path class="k1c" d="M3648 1721l3-8h16l4 8z"/><path class="k1a" d="M3662 1713h5l4 8h-9z"/><path class="k1b" d="M3877 1721l3-10h12l2 10z"/><path class="k1a" d="M3888 1711h4l2 10h-6z"/><path class="k1c" d="M3676 1721l3-11h15l4 11z"/><path class="k1a" d="M3690 1710h4l4 11h-8z"/><path class="k1d" d="M2559 1721l3-8h13l2 8z"/><path class="k1a" d="M2571 1713h4l2 8h-6z"/><path class="k1d" d="M3709 1721l2-12h7l1 12z"/><path class="k5b" d="M3214 1721l7-52 6-32 5 34 4 50z"/><path class="k3d" d="M3384 1721l4-29 4-17 3 18 3 28z"/><path class="k1d" d="M3759 1722l2-6h10l3 6z"/><path class="k2a" d="M3279 1722l4-22 3-14 6 14 6 22z"/><path class="k1a" d="M2873 1722l3-18h15l4 18z"/><path class="k1a" d="M2887 1704h4l4 18h-8z"/><path class="k1a" d="M2849 1722l3-11h15l4 11z"/><path class="k1a" d="M2863 1711h4l4 11h-8z"/><path class="k1b" d="M2415 1722l3-24h12l2 24z"/><path class="k1a" d="M2426 1698h4l2 24h-6z"/><path class="k11a" d="M2873 1722l9-124 7-76 4 80 3 120z"/><path class="k1a" d="M2787 1722l3-15h13l2 15z"/><path class="k1a" d="M2799 1707h4l2 15h-6z"/><path class="k5c" d="M2676 1722l3-56 2-35 6 36 7 55z"/><path class="k1c" d="M3246 1722l3-25h13l3 25z"/><path class="k1a" d="M3258 1697h4l3 25h-7z"/><path class="k5c" d="M3413 1722l8-57 7-35 3 37 2 55z"/><path class="k3b" d="M3318 1722l2-30 2-19 5 20 4 29z"/><path class="k2b" d="M3271 1722l2-43h9l2 43z"/><path class="k2a" d="M3279 1679h3l2 43h-5z"/><path class="k1b" d="M2906 1722l3-9h14l3 9z"/><path class="k1a" d="M2919 1713h4l3 9h-7z"/><path class="k1c" d="M3840 1722l2-11h8l2 11z"/><path class="k1a" d="M3848 1711h2l2 11h-4z"/><path class="k3d" d="M2672 1722l4-56h17l3 56z"/><path class="k3a" d="M2688 1666h5l3 56h-8z"/><path class="k1d" d="M2460 1722l2-7h10l2 7z"/><path class="k2c" d="M2832 1722l2-31h8l2 31z"/><path class="k2a" d="M2840 1691h2l2 31h-4z"/><path class="k9c" d="M2837 1722l2-97 1-59 6 62 7 94z"/><path class="k5c" d="M2927 1722l4-58 4-36 5 38 4 56z"/><path class="k1c" d="M2929 1722l3-12h16l4 12z"/><path class="k1a" d="M2943 1710h5l4 12h-9z"/><path class="k5b" d="M3310 1723l7-56 5-35 2 36 2 55z"/><path class="k6a" d="M2698 1723l2-72 2-44 8 46 8 70z"/><path class="k3a" d="M2925 1723l3-56h13l3 56z"/><path class="k3a" d="M2937 1667h4l3 56h-7z"/><path class="k4b" d="M2931 1723l2-50 2-30 6 32 6 48z"/><path class="k1a" d="M2644 1723l4-23h18l4 23z"/><path class="k1a" d="M2661 1700h5l4 23h-9z"/><path class="k1d" d="M3423 1723l3-27h13l3 27z"/><path class="k1a" d="M3435 1696h4l3 27h-7z"/><path class="k2c" d="M2416 1723l3-38h13l2 38z"/><path class="k2a" d="M2428 1685h4l2 38h-6z"/><path class="k1b" d="M3846 1723l3-8h15l3 8z"/><path class="k1a" d="M3860 1715h4l3 8h-7z"/><path class="k1c" d="M3555 1723l3-7h15l4 7z"/><path class="k12d" d="M2913 1723l2-139 2-85 8 90 9 134z"/><path class="k1c" d="M3418 1723l4-12h18l3 12z"/><path class="k1a" d="M3435 1711h5l3 12h-8z"/><path class="k1b" d="M3783 1723l4-8h17l3 8z"/><path class="k1a" d="M3799 1715h5l3 8h-8z"/><path class="k1a" d="M3569 1723l2-10h10l3 10z"/><path class="k1a" d="M3578 1713h3l3 10h-6z"/><path class="k1b" d="M3763 1723l2-8h8l1 8z"/><path class="k1d" d="M2714 1723l2-18h10l2 18z"/><path class="k1a" d="M2723 1705h3l2 18h-5z"/><path class="k4c" d="M2765 1724l4-46 3-28 3 30 3 44z"/><path class="k2b" d="M2650 1724l2-35h8l1 35z"/><path class="k4d" d="M3440 1724l6-46 4-28 3 30 2 44z"/><path class="k4b" d="M3328 1724l6-49 4-30 2 32 1 47z"/><path class="k4c" d="M3294 1724l7-40 6-24 4 26 4 38z"/><path class="k5b" d="M3019 1724l6-53 5-32 5 34 4 51z"/><path class="k3b" d="M2781 1724l2-50h8l1 50z"/><path class="k2b" d="M2744 1724l3-42h15l3 42z"/><path class="k2a" d="M2758 1682h4l3 42h-7z"/><path class="k1a" d="M2523 1724l2-19h11l3 19z"/><path class="k1a" d="M2533 1705h3l3 19h-6z"/><path class="k1c" d="M3191 1724l2-21h7l1 21z"/><path class="k2c" d="M2477 1724l2-39h9l2 39z"/><path class="k2a" d="M2485 1685h3l2 39h-5z"/><path class="k2c" d="M3037 1724l2-24 2-14 5 15 5 23z"/><path class="k3a" d="M3542 1724l3-45h12l2 45z"/><path class="k3a" d="M3553 1679h4l2 45h-6z"/><path class="k1d" d="M3580 1724l3-14h13l2 14z"/><path class="k1a" d="M3592 1710h4l2 14h-6z"/><path class="k3c" d="M3317 1724l3-59h15l3 59z"/><path class="k3a" d="M3331 1665h4l3 59h-7z"/><path class="k6b" d="M2759 1724l3-66 3-40 8 42 9 64z"/><path class="k9c" d="M2996 1724l3-102 2-62 8 66 8 98z"/><path class="k2a" d="M2467 1725l3-30h13l2 30z"/><path class="k2a" d="M2479 1695h4l2 30h-6z"/><path class="k3a" d="M2847 1725l4-60h17l3 60z"/><path class="k3a" d="M2863 1665h5l3 60h-8z"/><path class="k2d" d="M2633 1725l2-32h9l2 32z"/><path class="k2a" d="M2641 1693h3l2 32h-5z"/><path class="k1b" d="M3738 1725l3-12h15l3 12z"/><path class="k1a" d="M3752 1713h4l3 12h-7z"/><path class="k1c" d="M3648 1725l2-17h8l2 17z"/><path class="k1a" d="M3656 1708h2l2 17h-4z"/><path class="k5a" d="M3433 1725l6-54 4-33 6 35 6 52z"/><path class="k1d" d="M2598 1725l3-9h15l3 9z"/><path class="k1a" d="M2612 1716h4l3 9h-7z"/><path class="k1c" d="M3136 1725l3-18h15l3 18z"/><path class="k1a" d="M3150 1707h4l3 18h-7z"/><path class="k1d" d="M3783 1725l2-13h8l2 13z"/><path class="k1a" d="M3791 1712h2l2 13h-4z"/><path class="k2b" d="M2817 1725l4-30h18l4 30z"/><path class="k2a" d="M2834 1695h5l4 30h-9z"/><path class="k4a" d="M2761 1725l4-45 3-27 5 29 4 43z"/><path class="k6b" d="M3409 1725l9-72 8-44 3 46 3 70z"/><path class="k4d" d="M3421 1725l2-40 2-25 7 26 8 39z"/><path class="k1c" d="M2390 1725l2-11h8l1 11z"/><path class="k2c" d="M3618 1725l3-30h16l4 30z"/><path class="k2a" d="M3632 1695h5l4 30h-9z"/><path class="k1d" d="M3788 1725l2-12h11l3 12z"/><path class="k1a" d="M3798 1713h3l3 12h-6z"/><path class="k4b" d="M2674 1725l3-50 2-30 5 32 5 48z"/><path class="k5c" d="M2929 1725l3-58 2-35 5 37 4 56z"/><path class="k1c" d="M3717 1726l3-26h15l3 26z"/><path class="k1a" d="M3731 1700h4l3 26h-7z"/><path class="k1c" d="M3781 1726l4-12h17l3 12z"/><path class="k1a" d="M3797 1714h5l3 12h-8z"/><path class="k1b" d="M2503 1726l2-10h8l1 10z"/><path class="k5b" d="M3393 1726l6-51 5-32 3 33 2 50z"/><path class="k1d" d="M3502 1726l3-16h15l3 16z"/><path class="k1a" d="M3516 1710h4l3 16h-7z"/><path class="k9b" d="M2881 1726l6-100 5-61 4 64 3 97z"/><path class="k2b" d="M3522 1726l2-39h8l1 39z"/><path class="k2d" d="M3287 1726l3-31h15l4 31z"/><path class="k2a" d="M3301 1695h4l4 31h-8z"/><path class="k1b" d="M2965 1726l3-16h15l4 16z"/><path class="k1a" d="M2979 1710h4l4 16h-8z"/><path class="k1b" d="M3379 1726l4-15 3-9 3 10 3 14z"/><path class="k1d" d="M2537 1726l2-9h10l2 9z"/><path class="k1a" d="M2546 1717h3l2 9h-5z"/><path class="k1a" d="M3035 1726l2-11h7l1 11z"/><path class="k3d" d="M2674 1726l3-50h13l2 50z"/><path class="k3a" d="M2686 1676h4l2 50h-6z"/><path class="k1d" d="M2461 1726l3-10h13l3 10z"/><path class="k1a" d="M2473 1716h4l3 10h-7z"/><path class="k5c" d="M2857 1727l4-59 4-36 5 38 5 57z"/><path class="k1c" d="M2365 1727l2-8h8l2 8z"/><path class="k1a" d="M2373 1719h2l2 8h-4z"/><path class="k1d" d="M2923 1727l3-16h15l4 16z"/><path class="k1a" d="M2937 1711h4l4 16h-8z"/><path class="k4d" d="M2760 1727l6-42 4-26 2 27 2 41z"/><path class="k1a" d="M3809 1727l3-7h13l3 7z"/><path class="k5b" d="M2752 1727l3-53 3-33 6 34 6 52z"/><path class="k2b" d="M3620 1727l2-44h10l2 44z"/><path class="k2a" d="M3629 1683h3l2 44h-5z"/><path class="k4b" d="M3423 1727l4-40 4-24 2 26 2 38z"/><path class="k5c" d="M3299 1727l4-57 3-35 3 37 3 55z"/><path class="k1d" d="M3892 1727l2-12h10l2 12z"/><path class="k1a" d="M3901 1715h3l2 12h-5z"/><path class="k2c" d="M3035 1728l6-19 5-11 3 12 3 18z"/><path class="k11b" d="M2859 1728l12-123 9-75 3 79 2 119z"/><path class="k1d" d="M3144 1728l2-11h11l3 11z"/><path class="k1a" d="M3154 1717h3l3 11h-6z"/><path class="k5b" d="M2693 1728l9-51 7-32 2 33 2 50z"/><path class="k1d" d="M3822 1728l2-16h10l3 16z"/><path class="k1a" d="M3831 1712h3l3 16h-6z"/><path class="k8a" d="M2990 1728l9-88 8-54 3 57 2 85z"/><path class="k5b" d="M3624 1728l8-60 6-37 5 39 4 58z"/><path class="k1b" d="M2705 1728l4-9h18l4 9z"/><path class="k1a" d="M2722 1719h5l4 9h-9z"/><path class="k1c" d="M2731 1728l3-13h15l4 13z"/><path class="k1a" d="M2745 1715h4l4 13h-8z"/><path class="k1d" d="M2418 1728l2-16h11l3 16z"/><path class="k1a" d="M2428 1712h3l3 16h-6z"/><path class="k7b" d="M2798 1728l3-74 3-46 7 48 7 72z"/><path class="k4c" d="M3345 1728l5-42 4-25 5 27 4 40z"/><path class="k12d" d="M2875 1728l4-128 3-79 5 83 6 124z"/><path class="k2a" d="M2745 1728l2-30h8l2 30z"/><path class="k2a" d="M2753 1698h2l2 30h-4z"/><path class="k1b" d="M3805 1728l3-8h15l4 8z"/><path class="k1a" d="M3819 1720h4l4 8h-8z"/><path class="k1c" d="M2489 1728l3-6h15l4 6z"/><path class="k5c" d="M3629 1729l3-51 2-32 5 33 6 50z"/><path class="k4c" d="M3289 1729l4-40 4-24 2 26 2 38z"/><path class="k1d" d="M3659 1729l3-9h13l2 9z"/><path class="k1a" d="M3671 1720h4l2 9h-6z"/><path class="k2b" d="M2679 1729l7-26 5-16 2 17 1 25z"/><path class="k1b" d="M3144 1729l3-10h14l3 10z"/><path class="k1a" d="M3157 1719h4l3 10h-7z"/><path class="k1c" d="M3495 1729l4-6h18l4 6z"/><path class="k3c" d="M3322 1729l3-46h15l3 46z"/><path class="k3a" d="M3336 1683h4l3 46h-7z"/><path class="k1b" d="M2576 1729l2-19h8l2 19z"/><path class="k1a" d="M2584 1710h2l2 19h-4z"/><path class="k1a" d="M3497 1729l3-7h15l4 7z"/><path class="k2c" d="M3560 1729l3-29h15l3 29z"/><path class="k2a" d="M3574 1700h4l3 29h-7z"/><path class="k6c" d="M3350 1729l3-68 3-41 5 44 5 65z"/><path class="k1a" d="M3272 1729l3-8h15l3 8z"/><path class="k1a" d="M3286 1721h4l3 8h-7z"/><path class="k1c" d="M3366 1729l3-18h13l3 18z"/><path class="k1a" d="M3378 1711h4l3 18h-7z"/><path class="k9c" d="M2977 1729l2-97 2-59 8 62 9 94z"/><path class="k2d" d="M2709 1729l6-20 5-13 3 13 2 20z"/><path class="k1d" d="M2593 1729l2-12h7l1 12z"/><path class="k3c" d="M3242 1730l3-54h14l3 54z"/><path class="k3a" d="M3255 1676h4l3 54h-7z"/><path class="k1b" d="M2424 1730l3-25h15l4 25z"/><path class="k1a" d="M2438 1705h4l4 25h-8z"/><path class="k4d" d="M2774 1730l2-49 2-30 8 32 8 47z"/><path class="k1c" d="M3790 1730l3-11h16l4 11z"/><path class="k1a" d="M3804 1719h5l4 11h-9z"/><path class="k4c" d="M3618 1730l7-47 5-29 4 30 4 46z"/><path class="k10c" d="M2830 1730l9-112 7-68 5 72 5 108z"/><path class="k3a" d="M2798 1730l3-57h15l4 57z"/><path class="k3a" d="M2812 1673h4l4 57h-8z"/><path class="k3c" d="M3390 1730l3-50h12l2 50z"/><path class="k3a" d="M3401 1680h4l2 50h-6z"/><path class="k10c" d="M2872 1730l7-112 5-68 6 72 7 108z"/><path class="k1c" d="M3710 1730l2-25h8l1 25z"/><path class="k2a" d="M2897 1730l4-32h18l3 32z"/><path class="k2a" d="M2914 1698h5l3 32h-8z"/><path class="k9c" d="M2831 1731l2-103 1-63 9 66 10 100z"/><path class="k1b" d="M3767 1731l4-10h17l3 10z"/><path class="k1a" d="M3783 1721h5l3 10h-8z"/><path class="k1c" d="M2563 1731l3-9h13l2 9z"/><path class="k1a" d="M2575 1722h4l2 9h-6z"/><path class="k4b" d="M3205 1731l6-48 4-30 4 31 3 47z"/><path class="k2c" d="M3521 1731l2-40h10l3 40z"/><path class="k2a" d="M3530 1691h3l3 40h-6z"/><path class="k6a" d="M3604 1731l4-63 3-39 5 41 5 61z"/><path class="k4b" d="M2949 1731l3-45 3-28 5 29 6 44z"/><path class="k2b" d="M2529 1731l2-28h8l1 28z"/><path class="k1b" d="M3670 1731l4-6h17l3 6z"/><path class="k3b" d="M2928 1731l4-36 3-22 4 23 4 35z"/><path class="k4b" d="M2661 1731l7-50 5-30 4 32 4 48z"/><path class="k5d" d="M3231 1731l2-51 1-31 7 33 8 49z"/><path class="k4a" d="M3354 1731l2-48 2-30 5 31 5 47z"/><path class="k2c" d="M3388 1731l2-38h8l2 38z"/><path class="k2a" d="M3396 1693h2l2 38h-4z"/><path class="k1c" d="M2490 1731l3-26h14l3 26z"/><path class="k1a" d="M2503 1705h4l3 26h-7z"/><path class="k7d" d="M2827 1731l6-80 4-49 3 52 2 77z"/><path class="k1b" d="M2918 1732l2-12h9l2 12z"/><path class="k1a" d="M2926 1720h3l2 12h-5z"/><path class="k3d" d="M3286 1732l6-37 4-23 2 24 2 36z"/><path class="k1d" d="M2539 1732l3-9h15l4 9z"/><path class="k1a" d="M2553 1723h4l4 9h-8z"/><path class="k11a" d="M2948 1732l7-123 5-75 5 79 6 119z"/><path class="k3c" d="M2760 1732l3-35 2-21 5 22 5 34z"/><path class="k9d" d="M2988 1732l8-102 7-62 4 66 3 98z"/><path class="k14c" d="M2978 1732l7-154 5-95 6 100 6 149z"/><path class="k2d" d="M3455 1732l3-28h15l4 28z"/><path class="k2a" d="M3469 1704h4l4 28h-8z"/><path class="k1a" d="M3838 1732l3-12h13l3 12z"/><path class="k1a" d="M3850 1720h4l3 12h-7z"/><path class="k2d" d="M3360 1732l2-39h8l2 39z"/><path class="k2a" d="M3368 1693h2l2 39h-4z"/><path class="k1d" d="M3444 1732l3-26h13l3 26z"/><path class="k1a" d="M3456 1706h4l3 26h-7z"/><path class="k1b" d="M3693 1732l2-7h11l3 7z"/><path class="k6c" d="M2793 1732l4-69 4-42 5 44 4 67z"/><path class="k5c" d="M2775 1732l3-56 3-35 4 36 3 55z"/><path class="k1c" d="M2439 1733l3-11h12l2 11z"/><path class="k1a" d="M2450 1722h4l2 11h-6z"/><path class="k9d" d="M2863 1733l8-98 7-60 3 63 2 95z"/><path class="k1c" d="M2647 1733l3-8h13l2 8z"/><path class="k1a" d="M2659 1725h4l2 8h-6z"/><path class="k7d" d="M2906 1733l6-84 4-51 7 54 7 81z"/><path class="k2b" d="M2806 1733l6-21 4-13 4 14 3 20z"/><path class="k1a" d="M3579 1733l3-15h13l3 15z"/><path class="k1a" d="M3591 1718h4l3 15h-7z"/><path class="k2d" d="M3892 1733l2-30h9l2 30z"/><path class="k2a" d="M3900 1703h3l2 30h-5z"/><path class="k6d" d="M2844 1733l6-73 4-44 6 47 7 70z"/><path class="k2a" d="M3732 1733l3-34h12l2 34z"/><path class="k2a" d="M3743 1699h4l2 34h-6z"/><path class="k1c" d="M2424 1733l2-12h10l2 12z"/><path class="k1a" d="M2433 1721h3l2 12h-5z"/><path class="k1c" d="M2607 1733l3-7h12l2 7z"/><path class="k1b" d="M2666 1734l3-14h15l3 14z"/><path class="k1a" d="M2680 1720h4l3 14h-7z"/><path class="k1c" d="M2924 1734l3-24h12l2 24z"/><path class="k1a" d="M2935 1710h4l2 24h-6z"/><path class="k5c" d="M2757 1734l5-58 4-35 3 37 3 56z"/><path class="k1b" d="M2393 1734l4-12h18l3 12z"/><path class="k1a" d="M2410 1722h5l3 12h-8z"/><path class="k8c" d="M3344 1734l7-93 6-57 4 60 3 90z"/><path class="k4b" d="M3625 1734l6-44 5-27 2 28 2 43z"/><path class="k1a" d="M2630 1734l2-9h9l2 9z"/><path class="k1a" d="M2638 1725h3l2 9h-5z"/><path class="k1d" d="M3169 1734l3-12h13l2 12z"/><path class="k1a" d="M3181 1722h4l2 12h-6z"/><path class="k7b" d="M2690 1734l3-77 2-47 7 50 7 74z"/><path class="k2c" d="M2838 1734l3-33h13l2 33z"/><path class="k2a" d="M2850 1701h4l2 33h-6z"/><path class="k2c" d="M3428 1734l4-40h17l3 40z"/><path class="k2a" d="M3444 1694h5l3 40h-8z"/><path class="k1c" d="M3751 1734l4-7h17l3 7z"/><path class="k1b" d="M3097 1734l3-8h16l4 8z"/><path class="k1a" d="M3111 1726h5l4 8h-9z"/><path class="k8b" d="M2975 1734l7-86 6-53 4 56 3 83z"/><path class="k1d" d="M3728 1734l2-17h9l2 17z"/><path class="k1a" d="M3736 1717h3l2 17h-5z"/><path class="k6a" d="M3010 1734l2-69 2-42 6 44 7 67z"/><path class="k3d" d="M3431 1735l3-37 3-23 3 24 3 36z"/><path class="k1a" d="M3540 1735l3-27h15l3 27z"/><path class="k1a" d="M3554 1708h4l3 27h-7z"/><path class="k5c" d="M2753 1735l3-60 3-36 7 38 8 58z"/><path class="k2a" d="M2755 1735l3-42h13l3 42z"/><path class="k2a" d="M2767 1693h4l3 42h-7z"/><path class="k1d" d="M3826 1735l3-23h13l3 23z"/><path class="k1a" d="M3838 1712h4l3 23h-7z"/><path class="k2d" d="M2648 1735l2-41h8l1 41z"/><path class="k1d" d="M2476 1735l2-20h8l2 20z"/><path class="k1a" d="M2484 1715h2l2 20h-4z"/><path class="k2c" d="M2803 1735l3-32h15l3 32z"/><path class="k2a" d="M2817 1703h4l3 32h-7z"/><path class="k1d" d="M2610 1735l3-12h15l3 12z"/><path class="k1a" d="M2624 1723h4l3 12h-7z"/><path class="k1b" d="M2495 1735l4-15h18l4 15z"/><path class="k1a" d="M2512 1720h5l4 15h-9z"/><path class="k1c" d="M3731 1736l2-10h8l2 10z"/><path class="k1a" d="M3739 1726h2l2 10h-4z"/><path class="k5c" d="M2678 1736l2-54 2-33 9 35 9 52z"/><path class="k8b" d="M2861 1736l3-92 3-56 9 59 10 89z"/><path class="k1c" d="M2859 1736l3-20h13l3 20z"/><path class="k1a" d="M2871 1716h4l3 20h-7z"/><path class="k2a" d="M3756 1736l3-29h14l3 29z"/><path class="k2a" d="M3769 1707h4l3 29h-7z"/><path class="k2c" d="M3014 1736l3-37h16l4 37z"/><path class="k2a" d="M3028 1699h5l4 37h-9z"/><path class="k1a" d="M3185 1736l3-15h13l3 15z"/><path class="k1a" d="M3197 1721h4l3 15h-7z"/><path class="k4c" d="M2936 1736l6-46 4-28 5 30 6 44z"/><path class="k2c" d="M3409 1736l9-23 7-14 2 15 2 22z"/><path class="k1d" d="M3662 1736l3-9h14l3 9z"/><path class="k1a" d="M3675 1727h4l3 9h-7z"/><path class="k12a" d="M2839 1737l7-131 6-80 6 84 7 127z"/><path class="k14c" d="M2975 1737l9-161 8-98 5 104 6 155z"/><path class="k6c" d="M3325 1737l4-66 3-41 5 43 4 64z"/><path class="k1a" d="M3511 1737l4-7h18l4 7z"/><path class="k6b" d="M3010 1737l7-65 5-40 5 42 5 63z"/><path class="k4c" d="M3384 1737l6-50 5-30 3 32 2 48z"/><path class="k1a" d="M3509 1737l2-14h8l1 14z"/><path class="k1c" d="M2520 1737l3-15h13l2 15z"/><path class="k1a" d="M2532 1722h4l2 15h-6z"/><path class="k11b" d="M2969 1737l7-128 6-78 5 82 5 124z"/><path class="k1b" d="M2988 1737l2-13h8l1 13z"/><path class="k9d" d="M2936 1737l8-95 7-59 2 62 2 92z"/><path class="k1c" d="M3566 1737l2-13h7l1 13z"/><path class="k1a" d="M3155 1737l3-9h12l2 9z"/><path class="k1a" d="M3166 1728h4l2 9h-6z"/><path class="k1d" d="M3136 1737l4-12h18l4 12z"/><path class="k1a" d="M3153 1725h5l4 12h-9z"/><path class="k1c" d="M3591 1737l2-15h8l1 15z"/><path class="k2c" d="M3360 1737l2-40h10l2 40z"/><path class="k2a" d="M3369 1697h3l2 40h-5z"/><path class="k1a" d="M2612 1738l3-9h16l4 9z"/><path class="k1a" d="M2626 1729h5l4 9h-9z"/><path class="k1c" d="M2767 1738l4-20h18l3 20z"/><path class="k1a" d="M2784 1718h5l3 20h-8z"/><path class="k1b" d="M2845 1738l3-16h12l2 16z"/><path class="k1a" d="M2856 1722h4l2 16h-6z"/><path class="k4c" d="M3343 1738l4-46 4-28 5 30 5 44z"/><path class="k1b" d="M2370 1738l3-13h14l3 13z"/><path class="k1a" d="M2383 1725h4l3 13h-7z"/><path class="k7c" d="M3350 1738l3-81 2-50 6 52 6 79z"/><path class="k1c" d="M2867 1738l3-9h15l3 9z"/><path class="k1a" d="M2881 1729h4l3 9h-7z"/><path class="k1c" d="M2899 1738l2-8h10l2 8z"/><path class="k1a" d="M2908 1730h3l2 8h-5z"/><path class="k1d" d="M2592 1738l2-7h10l3 7z"/><path class="k1c" d="M3897 1739l4-18h17l3 18z"/><path class="k1a" d="M3913 1721h5l3 18h-8z"/><path class="k6d" d="M3015 1739l6-70 4-43 6 45 6 68z"/><path class="k4b" d="M3625 1739l5-43 4-26 5 28 4 41z"/><path class="k2c" d="M3759 1739l2-27h9l2 27z"/><path class="k2a" d="M3767 1712h3l2 27h-5z"/><path class="k3c" d="M3630 1739l6-36 5-22 3 23 2 35z"/><path class="k1d" d="M3691 1739l3-11h13l3 11z"/><path class="k1a" d="M3703 1728h4l3 11h-7z"/><path class="k7c" d="M2820 1739l5-81 4-49 7 52 8 78z"/><path class="k1b" d="M2440 1739l2-22h10l3 22z"/><path class="k1a" d="M2449 1717h3l3 22h-6z"/><path class="k1a" d="M2629 1739l2-11h8l2 11z"/><path class="k1a" d="M2637 1728h2l2 11h-4z"/><path class="k7b" d="M3427 1739l3-73 3-45 5 47 4 71z"/><path class="k1c" d="M3390 1739l2-13h11l3 13z"/><path class="k1a" d="M3400 1726h3l3 13h-6z"/><path class="k2d" d="M2757 1739l4-27h17l3 27z"/><path class="k2a" d="M2773 1712h5l3 27h-8z"/><path class="k1c" d="M2536 1739l3-6h13l3 6z"/><path class="k2b" d="M3739 1739l3-29h16l4 29z"/><path class="k2a" d="M3753 1710h5l4 29h-9z"/><path class="k5a" d="M2684 1739l5-56 4-34 5 36 4 54z"/><path class="k2c" d="M3642 1739l2-42h8l2 42z"/><path class="k2a" d="M3650 1697h2l2 42h-4z"/><path class="k2b" d="M3512 1739l2-28h8l2 28z"/><path class="k2a" d="M3520 1711h2l2 28h-4z"/><path class="k2c" d="M2718 1739l2-38h8l1 38z"/><path class="k8d" d="M3322 1740l4-94 4-57 4 60 4 91z"/><path class="k5d" d="M3033 1740l4-60 4-36 3 38 3 58z"/><path class="k2c" d="M3202 1740l4-43h18l3 43z"/><path class="k2a" d="M3219 1697h5l3 43h-8z"/><path class="k1d" d="M3828 1740l3-13h16l4 13z"/><path class="k1a" d="M3842 1727h5l4 13h-9z"/><path class="k1b" d="M2420 1740l3-10h13l3 10z"/><path class="k1a" d="M2432 1730h4l3 10h-7z"/><path class="k1c" d="M3881 1740l3-12h12l2 12z"/><path class="k1a" d="M3892 1728h4l2 12h-6z"/><path class="k1a" d="M2479 1740l2-16h10l3 16z"/><path class="k1a" d="M2488 1724h3l3 16h-6z"/><path class="k1b" d="M2365 1740l2-8h8l2 8z"/><path class="k1a" d="M2373 1732h2l2 8h-4z"/><path class="k1c" d="M3590 1740l3-17h15l4 17z"/><path class="k1a" d="M3604 1723h4l4 17h-8z"/><path class="k1c" d="M2603 1740l2-7h8l1 7z"/><path class="k1c" d="M3010 1740l2-8h7l1 8z"/><path class="k1d" d="M2367 1740l2-8h7l1 8z"/><path class="k1a" d="M3319 1741l3-18h12l2 18z"/><path class="k1a" d="M3330 1723h4l2 18h-6z"/><path class="k4c" d="M3534 1741l2-49 1-30 5 32 6 47z"/><path class="k4b" d="M2667 1741l7-43 5-27 4 28 4 42z"/><path class="k1c" d="M2603 1741l3-18h12l2 18z"/><path class="k1a" d="M2614 1723h4l2 18h-6z"/><path class="k6d" d="M3603 1741l8-64 7-40 2 42 2 62z"/><path class="k2b" d="M3736 1741l4-36h17l3 36z"/><path class="k2a" d="M3752 1705h5l3 36h-8z"/><path class="k1c" d="M3078 1741l3-11h16l4 11z"/><path class="k1a" d="M3092 1730h5l4 11h-9z"/><path class="k2b" d="M3332 1741l2-30h7l1 30z"/><path class="k1d" d="M3455 1741l4-21h18l3 21z"/><path class="k1a" d="M3472 1720h5l3 21h-8z"/><path class="k4c" d="M2776 1741l6-43 4-26 4 28 4 41z"/><path class="k1a" d="M3053 1741l4-7h18l3 7z"/><path class="k1c" d="M2408 1741l3-18h15l3 18z"/><path class="k1a" d="M2422 1723h4l3 18h-7z"/><path class="k1c" d="M2839 1741l3-25h12l2 25z"/><path class="k1a" d="M2850 1716h4l2 25h-6z"/><path class="k5b" d="M2756 1742l2-56 1-34 7 36 7 54z"/><path class="k11b" d="M2869 1742l5-119 4-73 6 77 6 115z"/><path class="k1c" d="M3791 1742l3-10h14l3 10z"/><path class="k1a" d="M3804 1732h4l3 10h-7z"/><path class="k1c" d="M3484 1742l4-6h18l3 6z"/><path class="k1b" d="M3270 1742l2-11h8l1 11z"/><path class="k5b" d="M2650 1742l2-54 2-33 9 35 9 52z"/><path class="k1c" d="M2576 1742l2-12h9l2 12z"/><path class="k1a" d="M2584 1730h3l2 12h-5z"/><path class="k7c" d="M2755 1742l6-79 4-48 5 51 6 76z"/><path class="k1c" d="M2489 1742l2-7h7l1 7z"/><path class="k3d" d="M3224 1742l3-32 2-20 4 21 3 31z"/><path class="k16b" d="M2878 1742l6-179 4-110 6 116 7 173z"/><path class="k2c" d="M2416 1743l2-35h8l2 35z"/><path class="k2a" d="M2424 1708h2l2 35h-4z"/><path class="k1c" d="M3458 1743l3-26h12l2 26z"/><path class="k1a" d="M3469 1717h4l2 26h-6z"/><path class="k1a" d="M2660 1743l2-12h7l1 12z"/><path class="k8c" d="M2956 1743l7-87 5-53 5 56 5 84z"/><path class="k1c" d="M2970 1743l3-18h16l4 18z"/><path class="k1a" d="M2984 1725h5l4 18h-9z"/><path class="k1b" d="M2624 1743l4-7h17l3 7z"/><path class="k1b" d="M3659 1743l3-10h12l2 10z"/><path class="k1a" d="M3670 1733h4l2 10h-6z"/><path class="k5b" d="M2770 1743l3-57 2-35 5 37 5 55z"/><path class="k5a" d="M3600 1743l5-55 4-34 5 36 5 53z"/><path class="k1c" d="M2383 1743l4-10h18l4 10z"/><path class="k1a" d="M2400 1733h5l4 10h-9z"/><path class="k2a" d="M3734 1743l3-27h13l3 27z"/><path class="k2a" d="M3746 1716h4l3 27h-7z"/><path class="k2b" d="M2781 1743l3-38h14l3 38z"/><path class="k2a" d="M2794 1705h4l3 38h-7z"/><path class="k1b" d="M3464 1743l3-23h13l2 23z"/><path class="k1a" d="M3476 1720h4l2 23h-6z"/><path class="k1a" d="M2731 1743l2-9h7l1 9z"/><path class="k1c" d="M3716 1743l2-8h8l1 8z"/><path class="k3b" d="M3256 1743l4-54h18l3 54z"/><path class="k3a" d="M3273 1689h5l3 54h-8z"/><path class="k1b" d="M2635 1743l3-8h16l4 8z"/><path class="k1a" d="M2649 1735h5l4 8h-9z"/><path class="k7a" d="M3226 1744l7-78 6-48 4 50 4 76z"/><path class="k1b" d="M3786 1744l3-10h13l3 10z"/><path class="k1a" d="M3798 1734h4l3 10h-7z"/><path class="k6b" d="M2650 1744l6-66 5-40 4 42 4 64z"/><path class="k1c" d="M3522 1744l4-7h18l3 7z"/><path class="k1c" d="M3641 1744l3-21h12l2 21z"/><path class="k1a" d="M3652 1723h4l2 21h-6z"/><path class="k2d" d="M3390 1744l4-42h17l3 42z"/><path class="k2a" d="M3406 1702h5l3 42h-8z"/><path class="k1c" d="M3533 1744l2-14h8l1 14z"/><path class="k1a" d="M3776 1744l2-15h10l3 15z"/><path class="k1a" d="M3785 1729h3l3 15h-6z"/><path class="k4c" d="M2664 1744l4-45 4-27 3 29 2 43z"/><path class="k6c" d="M3338 1744l6-64 5-40 5 42 5 62z"/><path class="k4c" d="M3320 1744l2-48 1-29 9 31 10 46z"/><path class="k1c" d="M3066 1744l2-10h10l3 10z"/><path class="k1a" d="M3075 1734h3l3 10h-6z"/><path class="k1b" d="M2768 1744l2-9h10l2 9z"/><path class="k1a" d="M2777 1735h3l2 9h-5z"/><path class="k1d" d="M2602 1744l4-11h18l3 11z"/><path class="k1a" d="M2619 1733h5l3 11h-8z"/><path class="k1c" d="M3700 1745l2-13h9l2 13z"/><path class="k1a" d="M3708 1732h3l2 13h-5z"/><path class="k1c" d="M3365 1745l2-12h8l1 12z"/><path class="k1d" d="M3835 1745l2-10h10l2 10z"/><path class="k1a" d="M3844 1735h3l2 10h-5z"/><path class="k1b" d="M3651 1745l3-7h14l3 7z"/><path class="k1c" d="M3187 1745l2-7h9l2 7z"/><path class="k1a" d="M2445 1745l3-23h15l4 23z"/><path class="k1a" d="M2459 1722h4l4 23h-8z"/><path class="k7c" d="M3216 1745l4-75 3-46 4 48 4 73z"/><path class="k2c" d="M2456 1745l3-38h13l2 38z"/><path class="k2a" d="M2468 1707h4l2 38h-6z"/><path class="k1b" d="M3352 1746l3-9h16l4 9z"/><path class="k1a" d="M3366 1737h5l4 9h-9z"/><path class="k2c" d="M3331 1746l4-31h17l3 31z"/><path class="k2a" d="M3347 1715h5l3 31h-8z"/><path class="k1d" d="M3879 1746l2-26h8l2 26z"/><path class="k1a" d="M3887 1720h2l2 26h-4z"/><path class="k1c" d="M2737 1746l3-11h15l4 11z"/><path class="k1a" d="M2751 1735h4l4 11h-8z"/><path class="k3a" d="M3266 1746l2-46h10l3 46z"/><path class="k3a" d="M3275 1700h3l3 46h-6z"/><path class="k1d" d="M2397 1746l2-7h11l3 7z"/><path class="k2d" d="M2792 1746l4-25 3-16 5 16 6 25z"/><path class="k5c" d="M3357 1746l5-60 4-36 3 38 3 58z"/><path class="k3d" d="M3338 1746l4-46h17l3 46z"/><path class="k3a" d="M3354 1700h5l3 46h-8z"/><path class="k14b" d="M2902 1746l7-155 5-95 7 100 7 150z"/><path class="k1a" d="M2490 1746l2-8h10l2 8z"/><path class="k1a" d="M2499 1738h3l2 8h-5z"/><path class="k2b" d="M3385 1746l4-41h18l4 41z"/><path class="k2a" d="M3402 1705h5l4 41h-9z"/><path class="k1c" d="M3911 1746l2-15h9l2 15z"/><path class="k1a" d="M3919 1731h3l2 15h-5z"/><path class="k1b" d="M3774 1746l3-10h15l3 10z"/><path class="k1a" d="M3788 1736h4l3 10h-7z"/><path class="k2c" d="M3221 1746l6-26 5-16 5 17 4 25z"/><path class="k1b" d="M3168 1747l2-8h9l2 8z"/><path class="k1a" d="M3176 1739h3l2 8h-5z"/><path class="k3c" d="M2941 1747l4-49h18l4 49z"/><path class="k3a" d="M2958 1698h5l4 49h-9z"/><path class="k1d" d="M3159 1747l2-7h10l3 7z"/><path class="k7d" d="M3318 1747l2-82 1-51 6 53 6 80z"/><path class="k1d" d="M2436 1747l3-21h15l3 21z"/><path class="k1a" d="M2450 1726h4l3 21h-7z"/><path class="k1b" d="M2495 1747l2-9h11l3 9z"/><path class="k1a" d="M2505 1738h3l3 9h-6z"/><path class="k10c" d="M2997 1747l5-107 4-66 8 69 8 104z"/><path class="k2d" d="M2772 1747l3-27 2-17 4 18 3 26z"/><path class="k1d" d="M3473 1747l3-20h16l4 20z"/><path class="k1a" d="M3487 1727h5l4 20h-9z"/><path class="k4b" d="M2869 1747l3-46 3-28 5 30 4 44z"/><path class="k15b" d="M2960 1747l8-167 6-102 7 108 7 161z"/><path class="k1b" d="M3506 1747l3-14h12l2 14z"/><path class="k1a" d="M3517 1733h4l2 14h-6z"/><path class="k2d" d="M2688 1747l3-42h14l3 42z"/><path class="k2a" d="M2701 1705h4l3 42h-7z"/><path class="k2d" d="M2769 1747l2-30h8l2 30z"/><path class="k2a" d="M2777 1717h2l2 30h-4z"/><path class="k5b" d="M3257 1747l2-50 2-31 5 32 6 49z"/><path class="k2c" d="M2759 1748l6-17 4-10 2 11 1 16z"/><path class="k16b" d="M2903 1748l7-178 5-109 6 115 7 172z"/><path class="k2c" d="M3608 1748l3-37h12l2 37z"/><path class="k2a" d="M3619 1711h4l2 37h-6z"/><path class="k5b" d="M3244 1748l3-51 2-32 5 33 6 50z"/><path class="k3c" d="M3004 1748l3-51h12l2 51z"/><path class="k3a" d="M3015 1697h4l2 51h-6z"/><path class="k1b" d="M3496 1748l3-24h13l2 24z"/><path class="k1a" d="M3508 1724h4l2 24h-6z"/><path class="k4b" d="M2815 1748l3-48 2-30 4 31 4 47z"/><path class="k6a" d="M2806 1748l2-63 2-38 5 40 6 61z"/><path class="k7b" d="M2702 1748l2-74 2-45 5 48 5 71z"/><path class="k2a" d="M3443 1748l4-28h18l4 28z"/><path class="k2a" d="M3460 1720h5l4 28h-9z"/><path class="k1c" d="M3349 1748l3-8h16l4 8z"/><path class="k1a" d="M3363 1740h5l4 8h-9z"/><path class="k1b" d="M3147 1748l4-8h17l3 8z"/><path class="k1a" d="M3163 1740h5l3 8h-8z"/><path class="k1b" d="M2554 1748l4-13h18l3 13z"/><path class="k1a" d="M2571 1735h5l3 13h-8z"/><path class="k1b" d="M2528 1748l2-9h9l2 9z"/><path class="k1a" d="M2536 1739h3l2 9h-5z"/><path class="k12b" d="M2977 1749l5-129 4-79 5 83 6 125z"/><path class="k1c" d="M2410 1749l4-17h17l3 17z"/><path class="k1a" d="M2426 1732h5l3 17h-8z"/><path class="k2a" d="M3607 1749l8-21 6-13 3 14 2 20z"/><path class="k1c" d="M3741 1749l3-9h13l3 9z"/><path class="k1a" d="M3753 1740h4l3 9h-7z"/><path class="k6d" d="M3335 1749l7-63 5-38 4 40 3 61z"/><path class="k2b" d="M3351 1750l3-30h15l3 30z"/><path class="k2a" d="M3365 1720h4l3 30h-7z"/><path class="k1b" d="M2728 1750l2-23h9l2 23z"/><path class="k1a" d="M2736 1727h3l2 23h-5z"/><path class="k15a" d="M2890 1750l10-166 9-102 4 107 3 161z"/><path class="k2b" d="M3478 1750l3-27h12l2 27z"/><path class="k2a" d="M3489 1723h4l2 27h-6z"/><path class="k2a" d="M3317 1750l3-39h15l3 39z"/><path class="k2a" d="M3331 1711h4l3 39h-7z"/><path class="k3b" d="M2939 1750l3-55h13l3 55z"/><path class="k3a" d="M2951 1695h4l3 55h-7z"/><path class="k2c" d="M3523 1751l2-29h8l2 29z"/><path class="k2a" d="M3531 1722h2l2 29h-4z"/><path class="k2c" d="M3719 1751l2-43h11l3 43z"/><path class="k2a" d="M3729 1708h3l3 43h-6z"/><path class="k2c" d="M2588 1751l2-29h10l3 29z"/><path class="k2a" d="M2597 1722h3l3 29h-6z"/><path class="k1c" d="M2392 1751l4-9h18l3 9z"/><path class="k1a" d="M2409 1742h5l3 9h-8z"/><path class="k7a" d="M3023 1751l6-81 4-50 5 52 5 79z"/><path class="k10a" d="M2910 1751l5-107 4-65 7 69 8 103z"/><path class="k1c" d="M2733 1751l3-9h14l3 9z"/><path class="k1a" d="M2746 1742h4l3 9h-7z"/><path class="k10b" d="M2909 1751l2-110 2-67 10 71 10 106z"/><path class="k2d" d="M2975 1751l4-41h17l3 41z"/><path class="k2a" d="M2991 1710h5l3 41h-8z"/><path class="k1d" d="M3687 1751l2-12h8l2 12z"/><path class="k1a" d="M3695 1739h2l2 12h-4z"/><path class="k1d" d="M3438 1751l2-22h8l2 22z"/><path class="k1a" d="M3446 1729h2l2 22h-4z"/><path class="k1b" d="M2470 1751l3-15h16l4 15z"/><path class="k1a" d="M2484 1736h5l4 15h-9z"/><path class="k6c" d="M2665 1751l4-71 3-44 8 46 8 69z"/><path class="k1a" d="M3499 1752l2-11h10l2 11z"/><path class="k1a" d="M3508 1741h3l2 11h-5z"/><path class="k1c" d="M3588 1752l2-19h10l3 19z"/><path class="k1a" d="M3597 1733h3l3 19h-6z"/><path class="k8a" d="M2845 1752l8-86 6-52 4 55 4 83z"/><path class="k1b" d="M3122 1752l3-10h12l2 10z"/><path class="k1a" d="M3133 1742h4l2 10h-6z"/><path class="k6b" d="M2822 1752l5-64 4-40 3 42 2 62z"/><path class="k1b" d="M2814 1752l4-13h17l3 13z"/><path class="k1a" d="M2830 1739h5l3 13h-8z"/><path class="k3b" d="M3530 1752l2-45h8l1 45z"/><path class="k1c" d="M2830 1752l2-18h10l3 18z"/><path class="k1a" d="M2839 1734h3l3 18h-6z"/><path class="k1d" d="M3282 1752l2-14h7l1 14z"/><path class="k1c" d="M3145 1752l4-7h17l3 7z"/><path class="k1b" d="M3258 1752l3-11h13l3 11z"/><path class="k1a" d="M3270 1741h4l3 11h-7z"/><path class="k5c" d="M3417 1753l6-57 5-35 3 37 3 55z"/><path class="k1c" d="M2878 1753l2-9h10l3 9z"/><path class="k1a" d="M2887 1744h3l3 9h-6z"/><path class="k2d" d="M3558 1753l3-29h13l2 29z"/><path class="k2a" d="M3570 1724h4l2 29h-6z"/><path class="k7c" d="M2753 1753l2-81 2-50 8 52 9 79z"/><path class="k1c" d="M3144 1753l3-12h13l3 12z"/><path class="k1a" d="M3156 1741h4l3 12h-7z"/><path class="k5c" d="M2675 1753l2-61 2-37 5 39 5 59z"/><path class="k1a" d="M2441 1753l4-7h18l3 7z"/><path class="k1c" d="M2979 1753l2-10h11l3 10z"/><path class="k1a" d="M2989 1743h3l3 10h-6z"/><path class="k1a" d="M3187 1753l4-10h17l3 10z"/><path class="k1a" d="M3203 1743h5l3 10h-8z"/><path class="k4d" d="M3021 1753l2-49 2-30 6 32 7 47z"/><path class="k3c" d="M2788 1754l2-46h8l2 46z"/><path class="k3a" d="M2796 1708h2l2 46h-4z"/><path class="k1a" d="M3195 1754l3-21h14l3 21z"/><path class="k1a" d="M3208 1733h4l3 21h-7z"/><path class="k6d" d="M2790 1754l8-68 6-41 4 44 3 65z"/><path class="k2d" d="M2822 1754l3-42h12l2 42z"/><path class="k2a" d="M2833 1712h4l2 42h-6z"/><path class="k1a" d="M3467 1754l2-13h10l3 13z"/><path class="k1a" d="M3476 1741h3l3 13h-6z"/><path class="k1c" d="M2599 1754l3-10h12l2 10z"/><path class="k1a" d="M2610 1744h4l2 10h-6z"/><path class="k5c" d="M2701 1754l7-55 6-34 2 36 1 53z"/><path class="k2c" d="M3920 1755l4-33h18l3 33z"/><path class="k2a" d="M3937 1722h5l3 33h-8z"/><path class="k2a" d="M2413 1755l3-27h13l2 27z"/><path class="k2a" d="M2425 1728h4l2 27h-6z"/><path class="k1b" d="M2873 1755l3-8h13l3 8z"/><path class="k1a" d="M2885 1747h4l3 8h-7z"/><path class="k2b" d="M2874 1755l3-34h13l3 34z"/><path class="k2a" d="M2886 1721h4l3 34h-7z"/><path class="k1b" d="M3736 1755l4-8h18l3 8z"/><path class="k1a" d="M3753 1747h5l3 8h-8z"/><path class="k1b" d="M2990 1755l3-16h15l3 16z"/><path class="k1a" d="M3004 1739h4l3 16h-7z"/><path class="k1c" d="M2973 1755l3-19h16l4 19z"/><path class="k1a" d="M2987 1736h5l4 19h-9z"/><path class="k2c" d="M3019 1755l2-31h10l3 31z"/><path class="k2a" d="M3028 1724h3l3 31h-6z"/><path class="k1d" d="M3611 1755l2-16h11l3 16z"/><path class="k1a" d="M3621 1739h3l3 16h-6z"/><path class="k14a" d="M2885 1755l8-153 6-94 7 99 8 148z"/><path class="k1c" d="M3224 1756l2-10h8l1 10z"/><path class="k2b" d="M2347 1756l4-30h17l3 30z"/><path class="k2a" d="M2363 1726h5l3 30h-8z"/><path class="k2b" d="M2957 1756l2-35h8l2 35z"/><path class="k2a" d="M2965 1721h2l2 35h-4z"/><path class="k3c" d="M2884 1756l3-48h13l3 48z"/><path class="k3a" d="M2896 1708h4l3 48h-7z"/><path class="k1c" d="M3294 1756l2-18h8l1 18z"/><path class="k2c" d="M3000 1756l3-29h15l4 29z"/><path class="k2a" d="M3014 1727h4l4 29h-8z"/><path class="k1b" d="M2425 1756l2-22h8l1 22z"/><path class="k1d" d="M3911 1756l3-18h13l3 18z"/><path class="k1a" d="M3923 1738h4l3 18h-7z"/><path class="k1d" d="M3039 1756l3-8h15l3 8z"/><path class="k1a" d="M3053 1748h4l3 8h-7z"/><path class="k1b" d="M2974 1757l3-23h12l2 23z"/><path class="k1a" d="M2985 1734h4l2 23h-6z"/><path class="k1a" d="M3145 1757l3-15h15l3 15z"/><path class="k1a" d="M3159 1742h4l3 15h-7z"/><path class="k1a" d="M3788 1757l3-10h14l3 10z"/><path class="k1a" d="M3801 1747h4l3 10h-7z"/></g>
<line x1="1168" y1="734" x2="1982.3" y2="734" stroke="#222" stroke-width="1.3" />
<line x1="1168" y1="734" x2="1173.2" y2="879.5" stroke="#666" stroke-width="1" />
<line x1="1982.3" y1="734" x2="1977" y2="879.5" stroke="#666" stroke-width="1" />
<line x1="1173.2" y1="879.7" x2="1977" y2="879.7" stroke="#555" stroke-width="1" />
<text x="1123" y="893.3" font-size="19.8" font-style="italic" textLength="80.5" lengthAdjust="spacingAndGlyphs" transform="rotate(-70.4 1123 893.3)" stroke="#000" stroke-width=".3">Promoter</text>
<text x="1291.5" y="913.2" font-size="19" textLength="87.5" lengthAdjust="spacingAndGlyphs" stroke="#000" stroke-width=".3">100 bases</text>
<path d="M1387.8 901.6V912.6M1387.8 907.1H1472.4M1472.4 901.6V912.6" fill="none" stroke="#555" stroke-width="1.1" />
<text x="1555.5" y="912.6" font-size="20.5" textLength="90.5" lengthAdjust="spacingAndGlyphs" stroke="#000" stroke-width="0.75">Enhancer</text>
<text x="7" y="1071.4" font-size="31" font-weight="bold">d</text>
<text x="628" y="1051.2" font-size="20.5" textLength="50.5" lengthAdjust="spacingAndGlyphs" stroke="#000" stroke-width=".3">50 kb</text>
<path d="M692.7 1038V1054.3M692.7 1045.2H1516.9M1516.9 1038V1054.3" fill="none" stroke="#000" stroke-width="1.9" />
<text x="1540" y="1051.2" font-size="20.5" textLength="46" lengthAdjust="spacingAndGlyphs" stroke="#000" stroke-width=".3">mm9</text>
<line x1="119" y1="1079.7" x2="158" y2="1079.7" stroke="#6a68b4" stroke-width="1.8" />
<path d="M124.7 1074.5L119.3 1079.7L124.7 1084.9M137.2 1074.5L131.8 1079.7L137.2 1084.9M149.7 1074.5L144.3 1079.7L149.7 1084.9M162.2 1074.5L156.8 1079.7L162.2 1084.9" fill="none" stroke="#6a68b4" stroke-width="1.6" />
<rect x="157" y="1071.4" width="7.3" height="16.4" fill="#514fa6" />
<text x="183.5" y="1088.8" font-size="20.5" fill="#4d4b9b" textLength="148" lengthAdjust="spacingAndGlyphs" stroke="#4d4b9b" stroke-width=".3">8030462N17Rik</text>
<text x="944" y="1088.8" font-size="20.5" fill="#4d4b9b" textLength="58" lengthAdjust="spacingAndGlyphs" stroke="#4d4b9b" stroke-width=".3">Haus1</text>
<line x1="1021" y1="1079.7" x2="1219.5" y2="1079.7" stroke="#6664b0" stroke-width="1.9" />
<path d="M1029.8 1074.3L1024.6 1079.7L1029.8 1085.1M1044.7 1074.3L1039.5 1079.7L1044.7 1085.1M1059.6 1074.3L1054.4 1079.7L1059.6 1085.1M1074.5 1074.3L1069.3 1079.7L1074.5 1085.1M1089.4 1074.3L1084.2 1079.7L1089.4 1085.1M1104.3 1074.3L1099.1 1079.7L1104.3 1085.1M1119.2 1074.3L1114.0 1079.7L1119.2 1085.1M1134.1 1074.3L1128.9 1079.7L1134.1 1085.1M1149.0 1074.3L1143.8 1079.7L1149.0 1085.1M1163.9 1074.3L1158.7 1079.7L1163.9 1085.1M1178.8 1074.3L1173.6 1079.7L1178.8 1085.1M1193.7 1074.3L1188.5 1079.7L1193.7 1085.1M1208.6 1074.3L1203.4 1079.7L1208.6 1085.1" fill="none" stroke="#706eb8" stroke-width="1.6" />
<line x1="1021.4" y1="1065.7" x2="1021.4" y2="1093.2" stroke="#4f4da2" stroke-width="3" />
<line x1="1037" y1="1065.7" x2="1037" y2="1093.2" stroke="#4f4da2" stroke-width="1.9" />
<line x1="1057.6" y1="1065.7" x2="1057.6" y2="1093.2" stroke="#4f4da2" stroke-width="1.9" />
<line x1="1077.9" y1="1065.7" x2="1077.9" y2="1093.2" stroke="#4f4da2" stroke-width="1.9" />
<line x1="1086.2" y1="1065.7" x2="1086.2" y2="1093.2" stroke="#4f4da2" stroke-width="3.8" />
<line x1="1108" y1="1065.7" x2="1108" y2="1093.2" stroke="#4f4da2" stroke-width="1.9" />
<line x1="1148.4" y1="1065.7" x2="1148.4" y2="1093.2" stroke="#4f4da2" stroke-width="1.9" />
<line x1="1202.9" y1="1065.7" x2="1202.9" y2="1093.2" stroke="#4f4da2" stroke-width="3.6" />
<line x1="1219.1" y1="1065.7" x2="1219.1" y2="1093.2" stroke="#4f4da2" stroke-width="2" />
<text x="1265" y="1088.6" font-size="20.5" fill="#d2232a" textLength="63.5" lengthAdjust="spacingAndGlyphs" stroke="#d2232a" stroke-width=".3">Atp5a1</text>
<line x1="1340" y1="1079.7" x2="1510" y2="1079.7" stroke="#2a2a6c" stroke-width="1.9" />
<path d="M1348.0 1074.3L1353.2 1079.7L1348.0 1085.1M1363.8 1074.3L1369.0 1079.7L1363.8 1085.1M1379.8 1074.3L1385.0 1079.7L1379.8 1085.1M1394.8 1074.3L1400.0 1079.7L1394.8 1085.1M1467.0 1074.3L1472.2 1079.7L1467.0 1085.1M1497.8 1074.3L1503.0 1079.7L1497.8 1085.1" fill="none" stroke="#7674b8" stroke-width="1.6" />
<rect x="1338.7" y="1071.6" width="5" height="16" fill="#23235f" />
<rect x="1507.3" y="1071.6" width="9.6" height="16" fill="#23235f" />
<line x1="1344.6" y1="1065.7" x2="1344.6" y2="1093.2" stroke="#23235f" stroke-width="1.8" />
<line x1="1378" y1="1065.7" x2="1378" y2="1093.2" stroke="#23235f" stroke-width="1.9" />
<line x1="1412.3" y1="1065.7" x2="1412.3" y2="1093.2" stroke="#23235f" stroke-width="4" />
<line x1="1431" y1="1065.7" x2="1431" y2="1093.2" stroke="#23235f" stroke-width="3" />
<line x1="1436.6" y1="1065.7" x2="1436.6" y2="1093.2" stroke="#23235f" stroke-width="3.5" />
<line x1="1442.9" y1="1065.7" x2="1442.9" y2="1093.2" stroke="#23235f" stroke-width="1.7" />
<line x1="1458.3" y1="1065.7" x2="1458.3" y2="1093.2" stroke="#23235f" stroke-width="1.8" />
<line x1="1463.4" y1="1065.7" x2="1463.4" y2="1093.2" stroke="#23235f" stroke-width="5.2" />
<line x1="1480.2" y1="1065.7" x2="1480.2" y2="1093.2" stroke="#23235f" stroke-width="1.8" />
<line x1="1484.7" y1="1065.7" x2="1484.7" y2="1093.2" stroke="#23235f" stroke-width="3.4" />
<line x1="1497" y1="1065.7" x2="1497" y2="1093.2" stroke="#23235f" stroke-width="1.8" />
<line x1="1506.3" y1="1065.7" x2="1506.3" y2="1093.2" stroke="#23235f" stroke-width="1.8" />
<text x="1661" y="1087.2" font-size="20.5" fill="#23235f" textLength="68.5" lengthAdjust="spacingAndGlyphs" stroke="#23235f" stroke-width=".3">Pstpip2</text>
<line x1="1749.3" y1="1078.2" x2="2091" y2="1078.2" stroke="#3e3c86" stroke-width="1.8" />
<path d="M1751.0 1073.0L1756.0 1078.2L1751.0 1083.4M1765.9 1073.0L1770.9 1078.2L1765.9 1083.4M1780.8 1073.0L1785.8 1078.2L1780.8 1083.4M1795.7 1073.0L1800.7 1078.2L1795.7 1083.4M1810.6 1073.0L1815.6 1078.2L1810.6 1083.4M1825.5 1073.0L1830.5 1078.2L1825.5 1083.4M1840.4 1073.0L1845.4 1078.2L1840.4 1083.4M1855.3 1073.0L1860.3 1078.2L1855.3 1083.4M1870.2 1073.0L1875.2 1078.2L1870.2 1083.4M1885.1 1073.0L1890.1 1078.2L1885.1 1083.4M1900.0 1073.0L1905.0 1078.2L1900.0 1083.4M1914.9 1073.0L1919.9 1078.2L1914.9 1083.4M1929.8 1073.0L1934.8 1078.2L1929.8 1083.4M1944.7 1073.0L1949.7 1078.2L1944.7 1083.4M1959.6 1073.0L1964.6 1078.2L1959.6 1083.4M1974.5 1073.0L1979.5 1078.2L1974.5 1083.4M1989.4 1073.0L1994.4 1078.2L1989.4 1083.4M2004.3 1073.0L2009.3 1078.2L2004.3 1083.4M2019.2 1073.0L2024.2 1078.2L2019.2 1083.4M2034.1 1073.0L2039.1 1078.2L2034.1 1083.4M2049.0 1073.0L2054.0 1078.2L2049.0 1083.4M2063.9 1073.0L2068.9 1078.2L2063.9 1083.4M2078.8 1073.0L2083.8 1078.2L2078.8 1083.4" fill="none" stroke="#5e5ca6" stroke-width="1.6" />
<line x1="1749.3" y1="1064.6" x2="1749.3" y2="1091.8" stroke="#23235f" stroke-width="2.8" />
<polygon points="160.6,1105.2 170.6,1105.2 165.6,1118.8" fill="#3fa8be" />
<polygon points="1216.5,1105.2 1226.5,1105.2 1221.5,1118.8" fill="#3fa8be" />
<polygon points="1341.2,1105.2 1351.2,1105.2 1346.2,1118.8" fill="#3fa8be" />
<polygon points="524.9,1105.2 534.9,1105.2 529.9,1118.8" fill="#27a13c" />
<polygon points="1987.0,1105.2 1997.0,1105.2 1992.0,1118.8" fill="#27a13c" />
<text x="52" y="1138" font-size="20.5" textLength="51.5" lengthAdjust="spacingAndGlyphs" stroke="#000" stroke-width=".3">500 <tspan dy="-.8" stroke-width=".1">_</tspan></text>
<text x="79.5" y="1375" font-size="20.5" textLength="28" lengthAdjust="spacingAndGlyphs" stroke="#000" stroke-width=".3">0 <tspan dy="-.8" stroke-width=".1">_</tspan></text>
<rect x="225" y="1179" width="34.8" height="22.6" fill="#c9212b" />
<rect x="225" y="1220" width="34.8" height="23" fill="#2eafd3" />
<text x="274.5" y="1197.8" font-size="20.5" textLength="75.5" lengthAdjust="spacingAndGlyphs" stroke="#000" stroke-width=".3">Erythoid</text>
<text x="274.5" y="1239.4" font-size="20.5" textLength="27" lengthAdjust="spacingAndGlyphs" stroke="#000" stroke-width=".3">ES</text>
<path d="M118.8 1375.2v-2.5h6v-1h3v1h1.5v-0.5h1.5v-1h1.5v-0.5h1.5v1.5h1.5v-0.5h1.5v-1h1.5v-0.5h1.5v1h1.5v-1h1.5v-0.5h1.5v-0.5h1.5v-2h1.5v-1h1.5v-1.5h1.5v-1.5h1.5v-3h1.5v-2h1.5v3.5h1.5v-1.5h1.5v0.5h1.5v-4h1.5v-11h1.5v-11h1.5v-9h1.5v-15.5h1.5v6h1.5v21.5h1.5v14h1.5v6h1.5v-1h1.5v-1h1.5v-5.5h1.5v9.5h1.5v5.5h1.5v2h1.5v3.5h1.5v0.5h1.5v-0.5h3v-0.5h3v1h1.5v0.5h1.5v-0.5h3v1h6v-0.5h3v0.5h3v-0.5h3v0.5h3v1h3v-1.5h6v1h3v-1h3v0.5h3v-0.5h1.5v-0.5h1.5v1h1.5v-0.5h1.5v-1.5h3v0.5h3v0.5h3v-1.5h3v0.5h1.5v0.5h3v0.5h1.5v1h3v-1.5h1.5v-0.5h1.5v0.5h1.5v-0.5h1.5v-1h1.5v-0.5h1.5v1.5h1.5v-0.5h1.5v-1.5h1.5v-0.5h1.5v-1.5h3v-1h3v3.5h1.5v-1h1.5v-7h1.5v0.5h1.5v4h1.5v1h1.5v1h1.5v2h1.5v1.5h3v0.5h3v0.5h3v-0.5h3v-1h3v0.5h3v-2.5h1.5v-1.5h1.5v-1h6v2.5h3v-0.5h3v-1h1.5v1.5h1.5v3h1.5v0.5h1.5v-1.5h6v1.5h3v-1.5h6v1.5h3v-1.5h3v-0.5h1.5v-1h1.5v0.5h3v-2h3v2h3v-0.5h1.5v1h1.5v2.5h6v-1h3v0.5h6v1h6v-0.5h3v-1h3v0.5h3v0.5h3v0.5h3v-0.5h3v-0.5h6v-0.5h6v1h3v-1h3v1h3v-1h3v1.5h1.5v-0.5h1.5v-1h1.5v-0.5h1.5v1h3v-1.5h3v2h3v-2h3v1h6v-0.5h3v1.5h3v-0.5h1.5v0.5h1.5v-1.5h3v0.5h6v-0.5h3v1h3v-0.5h3v0.5h9v-0.5h3v1h6v0.5h3v-1h3v0.5h3v-1h3v1.5h3v-1h3v-0.5h3v-0.5h1.5v-0.5h1.5v0.5h1.5v-0.5h3v-1h1.5v-2h1.5v-1.5h1.5v-2h1.5v1h1.5v2.5h1.5v1h1.5v-1h1.5v1.5h1.5v1h1.5v0.5h1.5v1.5h6v-1.5h3v1.5h15v1.5h3v-0.5h3v-1h9v0.5h3v-1h3v1.5h3v-1.5h3v1.5h3v-0.5h6v-0.5h6v1h3v-0.5h3v-1h3v1h1.5v-0.5h1.5v-1.5h1.5v-1h1.5v1h1.5v-0.5h1.5v-2h3v1h3v0.5h3v1h1.5v1h3v0.5h4.5v-0.5h3v0.5h9v0.5h3v-0.5h3v-0.5h3v1.5h3v-0.5h3v-1h3v0.5h6v-0.5h3v1.5h3v-0.5h3v0.5h3v-1.5h3v0.5h9v-0.5h3v0.5h4.5v-0.5h1.5v-2h3v2.5h3v-2h1.5v-0.5h1.5v1h1.5v-0.5h1.5v-0.5h1.5v-0.5h1.5v-0.5h3v1h1.5v0.5h3v0.5h3v-1.5h1.5v-0.5h1.5v-1h1.5v-3h1.5v-1.5h1.5v3h1.5v2h1.5v-1.5h1.5v1h1.5v4.5h3v-1.5h3v-1.5h3v1.5h1.5v0.5h1.5v-1h1.5v1h1.5v1.5h3v-1h3v0.5h3v1h3v-1.5h3v1.5h3v-1.5h3v1h3v-1h3v0.5h3v-0.5h3v0.5h3v-0.5h3v1h1.5v-0.5h1.5v-0.5h12v1h3v-1h6v0.5h3v-0.5h3v1.5h3v-2h3v0.5h6v0.5h3v-1h9v-0.5h3v2h3v-1.5h6v0.5h3v1h6v-1.5h3v1.5h3v-1.5h3v-0.5h3v1h3v1h4.5v-0.5h4.5v-1h3v-1h3v2h3v-2h3v2h3v-1h3v-1h3v1.5h6v-1.5h3v1.5h3v-0.5h3v-1h3v-0.5h9v-0.5h3v1.5h3v-0.5h1.5v-0.5h1.5v1h3v0.5h1.5v-0.5h1.5v-1h1.5v-0.5h4.5v-4h1.5v-0.5h3v-0.5h3v0.5h1.5v-2h1.5v0.5h1.5v1h1.5v2h1.5v4.5h1.5v-0.5h1.5v-3h1.5v-1.5h4.5v2.5h3v-1.5h1.5v1h1.5v2h3v-1h1.5v-0.5h1.5v-0.5h1.5v-0.5h1.5v1h1.5v-0.5h1.5v-0.5h1.5v-1h1.5v1h1.5v-1h1.5v-1h3v-5h3v4h4.5v1.5h1.5v-0.5h1.5v-1.5h1.5v-1h1.5v1h1.5v4.5h1.5v1.5h1.5v-0.5h3v-1h3v2.5h3v0.5h3v-1.5h3v1h3v-3h3v1h1.5v-0.5h1.5v-0.5h1.5v-0.5h1.5v-1.5h3v1h1.5v-1h1.5v-3.5h1.5v-0.5h1.5v3.5h3v2.5h1.5v-0.5h1.5v-0.5h3v-15.5h1.5v-8h1.5v14h1.5v11h1.5v-1h3v-4h3v4h1.5v0.5h1.5v1h3v0.5h3v-4h3v4h3v-1.5h1.5v-0.5h1.5v1h3v-1h3v0.5h3v-3.5h3v-1h3v2.5h3v3h3v-4h3v1.5h3v-1h1.5v0.5h1.5v-1.5h3v3.5h3v-0.5h3v-2h1.5v0.5h1.5v3.5h3v-2h3v1.5h1.5v1h1.5v-1.5h1.5v-1.5h1.5v-3h1.5v-1h3v4.5h1.5v-1h1.5v-0.5h4.5v-1h1.5v-1.5h1.5v-8h1.5v-4.5h1.5v2.5h3v0.5h1.5v2.5h4.5v-2.5h1.5v-3.5h1.5v-0.5h1.5v-2.5h1.5v-2h1.5v0.5h1.5v-12h1.5v-26.5h1.5v-27.5h1.5v-20.5h1.5v-9h1.5v-4h1.5v-34.5h1.5v-73h3v138h1.5v57h1.5v15h1.5v2h1.5v-2.5h1.5v-2h1.5v1.5h1.5v4.5h1.5v4h4.5v-1h1.5v1.5h1.5v2h1.5v-3.5h1.5v-1.5h1.5v-4.5h1.5v-2.5h1.5v2.5h1.5v2h1.5v-1h1.5v1h1.5v-2.5h1.5v-1.5h1.5v5.5h1.5v3.5h1.5v-5.5h1.5v-4.5h1.5v-0.5h1.5v-2.5h1.5v0.5h1.5v-3h1.5v-17h1.5v-12h1.5v-42.5h1.5v-3.5h1.5v-3.5h1.5v-4h1.5v22.5h1.5v23.5h1.5v17h1.5v-19h1.5v-69.5h1.5v-36h1.5v-32h1.5v-26h7.5v179h1.5v3.5h1.5v23.5h1.5v-28h1.5v-15.5h1.5v-5h1.5v6h1.5v11h1.5v6.5h1.5v5h1.5v-11h1.5v-8.5h1.5v-6.5h1.5v-14h1.5v-7.5h1.5v-3h1.5v-12.5h1.5v-34h1.5v6.5h1.5v3h1.5v-0.5h1.5v-10h1.5v-32h1.5v-56h24v25.5h1.5v75.5h1.5v56.5h1.5v-10.5h1.5v-20.5h1.5v-2h1.5v-1h1.5v0.5h1.5v-8h1.5v-25h1.5v-3h1.5v-2h1.5v14.5h1.5v23.5h1.5v34.5h1.5v8.5h1.5v6h1.5v1.5h1.5v-1.5h3v7h1.5v-25h1.5v-3.5h1.5v-49h1.5v-47.5h1.5v5.5h1.5v81h1.5v63h1.5v6.5h1.5v0.5h1.5v3h1.5v-9h1.5v-8.5h1.5v-11h1.5v-2h1.5v10.5h1.5v-1.5h1.5v3.5h1.5v13h1.5v3h1.5v1.5h1.5v2h1.5v-4.5h1.5v-7h1.5v-7.5h1.5v-4.5h1.5v-3h1.5v6h1.5v3h1.5v-0.5h1.5v0.5h1.5v2h1.5v4.5h1.5v1h1.5v3h1.5v0.5h1.5v-0.5h1.5v1h1.5v-2.5h1.5v2.5h1.5v-3h1.5v-0.5h1.5v1h1.5v-2h1.5v1.5h1.5v-0.5h1.5v-2h1.5v-1.5h3v-2h1.5v2.5h1.5v2.5h1.5v3h1.5v5h1.5v2.5h1.5v3h1.5v-3.5h1.5v-2h1.5v1.5h1.5v1h1.5v-5.5h1.5v2.5h1.5v9.5h3v-8h1.5v-0.5h1.5v-1.5h1.5v-1h1.5v8h3v-4.5h3v5h1.5v0.5h1.5v-1.5h1.5v1.5h1.5v3h1.5v-0.5h3v-1h1.5v-7.5h1.5v-1.5h1.5v4h1.5v1h1.5v1.5h1.5v1h1.5v-4h3v2.5h1.5v-0.5h1.5v2h1.5v-0.5h1.5v-5h1.5v1.5h1.5v4.5h1.5v1h1.5v4h1.5v-0.5h1.5v-5.5h1.5v-1h1.5v6h1.5v-0.5h1.5v-3.5h1.5v1h1.5v4h1.5v0.5h1.5v-3.5h1.5v1h1.5v5.5h1.5v-0.5h1.5v-4h3v1.5h3v-2h1.5v0.5h1.5v2.5h1.5v0.5h1.5v-2.5h1.5v1h1.5v0.5h4.5v-0.5h1.5v2h1.5v-0.5h1.5v1h4.5v0.5h1.5v-3.5h4.5v0.5h1.5v0.5h1.5v-3.5h1.5v0.5h1.5v-4h1.5v-16h1.5v2.5h1.5v6.5h1.5v5h1.5v8h1.5v1h1.5v-1h1.5v-0.5h1.5v0.5h1.5v-0.5h1.5v-3.5h1.5v-0.5h1.5v1.5h3v-3.5h1.5v-0.5h1.5v1.5h3v1h3v-2h3v6h1.5v1h1.5v-1h1.5v1.5h1.5v1h1.5v-1h1.5v-2.5h1.5v-1h1.5v-1h1.5v-1h1.5v2.5h1.5v-1h1.5v-8.5h1.5v-1h1.5v7h1.5v-2h1.5v-3h1.5v-2.5h1.5v-10.5h1.5v2h1.5v7.5h1.5v-1.5h1.5v-3h1.5v1.5h1.5v8h1.5v3.5h1.5v-1.5h1.5v4h1.5v6.5h1.5v-0.5h1.5v-5.5h1.5v-0.5h1.5v2.5h3v-1h3v-0.5h1.5v-0.5h1.5v0.5h3v2h3v0.5h1.5v0.5h1.5v0.5h1.5v0.5h1.5v0.5h1.5v-0.5h1.5v-2.5h1.5v-0.5h3v3.5h1.5v2.5h3v-0.5h3v-1h3v3h3v-2.5h3v1h3v-1h9v-4.5h1.5v-1h1.5v2h1.5v-1h1.5v0.5h1.5v-0.5h1.5v-7.5h1.5v-4.5h1.5v-5h1.5v-3h1.5v10h1.5v1h1.5v-5h1.5v2h1.5v-2.5h1.5v1.5h1.5v7.5h1.5v2.5h1.5v4.5h1.5v2h1.5v-1h1.5v0.5h1.5v-0.5h1.5v0.5h1.5v3h3v-1h1.5v0.5h4.5v2h3v-1.5h3v-0.5h3v-1h3v1h3v0.5h3v1h7.5v0.5h1.5v-1.5h3v0.5h3v0.5h3v-1h1.5v0.5h1.5v1.5h3v-1h3v0.5h6v0.5h6v-1h1.5v0.5h1.5v0.5h3v0.5h6v-1.5h3v1h15v1h3v-1h3v-0.5h3v0.5h3v0.5h6v-0.5h3v0.5h3v-0.5h3v-1h3v1.5h3v-1h3v0.5h3v-1h3v0.5h3v0.5h3v0.5h3v-0.5h3v-0.5h3v0.5h3v-0.5h6v0.5h3v-1h3v0.5h3v0.5h1.5v-0.5h4.5v1h6v-0.5h1.5v-0.5h1.5v-0.5h3v-0.5h6v1h3v-1h3v0.5h1.5v-0.5h4.5v-1h3v1h1.5v-0.5h1.5v-1.5h1.5v-0.5h1.5v-2h1.5v-3h1.5v-2h1.5v-5h1.5v-42.5h3v32h1.5v17.5h3v3h1.5v1.5h1.5v1h1.5v0.5h1.5v1h1.5v1.5h3v-0.5h3v0.5h6v0.5h6v-1.5h3v0.5h3v1h3v0.5h3v-2h3v1h6v1h3v-0.5h6v-1h3v1h3v0.5h3v-0.5h3v0.5h3v-1.5h3v1.5h3v-0.5h3v-1h3v1h3v0.5h3v-1.5h3v1h3v3z" fill="#d6454f" />
<path d="M118.8 1375.2v-2.5h7.5v-0.5h1.5v1h3v-0.5h3v-0.5h1.5v-0.5h1.5v1h3v-0.5h1.5v-0.5h1.5v0.5h1.5v-0.5h1.5v-1h4.5v-0.5h1.5v-1.5h1.5v-1h1.5v-1h1.5v-0.5h1.5v-1h1.5v-3.5h1.5v-1h1.5v-3.5h1.5v-8.5h1.5v-5h1.5v-6h1.5v17.5h1.5v3.5h1.5v-13.5h1.5v-2.5h3v3h1.5v12h1.5v7.5h1.5v1.5h1.5v-0.5h1.5v2h1.5v-0.5h1.5v-1h1.5v-1h1.5v2h1.5v3h1.5v0.5h4.5v1h18v0.5h3v-1h3v0.5h3v0.5h3v-1h3v0.5h12v-1h3v0.5h3v0.5h3v-0.5h6v1h6v-0.5h3v-0.5h3v-0.5h3v1h6v-1h6v1.5h3v-1h3v0.5h12v-0.5h3v0.5h3v-0.5h9v-0.5h3v0.5h3v0.5h3v-0.5h3v0.5h9v-0.5h6v0.5h6v-0.5h3v0.5h3v-0.5h3v0.5h3v-1h3v0.5h3v0.5h3v-0.5h3v0.5h3v-0.5h3v0.5h3v0.5h9v-1.5h3v0.5h6v1h3v-0.5h3v-0.5h3v0.5h3v-1h6v1h3v-1h3v1h3v-0.5h3v1h4.5v-0.5h1.5v0.5h3v-1h9v-0.5h3v1h3v-1h3v1h3v0.5h3v-0.5h3v-0.5h3v-0.5h3v0.5h6v-0.5h3v0.5h3v0.5h3v-0.5h3v-0.5h3v0.5h15v-0.5h6v-0.5h1.5v-0.5h1.5v0.5h3v-1h1.5v-1h3v-1.5h1.5v-15.5h1.5v-11h1.5v-6h3v14.5h1.5v8h1.5v6.5h1.5v4h1.5v-0.5h1.5v1.5h3v1h1.5v2h3v-0.5h3v-1h3v1.5h6v1h3v-1h15v1h6v-0.5h3v-1h3v1.5h3v-1h3v1h3v-0.5h3v-0.5h1.5v0.5h1.5v-0.5h3v1h6v-0.5h3v-0.5h3v0.5h3v-1h3v0.5h3v0.5h3v-1h6v1.5h3v-1h3v0.5h3v-1h3v0.5h9v0.5h3v-0.5h3v-0.5h3v1.5h3v-0.5h3v0.5h3v-0.5h3v0.5h9v-0.5h3v0.5h3v-1.5h3v1h6v-0.5h3v-0.5h3v0.5h3v0.5h3v-0.5h3v0.5h6v-0.5h3v1h3v-1.5h3v1.5h3v-1h3v0.5h3v-0.5h3v0.5h6v-0.5h6v0.5h9v-0.5h3v0.5h3v1h3v-1.5h3v0.5h3v-1h3v1h3v-1h3v1h3v-1h3v0.5h3v-0.5h3v1h12v-0.5h3v1h3v-0.5h9v-0.5h6v1h3v-1h15v0.5h3v0.5h3v-1.5h3v1h6v-0.5h3v0.5h3v-0.5h3v1h3v-1h3v1h3v-0.5h9v-1h3v1h6v0.5h3v-0.5h3v-1h3v1.5h6v-1h3v-1h3v0.5h3v0.5h3v-0.5h3v0.5h3v-0.5h6v0.5h3v-0.5h3v0.5h3v0.5h3v-1.5h6v1h3v-1.5h3v2h3v-1.5h3v-1h3v2h3v-1h3v1h3v-2h3v-0.5h3v1.5h3v0.5h3v0.5h3v-1.5h3v0.5h3v-1.5h6v0.5h3v1h3v-2h3v1h6v0.5h3v-1h3v0.5h3v1h3v-0.5h3v-0.5h3v-1h3v1.5h3v0.5h3v0.5h6v-0.5h6v0.5h1.5v-0.5h1.5v0.5h3v-2.5h3v0.5h3v1.5h1.5v-0.5h4.5v-3h1.5v-0.5h1.5v-0.5h3v3h1.5v0.5h4.5v1h7.5v-0.5h4.5v-1h3v0.5h3v-0.5h3v0.5h3v-2h3v2.5h3v-3h3v1.5h3v1h3v0.5h3v-1.5h6v0.5h3v-2h3v3h3v-0.5h3v0.5h12v-2h1.5v1h1.5v-1.5h1.5v-0.5h3v-1h3v0.5h1.5v-1h1.5v-0.5h4.5v-1h1.5v-1.5h3v-1h1.5v-0.5h4.5v0.5h1.5v-1.5h1.5v-1.5h1.5v-4h1.5v-2.5h1.5v-1.5h1.5v-1h1.5v-5h1.5v0.5h1.5v-5h1.5v-7h1.5v-2.5h1.5v-10h1.5v-4h1.5v-111h1.5v5.5h1.5v-73h3v138h1.5v21.5h3v22h1.5v2h1.5v1h1.5v2h1.5v9h1.5v11h1.5v4.5h1.5v-3.5h1.5v-1.5h1.5v4h1.5v4h1.5v-12.5h1.5v-0.5h1.5v-0.5h3v0.5h1.5v2.5h1.5v0.5h1.5v-0.5h1.5v1h1.5v1h1.5v8.5h1.5v3.5h1.5v-5.5h1.5v-4.5h1.5v-0.5h1.5v-2.5h1.5v0.5h1.5v-3h1.5v-6.5h1.5v-4.5h1.5v-3.5h1.5v-8.5h1.5v2h1.5v3.5h1.5v4h3v3.5h1.5v1h1.5v0.5h1.5v-10.5h1.5v-9.5h1.5v-16.5h1.5v-9h1.5v-2.5h1.5v17h1.5v14h1.5v10h1.5v12.5h1.5v7h1.5v-28h1.5v-25h1.5v1.5h1.5v-8h1.5v7.5h1.5v10h1.5v12h1.5v-5h1.5v-27h1.5v-9.5h1.5v-17h1.5v-11h1.5v-18h1.5v0.5h1.5v-14h1.5v-9h1.5v17.5h1.5v-19.5h1.5v-64h28.5v101h1.5v39h1.5v-34h1.5v-6.5h1.5v-4h1.5v-2.5h1.5v17.5h1.5v24.5h1.5v2h1.5v1h1.5v-6h1.5v11h1.5v10.5h1.5v9h1.5v12h1.5v10h1.5v5.5h1.5v-1.5h1.5v2h1.5v6h1.5v-3h1.5v2h1.5v-1h3v1h1.5v-3.5h1.5v13.5h1.5v5.5h1.5v0.5h1.5v3h1.5v-5h1.5v-3.5h1.5v-2h3v2h1.5v0.5h1.5v4.5h1.5v1.5h1.5v1.5h3v2h1.5v1.5h1.5v3h1.5v-2.5h1.5v-3h3v-1h1.5v-0.5h1.5v3.5h1.5v1h1.5v2.5h1.5v-2h3v-1.5h1.5v0.5h1.5v-1h3v0.5h1.5v2h1.5v-1h1.5v3h1.5v-2h1.5v0.5h1.5v0.5h1.5v-2h1.5v1h1.5v-1h1.5v1.5h1.5v-1h1.5v2h1.5v0.5h1.5v0.5h1.5v0.5h1.5v1h1.5v4.5h1.5v-1.5h3v1h3v1.5h3v-3h1.5v0.5h1.5v0.5h3v-2.5h3v1.5h3v2h3v-1h6v0.5h3v1h3v-1.5h3v3h3v-2h3v2.5h6v-4h1.5v0.5h1.5v2h3v-0.5h9v1.5h3v-1.5h3v3.5h3v-1h3v1.5h3v-1.5h3v1h3v-0.5h3v-1h3v2h1.5v0.5h4.5v-3h3v1h3v1.5h3v0.5h3v-1.5h3v1.5h3v-2.5h3v1h6v0.5h3v1.5h6v-1.5h3v1h3v-0.5h3v-1h3v0.5h3v-0.5h3v0.5h3v-0.5h3v1.5h9v-1.5h3v1.5h3v0.5h3v-1h3v-0.5h3v1h3v1h3v-1.5h3v-1h3v2.5h3v-2h3v0.5h3v1h6v-1h3v1.5h3v-2h3v1h1.5v-1h1.5v-1.5h1.5v-1h3v-12.5h1.5v-8h3v14h1.5v6.5h1.5v2.5h3v-0.5h3v-0.5h3v2.5h3v-1.5h3v1h3v-2h3v2h3v-2h3v1h6v2h3v-1h1.5v-0.5h3v-0.5h1.5v-2.5h1.5v-0.5h1.5v1.5h1.5v0.5h3v0.5h1.5v1.5h3v1h3v-1h6v-0.5h6v0.5h3v1h3v-1.5h3v1.5h9v-0.5h9v0.5h3v-1.5h3v1h6v-1h1.5v0.5h1.5v-2.5h1.5v-1h1.5v-1h3v4h1.5v1.5h1.5v-1.5h3v0.5h3v-0.5h3v1h1.5v0.5h1.5v-1.5h3v1h3v0.5h3v-0.5h6v-1h3v1h3v0.5h1.5v-0.5h1.5v0.5h1.5v-0.5h1.5v-1h1.5v-0.5h6v0.5h1.5v1h1.5v0.5h4.5v0.5h3v-0.5h9v-1h3v-0.5h3v1h3v1h3v-1.5h3v-0.5h3v1h3v-0.5h3v0.5h3v-1h3v1h3v0.5h6v-0.5h6v-1h3v0.5h1.5v-1h1.5v0.5h1.5v-0.5h1.5v-2.5h1.5v-3.5h1.5v-4h1.5v4h1.5v4.5h1.5v0.5h1.5v-0.5h1.5v0.5h1.5v-1.5h1.5v-1h1.5v-0.5h1.5v0.5h1.5v1h1.5v2h1.5v1.5h1.5v-0.5h1.5v-1h1.5v-0.5h1.5v-3.5h1.5v-3.5h1.5v-1.5h1.5v-2.5h1.5v-12.5h1.5v-7h1.5v-3h1.5v1.5h1.5v7h1.5v-14h1.5v-42h1.5v-64h1.5v6.5h1.5v23.5h1.5v49.5h1.5v35.5h1.5v18h1.5v3.5h1.5v5h1.5v3h1.5v0.5h1.5v0.5h1.5v-0.5h1.5v0.5h1.5v1h1.5v0.5h1.5v-1.5h9v0.5h3v-1.5h1.5v0.5h1.5v0.5h3v1h3v-1h9v-0.5h3v0.5h3v2h7.5v-0.5h1.5v-1.5h3v0.5h1.5v-0.5h1.5v0.5h3v1.5h1.5v-0.5h4.5v-0.5h1.5v-0.5h1.5v-0.5h3v-0.5h4.5v-1.5h1.5v-4h1.5v-4h1.5v5.5h1.5v2.5h1.5v1h1.5v1.5h1.5v5.5z" fill="#2aabcf" />
<path d="M118.8 1375.2v-2.5h7.5v-0.5h1.5v1h3v-0.5h3v-0.5h1.5v-0.5h1.5v1h3v-0.5h1.5v-0.5h1.5v0.5h1.5v-0.5h1.5v-1h4.5v-0.5h1.5v-1.5h1.5v-1h1.5v-1h1.5v-0.5h1.5v-1h1.5v-3.5h1.5v-1h1.5v-3.5h1.5v-8.5h1.5v-5h1.5v-6h1.5v17.5h1.5v3.5h1.5v-1h1.5v-1h1.5v-1h1.5v-5.5h1.5v9.5h1.5v5.5h1.5v2h1.5v3.5h1.5v0.5h1.5v-0.5h3v-0.5h3v1h1.5v0.5h1.5v-0.5h3v1h18v1h3v-1.5h3v0.5h3v0.5h3v-1h3v0.5h12v-1h3v0.5h3v0.5h3v-0.5h6v1h6v-0.5h3v-0.5h3v-0.5h3v1h6v-1h6v1.5h3v-1h3v0.5h12v-0.5h3v0.5h3v-0.5h9v-0.5h3v0.5h3v0.5h3v-0.5h3v0.5h9v-0.5h6v0.5h6v-0.5h3v0.5h3v-0.5h3v0.5h3v-1h3v0.5h3v0.5h9v-0.5h3v0.5h3v0.5h9v-1.5h3v0.5h3v0.5h3v0.5h3v-0.5h3v-0.5h3v0.5h3v-1h6v1h3v-1h3v1h3v-0.5h3v1h4.5v-0.5h1.5v0.5h3v-1h3v0.5h3v-0.5h3v-0.5h3v1h3v-1h3v1h3v0.5h3v-0.5h3v-0.5h3v-0.5h3v0.5h6v-0.5h3v0.5h3v0.5h3v-0.5h3v-0.5h3v1h6v0.5h3v-1h3v0.5h3v-1h3v1.5h3v-1h3v-0.5h3v-0.5h1.5v-0.5h1.5v0.5h1.5v-0.5h3v-1h1.5v-2h1.5v-1.5h1.5v-2h1.5v1h1.5v2.5h1.5v1h1.5v-1h1.5v1.5h1.5v1h1.5v0.5h1.5v1.5h6v-1.5h3v1.5h6v1h3v-1h6v1.5h3v-0.5h3v-1h3v1h6v-0.5h3v-1h3v1.5h3v-1h3v1h3v-0.5h6v-0.5h3v1h6v-0.5h3v-0.5h3v0.5h3v-1h3v0.5h3v0.5h3v-1h6v1.5h3v-1h3v0.5h3v-1h3v0.5h9v0.5h3v-0.5h3v-0.5h3v1.5h3v-0.5h3v0.5h3v-0.5h3v0.5h9v-0.5h3v0.5h3v-1.5h3v1h6v-0.5h3v-0.5h3v0.5h3v0.5h3v-0.5h3v0.5h6v-0.5h3v1h3v-1.5h3v1.5h3v-1h3v0.5h3v-0.5h3v0.5h6v-0.5h6v0.5h9v-0.5h3v0.5h3v1h3v-1.5h3v1h3v-1.5h3v1.5h3v-1.5h3v1h3v-1h3v0.5h3v-0.5h3v1h12v-0.5h3v1h3v-0.5h9v-0.5h6v1h6v-1h12v0.5h3v0.5h3v-1.5h3v1h6v-0.5h3v0.5h3v-0.5h3v1h3v-0.5h3v0.5h3v-0.5h9v-1h3v1h6v0.5h3v-0.5h3v-1h3v1.5h6v-1h3v-1h3v0.5h3v0.5h3v-0.5h3v0.5h3v-0.5h6v0.5h3v-0.5h3v0.5h3v0.5h3v-1.5h6v1h3v-1.5h3v2h3v-1.5h3v-1h3v2h3v-1h3v1h3v-2h3v-0.5h3v1.5h3v0.5h3v0.5h3v-1.5h3v0.5h3v-1.5h6v0.5h3v1h3v-2h3v1h6v0.5h3v-1h3v0.5h3v1h3v-0.5h3v-0.5h3v-1h3v1.5h3v0.5h3v0.5h6v-0.5h6v0.5h1.5v-0.5h1.5v0.5h3v-2.5h3v0.5h3v1.5h1.5v-0.5h4.5v-3h1.5v-0.5h1.5v-0.5h3v3h1.5v0.5h4.5v1h7.5v-0.5h4.5v-1h3v0.5h3v-0.5h3v0.5h3v-2h3v2.5h3v-3h3v1.5h3v1h3v0.5h3v-1.5h6v0.5h3v-2h3v3h3v-0.5h3v0.5h12v-2h1.5v1h1.5v-1.5h1.5v-0.5h3v-1h3v0.5h1.5v-1h1.5v-0.5h4.5v-1h1.5v-1.5h3v-1h1.5v-0.5h4.5v0.5h1.5v-1.5h1.5v-1.5h1.5v-4h1.5v-2.5h1.5v-1.5h1.5v-1h1.5v-5h1.5v0.5h1.5v-5h1.5v-7h1.5v-2.5h1.5v-10h1.5v-4h1.5v-71h1.5v-34.5h1.5v-73h3v138h1.5v57h1.5v15h1.5v2h1.5v-2.5h1.5v-2h1.5v1.5h1.5v4.5h1.5v4h4.5v-1h1.5v1.5h1.5v2h1.5v-3.5h1.5v-1.5h1.5v-4.5h1.5v-2.5h1.5v2.5h1.5v2h1.5v-1h1.5v1h1.5v-2.5h1.5v-1.5h1.5v5.5h1.5v3.5h1.5v-5.5h1.5v-4.5h1.5v-0.5h1.5v-2.5h1.5v0.5h1.5v-3h1.5v-6.5h1.5v-4.5h1.5v-3.5h1.5v-8.5h1.5v2h1.5v3.5h1.5v4h3v3.5h1.5v1h1.5v0.5h1.5v-10.5h1.5v-9.5h1.5v-16.5h1.5v-9h1.5v-2.5h1.5v17h1.5v14h1.5v10h1.5v12.5h1.5v7h1.5v-28h1.5v-15.5h1.5v-5h1.5v6h1.5v11h1.5v6.5h1.5v5h1.5v-11h1.5v-8.5h1.5v-6.5h1.5v-14h1.5v-7.5h1.5v-3h1.5v-12.5h1.5v-34h1.5v6.5h1.5v3h1.5v-0.5h1.5v-10h1.5v-32h1.5v-56h24v25.5h1.5v75.5h1.5v56.5h1.5v-10.5h1.5v-20.5h1.5v-2h1.5v-1h1.5v0.5h1.5v11h1.5v2h1.5v1h1.5v-6h1.5v11h1.5v10.5h1.5v9h1.5v12h1.5v10h1.5v5.5h1.5v-1.5h1.5v2h1.5v6h1.5v-3h1.5v2h1.5v-1h3v1h1.5v-3.5h1.5v13.5h1.5v5.5h1.5v0.5h1.5v3h1.5v-5h1.5v-3.5h1.5v-2h3v2h1.5v0.5h1.5v4.5h1.5v1.5h1.5v1.5h3v2h1.5v1.5h1.5v3h1.5v-2.5h1.5v-3h3v-1h1.5v-0.5h1.5v3.5h1.5v1h1.5v2.5h1.5v-2h3v-1.5h1.5v0.5h1.5v-1h3v0.5h1.5v2h1.5v-1h1.5v3h1.5v-2h1.5v0.5h1.5v0.5h1.5v-2h1.5v1h1.5v-1h1.5v1.5h1.5v-1h1.5v2h1.5v0.5h1.5v0.5h1.5v0.5h1.5v1h1.5v4.5h1.5v-1.5h3v1h3v1.5h3v-3h1.5v0.5h1.5v0.5h3v-2.5h3v1.5h3v2h3v-1h6v0.5h3v1h3v-1.5h3v3h3v-2h3v2.5h6v-4h1.5v0.5h1.5v2h3v-0.5h9v1.5h3v-1.5h3v3.5h3v-1h3v1.5h3v-1.5h3v1h3v-0.5h3v-1h3v2h1.5v0.5h4.5v-3h3v1h3v1.5h3v0.5h3v-1.5h3v1.5h3v-2.5h3v1h6v0.5h3v1.5h6v-1.5h3v1h3v-0.5h3v-1h3v0.5h3v-0.5h3v0.5h3v-0.5h3v1.5h9v-1.5h3v1.5h3v0.5h3v-1h3v-0.5h3v1h3v1h3v-1.5h3v-1h3v2.5h3v-2h3v0.5h3v1h6v-1h3v1.5h3v-2h3v1h1.5v-1h1.5v-1.5h1.5v-1h3v-0.5h1.5v-2.5h1.5v-0.5h3v3.5h1.5v2.5h3v-0.5h3v-0.5h3v2.5h3v-1.5h3v1h3v-2h3v2h3v-2h3v1h6v2h3v-1h1.5v-0.5h3v-0.5h1.5v-2.5h1.5v-0.5h1.5v1.5h1.5v0.5h3v0.5h1.5v1.5h3v1h3v-1h6v-0.5h6v0.5h3v1h3v-1.5h3v1.5h9v-0.5h9v0.5h3v-1.5h3v1h6v-1h1.5v0.5h1.5v1.5h3v-1h3v0.5h6v0.5h6v-1h1.5v0.5h1.5v0.5h3v0.5h6v-1.5h3v1h15v1h3v-1h3v-0.5h3v0.5h3v0.5h6v-0.5h3v0.5h3v-0.5h3v-1h3v1.5h3v-1h3v0.5h3v-1h3v0.5h3v0.5h3v0.5h3v-0.5h3v-0.5h3v0.5h3v-0.5h6v0.5h3v-1h3v0.5h3v0.5h1.5v-0.5h4.5v1h6v-0.5h1.5v-0.5h1.5v-0.5h3v-0.5h6v1h3v-1h3v0.5h1.5v-0.5h4.5v-1h3v1h1.5v-0.5h1.5v-1.5h1.5v-0.5h1.5v-2h1.5v-3h1.5v-2h1.5v-5h1.5v-42.5h3v32h1.5v17.5h3v3h1.5v1.5h1.5v1h1.5v0.5h1.5v1h1.5v1.5h3v-0.5h3v0.5h6v0.5h6v-1.5h3v0.5h3v1h3v0.5h3v-2h3v1h6v1h3v-0.5h6v-1h3v1h3v0.5h3v-0.5h3v0.5h3v-1.5h3v1.5h3v-0.5h3v-1h3v1h3v0.5h3v-1.5h3v1h3v3z" fill="#253f59" />
<rect x="1184.3" y="1127.6" width="70.7" height="257" fill="none" stroke="#000" stroke-width="1.6" />
<rect x="1969.2" y="1127.6" width="40.8" height="257" fill="none" stroke="#000" stroke-width="1.6" />
<text x="196" y="1456.5" font-size="20.5" textLength="95" lengthAdjust="spacingAndGlyphs" stroke="#000" stroke-width=".3">500 bases</text>
<path d="M308.3 1445.3V1459.2M308.3 1452.3H800.3M800.3 1445.3V1459.2" fill="none" stroke="#000" stroke-width="1.6" />
<text x="809.5" y="1456.5" font-size="20.5" textLength="46" lengthAdjust="spacingAndGlyphs" stroke="#000" stroke-width=".3">mm9</text>
<text x="7" y="1486" font-size="31" font-weight="bold">e</text>
<line x1="62" y1="1477.3" x2="611" y2="1477.3" stroke="#6a68b4" stroke-width="1.7" />
<path d="M68.1 1474.6L65.7 1477.3L68.1 1480.0M75.5 1474.6L73.1 1477.3L75.5 1480.0M82.9 1474.6L80.5 1477.3L82.9 1480.0M90.3 1474.6L87.9 1477.3L90.3 1480.0M97.7 1474.6L95.3 1477.3L97.7 1480.0M105.1 1474.6L102.7 1477.3L105.1 1480.0M112.5 1474.6L110.1 1477.3L112.5 1480.0M119.9 1474.6L117.5 1477.3L119.9 1480.0M127.3 1474.6L124.9 1477.3L127.3 1480.0M134.7 1474.6L132.3 1477.3L134.7 1480.0M142.1 1474.6L139.7 1477.3L142.1 1480.0M149.5 1474.6L147.1 1477.3L149.5 1480.0M156.9 1474.6L154.5 1477.3L156.9 1480.0M164.3 1474.6L161.9 1477.3L164.3 1480.0M171.7 1474.6L169.3 1477.3L171.7 1480.0M179.1 1474.6L176.7 1477.3L179.1 1480.0M186.5 1474.6L184.1 1477.3L186.5 1480.0M193.9 1474.6L191.5 1477.3L193.9 1480.0M201.3 1474.6L198.9 1477.3L201.3 1480.0M208.7 1474.6L206.3 1477.3L208.7 1480.0M216.1 1474.6L213.7 1477.3L216.1 1480.0M223.5 1474.6L221.1 1477.3L223.5 1480.0M230.9 1474.6L228.5 1477.3L230.9 1480.0M238.3 1474.6L235.9 1477.3L238.3 1480.0M245.7 1474.6L243.3 1477.3L245.7 1480.0M253.1 1474.6L250.7 1477.3L253.1 1480.0M260.5 1474.6L258.1 1477.3L260.5 1480.0M267.9 1474.6L265.5 1477.3L267.9 1480.0M275.3 1474.6L272.9 1477.3L275.3 1480.0M282.7 1474.6L280.3 1477.3L282.7 1480.0M290.1 1474.6L287.7 1477.3L290.1 1480.0M297.5 1474.6L295.1 1477.3L297.5 1480.0M304.9 1474.6L302.5 1477.3L304.9 1480.0M312.3 1474.6L309.9 1477.3L312.3 1480.0M319.7 1474.6L317.3 1477.3L319.7 1480.0M327.1 1474.6L324.7 1477.3L327.1 1480.0M334.5 1474.6L332.1 1477.3L334.5 1480.0M341.9 1474.6L339.5 1477.3L341.9 1480.0M349.3 1474.6L346.9 1477.3L349.3 1480.0M356.7 1474.6L354.3 1477.3L356.7 1480.0M364.1 1474.6L361.7 1477.3L364.1 1480.0M371.5 1474.6L369.1 1477.3L371.5 1480.0M378.9 1474.6L376.5 1477.3L378.9 1480.0M386.3 1474.6L383.9 1477.3L386.3 1480.0M393.7 1474.6L391.3 1477.3L393.7 1480.0M401.1 1474.6L398.7 1477.3L401.1 1480.0M408.5 1474.6L406.1 1477.3L408.5 1480.0M415.9 1474.6L413.5 1477.3L415.9 1480.0M423.3 1474.6L420.9 1477.3L423.3 1480.0M430.7 1474.6L428.3 1477.3L430.7 1480.0M438.1 1474.6L435.7 1477.3L438.1 1480.0M445.5 1474.6L443.1 1477.3L445.5 1480.0M452.9 1474.6L450.5 1477.3L452.9 1480.0M460.3 1474.6L457.9 1477.3L460.3 1480.0M467.7 1474.6L465.3 1477.3L467.7 1480.0M475.1 1474.6L472.7 1477.3L475.1 1480.0M482.5 1474.6L480.1 1477.3L482.5 1480.0M489.9 1474.6L487.5 1477.3L489.9 1480.0M497.3 1474.6L494.9 1477.3L497.3 1480.0M504.7 1474.6L502.3 1477.3L504.7 1480.0M512.1 1474.6L509.7 1477.3L512.1 1480.0M519.5 1474.6L517.1 1477.3L519.5 1480.0M526.9 1474.6L524.5 1477.3L526.9 1480.0M534.3 1474.6L531.9 1477.3L534.3 1480.0M541.7 1474.6L539.3 1477.3L541.7 1480.0M549.1 1474.6L546.7 1477.3L549.1 1480.0M556.5 1474.6L554.1 1477.3L556.5 1480.0M563.9 1474.6L561.5 1477.3L563.9 1480.0M571.3 1474.6L568.9 1477.3L571.3 1480.0M578.7 1474.6L576.3 1477.3L578.7 1480.0M586.1 1474.6L583.7 1477.3L586.1 1480.0M593.5 1474.6L591.1 1477.3L593.5 1480.0M600.9 1474.6L598.5 1477.3L600.9 1480.0M608.3 1474.6L605.9 1477.3L608.3 1480.0" fill="none" stroke="#7876be" stroke-width="1.3" />
<rect x="610.6" y="1470.8" width="25.6" height="13.6" fill="#8583c6" />
<rect x="614.6" y="1470.8" width="2" height="13.6" fill="#5a58ac" />
<rect x="620.2" y="1470.8" width="2" height="13.6" fill="#5a58ac" />
<rect x="625.8" y="1470.8" width="2" height="13.6" fill="#5a58ac" />
<rect x="631.6" y="1470.8" width="2" height="13.6" fill="#5a58ac" />
<rect x="636" y="1470.8" width="4" height="13.6" fill="#62a05c" />
<rect x="640" y="1473" width="30.2" height="8.8" fill="#5250a8" />
<text x="682" y="1485.3" font-size="20.5" fill="#4d4b9b" textLength="58" lengthAdjust="spacingAndGlyphs" stroke="#4d4b9b" stroke-width=".3">Haus1</text>
<text x="7" y="1512" font-size="20.5" textLength="51.5" lengthAdjust="spacingAndGlyphs" stroke="#000" stroke-width=".3">800 <tspan dy="-.8" stroke-width=".1">_</tspan></text>
<text x="30" y="1643" font-size="20.5" textLength="28" lengthAdjust="spacingAndGlyphs" stroke="#000" stroke-width=".3">0 <tspan dy="-.8" stroke-width=".1">_</tspan></text>
<text x="7" y="1670" font-size="20.5" textLength="51.5" lengthAdjust="spacingAndGlyphs" stroke="#000" stroke-width=".3">320 <tspan dy="-.8" stroke-width=".1">_</tspan></text>
<text x="13" y="1791" font-size="22.5" textLength="28.5" lengthAdjust="spacingAndGlyphs" stroke="#000" stroke-width=".3">0 <tspan dy="-.8" stroke-width=".1">_</tspan></text>
<text x="13" y="1804.4" font-size="22.5" textLength="28.5" lengthAdjust="spacingAndGlyphs" stroke="#000" stroke-width=".3">0 <tspan dy="-.8" stroke-width=".1">_</tspan></text>
<text x="1.5" y="1921.5" font-size="20.5" fill="#999" textLength="57" lengthAdjust="spacingAndGlyphs" stroke="#999" stroke-width=".3">-320 <tspan dy="-.8" stroke-width=".1">_</tspan></text>
<path d="M61.8 1644.2v-7h12v-0.5h36v-0.5h3v0.5h3v-0.5h3v0.5h3v-0.5h12v-0.5h3v0.5h9v-0.5h27v-0.5h6v-0.5h3v0.5h3v-0.5h9v-0.5h3v0.5h1.5v-0.5h4.5v-0.5h10.5v-0.5h1.5v0.5h9v-0.5h6v-0.5h3v0.5h1.5v-0.5h3v-0.5h4.5v0.5h3v-0.5h7.5v-0.5h1.5v0.5h1.5v-0.5h13.5v-0.5h10.5v-0.5h1.5v-0.5h3v-0.5h3v-0.5h6v-0.5h3v-0.5h3v-0.5h9v-1h6v0.5h3v0.5h4.5v0.5h1.5v0.5h1.5v0.5h3v0.5h4.5v-0.5h4.5v-0.5h1.5v-0.5h1.5v-0.5h3v-0.5h3v-0.5h3v-0.5h1.5v-1.5h1.5v-0.5h3v-1h3v-0.5h1.5v-1h1.5v-0.5h3v-0.5h6v-0.5h1.5v0.5h3v-1h3v0.5h3v-0.5h9v-0.5h6v-0.5h3v0.5h9v-0.5h3v-0.5h3v-0.5h3v0.5h1.5v-0.5h1.5v-1h1.5v-0.5h3v-0.5h3v-0.5h1.5v-1.5h1.5v-0.5h1.5v-0.5h1.5v-0.5h1.5v1h1.5v-0.5h1.5v-1h1.5v-0.5h1.5v-0.5h6v-0.5h1.5v-0.5h1.5v0.5h6v-1h3v-0.5h3v0.5h4.5v-0.5h1.5v-1h3v-0.5h3v1h3v-2h4.5v-0.5h1.5v1.5h1.5v-0.5h1.5v-0.5h1.5v-0.5h1.5v-1h3v1.5h3v-1h3v0.5h9v-0.5h3v-1.5h1.5v-0.5h1.5v1h3v-1h3v2h1.5v-0.5h1.5v-0.5h6v-0.5h3v0.5h6v-1h3v-0.5h3v0.5h3v0.5h3v-1h3v1h3v-0.5h3v1.5h3v-2h1.5v0.5h1.5v1.5h3v-0.5h3v-0.5h3v0.5h1.5v0.5h3v0.5h1.5v1.5h1.5v1h1.5v-6h1.5v-1h1.5v-0.5h6v1.5h3v-1h6v-0.5h3v1h3v1h3v-2h1.5v0.5h1.5v1.5h3v-0.5h1.5v3h1.5v4h1.5v1h3v-0.5h1.5v-1.5h1.5v-1h1.5v0.5h1.5v-0.5h1.5v-1.5h3v1.5h1.5v0.5h1.5v-1h3v1h1.5v0.5h1.5v-1h1.5v0.5h1.5v0.5h3v1h1.5v0.5h1.5v-1h1.5v0.5h1.5v0.5h1.5v0.5h1.5v1.5h1.5v0.5h1.5v2.5h1.5v3h1.5v1h1.5v-1.5h1.5v-3h1.5v-2.5h1.5v-3.5h1.5v-2h1.5v-1h1.5v-0.5h3v-0.5h1.5v-0.5h3v-0.5h1.5v-0.5h1.5v1h1.5v-3.5h1.5v-5.5h1.5v-4h1.5v-3h1.5v-3.5h1.5v-5.5h1.5v-6h1.5v-4.5h1.5v-1.5h1.5v2h1.5v-0.5h1.5v-2.5h1.5v-0.5h1.5v0.5h1.5v-0.5h1.5v0.5h1.5v-0.5h1.5v-1h1.5v-1h1.5v-3.5h1.5v-3.5h1.5v-4h1.5v-2.5h1.5v-1.5h3v-0.5h3v1.5h3v1.5h3v-0.5h3v-3h3v1.5h1.5v1h1.5v0.5h1.5v2h1.5v5.5h1.5v2h3v2.5h1.5v3h1.5v3.5h1.5v4h1.5v4h1.5v7h1.5v10h1.5v9.5h1.5v6h1.5v6h1.5v4.5h1.5v3h1.5v3h1.5v1.5h1.5v1h1.5v1h1.5v1.5h1.5v0.5h1.5v0.5h1.5v0.5h1.5v0.5h1.5v-0.5h4.5v-0.5h1.5v-0.5h6v-0.5h6v-0.5h3v-0.5h1.5v-0.5h1.5v-0.5h3v-0.5h4.5v-0.5h1.5v-1h4.5v-0.5h3v-0.5h1.5v0.5h1.5v0.5h4.5v1h4.5v0.5h1.5v-0.5h1.5v0.5h4.5v0.5h1.5v0.5h3v0.5h4.5v0.5h3v0.5h3v0.5h3v-0.5h1.5v0.5h3v0.5h4.5v0.5h1.5v0.5h7.5v0.5h1.5v0.5h4.5v0.5h1.5v0.5h1.5v-0.5h1.5v0.5h1.5v0.5h1.5v0.5h1.5v0.5h4.5v0.5h1.5v0.5h1.5v0.5h3v0.5h3v0.5h1.5v0.5h3v0.5h3v0.5h6v0.5h6v0.5h7.5v0.5h19.5v0.5h3v-0.5h6v-0.5h6v-0.5h6v-0.5h6v-0.5h7.5v-0.5h3v-0.5h6v-0.5h4.5v-0.5h9v-0.5h4.5v-0.5h13.5v-0.5h3v0.5h3v-0.5h3v0.5h9v-0.5h3v0.5h3v8h12z" fill="#d6454f" />
<path d="M61.8 1644.2h10.5v-7.5h4.5v0.5h1.5v-0.5h25.5v-0.5h6v0.5h9v-0.5h21v-0.5h3v0.5h3v-0.5h3v0.5h3v-0.5h3v0.5h1.5v-0.5h13.5v-0.5h15v-0.5h3v0.5h3v-0.5h18v-0.5h21v-0.5h15v-0.5h10.5v-0.5h4.5v0.5h1.5v-0.5h10.5v-0.5h3v-0.5h3v0.5h3v-1h9v0.5h1.5v-0.5h7.5v-0.5h4.5v-0.5h6v-0.5h4.5v0.5h3v0.5h4.5v0.5h3v0.5h4.5v0.5h9v0.5h1.5v0.5h1.5v-0.5h3v0.5h4.5v-0.5h4.5v-0.5h3v-0.5h1.5v-0.5h3v-0.5h1.5v-0.5h3v-0.5h3v0.5h3v0.5h6v-0.5h3v0.5h19.5v0.5h7.5v0.5h10.5v0.5h9v0.5h13.5v0.5h7.5v0.5h10.5v0.5h6v-0.5h1.5v0.5h4.5v0.5h7.5v0.5h4.5v-0.5h1.5v0.5h6v0.5h1.5v-0.5h3v0.5h6v0.5h3v-0.5h12v-0.5h4.5v-0.5h1.5v0.5h3v-0.5h6v-0.5h10.5v-0.5h1.5v0.5h3v-1h6v0.5h1.5v-0.5h3v-0.5h1.5v0.5h1.5v-0.5h1.5v-0.5h6v-1h6v-0.5h1.5v-0.5h1.5v0.5h3v-0.5h3v-0.5h1.5v-0.5h1.5v0.5h1.5v-0.5h1.5v-0.5h3v-1h1.5v-1h1.5v-0.5h1.5v-0.5h1.5v-0.5h3v-1h1.5v-0.5h1.5v0.5h1.5v-0.5h1.5v-0.5h1.5v-0.5h1.5v-0.5h1.5v-0.5h1.5v0.5h1.5v-0.5h1.5v-1h4.5v-0.5h1.5v0.5h3v-0.5h1.5v-0.5h3v-0.5h1.5v-0.5h1.5v-0.5h1.5v-0.5h1.5v-1h1.5v-1h1.5v-1h1.5v-0.5h1.5v-1h3v-1h3v-0.5h1.5v-1h1.5v-1.5h1.5v-6h1.5v-2.5h1.5v-3h1.5v-1h1.5v0.5h1.5v-0.5h3v-0.5h1.5v-1.5h1.5v-0.5h1.5v-0.5h6v0.5h1.5v-0.5h1.5v-3h1.5v-5h1.5v-6h1.5v-7h1.5v-9h1.5v-3h1.5v-3h1.5v-1h1.5v-0.5h1.5v-1h1.5v1h1.5v-1h3v-1h1.5v-1h1.5v-1.5h1.5v-4h1.5v-1.5h1.5v1.5h1.5v-1h1.5v-1h1.5v-1h1.5v-4.5h1.5v-0.5h1.5v-1h1.5v-0.5h1.5v1.5h1.5v-0.5h1.5v-1h1.5v-0.5h1.5v2h4.5v-0.5h4.5v1h3v-2h1.5v-0.5h1.5v1.5h3v-2.5h3v-1h3v1.5h3v-1.5h3v2h1.5v0.5h1.5v2.5h1.5v0.5h1.5v-0.5h1.5v1h1.5v0.5h1.5v1h1.5v2h1.5v2h1.5v3.5h1.5v3.5h1.5v8h1.5v13.5h1.5v4h1.5v3.5h1.5v3.5h1.5v3h1.5v2h1.5v2.5h1.5v2h1.5v2h1.5v2h1.5v2h1.5v1h1.5v1.5h1.5v1h1.5v0.5h1.5v0.5h1.5v0.5h1.5v1h1.5v0.5h3v0.5h1.5v-1h3v0.5h3v2h1.5v0.5h1.5v0.5h1.5v1h4.5v0.5h7.5v0.5h4.5v-0.5h3v0.5h9v1h3v-1h3v0.5h3v1h1.5v0.5h1.5v-1h3v0.5h3v1h3v0.5h1.5v0.5h1.5v-0.5h1.5v0.5h4.5v0.5h1.5v0.5h3v0.5h1.5v1h4.5v0.5h3v0.5h1.5v0.5h3v0.5h1.5v0.5h1.5v-0.5h1.5v0.5h4.5v0.5h4.5v1h1.5v1h1.5v1h1.5v1h1.5v1h1.5v0.5h1.5v1h1.5v1h1.5v0.5h1.5v1h1.5v0.5h1.5v0.5h1.5v0.5h1.5v-0.5h1.5v0.5h4.5v0.5h4.5v0.5h3v0.5h4.5v0.5h7.5v0.5h4.5v0.5h1.5v-0.5h1.5v-0.5h3v-0.5h3v-0.5h1.5v-0.5h3v-0.5h1.5v-1h3v-0.5h3v-1h4.5v-0.5h3v-0.5h1.5v-0.5h1.5v-0.5h3v-0.5h4.5v-1h1.5v-0.5h3v-0.5h1.5v0.5h1.5v-0.5h1.5v-0.5h1.5v-0.5h3v-0.5h3v-0.5h3v-0.5h6v-0.5h3v-0.5h7.5v-0.5h3v0.5h1.5v-0.5h4.5v-1h3v0.5h6v-1h3v0.5h9v-0.5h6v23.5z" fill="#2aabcf" />
<path d="M61.8 1644.2h10.5v-7h1.5v-0.5h3v0.5h1.5v-0.5h43.5v-0.5h24v-0.5h3v0.5h3v-0.5h3v0.5h1.5v-0.5h16.5v-0.5h12v-0.5h3v0.5h3v-0.5h18v-0.5h21v-0.5h15v-0.5h10.5v-0.5h4.5v0.5h1.5v-0.5h10.5v-0.5h3v-0.5h3v0.5h3v-1h9v0.5h1.5v-0.5h7.5v-0.5h4.5v-0.5h6v-0.5h4.5v0.5h3v0.5h4.5v0.5h3v0.5h4.5v0.5h9v0.5h1.5v0.5h1.5v-0.5h3v0.5h4.5v-0.5h4.5v-0.5h3v-0.5h1.5v-0.5h3v-0.5h1.5v-0.5h3v-0.5h3v0.5h3v0.5h6v-0.5h3v0.5h19.5v0.5h7.5v0.5h10.5v0.5h9v0.5h13.5v0.5h7.5v0.5h10.5v0.5h6v-0.5h1.5v0.5h4.5v0.5h7.5v0.5h4.5v-0.5h1.5v0.5h6v0.5h1.5v-0.5h3v0.5h6v0.5h3v-0.5h12v-0.5h4.5v-0.5h1.5v0.5h3v-0.5h6v-0.5h10.5v-0.5h1.5v0.5h3v-1h6v0.5h1.5v-0.5h3v-0.5h1.5v0.5h1.5v-0.5h1.5v-0.5h6v-1h6v-0.5h1.5v-0.5h1.5v0.5h3v-0.5h3v-0.5h1.5v-0.5h1.5v0.5h1.5v-0.5h1.5v-0.5h3v-1h1.5v-1h1.5v-0.5h1.5v-0.5h1.5v-0.5h3v-1h1.5v-0.5h1.5v0.5h1.5v-0.5h1.5v-0.5h1.5v-0.5h1.5v-0.5h1.5v-0.5h1.5v0.5h1.5v-0.5h1.5v-1h4.5v-0.5h1.5v0.5h3v-0.5h1.5v-0.5h3v-0.5h1.5v-0.5h1.5v-0.5h1.5v-0.5h1.5v-1h1.5v-1h1.5v-1h1.5v-0.5h1.5v-1h3v-1h3v-0.5h1.5v-1h1.5v-1.5h1.5v-1h1.5v0.5h1.5v0.5h1.5v0.5h1.5v1.5h1.5v0.5h1.5v2.5h1.5v3h1.5v1h1.5v-1.5h1.5v-3h1.5v-2.5h1.5v-3.5h1.5v-2h1.5v-1h1.5v-0.5h3v-0.5h1.5v-0.5h3v-0.5h1.5v-0.5h1.5v1h1.5v-3.5h1.5v-5.5h1.5v-4h1.5v-3h1.5v-3.5h1.5v-5.5h1.5v-6h1.5v-4.5h1.5v-1.5h1.5v2h1.5v-0.5h1.5v-2.5h1.5v-0.5h1.5v0.5h1.5v-0.5h1.5v0.5h1.5v-0.5h1.5v-1h1.5v-1h1.5v-3.5h1.5v-3.5h1.5v-4h1.5v-2.5h1.5v-1.5h3v-0.5h3v1.5h3v1.5h3v-0.5h3v-3h3v1.5h1.5v1h1.5v0.5h1.5v2h1.5v5.5h1.5v2h3v2.5h1.5v3h1.5v3.5h1.5v4h1.5v4h1.5v7h1.5v10h1.5v9.5h1.5v6h1.5v6h1.5v4.5h1.5v3h1.5v3h1.5v1.5h1.5v1h1.5v1h1.5v1.5h1.5v0.5h1.5v0.5h1.5v0.5h1.5v0.5h1.5v-0.5h4.5v-0.5h1.5v-0.5h6v-0.5h6v-0.5h3v-0.5h1.5v-0.5h1.5v-0.5h3v-0.5h4.5v-0.5h1.5v-1h4.5v-0.5h3v-0.5h1.5v0.5h1.5v0.5h4.5v1h4.5v0.5h1.5v-0.5h1.5v0.5h4.5v0.5h1.5v0.5h3v0.5h4.5v0.5h3v0.5h3v0.5h3v-0.5h1.5v0.5h3v0.5h4.5v0.5h1.5v0.5h7.5v0.5h1.5v0.5h4.5v0.5h1.5v0.5h1.5v-0.5h1.5v0.5h1.5v0.5h1.5v0.5h1.5v0.5h4.5v0.5h1.5v0.5h1.5v0.5h3v0.5h3v0.5h1.5v0.5h3v0.5h3v0.5h6v0.5h6v0.5h7.5v0.5h19.5v0.5h3v-0.5h6v-0.5h6v-0.5h6v-0.5h6v-0.5h7.5v-0.5h3v-0.5h6v-0.5h4.5v-0.5h9v-0.5h4.5v-0.5h13.5v-0.5h3v0.5h3v-0.5h3v0.5h9v-0.5h3v0.5h3v8h12z" fill="#253f59" />
<path d="M62 1791.7h57.6v-1.5h1.8v-0.5h1.8v2h3.6v-2h1.8v0.5h1.8v1.5h3.6v-2h3.6v2h54v-1.5h3.6v1.5h7.2v-2h3.6v2h7.2v-1.5h1.8v-1h3.6v0.5h1.8v2h7.2v-1.5h1.8v-1h1.8v2.5h3.6v-2h1.8v0.5h1.8v1.5h7.2v-2.5h1.8v1h1.8v1.5h28.8v-3h1.8v-9.5h1.8v9.5h1.8v3h5.4v-2h3.6v0.5h1.8v-0.5h1.8v2h10.8v-2h1.8v0.5h1.8v1.5h3.6v-0.5h1.8v0.5h1.8v-0.5h3.6v0.5h1.8v-1h1.8v-1.5h1.8v1h1.8v1h1.8v-1.5h3.6v0.5h1.8v1.5h3.6v-2h1.8v-4h1.8v-5.5h1.8v7.5h1.8v-5h1.8v7h1.8v1.5h3.6v-1.5h1.8v-3h1.8v-9h1.8v5.5h1.8v5h1.8v1h1.8v0.5h1.8v-1h1.8v3h1.8v-4h1.8v2.5h1.8v1.5h3.6v-15h1.8v15h1.8v-2.5h1.8v2h1.8v0.5h7.2v-0.5h1.8v0.5h1.8v-3.5h1.8v-8h1.8v11h1.8v-1h3.6v-1h1.8v-3.5h1.8v4.5h1.8v-17h1.8v9.5h1.8v-14.5h1.8v13h1.8v8h1.8v0.5h1.8v-1h1.8v1.5h1.8v-15h1.8v-27h1.8v28.5h1.8v13.5h1.8v-13.5h1.8v14h1.8v-2.5h1.8v2.5h1.8v-6h1.8v-10.5h1.8v10.5h1.8v6h3.6v-8h1.8v-21h1.8v23.5h1.8v5h1.8v-10h1.8v8.5h1.8v-7.5h1.8v9h1.8v-3h1.8v2.5h1.8v-2.5h1.8v3.5h1.8v-0.5h1.8v-5h1.8v-12h1.8v12h1.8v5h1.8v1.5h1.8v-2h3.6v1h3.6v-1h1.8v-6h1.8v-9.5h1.8v11.5h1.8v6h7.2v-2.5h1.8v1h1.8v-1.5h1.8v3h1.8v-0.5h1.8v0.5h1.8v-0.5h1.8v-0.5h3.6v-1h1.8v0.5h1.8v-0.5h3.6v0.5h9v-0.5h1.8v0.5h1.8v1.5h5.4v-0.5h1.8v0.5h1.8v-2h1.8v2h5.4v-1h1.8v-1h5.4v0.5h1.8v1.5h1.8v-2h1.8v2h3.6v-2h1.8v0.5h1.8v-0.5h1.8v1h1.8v-21h1.8v-26h1.8v35h1.8v12.5h1.8v-2.5h1.8v0.5h1.8v2.5h1.8v-1h1.8v-0.5h1.8v-1h1.8v1.5h1.8v-1h3.6v0.5h1.8v0.5h3.6v1h1.8v-0.5h1.8v-2h1.8v2.5h1.8v-2.5h1.8v2.5h3.6v-1.5h1.8v1h1.8v0.5h1.8v-2h1.8v-2h1.8v4h1.8v-1.5h1.8v-3.5h1.8v3.5h1.8v-0.5h1.8v0.5h1.8v-7.5h1.8v-13h1.8v11.5h1.8v7.5h1.8v1h1.8v-3h1.8v3h1.8v0.5h1.8v-1h1.8v2.5h1.8v-5h1.8v5h1.8v-3.5h1.8v-1h1.8v-11h1.8v-14.5h1.8v-37h1.8v38.5h1.8v11.5h1.8v15h1.8v1h3.6v-1h1.8v-4.5h1.8v-14.5h1.8v-16.5h1.8v7.5h1.8v9.5h1.8v-41.5h1.8v35.5h1.8v-22h1.8v-58.5h1.8v54.5h1.8v48.5h1.8v2.5h7.2v-14h1.8v-8h1.8v9h1.8v9.5h1.8v-34h1.8v-31.5h1.8v33.5h1.8v25h1.8v9h1.8v1h1.8v-15.5h1.8v-8h1.8v9h1.8v14.5h3.6v-2h1.8v4h3.6v-0.5h1.8v0.5h3.6v-2h1.8v0.5h1.8v1.5h3.6v-0.5h1.8v-0.5h1.8v1h1.8v-1h1.8v1h1.8v-1h1.8v0.5h5.4v-2h1.8v2.5h1.8v-2h3.6v-8h1.8v-10h1.8v13.5h1.8v3h1.8v3.5h7.2v-0.5h1.8v-1.5h1.8v2h5.4v-11h1.8v-16h1.8v19.5h1.8v7.5h1.8v-1h1.8v-0.5h1.8v-1h1.8v-0.5h1.8v-5h1.8v5h1.8v0.5h1.8v1h1.8v1.5h1.8v-2.5h1.8v1h1.8v1.5h7.2v-1h1.8v1h7.2v-0.5h1.8v0.5h1.8v-0.5h1.8v0.5h1.8v-0.5h1.8v0.5h3.6v-1.5h3.6v1.5h3.6v-1.5h3.6v1.5h3.6v-1h1.8v1h7.2v-0.5h1.8v-1.5h3.6v0.5h1.8v-0.5h1.8v-0.5h1.8v1h1.8v1.5h3.6v-1h1.8v1h5.4v-0.5h7.2v-0.5h1.8v1h1.8v-2h1.8v0.5h1.8v1h1.8v-0.5h1.8v0.5h1.8v0.5h1.8v-1h1.8v1h3.6v-1h1.8v-1h3.6v0.5h1.8v1.5h1.8v-0.5h5.4v0.5h1.8v-0.5h1.8v0.5h1.8v-1.5h1.8v1.5h5.4v-1h1.8v1h5.4v-2h1.8v0.5h1.8v1.5h12.6v-1.5h1.8v1.5h3.6v-0.5h1.8v0.5h1.8v-1.5h1.8v-0.5h1.8v1h1.8v1h1.8v-1.5h1.8v1.5h5.4v-1.5h1.8v-1h1.8v2.5h1.8v-0.5h1.8v-0.5h1.8v1h7.2v-0.5h5.4v-1.5h1.8v-0.5h1.8v1.5h3.6v1h1.8v-1h1.8v-0.5h1.8v1h1.8v0.5h3.6v-2h1.8v2z" fill="#d6454f" />
<path d="M62 1791.7v-0.5h1.8v0.5h3.6v-1h1.8v1h9v-1.5h1.8v0.5h1.8v1h3.6v-2h1.8v0.5h1.8v-0.5h1.8v0.5h1.8v1h1.8v-1.5h1.8v0.5h1.8v-4h1.8v4h1.8v1h3.6v-0.5h1.8v1h3.6v-1.5h1.8v1.5h3.6v-1h1.8v0.5h1.8v-1h1.8v-0.5h1.8v2h1.8v-2h1.8v-2h1.8v2.5h1.8v0.5h1.8v0.5h1.8v-1.5h5.4v1.5h1.8v0.5h1.8v-0.5h1.8v-1.5h1.8v2h9v-2h1.8v0.5h1.8v1.5h3.6v-0.5h1.8v0.5h1.8v-1h3.6v1h1.8v-2h1.8v2h3.6v-2.5h1.8v1h1.8v0.5h1.8v-1h1.8v0.5h3.6v-0.5h1.8v1.5h1.8v-1.5h1.8v0.5h3.6v1.5h5.4v-2h3.6v1.5h1.8v0.5h1.8v-2.5h1.8v1h3.6v-1h3.6v0.5h1.8v2h7.2v-2h1.8v-0.5h1.8v2.5h1.8v-0.5h1.8v-1.5h1.8v0.5h1.8v1.5h5.4v-2h1.8v-0.5h1.8v1h1.8v1.5h9v-1h1.8v1h1.8v-0.5h1.8v0.5h1.8v-2.5h1.8v0.5h3.6v1.5h1.8v0.5h1.8v-1h1.8v0.5h1.8v-2.5h1.8v-9.5h1.8v4.5h1.8v4h1.8v2h5.4v-1.5h1.8v2h1.8v-19.5h1.8v21h1.8v-2.5h1.8v2.5h7.2v-1.5h3.6v1.5h3.6v-3h1.8v3h1.8v-0.5h1.8v-3h1.8v3.5h3.6v-2.5h1.8v1h1.8v1h1.8v0.5h1.8v-2h1.8v-0.5h1.8v2.5h3.6v-0.5h1.8v-12h1.8v1h1.8v7.5h1.8v2.5h1.8v-0.5h1.8v-1h1.8v3h1.8v-2h1.8v0.5h1.8v-0.5h1.8v0.5h3.6v-1.5h1.8v2h1.8v1h1.8v-1.5h1.8v1.5h1.8v-1h1.8v0.5h1.8v-0.5h1.8v1h9v-1.5h1.8v1h1.8v-2h1.8v1h1.8v-1h1.8v1.5h1.8v1h3.6v-0.5h1.8v0.5h1.8v-0.5h3.6v-0.5h1.8v-1.5h1.8v2.5h7.2v-2h1.8v-0.5h1.8v2.5h3.6v-1.5h1.8v-0.5h1.8v1.5h1.8v-0.5h1.8v0.5h1.8v0.5h7.2v-2.5h1.8v2.5h3.6v-1h1.8v1h3.6v-2h3.6v2h1.8v-2h1.8v0.5h1.8v1h3.6v0.5h1.8v-1h1.8v0.5h1.8v-1h1.8v1.5h1.8v-0.5h3.6v0.5h1.8v-2h3.6v2h3.6v-2.5h1.8v0.5h1.8v1h1.8v-1.5h1.8v2h1.8v0.5h1.8v-1.5h1.8v1.5h3.6v-2h1.8v2h1.8v-2h1.8v2h1.8v-2h1.8v2h3.6v-1h1.8v1h3.6v-2h3.6v-0.5h1.8v1h3.6v-1h1.8v0.5h1.8v0.5h1.8v1.5h5.4v-2h3.6v1.5h3.6v0.5h3.6v-1h1.8v1h1.8v-2h3.6v2h1.8v-1h1.8v0.5h1.8v0.5h5.4v-2h1.8v0.5h1.8v1.5h1.8v-2.5h1.8v0.5h1.8v-0.5h1.8v2.5h1.8v-1.5h1.8v1.5h3.6v-2h1.8v2h1.8v-3h1.8v1.5h1.8v-1.5h1.8v0.5h1.8v1h1.8v-0.5h1.8v0.5h1.8v-0.5h1.8v2h3.6v-1h1.8v-1h1.8v-1h1.8v-1h1.8v-15.5h1.8v13.5h1.8v-4.5h1.8v-8h1.8v6h1.8v12.5h1.8v-0.5h3.6v-1h3.6v-3.5h1.8v4h1.8v-47h1.8v-29.5h1.8v40.5h1.8v35.5h1.8v-0.5h1.8v0.5h1.8v-0.5h3.6v1.5h3.6v-0.5h1.8v-0.5h1.8v-2h1.8v-25h1.8v-28h1.8v26.5h1.8v-46h1.8v-36h1.8v48.5h1.8v61.5h1.8v-5h1.8v7h1.8v-2h1.8v-1.5h1.8v2h1.8v-3.5h3.6v1h1.8v2h1.8v-7h1.8v-14.5h1.8v16h1.8v5h1.8v-1.5h1.8v2.5h1.8v1.5h7.2v-6h1.8v4.5h5.4v-36h1.8v33.5h1.8v-8h1.8v9h1.8v1h1.8v0.5h1.8v-2h1.8v-2.5h1.8v6h1.8v-2h3.6v-1.5h1.8v-0.5h1.8v2h1.8v2h1.8v-4.5h1.8v4h1.8v-0.5h1.8v-3.5h1.8v3h1.8v-0.5h1.8v1h3.6v-1h1.8v-4h1.8v-9h1.8v8h1.8v7h1.8v-15h1.8v-12h1.8v12h1.8v11h1.8v-1.5h1.8v-4.5h1.8v-10h1.8v-17.5h1.8v15h1.8v19.5h1.8v-2.5h1.8v4h1.8v-5h1.8v-8.5h1.8v7.5h1.8v5.5h5.4v-31h1.8v-37h1.8v42h1.8v21.5h1.8v4.5h1.8v0.5h1.8v-5.5h1.8v4h1.8v-5h1.8v3.5h1.8v0.5h1.8v2.5h1.8v1.5h1.8v-2h1.8v0.5h1.8v0.5h3.6v1h1.8v-2h1.8v2h1.8v-1h1.8v0.5h1.8v-0.5h1.8v-1h1.8v2h1.8v-0.5h1.8v0.5h1.8v-0.5h1.8v0.5h5.4v-1.5h1.8v-0.5h5.4v0.5h3.6v1h1.8v0.5h3.6v-1h1.8v1h1.8v-2.5h1.8v1.5h1.8v0.5h1.8v-2.5h1.8v1h1.8v0.5h1.8v-1h3.6v1h1.8v1.5h1.8v-2.5h1.8v0.5h3.6v2h1.8v-0.5h1.8v-2h1.8v1h1.8v1.5h1.8v-0.5h3.6v0.5h1.8v-2h1.8v-1h1.8v3h5.4v-1h1.8v-0.5h1.8v-0.5h1.8v2h3.6v-2h3.6v2h1.8v-1h1.8v1h5.4v-2h1.8v1h1.8v1h3.6v-6.5h1.8v-9.5h1.8v11.5h1.8v4h1.8v-1.5h1.8v-1h1.8v3h7.2v-3.5h1.8v-7h1.8v6.5h1.8v0.5h1.8v3.5h1.8v-1.5h1.8v-7h1.8v-6.5h1.8v11h1.8v-4.5h1.8v-5.5h1.8v7.5h1.8v4.5h1.8v-3h1.8v-7.5h1.8v8h1.8v4.5h1.8v-2.5h1.8v1.5h1.8v-0.5h1.8v-1h1.8v1h1.8v1h1.8v0.5h5.4v-1.5h1.8v1h1.8v-1h1.8v1.5h3.6v-2h1.8v-0.5h1.8v2.5h1.8v-0.5h1.8v0.5h12.6z" fill="#2aabcf" />
<path d="M62 1791.7h57.6v-1.5h1.8v-0.5h1.8v2h3.6v-2h1.8v0.5h1.8v1.5h3.6v-2h3.6v2h54v-1.5h3.6v1.5h7.2v-2h3.6v2h7.2v-1.5h1.8v-1h3.6v0.5h1.8v2h7.2v-1.5h1.8v-1h1.8v2.5h3.6v-2h1.8v0.5h1.8v1.5h7.2v-2.5h1.8v1h1.8v1.5h28.8v-3h1.8v-9.5h1.8v9.5h1.8v3h5.4v-2h3.6v0.5h1.8v-0.5h1.8v2h10.8v-1.5h3.6v1.5h3.6v-0.5h1.8v0.5h1.8v-0.5h3.6v0.5h3.6v-2.5h1.8v1h1.8v1h1.8v0.5h1.8v-2h1.8v0.5h1.8v1.5h3.6v-0.5h1.8v-5.5h1.8v-5.5h1.8v7.5h1.8v2.5h1.8v-0.5h1.8v1.5h1.8v0.5h1.8v-2h1.8v0.5h1.8v-0.5h1.8v0.5h3.6v-1h1.8v1.5h1.8v1h5.4v-1h1.8v1h18v-0.5h1.8v0.5h1.8v-1h1.8v1h3.6v-0.5h1.8v0.5h1.8v-0.5h3.6v-0.5h1.8v-1.5h1.8v2.5h7.2v-2h1.8v-0.5h1.8v2.5h3.6v-1.5h1.8v-0.5h1.8v1.5h1.8v-0.5h1.8v0.5h1.8v0.5h7.2v-2.5h1.8v2.5h3.6v-1h1.8v1h3.6v-1.5h1.8v-0.5h1.8v2h1.8v-2h1.8v0.5h1.8v1h3.6v0.5h1.8v-1h1.8v0.5h1.8v-1h1.8v1.5h1.8v-0.5h3.6v0.5h1.8v-2h3.6v2h3.6v-2h3.6v1h1.8v-1.5h1.8v2.5h9v-1.5h1.8v1.5h10.8v-1h1.8v1h3.6v-2h3.6v0.5h10.8v1.5h7.2v-0.5h1.8v0.5h1.8v-0.5h1.8v0.5h7.2v-2h3.6v2h1.8v-1h1.8v1h7.2v-2h1.8v0.5h1.8v1.5h1.8v-1h1.8v-1h1.8v-0.5h1.8v2.5h1.8v-0.5h1.8v0.5h7.2v-1.5h3.6v0.5h1.8v-1h1.8v0.5h3.6v0.5h3.6v1h3.6v-1h1.8v1h1.8v-2.5h1.8v2.5h3.6v-1.5h1.8v1h1.8v0.5h1.8v-2h1.8v2h3.6v-0.5h1.8v-1h3.6v-0.5h1.8v1h1.8v-8h1.8v-13h1.8v11.5h1.8v9h1.8v-0.5h1.8v0.5h1.8v-0.5h1.8v0.5h1.8v1h1.8v0.5h1.8v-1h1.8v1h1.8v-3.5h1.8v-1h1.8v-11h1.8v-14.5h1.8v-37h1.8v38.5h1.8v11.5h1.8v15h1.8v1h1.8v1h1.8v-2h1.8v-1.5h1.8v2h1.8v-3.5h3.6v1h1.8v2h1.8v-7h1.8v-14.5h1.8v16h1.8v5h1.8v-1.5h1.8v2.5h1.8v1.5h7.2v-6h1.8v4.5h5.4v-36h1.8v33.5h1.8v-8h1.8v9h1.8v1h1.8v0.5h1.8v-2h1.8v-2.5h1.8v6h1.8v-2h3.6v2h3.6v-0.5h1.8v0.5h3.6v-0.5h1.8v-0.5h1.8v1h3.6v-0.5h1.8v-0.5h1.8v1h1.8v-1h1.8v1h1.8v-1h1.8v0.5h1.8v0.5h1.8v-0.5h1.8v-2h1.8v2.5h1.8v-2h3.6v-8h1.8v-10h1.8v13.5h1.8v3h1.8v3.5h7.2v-0.5h1.8v-1.5h1.8v2h5.4v-11h1.8v-16h1.8v19.5h1.8v7.5h1.8v-1h1.8v-0.5h1.8v-1h1.8v-0.5h1.8v-5h1.8v5h1.8v0.5h1.8v1h1.8v1.5h1.8v-2h1.8v0.5h1.8v1.5h28.8v-1.5h3.6v1.5h3.6v-1.5h3.6v1.5h12.6v-0.5h1.8v-1.5h3.6v0.5h1.8v-0.5h1.8v-0.5h1.8v1h1.8v1.5h3.6v-1h1.8v1h5.4v-0.5h3.6v0.5h1.8v-0.5h3.6v0.5h1.8v-2h1.8v0.5h1.8v1.5h7.2v-1h1.8v1h5.4v-2h3.6v2h10.8v-0.5h1.8v0.5h9v-0.5h1.8v0.5h21.6v-1.5h1.8v1.5h3.6v-0.5h1.8v0.5h1.8v-1.5h1.8v-0.5h1.8v1h1.8v1h1.8v-1.5h1.8v1.5h5.4v-1.5h1.8v-1h1.8v2.5h1.8v-0.5h1.8v0.5h9v-0.5h1.8v0.5h3.6v-2h1.8v-0.5h1.8v2.5h1.8v-0.5h1.8v0.5h12.6z" fill="#253f59" />
<path d="M62 1807v1.5h1.8v0.5h1.8v-2h1.8v0.5h1.8v-0.5h1.8v1h1.8v3.5h1.8v-3h1.8v-0.5h1.8v-1h5.4v1.5h5.4v0.5h1.8v-0.5h3.6v-1.5h1.8v1h3.6v-1h3.6v0.5h1.8v-0.5h3.6v0.5h1.8v-0.5h5.4v1.5h1.8v-0.5h3.6v-0.5h3.6v-0.5h1.8v0.5h1.8v-0.5h3.6v1.5h5.4v-1.5h3.6v0.5h1.8v-0.5h1.8v1.5h7.2v-0.5h1.8v-0.5h1.8v-0.5h1.8v1.5h1.8v-1h1.8v0.5h1.8v-1h3.6v1.5h1.8v-0.5h1.8v-1h1.8v1h1.8v-1h1.8v1h1.8v-1h1.8v1h3.6v-1h1.8v2h3.6v-2h5.4v1.5h1.8v0.5h1.8v-1h1.8v-1h1.8v1h1.8v0.5h1.8v-1.5h1.8v1.5h3.6v-1.5h10.8v0.5h1.8v-0.5h1.8v2h1.8v-1.5h1.8v0.5h1.8v1h3.6v-0.5h3.6v-1.5h1.8v0.5h1.8v-0.5h1.8v2h3.6v-0.5h1.8v-0.5h1.8v0.5h1.8v0.5h1.8v-2h1.8v1h1.8v-1h1.8v1.5h1.8v-0.5h1.8v0.5h1.8v0.5h1.8v-0.5h1.8v-1.5h1.8v0.5h1.8v-0.5h7.2v1h5.4v-1h1.8v0.5h1.8v0.5h3.6v0.5h1.8v-1.5h1.8v0.5h3.6v-0.5h1.8v1.5h1.8v0.5h1.8v-2h3.6v1.5h3.6v-1.5h3.6v1.5h7.2v-1h1.8v3.5h1.8v4h1.8v3.5h1.8v-6h1.8v-5h1.8v-0.5h7.2v2.5h1.8v-2.5h1.8v1h1.8v-1h5.4v1.5h1.8v0.5h1.8v-0.5h1.8v-1.5h12.6v1.5h1.8v-1h1.8v2h1.8v-2.5h1.8v3h1.8v-1.5h1.8v2.5h3.6v-4h1.8v15.5h1.8v-15.5h1.8v2h1.8v-2h3.6v1.5h1.8v1.5h1.8v-3h3.6v3h1.8v-1h1.8v1.5h1.8v-1.5h1.8v7.5h1.8v-6.5h1.8v-3h1.8v3.5h1.8v-1.5h1.8v-0.5h1.8v-0.5h1.8v-1h1.8v7.5h1.8v4.5h1.8v-8.5h1.8v-3.5h3.6v2.5h1.8v-2.5h3.6v3h1.8v-2h1.8v-1h1.8v2.5h1.8v-1h1.8v1.5h1.8v5h1.8v-5h1.8v-3h1.8v2h1.8v-0.5h1.8v-0.5h1.8v0.5h3.6v-1.5h3.6v1.5h1.8v0.5h1.8v5h1.8v-4h1.8v-3h1.8v1.5h1.8v-1.5h7.2v0.5h1.8v1.5h1.8v-0.5h1.8v-1.5h9v1.5h3.6v-1.5h1.8v0.5h1.8v-0.5h1.8v0.5h3.6v-0.5h1.8v1.5h1.8v-1.5h3.6v0.5h1.8v1h3.6v-1.5h1.8v0.5h1.8v7.5h1.8v-5h1.8v-3h1.8v2.5h1.8v-2h1.8v-0.5h1.8v1.5h1.8v0.5h1.8v-1h5.4v-0.5h1.8v1h1.8v8h1.8v-6h1.8v-1.5h1.8v-2h1.8v2h1.8v-1h1.8v0.5h1.8v0.5h1.8v-1h1.8v0.5h1.8v1.5h1.8v-1.5h1.8v1h1.8v9.5h1.8v19h1.8v-23h1.8v-7.5h1.8v1.5h1.8v-2h1.8v2h1.8v-0.5h1.8v-1.5h5.4v3.5h1.8v-1.5h1.8v-0.5h3.6v-1.5h1.8v6.5h1.8v10h1.8v-6.5h1.8v-8.5h1.8v5h1.8v-5h1.8v12h1.8v12h1.8v-14h1.8v-10.5h1.8v1.5h1.8v3h1.8v0.5h1.8v-0.5h1.8v-3.5h7.2v13h1.8v19.5h1.8v-14h1.8v-18.5h1.8v2h1.8v-2h1.8v0.5h3.6v-0.5h1.8v-0.5h1.8v2h1.8v-1.5h1.8v-1h1.8v8.5h1.8v42h1.8v-34.5h1.8v-8.5h1.8v-8.5h1.8v1h1.8v6h1.8v-4.5h3.6v-1.5h1.8v0.5h1.8v-1.5h1.8v5.5h1.8v1h1.8v1h1.8v-5.5h1.8v-1h1.8v1.5h3.6v0.5h5.4v-1h1.8v1h1.8v1.5h1.8v-2h3.6v-1h1.8v3.5h1.8v6h1.8v9h1.8v16h1.8v-27h1.8v-7.5h3.6v-1.5h3.6v11h1.8v7.5h1.8v-14.5h1.8v1.5h1.8v-1.5h3.6v-2h1.8v16.5h1.8v19h1.8v-17h1.8v-14h1.8v-2h1.8v0.5h1.8v10.5h1.8v24.5h1.8v-18.5h1.8v21.5h1.8v74h1.8v-47.5h1.8v-33.5h1.8v-18.5h1.8v-12h1.8v-1h1.8v-1.5h1.8v1h1.8v10h1.8v16h1.8v-11.5h1.8v-17.5h1.8v-0.5h1.8v-0.5h1.8v2h1.8v-1h1.8v-0.5h1.8v-0.5h1.8v0.5h1.8v1h1.8v-0.5h1.8v0.5h5.4v-0.5h1.8v1h1.8v-1h1.8v1h1.8v-1h1.8v0.5h3.6v-1.5h9v0.5h1.8v1h1.8v-1.5h1.8v1.5h3.6v-1h3.6v1h1.8v0.5h1.8v-2h1.8v1h1.8v0.5h3.6v-1.5h3.6v1.5h7.2v-1.5h3.6v0.5h1.8v-0.5h1.8v1.5h3.6v0.5h1.8v-1h1.8v-1h1.8v0.5h1.8v-0.5h1.8v0.5h3.6v-0.5h1.8v1h1.8v0.5h5.4v-1.5h5.4v1h3.6v1h3.6v-0.5h1.8v-1.5h3.6v1h1.8v-1h3.6v0.5h1.8v0.5h3.6v-0.5h1.8v-0.5h1.8v1.5h3.6v-1.5h7.2v2h1.8v-0.5h1.8v-1.5h1.8v0.5h1.8v0.5h1.8v1h1.8v-1h1.8v-1h3.6v1h1.8v-1h3.6v1h1.8v0.5h1.8v-0.5h1.8v0.5h1.8v-1.5h10.8v0.5h1.8v0.5h3.6v1h1.8v-2h1.8v0.5h1.8v-0.5h1.8v0.5h1.8v-0.5h7.2v1h3.6v0.5h1.8v-0.5h3.6v-0.5h1.8v1h1.8v0.5h1.8v-2h1.8v0.5h1.8v-0.5h3.6v2h1.8v-0.5h1.8v-1.5h9v0.5h1.8v0.5h1.8v-1h5.4v1.5h3.6v-1.5h3.6v1h1.8v-1z" fill="#d6454f" />
<path d="M62 1807v1.5h1.8v0.5h1.8v-2h5.4v1h1.8v3.5h1.8v-3h1.8v-1.5h3.6v1h1.8v1h1.8v-0.5h1.8v1h1.8v3.5h1.8v-3h1.8v-1.5h3.6v-0.5h1.8v-1h3.6v2h1.8v-2h3.6v0.5h1.8v-0.5h1.8v0.5h1.8v-0.5h1.8v1h1.8v-1h1.8v1.5h1.8v-0.5h3.6v0.5h1.8v-1.5h1.8v0.5h1.8v1.5h1.8v-1.5h1.8v1h1.8v-1h1.8v1h3.6v-1h1.8v-0.5h5.4v1.5h3.6v-1.5h3.6v1h1.8v-1h3.6v0.5h1.8v-0.5h7.2v1.5h1.8v-0.5h1.8v-1h3.6v1.5h1.8v-1.5h9v0.5h1.8v-0.5h3.6v0.5h1.8v-0.5h1.8v0.5h1.8v1.5h1.8v-1h1.8v-1h1.8v0.5h1.8v0.5h1.8v-1h1.8v1.5h3.6v-1h1.8v-0.5h1.8v1.5h1.8v-1.5h1.8v1h1.8v-0.5h1.8v0.5h3.6v-0.5h1.8v0.5h1.8v-1h3.6v2h1.8v-1h1.8v-1h3.6v2h1.8v-2h1.8v1.5h1.8v0.5h1.8v-1.5h1.8v-0.5h1.8v1.5h1.8v0.5h1.8v-1.5h1.8v-0.5h3.6v0.5h1.8v0.5h1.8v0.5h1.8v-1h1.8v-0.5h5.4v1h1.8v-1h3.6v1h3.6v-1h1.8v0.5h1.8v-0.5h10.8v0.5h1.8v0.5h1.8v-1h1.8v1.5h3.6v0.5h1.8v-2h1.8v1.5h3.6v-1.5h3.6v1.5h1.8v-0.5h1.8v0.5h3.6v-1.5h1.8v4h1.8v4h1.8v-5h1.8v-1.5h1.8v-1.5h1.8v0.5h1.8v0.5h1.8v0.5h1.8v-1.5h7.2v1h1.8v-1h3.6v1.5h1.8v0.5h1.8v-1.5h1.8v1.5h1.8v-2h10.8v0.5h1.8v-0.5h5.4v1.5h3.6v-1.5h3.6v1h1.8v-0.5h1.8v-0.5h7.2v1.5h1.8v-0.5h1.8v-1h1.8v0.5h1.8v1h1.8v0.5h1.8v-1.5h1.8v-0.5h5.4v2h1.8v-1h1.8v1h3.6v-2h5.4v0.5h1.8v-0.5h7.2v2h1.8v-1.5h1.8v-0.5h7.2v1h1.8v2h1.8v5h1.8v-5h1.8v-2h3.6v1.5h1.8v-1.5h1.8v0.5h3.6v-0.5h1.8v-1h1.8v1.5h1.8v0.5h1.8v5h1.8v-4h1.8v-2h1.8v-0.5h1.8v0.5h3.6v-1h1.8v1h1.8v-1h1.8v2h1.8v-1.5h1.8v-0.5h1.8v0.5h1.8v-0.5h3.6v2h1.8v-1.5h1.8v-0.5h1.8v2.5h1.8v-2h1.8v-0.5h12.6v2h1.8v-0.5h3.6v-0.5h3.6v0.5h1.8v-1.5h3.6v1.5h1.8v-1.5h7.2v0.5h1.8v2h1.8v-0.5h1.8v-2h1.8v1.5h3.6v0.5h3.6v-1.5h1.8v-0.5h1.8v3h1.8v-1.5h1.8v-1.5h3.6v1.5h1.8v1.5h1.8v-1.5h1.8v0.5h1.8v-1.5h1.8v0.5h1.8v-1h7.2v2.5h1.8v-1h1.8v-1.5h1.8v0.5h1.8v-0.5h1.8v2.5h1.8v-0.5h1.8v0.5h1.8v-2.5h1.8v2.5h1.8v-1h3.6v-1.5h9v16h1.8v-15.5h1.8v-0.5h3.6v1h1.8v-1h3.6v4h1.8v-2.5h1.8v-1.5h3.6v15h1.8v8.5h1.8v-14.5h1.8v-7.5h1.8v0.5h3.6v-0.5h3.6v0.5h1.8v-0.5h1.8v-0.5h1.8v2h1.8v-2h1.8v8h1.8v15.5h1.8v-16h1.8v-5h1.8v0.5h1.8v0.5h1.8v-1h1.8v1h1.8v-3h1.8v-1.5h1.8v1h1.8v3.5h1.8v-3h1.8v-0.5h1.8v0.5h1.8v0.5h1.8v2.5h1.8v7h1.8v-8.5h1.8v2.5h1.8v-4h3.6v1.5h1.8v-1.5h1.8v1.5h1.8v-3h3.6v5h1.8v-4h1.8v10h1.8v9h1.8v-13h1.8v-5h1.8v3.5h1.8v-2.5h3.6v0.5h5.4v1.5h1.8v3h1.8v11h1.8v-3h1.8v1h1.8v-14h1.8v-0.5h1.8v16.5h1.8v-12.5h1.8v-2h1.8v1h1.8v10h1.8v24.5h1.8v-18.5h1.8v-15h1.8v93.5h1.8v-85.5h1.8v21.5h1.8v-18.5h1.8v42.5h1.8v-35.5h1.8v-8.5h1.8v-12h1.8v10h1.8v16h1.8v52h1.8v-43h1.8v-22h1.8v-8.5h1.8v-8.5h1.8v11.5h1.8v8.5h1.8v-10.5h1.8v-8.5h1.8v2h1.8v8h1.8v6h1.8v7h1.8v5h1.8v20.5h1.8v-21.5h1.8v-6h1.8v-17.5h1.8v-0.5h1.8v-2h1.8v0.5h1.8v-2h1.8v-0.5h1.8v1.5h5.4v-1.5h1.8v1.5h1.8v1.5h1.8v-1.5h3.6v-1.5h3.6v1.5h1.8v0.5h1.8v-2h3.6v1.5h3.6v-1.5h1.8v1.5h1.8v-1.5h1.8v1.5h1.8v-1h1.8v-0.5h3.6v1.5h1.8v-1.5h3.6v1.5h3.6v0.5h1.8v-1h1.8v-0.5h1.8v-0.5h9v1h1.8v0.5h1.8v0.5h1.8v-0.5h1.8v0.5h1.8v0.5h1.8v0.5h1.8v-1h1.8v-1.5h3.6v1.5h1.8v-0.5h1.8v-1h1.8v-0.5h14.4v0.5h1.8v-0.5h5.4v0.5h3.6v1.5h3.6v-0.5h1.8v-1.5h1.8v2h3.6v3h1.8v6.5h1.8v-4h1.8v-6h1.8v0.5h1.8v-2h1.8v2h1.8v-1h1.8v1h1.8v-1h1.8v0.5h1.8v-1.5h1.8v2.5h1.8v-2.5h1.8v1.5h1.8v1h1.8v-2.5h1.8v1h1.8v-1h7.2v1h1.8v-1h5.4v1h1.8v0.5h1.8v-1.5h1.8v2.5h1.8v-2.5h3.6v2h3.6v-2h1.8v1.5h1.8v0.5h1.8v-2h3.6v1.5h1.8v-1.5h1.8v2h1.8v-0.5h1.8v-1.5h1.8v0.5h1.8v-0.5h3.6v1h1.8v0.5h1.8v-1.5h5.4v1.5h5.4v-0.5h5.4v-1z" fill="#2aabcf" />
<path d="M62 1807v1.5h1.8v0.5h1.8v-2h5.4v1h1.8v3.5h1.8v-3h1.8v-1.5h7.2v1.5h5.4v0.5h1.8v-0.5h3.6v-1.5h14.4v0.5h1.8v-0.5h5.4v1.5h1.8v-0.5h3.6v-0.5h1.8v-0.5h3.6v0.5h1.8v-0.5h3.6v0.5h1.8v1h3.6v-1.5h7.2v1.5h3.6v-1.5h3.6v1h1.8v-1h3.6v0.5h1.8v-0.5h7.2v1.5h1.8v-0.5h1.8v-1h14.4v0.5h1.8v-0.5h7.2v0.5h1.8v1.5h1.8v-1h1.8v-1h1.8v0.5h1.8v0.5h1.8v-1h1.8v1.5h3.6v-1.5h10.8v0.5h1.8v-0.5h1.8v0.5h3.6v-0.5h3.6v2h1.8v-1h1.8v-1h3.6v0.5h1.8v-0.5h1.8v1.5h1.8v0.5h1.8v-1.5h1.8v-0.5h1.8v1.5h1.8v0.5h1.8v-2h5.4v0.5h1.8v0.5h1.8v0.5h1.8v-1h1.8v-0.5h12.6v1h1.8v-1h1.8v0.5h1.8v-0.5h10.8v0.5h3.6v-0.5h1.8v1.5h3.6v-1.5h3.6v1.5h3.6v-1.5h3.6v1.5h1.8v-0.5h1.8v0.5h3.6v-1.5h1.8v4h1.8v4h1.8v-5h1.8v-1.5h1.8v-1.5h19.8v1.5h1.8v0.5h1.8v-1.5h1.8v-0.5h12.6v0.5h1.8v-0.5h5.4v1.5h3.6v-1.5h5.4v0.5h1.8v-0.5h7.2v1.5h1.8v-0.5h1.8v-1h3.6v1.5h1.8v0.5h1.8v-1.5h1.8v-0.5h7.2v1h1.8v1h1.8v-0.5h1.8v-1.5h5.4v0.5h1.8v-0.5h18v1h1.8v2h1.8v5h1.8v-5h1.8v-3h1.8v1h1.8v0.5h1.8v-0.5h1.8v0.5h3.6v-1.5h3.6v1.5h1.8v0.5h1.8v5h1.8v-4h1.8v-3h1.8v0.5h1.8v-0.5h9v2h1.8v-1.5h1.8v-0.5h9v0.5h1.8v-0.5h3.6v0.5h1.8v-0.5h12.6v0.5h1.8v1h3.6v-1.5h1.8v0.5h1.8v1h1.8v-1.5h3.6v1.5h1.8v-1.5h7.2v0.5h1.8v0.5h3.6v-1h1.8v1.5h3.6v0.5h3.6v-2h3.6v1h1.8v0.5h1.8v-1.5h3.6v1.5h1.8v1.5h1.8v-1.5h1.8v0.5h1.8v-1.5h1.8v0.5h1.8v-1h7.2v2h1.8v-0.5h1.8v-1.5h5.4v2.5h1.8v-0.5h1.8v-0.5h1.8v-1.5h3.6v1.5h3.6v-1.5h9v16h1.8v-15.5h1.8v-0.5h3.6v1h1.8v-1h3.6v2h1.8v-0.5h1.8v-1.5h3.6v15h1.8v8.5h1.8v-14.5h1.8v-7.5h1.8v0.5h3.6v-0.5h3.6v0.5h1.8v-0.5h1.8v-0.5h1.8v1h1.8v-1h1.8v8h1.8v15.5h1.8v-16h1.8v-5h1.8v-3.5h1.8v1h1.8v2.5h1.8v-1h1.8v-1h1.8v-1.5h1.8v1h1.8v-1h1.8v1.5h1.8v-0.5h1.8v0.5h1.8v0.5h1.8v-1h1.8v1.5h3.6v0.5h1.8v-1.5h3.6v0.5h1.8v-0.5h1.8v1.5h1.8v-3h3.6v1.5h1.8v-0.5h1.8v10h1.8v9h1.8v-13h1.8v-5h1.8v-0.5h3.6v-1.5h3.6v3.5h3.6v0.5h1.8v1.5h1.8v-1.5h3.6v-2h1.8v1h1.8v-0.5h1.8v16.5h1.8v-12.5h1.8v-2h1.8v0.5h1.8v10.5h1.8v24.5h1.8v-18.5h1.8v-15h1.8v93.5h1.8v-85.5h1.8v21.5h1.8v-18.5h1.8v-12h1.8v-1h1.8v-1.5h1.8v1h1.8v10h1.8v16h1.8v-11.5h1.8v-17.5h1.8v-0.5h1.8v-0.5h3.6v1h1.8v-0.5h1.8v-0.5h1.8v0.5h1.8v1h1.8v-0.5h1.8v0.5h5.4v-0.5h1.8v1h1.8v-1h1.8v1h1.8v-1h1.8v0.5h3.6v-1.5h10.8v1.5h1.8v-1.5h1.8v1.5h3.6v-1.5h3.6v1.5h1.8v0.5h1.8v-2h3.6v1.5h3.6v-1.5h5.4v1.5h1.8v-1h1.8v-0.5h9v1.5h3.6v0.5h1.8v-1h1.8v-1h10.8v1h1.8v0.5h5.4v-1.5h5.4v1h1.8v-0.5h3.6v1.5h1.8v-0.5h1.8v-1.5h28.8v2h1.8v-0.5h1.8v-1.5h1.8v0.5h1.8v0.5h1.8v1h1.8v-1h1.8v-1h3.6v1h1.8v-1h3.6v1h1.8v0.5h1.8v-0.5h1.8v0.5h1.8v-1.5h10.8v0.5h1.8v-0.5h7.2v0.5h1.8v-0.5h10.8v1h1.8v-1h3.6v1h3.6v-1h1.8v1.5h1.8v0.5h1.8v-2h7.2v2h1.8v-0.5h1.8v-1.5h9v0.5h1.8v-0.5h7.2v1.5h3.6v-1.5h3.6v1h1.8v-1z" fill="#253f59" />
<text x="1076" y="1479.7" font-size="31" font-weight="bold">f</text>
<text x="1448" y="1457.2" font-size="20.5" textLength="96" lengthAdjust="spacingAndGlyphs" stroke="#000" stroke-width=".3">200 bases</text>
<path d="M1552.5 1445V1459M1552.5 1452H1834.6M1834.6 1445V1459" fill="none" stroke="#000" stroke-width="1.6" />
<text x="1843.5" y="1457.2" font-size="20.5" textLength="46" lengthAdjust="spacingAndGlyphs" stroke="#000" stroke-width=".3">mm9</text>
<text x="1067" y="1512" font-size="20.5" textLength="51.5" lengthAdjust="spacingAndGlyphs" stroke="#000" stroke-width=".3">320 <tspan dy="-.8" stroke-width=".1">_</tspan></text>
<text x="1090.5" y="1643" font-size="20.5" textLength="28" lengthAdjust="spacingAndGlyphs" stroke="#000" stroke-width=".3">0 <tspan dy="-.8" stroke-width=".1">_</tspan></text>
<path d="M1130.7 1643.8v-5h25.2v-0.5h7.2v0.5h1.8v-0.5h28.8v-0.5h1.8v0.5h1.8v-0.5h1.8v0.5h3.6v-0.5h36v-0.5h3.6v0.5h3.6v-0.5h36v-0.5h3.6v0.5h1.8v-0.5h45v0.5h3.6v-0.5h3.6v0.5h21.6v0.5h21.6v0.5h21.6v0.5h3.6v-0.5h3.6v0.5h16.2v0.5h1.8v-0.5h1.8v0.5h14.4v0.5h12.6v0.5h14.4v0.5h16.2v0.5h14.4v0.5h1.8v-0.5h1.8v0.5h28.8v0.5h1.8v-0.5h1.8v0.5h28.8v0.5h133.2v-0.5h10.8v-0.5h3.6v-0.5h3.6v-0.5h1.8v-0.5h3.6v-0.5h1.8v-0.5h3.6v-0.5h1.8v-0.5h1.8v-0.5h1.8v-0.5h1.8v-0.5h1.8v-0.5h3.6v-0.5h1.8v-0.5h1.8v-0.5h1.8v-1h1.8v-0.5h1.8v-0.5h1.8v-1h1.8v-0.5h1.8v-0.5h1.8v-1h1.8v-1h1.8v-0.5h1.8v-1h1.8v-0.5h1.8v-5.5h1.8v-6h1.8v-6.5h1.8v-3.5h1.8v-3.5h1.8v-2.5h1.8v-1h1.8v-1.5h1.8v-2.5h3.6v-0.5h3.6v0.5h1.8v-0.5h1.8v-1.5h7.2v0.5h1.8v-0.5h1.8v-1h3.6v-1h3.6v0.5h1.8v-0.5h1.8v-2.5h1.8v-0.5h1.8v-0.5h1.8v-0.5h1.8v-0.5h1.8v-0.5h3.6v-0.5h1.8v-1.5h1.8v0.5h1.8v1h1.8v0.5h1.8v-1h3.6v1.5h1.8v0.5h1.8v-0.5h3.6v1.5h5.4v0.5h5.4v0.5h1.8v0.5h5.4v-0.5h3.6v1.5h1.8v0.5h1.8v-1.5h1.8v0.5h1.8v1h3.6v-0.5h3.6v1.5h7.2v4.5h1.8v3.5h1.8v3.5h1.8v4h1.8v3h1.8v3.5h1.8v1.5h1.8v0.5h1.8v1h1.8v1h1.8v0.5h1.8v0.5h1.8v1h1.8v0.5h3.6v0.5h5.4v0.5h3.6v1h3.6v0.5h5.4v0.5h1.8v0.5h5.4v0.5h3.6v0.5h1.8v-0.5h3.6v1h7.2v0.5h1.8v0.5h3.6v0.5h5.4v0.5h3.6v0.5h1.8v0.5h3.6v0.5h5.4v0.5h3.6v0.5h3.6v0.5h7.2v0.5h3.6v0.5h1.8v0.5h1.8v-0.5h1.8v0.5h5.4v0.5h9v0.5h10.8v0.5h16.2v0.5h7.2v0.5h3.6v-0.5h3.6v0.5h5.4v0.5h9v0.5h3.6v-0.5h1.8v0.5h9v0.5h9v0.5h5.4v0.5h9v0.5h3.6v7z" fill="#d6454f" />
<path d="M1130.7 1643.8v-15h7.2v-0.5h3.6v0.5h1.8v-0.5h7.2v-0.5h7.2v-0.5h5.4v0.5h1.8v-0.5h1.8v-0.5h10.8v-0.5h3.6v-0.5h5.4v-0.5h1.8v-0.5h7.2v-0.5h3.6v-0.5h7.2v-0.5h10.8v0.5h7.2v-0.5h5.4v0.5h5.4v-0.5h3.6v1h3.6v-0.5h3.6v0.5h7.2v0.5h3.6v-0.5h3.6v-3.5h1.8v-4h1.8v-1h1.8v-0.5h5.4v-0.5h1.8v-0.5h5.4v-0.5h3.6v-0.5h1.8v-0.5h1.8v0.5h7.2v-0.5h3.6v0.5h3.6v-0.5h3.6v0.5h3.6v-0.5h9v0.5h5.4v0.5h3.6v-1h18v1h1.8v-0.5h9v-0.5h3.6v0.5h3.6v-1h7.2v1h3.6v-0.5h7.2v0.5h1.8v0.5h1.8v-0.5h7.2v-0.5h3.6v1h3.6v-0.5h9v0.5h5.4v0.5h1.8v0.5h1.8v-0.5h3.6v0.5h3.6v1h1.8v0.5h3.6v0.5h1.8v1h1.8v1.5h1.8v1h1.8v1.5h1.8v1h1.8v1h1.8v1h7.2v0.5h3.6v0.5h3.6v0.5h7.2v0.5h7.2v1h5.4v0.5h5.4v0.5h1.8v0.5h5.4v0.5h5.4v1h1.8v1h1.8v1h1.8v1h16.2v-0.5h9v0.5h3.6v-0.5h1.8v0.5h5.4v-0.5h1.8v0.5h12.6v0.5h10.8v0.5h5.4v0.5h7.2v0.5h3.6v0.5h5.4v0.5h3.6v0.5h7.2v0.5h5.4v0.5h7.2v0.5h3.6v0.5h7.2v0.5h5.4v0.5h5.4v0.5h5.4v0.5h3.6v0.5h9v0.5h9v0.5h41.4v-0.5h5.4v-0.5h3.6v-0.5h5.4v-0.5h5.4v-0.5h1.8v-1h1.8v-1h1.8v-0.5h1.8v-1h1.8v-1h1.8v-1h1.8v-1h1.8v-1h1.8v-1.5h1.8v-2h1.8v-1.5h1.8v-2.5h1.8v-2.5h1.8v-2.5h1.8v-4h1.8v-5h1.8v-5h1.8v-3.5h1.8v-4.5h1.8v-4h1.8v-4.5h1.8v-3.5h1.8v-1.5h1.8v-2h1.8v-1.5h1.8v-0.5h1.8v-1.5h1.8v-2h1.8v-1.5h1.8v-1h1.8v-3h1.8v-6h1.8v-5h1.8v-4h1.8v-4h3.6v-1.5h1.8v-3.5h1.8v-1h1.8v1h1.8v-1h1.8v-2h1.8v-0.5h1.8v1h3.6v-0.5h1.8v-0.5h1.8v-0.5h3.6v-3h3.6v-0.5h1.8v-0.5h1.8v2h1.8v-0.5h1.8v-1h1.8v-0.5h1.8v0.5h1.8v-0.5h1.8v-2h1.8v-0.5h3.6v-0.5h1.8v1h7.2v-0.5h3.6v-2.5h3.6v1h1.8v0.5h1.8v-1h3.6v0.5h3.6v1h3.6v2.5h3.6v-1.5h3.6v-0.5h3.6v1.5h1.8v0.5h5.4v2h3.6v-2.5h1.8v0.5h1.8v0.5h3.6v-0.5h1.8v0.5h1.8v1h5.4v2.5h1.8v5.5h1.8v2.5h3.6v3h1.8v5h1.8v2h3.6v2h1.8v2h1.8v2.5h1.8v3.5h1.8v2h1.8v1.5h1.8v2h1.8v2.5h1.8v1.5h3.6v1.5h1.8v2.5h1.8v2h1.8v0.5h1.8v1.5h1.8v3.5h1.8v1.5h1.8v1h1.8v1.5h1.8v0.5h1.8v1h1.8v1h1.8v1h1.8v1h1.8v1h1.8v-0.5h1.8v1h1.8v1.5h1.8v1h1.8v1h1.8v1h1.8v0.5h1.8v1h1.8v0.5h1.8v0.5h1.8v0.5h1.8v0.5h1.8v1h1.8v0.5h1.8v-0.5h1.8v0.5h1.8v0.5h1.8v0.5h1.8v1h1.8v0.5h3.6v0.5h3.6v0.5h1.8v0.5h1.8v0.5h1.8v0.5h1.8v0.5h1.8v0.5h5.4v0.5h1.8v1h5.4v0.5h5.4v0.5h1.8v0.5h7.2v0.5h1.8v0.5h5.4v0.5h1.8v0.5h3.6v0.5h7.2v0.5h1.8v0.5h3.6v0.5h1.8v-0.5h5.4v0.5h5.4v0.5h3.6v0.5h3.6v-0.5h3.6v1h10.8v0.5h10.8v0.5h5.4v0.5h3.6v0.5h1.8v-0.5h3.6v0.5h1.8v15.5z" fill="#2aabcf" />
<path d="M1130.7 1643.8v-5h25.2v-0.5h7.2v0.5h1.8v-0.5h28.8v-0.5h1.8v0.5h1.8v-0.5h1.8v0.5h3.6v-0.5h36v-0.5h3.6v0.5h3.6v-0.5h36v-0.5h3.6v0.5h1.8v-0.5h45v0.5h3.6v-0.5h3.6v0.5h21.6v0.5h21.6v0.5h21.6v0.5h3.6v-0.5h3.6v0.5h16.2v0.5h1.8v-0.5h1.8v0.5h14.4v0.5h12.6v0.5h14.4v0.5h16.2v0.5h14.4v0.5h1.8v-0.5h1.8v0.5h28.8v0.5h1.8v-0.5h1.8v0.5h28.8v0.5h133.2v-0.5h10.8v-0.5h3.6v-0.5h3.6v-0.5h1.8v-0.5h3.6v-0.5h1.8v-0.5h3.6v-0.5h1.8v-0.5h1.8v-0.5h1.8v-0.5h1.8v-0.5h1.8v-0.5h3.6v-0.5h1.8v-0.5h1.8v-0.5h1.8v-1h1.8v-0.5h1.8v-0.5h1.8v-1h1.8v-0.5h1.8v-0.5h1.8v-1h1.8v-1h1.8v-0.5h1.8v-1h1.8v-0.5h1.8v-5.5h1.8v-6h1.8v-6.5h1.8v-3.5h1.8v-3.5h1.8v-2.5h1.8v-1h1.8v-1.5h1.8v-2.5h3.6v-0.5h3.6v0.5h1.8v-0.5h1.8v-1.5h7.2v0.5h1.8v-0.5h1.8v-1h3.6v-1h3.6v0.5h1.8v-0.5h1.8v-2.5h1.8v-0.5h1.8v-0.5h1.8v-0.5h1.8v-0.5h1.8v-0.5h3.6v-0.5h1.8v-1.5h1.8v0.5h1.8v1h1.8v0.5h1.8v-1h3.6v1.5h1.8v0.5h1.8v-0.5h3.6v1.5h5.4v0.5h5.4v0.5h1.8v0.5h5.4v-0.5h3.6v1.5h1.8v0.5h1.8v-1.5h1.8v0.5h1.8v1h3.6v-0.5h3.6v1.5h7.2v4.5h1.8v3.5h1.8v3.5h1.8v4h1.8v3h1.8v3.5h1.8v1.5h1.8v0.5h1.8v1h1.8v1h1.8v0.5h1.8v0.5h1.8v1h1.8v0.5h3.6v0.5h5.4v0.5h3.6v1h3.6v0.5h5.4v0.5h1.8v0.5h5.4v0.5h3.6v0.5h1.8v-0.5h3.6v1h7.2v0.5h1.8v0.5h3.6v0.5h5.4v0.5h3.6v0.5h1.8v0.5h3.6v0.5h5.4v0.5h3.6v0.5h3.6v0.5h7.2v0.5h3.6v0.5h1.8v0.5h1.8v-0.5h1.8v0.5h5.4v0.5h9v0.5h10.8v0.5h16.2v0.5h7.2v0.5h3.6v-0.5h3.6v0.5h5.4v0.5h9v0.5h3.6v-0.5h1.8v0.5h9v0.5h9v0.5h5.4v0.5h9v0.5h3.6v7z" fill="#253f59" />
<path d="M1130.5 1791.8h25v-1.5h5v1.5h17.5v-3.5h2.5v-3.5h2.5v4h2.5v3h5v-2h5v-0.5h2.5v0.5h2.5v-0.5h5v2.5h20v-2h2.5v-0.5h2.5v2.5h22.5v-0.5h2.5v-2h5v-11.5h2.5v12.5h2.5v1.5h5v-17h2.5v17h2.5v-2.5h2.5v-0.5h2.5v0.5h2.5v-9h2.5v9h2.5v2.5h2.5v-0.5h2.5v-1h2.5v1h5v0.5h40v-2.5h5v2.5h75v-2h5v2h45v-1.5h2.5v-0.5h2.5v2h17.5v-6.5h2.5v-10.5h2.5v10h2.5v6.5h2.5v0.5h2.5v-0.5h2.5v0.5h2.5v-0.5h2.5v0.5h2.5v-2.5h5v-9h2.5v8.5h2.5v3h10v-2.5h5v2.5h2.5v-1.5h2.5v1.5h20v-3h2.5v0.5h2.5v2.5h25v-2.5h2.5v1h5v-0.5h2.5v2h55v-1.5h2.5v-1.5h2.5v1h2.5v-0.5h2.5v0.5h5v0.5h2.5v-0.5h2.5v2h10v-2.5h2.5v0.5h2.5v2h25v-1.5h2.5v-1.5h5v1h5v-0.5h2.5v1h2.5v1.5h2.5v-2h7.5v-11h2.5v-14.5h2.5v16h2.5v10.5h2.5v1h2.5v-2.5h2.5v-15.5h2.5v-17h2.5v8.5h2.5v20h2.5v-12h2.5v-17h2.5v14.5h2.5v-67.5h2.5v61h2.5v2.5h2.5v16.5h2.5v4h2.5v2h2.5v0.5h5v1h5v-0.5h2.5v-2h2.5v-6.5h2.5v-12h2.5v10h2.5v6.5h2.5v-27.5h2.5v32h2.5v-3h2.5v2h2.5v-1h2.5v1h2.5v-4.5h2.5v-7.5h2.5v13.5h2.5v0.5h5v-1h2.5v-1.5h5v0.5h2.5v-0.5h2.5v1h7.5v-0.5h2.5v-0.5h2.5v-0.5h2.5v3h5v-4.5h2.5v4.5h2.5v-3.5h2.5v1.5h2.5v-1h2.5v0.5h2.5v2h2.5v-23.5h2.5v19.5h2.5v2h2.5v2.5h5v-1.5h2.5v-3h2.5v2.5h2.5v1h2.5v-2h2.5v-6h2.5v5h2.5v1h2.5v-0.5h2.5v3.5h5v-3h2.5v-0.5h2.5v-2h2.5v-4.5h2.5v4.5h2.5v2h2.5v1h5v2.5h2.5v-2h2.5v2h2.5v-3h2.5v-0.5h2.5v-17h2.5v7.5h2.5v7.5h2.5v5.5h2.5v-0.5h7.5v-2.5h2.5v3h2.5v-2h2.5v2h2.5v-0.5h5v-16.5h2.5v16h2.5v1h7.5v-1.5h2.5v1.5h5v-0.5h2.5v-2h2.5v-0.5h2.5v2.5h2.5v0.5h2.5v-1h2.5v1h5v-0.5h7.5v-6h2.5v4.5h2.5v-0.5h10v1.5h2.5v1h2.5v-2h7.5v-0.5h2.5v2.5h5v-1.5h2.5v1.5h2.5v-2h5v-0.5h5v2.5h5v-2h2.5v-0.5h2.5v2.5h2.5v-1h2.5v1h2.5z" fill="#d6454f" />
<path d="M1130.5 1791.8h2.5v-0.5h2.5v0.5h2.5v-2.5h2.5v2.5h2.5v-5h2.5v-14.5h2.5v10.5h2.5v5.5h2.5v1.5h2.5v0.5h2.5v-1h2.5v1h2.5v-1h2.5v2.5h2.5v-1.5h2.5v1.5h5v-0.5h2.5v-3h2.5v-3.5h2.5v4h2.5v-11h2.5v14h2.5v-2h5v-1h2.5v1h2.5v-0.5h2.5v-11.5h2.5v14h10v-3h2.5v3h2.5v-3h2.5v3h2.5v-2h2.5v-0.5h2.5v1.5h2.5v1h2.5v-2h2.5v-0.5h2.5v2.5h7.5v-1h2.5v1h2.5v-1.5h2.5v-1h2.5v-36.5h2.5v-31h2.5v41.5h2.5v28.5h5v-3h2.5v3h2.5v-2.5h2.5v-0.5h2.5v3h2.5v-2.5h2.5v2.5h7.5v-1.5h2.5v1.5h2.5v-2h2.5v2h2.5v-0.5h2.5v0.5h2.5v-0.5h5v0.5h10v-1.5h2.5v-0.5h2.5v-0.5h2.5v2.5h5v-1h2.5v1h2.5v-2.5h5v1.5h2.5v1h22.5v-1.5h2.5v-1h2.5v2.5h5v-2.5h5v0.5h2.5v1.5h2.5v-9.5h2.5v10h2.5v-2h2.5v-0.5h2.5v0.5h2.5v2h7.5v-1h2.5v1h2.5v-2.5h5v-0.5h2.5v0.5h2.5v2.5h2.5v-1.5h2.5v1h2.5v-1.5h2.5v-0.5h2.5v2.5h5v-2h5v2h5v-4.5h2.5v-3.5h2.5v4h2.5v4h5v-1h2.5v0.5h2.5v-2h5v1h2.5v1.5h5v-2h2.5v2h5v-0.5h2.5v-6h2.5v-25h2.5v24.5h2.5v2h2.5v-4h2.5v4.5h2.5v4.5h7.5v-3.5h2.5v1h2.5v1h2.5v1.5h5v-2h2.5v2h2.5v-1h2.5v0.5h2.5v0.5h5v-0.5h5v-0.5h2.5v-0.5h2.5v1.5h5v-0.5h5v-0.5h2.5v-2h2.5v0.5h2.5v2.5h2.5v-0.5h2.5v0.5h2.5v-1h2.5v0.5h5v-1h5v1.5h5v-2.5h2.5v1h5v-0.5h2.5v2h15v-2h2.5v-0.5h2.5v2.5h12.5v-0.5h5v0.5h17.5v-1.5h2.5v-1.5h2.5v1h2.5v-0.5h2.5v0.5h5v0.5h2.5v-0.5h2.5v2h10v-2.5h5v1h5v-1h2.5v2.5h2.5v-2h5v1h2.5v-0.5h2.5v-2h2.5v-18.5h2.5v19h2.5v-10.5h2.5v-26.5h2.5v25h2.5v5h2.5v-9.5h2.5v7.5h2.5v9h2.5v-38.5h2.5v-47h2.5v33.5h2.5v40.5h2.5v-75h2.5v-27h2.5v37.5h2.5v79h2.5v-2.5h2.5v-15.5h2.5v-17h2.5v-11h2.5v18.5h2.5v9h2.5v-17h2.5v16.5h2.5v-43h2.5v50.5h2.5v-13.5h2.5v16.5h2.5v5.5h2.5v0.5h2.5v2h2.5v-0.5h2.5v-0.5h2.5v-1.5h2.5v1h2.5v-9h2.5v-16.5h2.5v5.5h2.5v10h2.5v7.5h2.5v1.5h2.5v-0.5h5v-1h2.5v3h2.5v-0.5h2.5v2h7.5v-2h2.5v-1h2.5v1.5h2.5v-0.5h2.5v-0.5h2.5v-1h2.5v1h2.5v-1h2.5v1.5h2.5v-2.5h2.5v2.5h2.5v1.5h2.5v-2.5h2.5v2.5h10v0.5h2.5v-3h5v-9h2.5v9h2.5v1.5h2.5v-2h2.5v0.5h2.5v3h2.5v-0.5h2.5v-1h10v-12.5h2.5v5h2.5v-9.5h2.5v15.5h2.5v1h2.5v-3h2.5v-15.5h2.5v18.5h2.5v-1.5h2.5v-2h2.5v-4.5h2.5v4.5h2.5v2h2.5v-3.5h2.5v-12.5h2.5v12h2.5v6h2.5v1h2.5v-3.5h2.5v3h2.5v-7h2.5v-5h2.5v7.5h2.5v-2.5h2.5v3.5h2.5v4.5h2.5v-1h2.5v-1h2.5v0.5h2.5v-1.5h2.5v1h2.5v-0.5h2.5v-12h2.5v-17.5h2.5v21h2.5v10h2.5v-1h5v2h5v-2h2.5v-0.5h5v-0.5h2.5v2.5h2.5v0.5h5v-1h2.5v0.5h2.5v0.5h7.5v-2h5v-0.5h10v1.5h2.5v-1h10v0.5h2.5v1h2.5v0.5h2.5v-2h2.5v0.5h2.5v-0.5h5v2h2.5v-1h2.5v1h5v-1h2.5v1h2.5v-0.5h5v0.5h2.5z" fill="#2aabcf" />
<path d="M1130.5 1791.8h25v-1.5h5v1.5h17.5v-3.5h2.5v-3.5h2.5v4h2.5v3h5v-2h5v-0.5h2.5v0.5h2.5v-0.5h5v2.5h20v-2h2.5v-0.5h2.5v2.5h22.5v-0.5h2.5v-2h5v-11.5h2.5v12.5h2.5v1.5h5v-3h2.5v3h2.5v-2.5h2.5v-0.5h2.5v3h2.5v-2.5h2.5v2.5h7.5v-1.5h2.5v1.5h2.5v-0.5h2.5v0.5h40v-2.5h5v2.5h75v-2h5v2h45v-1.5h2.5v-0.5h2.5v2h17.5v-6.5h2.5v-10.5h2.5v10h2.5v6.5h2.5v0.5h2.5v-0.5h2.5v0.5h7.5v-2.5h5v1h2.5v1.5h12.5v-0.5h2.5v0.5h5v-0.5h2.5v0.5h20v-3h2.5v0.5h2.5v2.5h25v-2.5h2.5v1h5v-0.5h2.5v2h55v-1.5h2.5v-1.5h2.5v1h2.5v-0.5h2.5v0.5h5v0.5h2.5v-0.5h2.5v2h10v-2.5h2.5v0.5h2.5v2h25v-1.5h2.5v-1.5h5v1h5v-0.5h2.5v1h2.5v1.5h2.5v-2h7.5v-11h2.5v-14.5h2.5v16h2.5v10.5h2.5v1h2.5v-2.5h2.5v-15.5h2.5v-17h2.5v8.5h2.5v20h2.5v-12h2.5v-17h2.5v16.5h2.5v-43h2.5v50.5h2.5v-13.5h2.5v16.5h2.5v5.5h2.5v0.5h2.5v2h2.5v-0.5h7.5v-0.5h2.5v-2h2.5v-6.5h2.5v-12h2.5v10h2.5v7.5h2.5v1.5h2.5v2h2.5v-2.5h2.5v1.5h2.5v0.5h2.5v-0.5h2.5v2h12.5v-1h2.5v-1h2.5v-0.5h2.5v0.5h2.5v-0.5h2.5v1h7.5v-0.5h2.5v1.5h2.5v-2.5h2.5v3h5v-0.5h2.5v0.5h5v-2h2.5v-1h2.5v0.5h2.5v2h2.5v-1h2.5v-2h2.5v1h2.5v2.5h5v-1.5h7.5v0.5h2.5v-2h2.5v-6h2.5v5h2.5v1h2.5v1h2.5v2h5v-2h2.5v-1.5h2.5v-2h2.5v-4.5h2.5v4.5h2.5v2h2.5v1h5v2.5h2.5v-1.5h2.5v1.5h2.5v-3h2.5v2h2.5v-7h2.5v-5h2.5v7.5h2.5v5.5h2.5v-0.5h2.5v0.5h2.5v-0.5h2.5v-1.5h2.5v2h2.5v-2h2.5v2h2.5v-0.5h5v-16.5h2.5v16h2.5v1h15v-0.5h2.5v-2h2.5v-0.5h2.5v2.5h2.5v0.5h17.5v-2h5v-0.5h10v1.5h2.5v1h2.5v-2h7.5v0.5h2.5v1.5h5v-1.5h2.5v1.5h2.5v-2h5v2h2.5v-1h2.5v1h5v-1h2.5v1h5v-0.5h2.5v0.5h2.5z" fill="#253f59" />
<path d="M1130.5 1807.2h10v1.5h5v0.5h2.5v-0.5h2.5v-1.5h2.5v1h2.5v1h5v-1.5h5v-0.5h10v1h2.5v-1h2.5v1.5h5v-0.5h5v-0.5h5v-0.5h7.5v1.5h2.5v0.5h7.5v-0.5h2.5v-1.5h5v1h2.5v1h2.5v-1h2.5v2.5h2.5v1.5h2.5v-2.5h2.5v-2.5h10v1h2.5v4h2.5v-4h2.5v-1h2.5v1.5h2.5v-1.5h5v2h5v-0.5h2.5v-1.5h5v0.5h2.5v-0.5h2.5v1h2.5v-1h5v1h2.5v-1h10v1.5h5v-1.5h5v1.5h2.5v1h2.5v-2.5h7.5v0.5h2.5v-0.5h5v1.5h2.5v0.5h2.5v-2h10v0.5h2.5v0.5h2.5v-1h2.5v0.5h2.5v-0.5h5v0.5h2.5v0.5h2.5v-0.5h2.5v-0.5h2.5v1.5h5v0.5h2.5v-0.5h7.5v-1.5h15v1.5h2.5v0.5h2.5v-2h5v1h2.5v-1h2.5v0.5h5v0.5h2.5v-1h2.5v1h2.5v-0.5h2.5v1.5h2.5v-0.5h5v0.5h7.5v-1.5h2.5v-0.5h2.5v1.5h5v-1.5h15v1.5h10v-1.5h2.5v1.5h2.5v1.5h2.5v5h2.5v-5h2.5v-0.5h2.5v-2.5h12.5v0.5h2.5v0.5h2.5v-1h5v0.5h2.5v0.5h2.5v-1h2.5v1.5h2.5v-1.5h5v0.5h2.5v-0.5h7.5v1h2.5v0.5h5v-1.5h5v1.5h2.5v-1.5h2.5v1.5h5v-1h2.5v0.5h2.5v-1h5v2h2.5v0.5h2.5v-0.5h2.5v-0.5h2.5v-1.5h10v2h2.5v-0.5h2.5v-1.5h2.5v1h2.5v-1h5v2h5v-1h2.5v-0.5h2.5v-0.5h7.5v0.5h2.5v0.5h2.5v-1h2.5v1.5h5v-1.5h5v1.5h2.5v0.5h2.5v-1.5h2.5v-0.5h7.5v0.5h2.5v-0.5h7.5v0.5h5v1h5v-1.5h2.5v0.5h2.5v1.5h5v-0.5h2.5v0.5h7.5v-0.5h5v-1h2.5v-0.5h5v1h2.5v1h2.5v0.5h2.5v-2.5h17.5v1h2.5v-1h2.5v1h2.5v-1h7.5v0.5h2.5v-0.5h7.5v1.5h2.5v-1.5h2.5v1.5h2.5v-1.5h5v1h2.5v-1h2.5v1h2.5v-1h10v1.5h5v0.5h2.5v-0.5h5v-1.5h2.5v0.5h2.5v-0.5h2.5v0.5h2.5v1.5h5v-2h15v3.5h2.5v4.5h2.5v1.5h2.5v4.5h2.5v-5h2.5v-9h7.5v0.5h2.5v-0.5h5v1h2.5v-1h2.5v2.5h5v-0.5h2.5v6.5h2.5v-4h2.5v-3.5h2.5v2h2.5v7h2.5v16.5h2.5v84.5h2.5v-94h2.5v-3.5h2.5v15h2.5v-18.5h2.5v-4.5h2.5v-0.5h2.5v-2.5h2.5v-2.5h2.5v1h7.5v-1h2.5v3h2.5v4.5h2.5v12.5h2.5v-13h2.5v-3h2.5v-1.5h2.5v2h2.5v3h2.5v10.5h2.5v-13h2.5v-0.5h2.5v0.5h2.5v-1.5h2.5v11.5h2.5v-9.5h2.5v-3h2.5v-2h2.5v-0.5h5v1h2.5v-1h7.5v2h5v-2h5v1h2.5v-0.5h2.5v1h2.5v-1h7.5v-0.5h2.5v1.5h2.5v-1.5h2.5v1h2.5v-1h2.5v1h2.5v-1h2.5v0.5h2.5v1h2.5v-0.5h2.5v0.5h5v-1.5h5v1.5h2.5v-1.5h2.5v1.5h2.5v-1.5h5v1h2.5v0.5h2.5v0.5h2.5v-2h2.5v1.5h5v0.5h2.5v-0.5h5v-1h2.5v-0.5h2.5v1.5h2.5v0.5h7.5v-2h10v1.5h2.5v-0.5h2.5v-1h10v2h2.5v-2z" fill="#d6454f" />
<path d="M1130.5 1807.2h2.5v2.5h2.5v-2.5h2.5v0.5h2.5v2h2.5v-1h2.5v0.5h5v-1.5h2.5v-0.5h2.5v3h2.5v-1h2.5v-2h2.5v3h2.5v5.5h2.5v-5.5h2.5v-1h2.5v-2h7.5v1.5h5v-1.5h2.5v0.5h2.5v0.5h2.5v1.5h2.5v-2.5h2.5v1.5h2.5v-0.5h2.5v-1h5v1h2.5v-1h2.5v1.5h2.5v1h5v-2h5v1.5h2.5v-0.5h2.5v-0.5h2.5v-1h5v3h2.5v1.5h2.5v7h2.5v-9h2.5v0.5h2.5v-3h5v0.5h2.5v-0.5h2.5v2h5v0.5h2.5v-2.5h5v1h2.5v2h2.5v-3h7.5v2h2.5v-0.5h2.5v-1h2.5v-0.5h5v1h2.5v-1h2.5v1h2.5v-1h2.5v0.5h2.5v1h2.5v1h2.5v-2.5h2.5v3h2.5v-3h2.5v3h2.5v-3h2.5v2h7.5v-2h5v0.5h2.5v-0.5h2.5v1.5h2.5v-0.5h2.5v-1h5v2h2.5v0.5h2.5v-2.5h5v2h2.5v-1.5h2.5v0.5h2.5v-1h2.5v2h2.5v0.5h2.5v-1h5v-1.5h2.5v0.5h2.5v-0.5h5v1.5h7.5v1.5h2.5v-3h2.5v1.5h2.5v-1.5h2.5v4.5h2.5v-3h2.5v-1h2.5v3h2.5v2.5h2.5v13h2.5v-12.5h2.5v2.5h2.5v1h2.5v12.5h2.5v-17.5h2.5v-5h2.5v4h2.5v-2h2.5v-2h2.5v1.5h2.5v-1.5h10v0.5h2.5v-0.5h5v1.5h10v-1.5h2.5v10.5h2.5v10h2.5v-12.5h2.5v0.5h2.5v5.5h2.5v-5.5h2.5v-8.5h2.5v2h2.5v-2h2.5v0.5h2.5v-0.5h7.5v1h5v-1h10v1.5h2.5v-1.5h2.5v1.5h2.5v-1.5h2.5v1.5h5v-1h2.5v-0.5h2.5v0.5h2.5v-0.5h2.5v0.5h5v1h5v-1.5h2.5v0.5h2.5v-0.5h2.5v1.5h2.5v0.5h2.5v0.5h2.5v-2.5h10v0.5h2.5v-0.5h2.5v1h2.5v-1h2.5v1h2.5v-1h2.5v1h2.5v-1h2.5v2h5v-0.5h2.5v-1.5h17.5v1.5h12.5v0.5h2.5v-2h5v2h2.5v-0.5h2.5v-0.5h2.5v-1h2.5v1h2.5v0.5h2.5v-1.5h2.5v1.5h7.5v-1.5h5v2h5v-0.5h2.5v0.5h7.5v-0.5h5v-1.5h5v0.5h5v1.5h2.5v0.5h2.5v-1.5h5v0.5h2.5v-1.5h7.5v1.5h2.5v-1.5h7.5v1h2.5v-0.5h5v-0.5h5v1h2.5v-0.5h2.5v1.5h2.5v-2h5v2h2.5v-0.5h2.5v-1.5h5v0.5h2.5v-0.5h2.5v0.5h2.5v-0.5h5v0.5h2.5v-0.5h5v1.5h5v-1h2.5v1h2.5v-1.5h5v2h5v-2h7.5v1.5h2.5v-1.5h7.5v0.5h2.5v-0.5h7.5v0.5h2.5v1h2.5v-1.5h2.5v1.5h2.5v0.5h5v-1h2.5v1h2.5v-1.5h2.5v-0.5h2.5v1h7.5v1.5h2.5v-2h2.5v1.5h5v0.5h2.5v1.5h2.5v4.5h2.5v20h2.5v-18.5h2.5v7.5h2.5v37.5h2.5v-25h2.5v10h2.5v20.5h2.5v45h2.5v-45h2.5v-54.5h2.5v20h2.5v-14.5h2.5v8.5h2.5v-11h2.5v2h2.5v36.5h2.5v-31.5h2.5v-5.5h2.5v7.5h2.5v-1h2.5v25h2.5v-25h2.5v-2.5h2.5v15.5h2.5v-19h2.5v-6h5v13h2.5v5h2.5v33.5h2.5v-35h2.5v-18.5h2.5v-0.5h2.5v-0.5h2.5v2h2.5v-3.5h2.5v7.5h2.5v6h2.5v-8.5h2.5v-3h7.5v1h2.5v-3.5h5v1.5h2.5v1.5h2.5v-1.5h2.5v-1h2.5v4.5h2.5v10.5h2.5v-9h2.5v-5h2.5v-0.5h2.5v-1h2.5v0.5h2.5v-0.5h7.5v2.5h2.5v-2.5h7.5v1.5h2.5v0.5h2.5v-2h2.5v1.5h5v0.5h2.5v-0.5h5v0.5h2.5v-0.5h5v0.5h2.5v-1h2.5v1h2.5v-1h5v-0.5h5v1.5h2.5v-2h5v0.5h2.5v1.5h2.5v-2h2.5v2h2.5v-2z" fill="#2aabcf" />
<path d="M1130.5 1807.2h10v1.5h5v0.5h2.5v-0.5h2.5v-1.5h5v2h5v-2h2.5v0.5h2.5v-0.5h15v1.5h5v-1.5h2.5v0.5h7.5v-0.5h12.5v1h2.5v-1h2.5v1.5h2.5v-1.5h5v0.5h5v0.5h2.5v0.5h2.5v-0.5h2.5v-1h12.5v1h2.5v2h2.5v-3h5v0.5h2.5v-0.5h5v2h5v-2h7.5v0.5h2.5v-0.5h10v1h2.5v-1h12.5v1h2.5v-1h5v1.5h2.5v1h2.5v-2.5h7.5v0.5h2.5v-0.5h5v1.5h2.5v0.5h2.5v-2h10v0.5h2.5v0.5h2.5v-1h15v0.5h2.5v-0.5h2.5v1h2.5v-1h2.5v2h2.5v-0.5h7.5v-1.5h15v1.5h2.5v0.5h2.5v-2h10v0.5h5v0.5h2.5v-1h2.5v1h2.5v-0.5h2.5v1.5h2.5v-0.5h5v0.5h2.5v-2h2.5v2h2.5v-1.5h2.5v-0.5h2.5v1.5h2.5v-1.5h17.5v1.5h10v-1.5h2.5v1.5h2.5v1.5h2.5v5h2.5v-5h2.5v-0.5h2.5v-2.5h22.5v0.5h2.5v-0.5h22.5v1h2.5v-0.5h2.5v-0.5h7.5v0.5h2.5v-0.5h2.5v1.5h5v-1.5h2.5v0.5h2.5v-0.5h5v2h2.5v0.5h2.5v-2.5h15v1h2.5v-1h12.5v2h5v-1h2.5v-1h17.5v1.5h5v-1.5h5v1.5h2.5v0.5h2.5v-2h10v0.5h2.5v-0.5h10v0.5h2.5v1h5v-1.5h5v2h5v-0.5h2.5v0.5h7.5v-0.5h5v-1.5h7.5v0.5h2.5v1.5h2.5v0.5h2.5v-2.5h42.5v1.5h2.5v-1.5h15v0.5h2.5v-0.5h10v0.5h2.5v-0.5h5v1.5h5v-1.5h2.5v0.5h2.5v-0.5h5v2h5v-2h17.5v0.5h2.5v-0.5h15v0.5h2.5v-0.5h5v1h2.5v-1h2.5v0.5h2.5v-0.5h2.5v1h10v-0.5h2.5v1.5h5v0.5h2.5v1.5h2.5v4.5h2.5v20h2.5v-18.5h2.5v-4.5h2.5v-0.5h2.5v-2.5h2.5v-2.5h2.5v1h7.5v-1h2.5v3h2.5v4.5h2.5v12.5h2.5v-13h2.5v-3h2.5v-1.5h2.5v2h2.5v3h2.5v10.5h2.5v-13h2.5v-0.5h2.5v0.5h2.5v-1.5h2.5v11.5h2.5v-9.5h2.5v-3h2.5v-2h2.5v-0.5h5v1h2.5v-1h7.5v2h5v-2h5v1h2.5v-0.5h2.5v1h2.5v-1h7.5v-0.5h7.5v1h2.5v-1h2.5v0.5h2.5v-0.5h2.5v0.5h2.5v1h2.5v-0.5h5v-1h12.5v1.5h2.5v-1.5h7.5v1.5h2.5v0.5h2.5v-2h2.5v1.5h5v0.5h2.5v-0.5h5v-1h2.5v-0.5h2.5v1.5h2.5v0.5h2.5v-1h2.5v1h2.5v-2h10v1.5h2.5v-1.5h12.5v2h2.5v-2z" fill="#253f59" />
</svg>
</body></html>
